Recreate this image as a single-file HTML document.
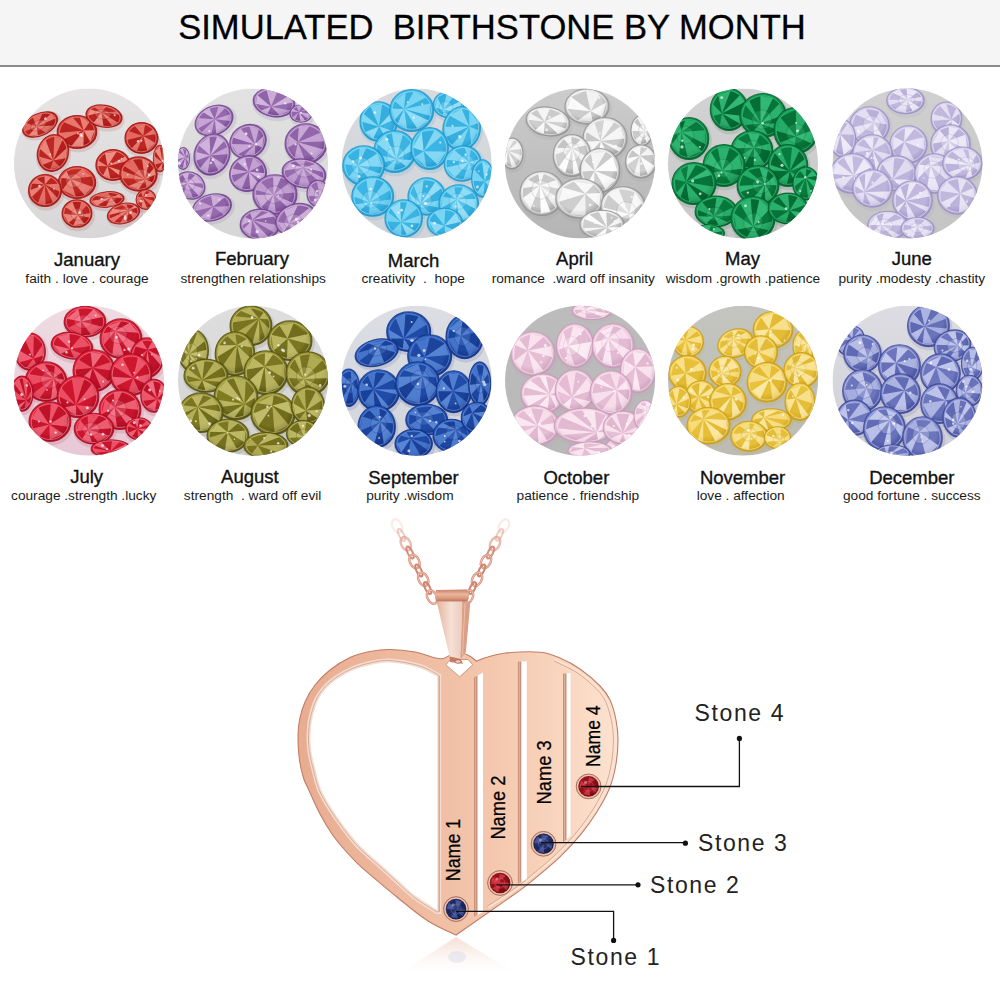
<!DOCTYPE html>
<html><head><meta charset="utf-8"><style>
html,body{margin:0;padding:0;background:#fff;width:1000px;height:1000px;overflow:hidden}
svg{display:block}
text{font-family:"Liberation Sans",sans-serif}
.m{font-size:18.5px;fill:#111;text-anchor:middle;stroke:#111;stroke-width:0.35px}
.s{font-size:13.7px;fill:#1a1a1a;text-anchor:middle}
.t{font-size:34.6px;fill:#000;text-anchor:middle;stroke:#000;stroke-width:0.3px}
.st{font-size:23px;fill:#222;letter-spacing:1.6px}
</style></head><body>
<svg width="1000" height="1000" viewBox="0 0 1000 1000">
<rect x="0" y="0" width="1000" height="65" fill="#f5f5f5"/>
<rect x="0" y="65" width="1000" height="2" fill="#8a8a8a"/>
<text x="492" y="38.5" class="t" xml:space="preserve">SIMULATED  BIRTHSTONE BY MONTH</text>
<g transform="translate(14 88.5)"><defs><clipPath id="c_jan"><circle cx="75" cy="75" r="75"/></clipPath><linearGradient id="bg_jan" x1="0" y1="0" x2="0" y2="1"><stop offset="0" stop-color="#e6e4e4"/><stop offset="1" stop-color="#d8d6d6"/></linearGradient><radialGradient id="g_jan" cx="0.45" cy="0.4" r="0.65"><stop offset="0" stop-color="#d63a32"/><stop offset="0.6" stop-color="#d63a32"/><stop offset="1" stop-color="#9c1010"/></radialGradient></defs><g clip-path="url(#c_jan)"><rect width="150" height="150" fill="url(#bg_jan)"/><g transform="translate(26 36) rotate(-25)"><ellipse cx="1" cy="2" rx="20.7" ry="13.0" fill="#9c1010" opacity="0.12"/><ellipse rx="18.7" ry="11.0" fill="url(#g_jan)" stroke="#9c1010" stroke-width="1.1" stroke-opacity="0.8"/><path d="M-3.9 0.4L14.5 -5.1L16.7 1.2Z" fill="#f6b4aa" fill-opacity="0.52"/><path d="M-3.9 0.4L16.7 1.2L12.2 6.8Z" fill="#9c1010" fill-opacity="0.61"/><path d="M-3.9 0.4L12.2 6.8L1.5 9.9Z" fill="#f6b4aa" fill-opacity="0.46"/><path d="M-3.9 0.4L1.5 9.9L-6.6 9.1Z" fill="#9c1010" fill-opacity="0.40"/><path d="M-3.9 0.4L-6.6 9.1L-14.7 4.9Z" fill="#f6b4aa" fill-opacity="0.69"/><path d="M-3.9 0.4L-14.7 4.9L-16.8 -0.1Z" fill="#9c1010" fill-opacity="0.47"/><path d="M-3.9 0.4L-16.8 -0.1L-11.8 -7.1Z" fill="#f6b4aa" fill-opacity="0.39"/><path d="M-3.9 0.4L-11.8 -7.1L-3.4 -9.7Z" fill="#9c1010" fill-opacity="0.58"/><path d="M-3.9 0.4L-3.4 -9.7L7.0 -9.0Z" fill="#f6b4aa" fill-opacity="0.44"/><path d="M-3.9 0.4L7.0 -9.0L14.5 -5.1Z" fill="#9c1010" fill-opacity="0.64"/><path d="M5.3 -2.3L6.2 1.5L2.3 4.5L-4.1 5.0L-9.2 2.7L-10.1 -1.1L-6.2 -4.1L0.2 -4.6Z" fill="#f6b4aa" fill-opacity="0.28" stroke="#9c1010" stroke-opacity="0.3" stroke-width="0.8"/><ellipse rx="16.8" ry="9.9" fill="none" stroke="#f6b4aa" stroke-width="1" stroke-opacity="0.5"/><circle cx="7.3" cy="-3.0" r="1.3" fill="#fff" opacity="0.7"/></g><g transform="translate(63 43.5) rotate(0)"><ellipse cx="1" cy="2" rx="21.8" ry="18.5" fill="#9c1010" opacity="0.12"/><ellipse rx="19.8" ry="16.5" fill="url(#g_jan)" stroke="#9c1010" stroke-width="1.1" stroke-opacity="0.8"/><path d="M6.7 -1.5L-15.0 8.0L-17.8 0.7Z" fill="#f6b4aa" fill-opacity="0.48"/><path d="M6.7 -1.5L-17.8 0.7L-13.3 -9.9Z" fill="#9c1010" fill-opacity="0.50"/><path d="M6.7 -1.5L-13.3 -9.9L-4.1 -14.5Z" fill="#f6b4aa" fill-opacity="0.51"/><path d="M6.7 -1.5L-4.1 -14.5L2.9 -14.7Z" fill="#9c1010" fill-opacity="0.46"/><path d="M6.7 -1.5L2.9 -14.7L12.8 -10.3Z" fill="#f6b4aa" fill-opacity="0.58"/><path d="M6.7 -1.5L12.8 -10.3L17.7 -1.7Z" fill="#9c1010" fill-opacity="0.53"/><path d="M6.7 -1.5L17.7 -1.7L13.2 10.0Z" fill="#f6b4aa" fill-opacity="0.68"/><path d="M6.7 -1.5L13.2 10.0L6.4 13.9Z" fill="#9c1010" fill-opacity="0.55"/><path d="M6.7 -1.5L6.4 13.9L-5.6 14.1Z" fill="#f6b4aa" fill-opacity="0.69"/><path d="M6.7 -1.5L-5.6 14.1L-15.0 8.0Z" fill="#9c1010" fill-opacity="0.61"/><ellipse rx="17.8" ry="14.8" fill="none" stroke="#f6b4aa" stroke-width="1" stroke-opacity="0.5"/><circle cx="4.6" cy="3.9" r="1.1" fill="#fff" opacity="0.7"/><circle cx="1.0" cy="1.4" r="0.9" fill="#fff" opacity="0.7"/><circle cx="3.7" cy="2.6" r="1.6" fill="#fff" opacity="0.7"/></g><g transform="translate(90 27.7) rotate(10)"><ellipse cx="1" cy="2" rx="20.2" ry="13.0" fill="#9c1010" opacity="0.12"/><ellipse rx="18.2" ry="11.0" fill="url(#g_jan)" stroke="#9c1010" stroke-width="1.1" stroke-opacity="0.8"/><path d="M-3.4 -3.3L11.7 -6.9L15.0 -4.0Z" fill="#f6b4aa" fill-opacity="0.40"/><path d="M-3.4 -3.3L15.0 -4.0L14.9 4.1Z" fill="#9c1010" fill-opacity="0.57"/><path d="M-3.4 -3.3L14.9 4.1L9.6 8.0Z" fill="#f6b4aa" fill-opacity="0.49"/><path d="M-3.4 -3.3L9.6 8.0L1.3 9.9Z" fill="#9c1010" fill-opacity="0.61"/><path d="M-3.4 -3.3L1.3 9.9L-9.1 8.2Z" fill="#f6b4aa" fill-opacity="0.71"/><path d="M-3.4 -3.3L-9.1 8.2L-16.0 2.1Z" fill="#9c1010" fill-opacity="0.50"/><path d="M-3.4 -3.3L-16.0 2.1L-14.7 -4.3Z" fill="#f6b4aa" fill-opacity="0.71"/><path d="M-3.4 -3.3L-14.7 -4.3L-11.0 -7.3Z" fill="#9c1010" fill-opacity="0.44"/><path d="M-3.4 -3.3L-11.0 -7.3L1.0 -9.9Z" fill="#f6b4aa" fill-opacity="0.41"/><path d="M-3.4 -3.3L1.0 -9.9L11.7 -6.9Z" fill="#9c1010" fill-opacity="0.53"/><path d="M3.3 -5.6L6.4 -2.3L4.8 1.4L-0.6 3.3L-6.7 2.3L-9.8 -1.0L-8.2 -4.7L-2.8 -6.6Z" fill="#f6b4aa" fill-opacity="0.28" stroke="#9c1010" stroke-opacity="0.3" stroke-width="0.8"/><ellipse rx="16.3" ry="9.9" fill="none" stroke="#f6b4aa" stroke-width="1" stroke-opacity="0.5"/><circle cx="10.3" cy="-2.8" r="1.0" fill="#fff" opacity="0.7"/></g><g transform="translate(39 64.5) rotate(15)"><ellipse cx="1" cy="2" rx="17.4" ry="20.7" fill="#9c1010" opacity="0.12"/><ellipse rx="15.4" ry="18.7" fill="url(#g_jan)" stroke="#9c1010" stroke-width="1.1" stroke-opacity="0.8"/><path d="M2.3 7.2L-7.1 14.4L-12.6 6.9Z" fill="#f6b4aa" fill-opacity="0.55"/><path d="M2.3 7.2L-12.6 6.9L-13.8 -0.8Z" fill="#9c1010" fill-opacity="0.48"/><path d="M2.3 7.2L-13.8 -0.8L-10.6 -10.9Z" fill="#f6b4aa" fill-opacity="0.62"/><path d="M2.3 7.2L-10.6 -10.9L-3.0 -16.4Z" fill="#9c1010" fill-opacity="0.42"/><path d="M2.3 7.2L-3.0 -16.4L6.0 -15.2Z" fill="#f6b4aa" fill-opacity="0.48"/><path d="M2.3 7.2L6.0 -15.2L12.1 -8.3Z" fill="#9c1010" fill-opacity="0.64"/><path d="M2.3 7.2L12.1 -8.3L13.8 1.8Z" fill="#f6b4aa" fill-opacity="0.56"/><path d="M2.3 7.2L13.8 1.8L10.1 11.5Z" fill="#9c1010" fill-opacity="0.51"/><path d="M2.3 7.2L10.1 11.5L1.3 16.8Z" fill="#f6b4aa" fill-opacity="0.39"/><path d="M2.3 7.2L1.3 16.8L-7.1 14.4Z" fill="#9c1010" fill-opacity="0.47"/><ellipse rx="13.9" ry="16.8" fill="none" stroke="#f6b4aa" stroke-width="1" stroke-opacity="0.5"/><circle cx="-2.3" cy="2.0" r="0.9" fill="#fff" opacity="0.7"/></g><g transform="translate(127.5 49.5) rotate(0)"><ellipse cx="1" cy="2" rx="18.5" ry="17.4" fill="#9c1010" opacity="0.12"/><ellipse rx="16.5" ry="15.4" fill="url(#g_jan)" stroke="#9c1010" stroke-width="1.1" stroke-opacity="0.8"/><path d="M1.8 -2.1L-7.0 -12.2L3.6 -13.4Z" fill="#f6b4aa" fill-opacity="0.49"/><path d="M1.8 -2.1L3.6 -13.4L11.5 -8.8Z" fill="#9c1010" fill-opacity="0.46"/><path d="M1.8 -2.1L11.5 -8.8L14.3 -3.7Z" fill="#f6b4aa" fill-opacity="0.49"/><path d="M1.8 -2.1L14.3 -3.7L13.9 5.0Z" fill="#9c1010" fill-opacity="0.46"/><path d="M1.8 -2.1L13.9 5.0L5.7 12.8Z" fill="#f6b4aa" fill-opacity="0.58"/><path d="M1.8 -2.1L5.7 12.8L-4.7 13.1Z" fill="#9c1010" fill-opacity="0.44"/><path d="M1.8 -2.1L-4.7 13.1L-10.0 10.3Z" fill="#f6b4aa" fill-opacity="0.51"/><path d="M1.8 -2.1L-10.0 10.3L-14.7 2.0Z" fill="#9c1010" fill-opacity="0.58"/><path d="M1.8 -2.1L-14.7 2.0L-12.8 -7.0Z" fill="#f6b4aa" fill-opacity="0.39"/><path d="M1.8 -2.1L-12.8 -7.0L-7.0 -12.2Z" fill="#9c1010" fill-opacity="0.52"/><ellipse rx="14.8" ry="13.9" fill="none" stroke="#f6b4aa" stroke-width="1" stroke-opacity="0.5"/><circle cx="0.0" cy="2.8" r="1.0" fill="#fff" opacity="0.7"/><circle cx="-3.4" cy="3.3" r="1.3" fill="#fff" opacity="0.7"/></g><g transform="translate(99 76.5) rotate(0)"><ellipse cx="1" cy="2" rx="19.1" ry="17.4" fill="#9c1010" opacity="0.12"/><ellipse rx="17.1" ry="15.4" fill="url(#g_jan)" stroke="#9c1010" stroke-width="1.1" stroke-opacity="0.8"/><path d="M-5.5 1.2L-8.1 -11.8L3.8 -13.4Z" fill="#f6b4aa" fill-opacity="0.70"/><path d="M-5.5 1.2L3.8 -13.4L12.2 -8.4Z" fill="#9c1010" fill-opacity="0.44"/><path d="M-5.5 1.2L12.2 -8.4L14.7 -3.9Z" fill="#f6b4aa" fill-opacity="0.66"/><path d="M-5.5 1.2L14.7 -3.9L13.1 7.2Z" fill="#9c1010" fill-opacity="0.52"/><path d="M-5.5 1.2L13.1 7.2L8.1 11.8Z" fill="#f6b4aa" fill-opacity="0.67"/><path d="M-5.5 1.2L8.1 11.8L-2.7 13.6Z" fill="#9c1010" fill-opacity="0.45"/><path d="M-5.5 1.2L-2.7 13.6L-10.1 10.5Z" fill="#f6b4aa" fill-opacity="0.66"/><path d="M-5.5 1.2L-10.1 10.5L-15.3 1.0Z" fill="#9c1010" fill-opacity="0.38"/><path d="M-5.5 1.2L-15.3 1.0L-14.5 -4.5Z" fill="#f6b4aa" fill-opacity="0.59"/><path d="M-5.5 1.2L-14.5 -4.5L-8.1 -11.8Z" fill="#9c1010" fill-opacity="0.53"/><ellipse rx="15.3" ry="13.9" fill="none" stroke="#f6b4aa" stroke-width="1" stroke-opacity="0.5"/><circle cx="6.0" cy="-4.2" r="1.1" fill="#fff" opacity="0.7"/><circle cx="-1.7" cy="-1.5" r="1.1" fill="#fff" opacity="0.7"/><circle cx="8.6" cy="-6.4" r="0.8" fill="#fff" opacity="0.7"/></g><g transform="translate(124.5 85.5) rotate(0)"><ellipse cx="1" cy="2" rx="20.7" ry="19.1" fill="#9c1010" opacity="0.12"/><ellipse rx="18.7" ry="17.1" fill="url(#g_jan)" stroke="#9c1010" stroke-width="1.1" stroke-opacity="0.8"/><path d="M6.6 5.2L-16.2 4.2L-16.4 -3.6Z" fill="#f6b4aa" fill-opacity="0.48"/><path d="M6.6 5.2L-16.4 -3.6L-14.3 -8.0Z" fill="#9c1010" fill-opacity="0.59"/><path d="M6.6 5.2L-14.3 -8.0L-5.6 -14.5Z" fill="#f6b4aa" fill-opacity="0.40"/><path d="M6.6 5.2L-5.6 -14.5L3.5 -15.0Z" fill="#9c1010" fill-opacity="0.62"/><path d="M6.6 5.2L3.5 -15.0L10.6 -11.9Z" fill="#f6b4aa" fill-opacity="0.61"/><path d="M6.6 5.2L10.6 -11.9L15.5 -6.1Z" fill="#9c1010" fill-opacity="0.63"/><path d="M6.6 5.2L15.5 -6.1L16.8 0.7Z" fill="#f6b4aa" fill-opacity="0.68"/><path d="M6.6 5.2L16.8 0.7L14.0 8.5Z" fill="#9c1010" fill-opacity="0.62"/><path d="M6.6 5.2L14.0 8.5L8.0 13.5Z" fill="#f6b4aa" fill-opacity="0.58"/><path d="M6.6 5.2L8.0 13.5L0.3 15.3Z" fill="#9c1010" fill-opacity="0.35"/><path d="M6.6 5.2L0.3 15.3L-10.3 12.1Z" fill="#f6b4aa" fill-opacity="0.63"/><path d="M6.6 5.2L-10.3 12.1L-16.2 4.2Z" fill="#9c1010" fill-opacity="0.40"/><path d="M-4.4 5.7L-4.5 -0.2L-0.1 -4.4L6.4 -4.6L11.0 -0.5L11.2 5.4L6.7 9.6L0.2 9.7Z" fill="#f6b4aa" fill-opacity="0.28" stroke="#9c1010" stroke-opacity="0.3" stroke-width="0.8"/><ellipse rx="16.8" ry="15.3" fill="none" stroke="#f6b4aa" stroke-width="1" stroke-opacity="0.5"/><circle cx="-10.8" cy="0.8" r="0.8" fill="#fff" opacity="0.7"/><circle cx="9.3" cy="-7.9" r="0.9" fill="#fff" opacity="0.7"/><circle cx="10.6" cy="0.8" r="1.4" fill="#fff" opacity="0.7"/></g><g transform="translate(63 94) rotate(0)"><ellipse cx="1" cy="2" rx="20.7" ry="18.0" fill="#9c1010" opacity="0.12"/><ellipse rx="18.7" ry="16.0" fill="url(#g_jan)" stroke="#9c1010" stroke-width="1.1" stroke-opacity="0.8"/><path d="M-6.6 -3.6L-16.0 -4.4L-10.4 -11.3Z" fill="#f6b4aa" fill-opacity="0.67"/><path d="M-6.6 -3.6L-10.4 -11.3L5.1 -13.7Z" fill="#9c1010" fill-opacity="0.36"/><path d="M-6.6 -3.6L5.1 -13.7L15.2 -6.1Z" fill="#f6b4aa" fill-opacity="0.47"/><path d="M-6.6 -3.6L15.2 -6.1L16.0 4.4Z" fill="#9c1010" fill-opacity="0.43"/><path d="M-6.6 -3.6L16.0 4.4L7.6 12.8Z" fill="#f6b4aa" fill-opacity="0.56"/><path d="M-6.6 -3.6L7.6 12.8L-1.2 14.3Z" fill="#9c1010" fill-opacity="0.48"/><path d="M-6.6 -3.6L-1.2 14.3L-14.5 7.2Z" fill="#f6b4aa" fill-opacity="0.54"/><path d="M-6.6 -3.6L-14.5 7.2L-16.0 -4.4Z" fill="#9c1010" fill-opacity="0.58"/><path d="M-11.5 -3.3L-7.8 -7.8L-1.5 -8.8L3.8 -5.6L4.9 -0.2L1.2 4.3L-5.1 5.2L-10.4 2.1Z" fill="#f6b4aa" fill-opacity="0.28" stroke="#9c1010" stroke-opacity="0.3" stroke-width="0.8"/><ellipse rx="16.8" ry="14.4" fill="none" stroke="#f6b4aa" stroke-width="1" stroke-opacity="0.5"/><circle cx="6.2" cy="-8.7" r="0.8" fill="#fff" opacity="0.7"/></g><g transform="translate(31 102) rotate(0)"><ellipse cx="1" cy="2" rx="18.5" ry="18.0" fill="#9c1010" opacity="0.12"/><ellipse rx="16.5" ry="16.0" fill="url(#g_jan)" stroke="#9c1010" stroke-width="1.1" stroke-opacity="0.8"/><path d="M-0.2 -6.0L12.7 7.4L7.9 12.2Z" fill="#f6b4aa" fill-opacity="0.51"/><path d="M-0.2 -6.0L7.9 12.2L0.6 14.3Z" fill="#9c1010" fill-opacity="0.37"/><path d="M-0.2 -6.0L0.6 14.3L-7.1 12.6Z" fill="#f6b4aa" fill-opacity="0.44"/><path d="M-0.2 -6.0L-7.1 12.6L-13.3 6.4Z" fill="#9c1010" fill-opacity="0.46"/><path d="M-0.2 -6.0L-13.3 6.4L-14.8 -0.6Z" fill="#f6b4aa" fill-opacity="0.58"/><path d="M-0.2 -6.0L-14.8 -0.6L-13.0 -6.9Z" fill="#9c1010" fill-opacity="0.58"/><path d="M-0.2 -6.0L-13.0 -6.9L-8.4 -11.9Z" fill="#f6b4aa" fill-opacity="0.51"/><path d="M-0.2 -6.0L-8.4 -11.9L-0.5 -14.3Z" fill="#9c1010" fill-opacity="0.59"/><path d="M-0.2 -6.0L-0.5 -14.3L6.2 -13.1Z" fill="#f6b4aa" fill-opacity="0.59"/><path d="M-0.2 -6.0L6.2 -13.1L13.1 -6.7Z" fill="#9c1010" fill-opacity="0.48"/><path d="M-0.2 -6.0L13.1 -6.7L14.8 1.2Z" fill="#f6b4aa" fill-opacity="0.51"/><path d="M-0.2 -6.0L14.8 1.2L12.7 7.4Z" fill="#9c1010" fill-opacity="0.50"/><ellipse rx="14.8" ry="14.4" fill="none" stroke="#f6b4aa" stroke-width="1" stroke-opacity="0.5"/><circle cx="8.9" cy="-1.6" r="0.8" fill="#fff" opacity="0.7"/><circle cx="-5.6" cy="-4.4" r="1.3" fill="#fff" opacity="0.7"/></g><g transform="translate(93 111) rotate(-5)"><ellipse cx="1" cy="2" rx="19.1" ry="9.7" fill="#9c1010" opacity="0.12"/><ellipse rx="17.1" ry="7.7" fill="url(#g_jan)" stroke="#9c1010" stroke-width="1.1" stroke-opacity="0.8"/><path d="M4.1 -1.7L12.4 -4.1L15.3 -0.1Z" fill="#f6b4aa" fill-opacity="0.60"/><path d="M4.1 -1.7L15.3 -0.1L9.1 5.6Z" fill="#9c1010" fill-opacity="0.62"/><path d="M4.1 -1.7L9.1 5.6L-1.8 6.9Z" fill="#f6b4aa" fill-opacity="0.65"/><path d="M4.1 -1.7L-1.8 6.9L-10.4 5.1Z" fill="#9c1010" fill-opacity="0.55"/><path d="M4.1 -1.7L-10.4 5.1L-15.3 -0.1Z" fill="#f6b4aa" fill-opacity="0.63"/><path d="M4.1 -1.7L-15.3 -0.1L-11.7 -4.5Z" fill="#9c1010" fill-opacity="0.52"/><path d="M4.1 -1.7L-11.7 -4.5L1.9 -6.9Z" fill="#f6b4aa" fill-opacity="0.42"/><path d="M4.1 -1.7L1.9 -6.9L12.4 -4.1Z" fill="#9c1010" fill-opacity="0.53"/><path d="M7.6 -3.2L9.7 -0.7L7.3 1.7L1.8 2.6L-3.5 1.5L-5.6 -1.0L-3.2 -3.4L2.3 -4.3Z" fill="#f6b4aa" fill-opacity="0.28" stroke="#9c1010" stroke-opacity="0.3" stroke-width="0.8"/><ellipse rx="15.3" ry="6.9" fill="none" stroke="#f6b4aa" stroke-width="1" stroke-opacity="0.5"/><circle cx="-5.4" cy="-1.0" r="1.2" fill="#fff" opacity="0.7"/></g><g transform="translate(63 125) rotate(0)"><ellipse cx="1" cy="2" rx="16.9" ry="15.8" fill="#9c1010" opacity="0.12"/><ellipse rx="14.9" ry="13.8" fill="url(#g_jan)" stroke="#9c1010" stroke-width="1.1" stroke-opacity="0.8"/><path d="M0.8 1.8L7.4 10.3L-3.8 11.9Z" fill="#f6b4aa" fill-opacity="0.64"/><path d="M0.8 1.8L-3.8 11.9L-8.6 9.5Z" fill="#9c1010" fill-opacity="0.50"/><path d="M0.8 1.8L-8.6 9.5L-13.4 0.3Z" fill="#f6b4aa" fill-opacity="0.62"/><path d="M0.8 1.8L-13.4 0.3L-11.4 -6.5Z" fill="#9c1010" fill-opacity="0.38"/><path d="M0.8 1.8L-11.4 -6.5L-4.5 -11.6Z" fill="#f6b4aa" fill-opacity="0.63"/><path d="M0.8 1.8L-4.5 -11.6L4.2 -11.8Z" fill="#9c1010" fill-opacity="0.63"/><path d="M0.8 1.8L4.2 -11.8L9.9 -8.3Z" fill="#f6b4aa" fill-opacity="0.41"/><path d="M0.8 1.8L9.9 -8.3L13.4 -0.5Z" fill="#9c1010" fill-opacity="0.45"/><path d="M0.8 1.8L13.4 -0.5L12.5 4.3Z" fill="#f6b4aa" fill-opacity="0.57"/><path d="M0.8 1.8L12.5 4.3L7.4 10.3Z" fill="#9c1010" fill-opacity="0.60"/><path d="M3.3 6.5L-1.8 6.7L-5.6 3.5L-5.9 -1.2L-2.5 -4.7L2.6 -5.0L6.4 -1.8L6.7 2.9Z" fill="#f6b4aa" fill-opacity="0.28" stroke="#9c1010" stroke-opacity="0.3" stroke-width="0.8"/><ellipse rx="13.4" ry="12.4" fill="none" stroke="#f6b4aa" stroke-width="1" stroke-opacity="0.5"/><circle cx="2.6" cy="-0.8" r="1.4" fill="#fff" opacity="0.7"/></g><g transform="translate(109.5 125) rotate(-15)"><ellipse cx="1" cy="2" rx="18.5" ry="11.9" fill="#9c1010" opacity="0.12"/><ellipse rx="16.5" ry="9.9" fill="url(#g_jan)" stroke="#9c1010" stroke-width="1.1" stroke-opacity="0.8"/><path d="M5.8 -2.0L-11.4 5.7L-14.7 1.3Z" fill="#f6b4aa" fill-opacity="0.54"/><path d="M5.8 -2.0L-14.7 1.3L-14.3 -2.4Z" fill="#9c1010" fill-opacity="0.54"/><path d="M5.8 -2.0L-14.3 -2.4L-9.0 -7.1Z" fill="#f6b4aa" fill-opacity="0.68"/><path d="M5.8 -2.0L-9.0 -7.1L0.2 -8.9Z" fill="#9c1010" fill-opacity="0.39"/><path d="M5.8 -2.0L0.2 -8.9L5.4 -8.3Z" fill="#f6b4aa" fill-opacity="0.42"/><path d="M5.8 -2.0L5.4 -8.3L12.5 -4.8Z" fill="#9c1010" fill-opacity="0.57"/><path d="M5.8 -2.0L12.5 -4.8L14.5 -2.0Z" fill="#f6b4aa" fill-opacity="0.69"/><path d="M5.8 -2.0L14.5 -2.0L13.3 3.9Z" fill="#9c1010" fill-opacity="0.51"/><path d="M5.8 -2.0L13.3 3.9L8.0 7.5Z" fill="#f6b4aa" fill-opacity="0.53"/><path d="M5.8 -2.0L8.0 7.5L1.1 8.9Z" fill="#9c1010" fill-opacity="0.57"/><path d="M5.8 -2.0L1.1 8.9L-5.8 8.2Z" fill="#f6b4aa" fill-opacity="0.45"/><path d="M5.8 -2.0L-5.8 8.2L-11.4 5.7Z" fill="#9c1010" fill-opacity="0.43"/><path d="M-3.0 1.7L-4.4 -1.6L-1.6 -4.5L3.9 -5.4L8.8 -3.7L10.3 -0.4L7.4 2.6L1.9 3.4Z" fill="#f6b4aa" fill-opacity="0.28" stroke="#9c1010" stroke-opacity="0.3" stroke-width="0.8"/><ellipse rx="14.8" ry="8.9" fill="none" stroke="#f6b4aa" stroke-width="1" stroke-opacity="0.5"/><circle cx="0.3" cy="5.2" r="1.5" fill="#fff" opacity="0.7"/><circle cx="0.8" cy="3.3" r="1.3" fill="#fff" opacity="0.7"/><circle cx="7.0" cy="1.1" r="1.3" fill="#fff" opacity="0.7"/></g><g transform="translate(146 70) rotate(0)"><ellipse cx="1" cy="2" rx="8.6" ry="15.2" fill="#9c1010" opacity="0.12"/><ellipse rx="6.6" ry="13.2" fill="url(#g_jan)" stroke="#9c1010" stroke-width="1.1" stroke-opacity="0.8"/><path d="M2.6 4.1L5.9 1.6L4.4 8.0Z" fill="#f6b4aa" fill-opacity="0.54"/><path d="M2.6 4.1L4.4 8.0L1.6 11.5Z" fill="#9c1010" fill-opacity="0.60"/><path d="M2.6 4.1L1.6 11.5L-2.4 10.9Z" fill="#f6b4aa" fill-opacity="0.66"/><path d="M2.6 4.1L-2.4 10.9L-5.1 6.1Z" fill="#9c1010" fill-opacity="0.52"/><path d="M2.6 4.1L-5.1 6.1L-5.8 -2.7Z" fill="#f6b4aa" fill-opacity="0.54"/><path d="M2.6 4.1L-5.8 -2.7L-4.7 -7.3Z" fill="#9c1010" fill-opacity="0.57"/><path d="M2.6 4.1L-4.7 -7.3L-0.1 -11.9Z" fill="#f6b4aa" fill-opacity="0.67"/><path d="M2.6 4.1L-0.1 -11.9L2.6 -10.7Z" fill="#9c1010" fill-opacity="0.47"/><path d="M2.6 4.1L2.6 -10.7L5.3 -5.2Z" fill="#f6b4aa" fill-opacity="0.63"/><path d="M2.6 4.1L5.3 -5.2L5.9 1.6Z" fill="#9c1010" fill-opacity="0.64"/><ellipse rx="5.9" ry="11.9" fill="none" stroke="#f6b4aa" stroke-width="1" stroke-opacity="0.5"/><circle cx="3.1" cy="2.3" r="1.4" fill="#fff" opacity="0.7"/></g><g transform="translate(132 111) rotate(0)"><ellipse cx="1" cy="2" rx="11.9" ry="11.9" fill="#9c1010" opacity="0.12"/><ellipse rx="9.9" ry="9.9" fill="url(#g_jan)" stroke="#9c1010" stroke-width="1.1" stroke-opacity="0.8"/><path d="M-3.4 -2.2L1.3 8.8L-4.3 7.8Z" fill="#f6b4aa" fill-opacity="0.63"/><path d="M-3.4 -2.2L-4.3 7.8L-8.0 3.9Z" fill="#9c1010" fill-opacity="0.38"/><path d="M-3.4 -2.2L-8.0 3.9L-8.4 -2.9Z" fill="#f6b4aa" fill-opacity="0.42"/><path d="M-3.4 -2.2L-8.4 -2.9L-4.8 -7.5Z" fill="#9c1010" fill-opacity="0.60"/><path d="M-3.4 -2.2L-4.8 -7.5L0.6 -8.9Z" fill="#f6b4aa" fill-opacity="0.48"/><path d="M-3.4 -2.2L0.6 -8.9L4.3 -7.8Z" fill="#9c1010" fill-opacity="0.46"/><path d="M-3.4 -2.2L4.3 -7.8L8.6 -2.2Z" fill="#f6b4aa" fill-opacity="0.58"/><path d="M-3.4 -2.2L8.6 -2.2L8.7 1.8Z" fill="#9c1010" fill-opacity="0.55"/><path d="M-3.4 -2.2L8.7 1.8L5.7 6.8Z" fill="#f6b4aa" fill-opacity="0.39"/><path d="M-3.4 -2.2L5.7 6.8L1.3 8.8Z" fill="#9c1010" fill-opacity="0.45"/><ellipse rx="8.9" ry="8.9" fill="none" stroke="#f6b4aa" stroke-width="1" stroke-opacity="0.5"/><circle cx="-5.0" cy="1.7" r="1.4" fill="#fff" opacity="0.7"/><circle cx="-0.1" cy="-4.4" r="1.1" fill="#fff" opacity="0.7"/></g></g></g><g transform="translate(178 88.5)"><defs><clipPath id="c_feb"><circle cx="75" cy="75" r="75"/></clipPath><linearGradient id="bg_feb" x1="0" y1="0" x2="0" y2="1"><stop offset="0" stop-color="#e2e2e2"/><stop offset="1" stop-color="#d6d6d6"/></linearGradient><radialGradient id="g_feb" cx="0.45" cy="0.4" r="0.65"><stop offset="0" stop-color="#a87cbc"/><stop offset="0.6" stop-color="#a87cbc"/><stop offset="1" stop-color="#6a3e8a"/></radialGradient></defs><g clip-path="url(#c_feb)"><rect width="150" height="150" fill="url(#bg_feb)"/><g transform="translate(36 32) rotate(-25)"><ellipse cx="1" cy="2" rx="21.8" ry="16.3" fill="#6a3e8a" opacity="0.12"/><ellipse rx="19.8" ry="14.3" fill="url(#g_feb)" stroke="#6a3e8a" stroke-width="1.1" stroke-opacity="0.8"/><path d="M1.1 -0.8L17.8 1.1L14.6 7.4Z" fill="#ead6f0" fill-opacity="0.46"/><path d="M1.1 -0.8L14.6 7.4L8.5 11.3Z" fill="#6a3e8a" fill-opacity="0.33"/><path d="M1.1 -0.8L8.5 11.3L-3.3 12.6Z" fill="#ead6f0" fill-opacity="0.60"/><path d="M1.1 -0.8L-3.3 12.6L-8.2 11.4Z" fill="#6a3e8a" fill-opacity="0.30"/><path d="M1.1 -0.8L-8.2 11.4L-16.2 5.4Z" fill="#ead6f0" fill-opacity="0.40"/><path d="M1.1 -0.8L-16.2 5.4L-17.8 0.4Z" fill="#6a3e8a" fill-opacity="0.31"/><path d="M1.1 -0.8L-17.8 0.4L-13.0 -8.8Z" fill="#ead6f0" fill-opacity="0.46"/><path d="M1.1 -0.8L-13.0 -8.8L-6.2 -12.1Z" fill="#6a3e8a" fill-opacity="0.34"/><path d="M1.1 -0.8L-6.2 -12.1L0.9 -12.9Z" fill="#ead6f0" fill-opacity="0.61"/><path d="M1.1 -0.8L0.9 -12.9L10.0 -10.7Z" fill="#6a3e8a" fill-opacity="0.30"/><path d="M1.1 -0.8L10.0 -10.7L15.3 -6.6Z" fill="#ead6f0" fill-opacity="0.48"/><path d="M1.1 -0.8L15.3 -6.6L17.8 1.1Z" fill="#6a3e8a" fill-opacity="0.32"/><ellipse rx="17.8" ry="12.9" fill="none" stroke="#ead6f0" stroke-width="1" stroke-opacity="0.5"/><circle cx="-8.7" cy="7.6" r="1.0" fill="#fff" opacity="0.7"/></g><g transform="translate(96 14) rotate(10)"><ellipse cx="1" cy="2" rx="22.9" ry="16.3" fill="#6a3e8a" opacity="0.12"/><ellipse rx="20.9" ry="14.3" fill="url(#g_feb)" stroke="#6a3e8a" stroke-width="1.1" stroke-opacity="0.8"/><path d="M-2.2 4.6L-9.6 -11.1L1.8 -12.8Z" fill="#ead6f0" fill-opacity="0.53"/><path d="M-2.2 4.6L1.8 -12.8L13.2 -9.2Z" fill="#6a3e8a" fill-opacity="0.26"/><path d="M-2.2 4.6L13.2 -9.2L18.2 -3.3Z" fill="#ead6f0" fill-opacity="0.63"/><path d="M-2.2 4.6L18.2 -3.3L17.2 5.2Z" fill="#6a3e8a" fill-opacity="0.26"/><path d="M-2.2 4.6L17.2 5.2L7.7 11.7Z" fill="#ead6f0" fill-opacity="0.47"/><path d="M-2.2 4.6L7.7 11.7L-4.6 12.5Z" fill="#6a3e8a" fill-opacity="0.44"/><path d="M-2.2 4.6L-4.6 12.5L-11.5 10.2Z" fill="#ead6f0" fill-opacity="0.62"/><path d="M-2.2 4.6L-11.5 10.2L-17.7 4.4Z" fill="#6a3e8a" fill-opacity="0.28"/><path d="M-2.2 4.6L-17.7 4.4L-17.6 -4.5Z" fill="#ead6f0" fill-opacity="0.64"/><path d="M-2.2 4.6L-17.6 -4.5L-9.6 -11.1Z" fill="#6a3e8a" fill-opacity="0.41"/><ellipse rx="18.8" ry="12.9" fill="none" stroke="#ead6f0" stroke-width="1" stroke-opacity="0.5"/><circle cx="11.2" cy="-1.1" r="1.1" fill="#fff" opacity="0.7"/></g><g transform="translate(123 25) rotate(0)"><ellipse cx="1" cy="2" rx="13.0" ry="10.8" fill="#6a3e8a" opacity="0.12"/><ellipse rx="11.0" ry="8.8" fill="url(#g_feb)" stroke="#6a3e8a" stroke-width="1.1" stroke-opacity="0.8"/><path d="M-2.2 -1.6L-9.6 -1.9L-8.2 -4.4Z" fill="#ead6f0" fill-opacity="0.62"/><path d="M-2.2 -1.6L-8.2 -4.4L-4.3 -7.1Z" fill="#6a3e8a" fill-opacity="0.30"/><path d="M-2.2 -1.6L-4.3 -7.1L1.8 -7.8Z" fill="#ead6f0" fill-opacity="0.43"/><path d="M-2.2 -1.6L1.8 -7.8L7.1 -5.6Z" fill="#6a3e8a" fill-opacity="0.33"/><path d="M-2.2 -1.6L7.1 -5.6L8.8 -3.7Z" fill="#ead6f0" fill-opacity="0.40"/><path d="M-2.2 -1.6L8.8 -3.7L9.9 0.3Z" fill="#6a3e8a" fill-opacity="0.44"/><path d="M-2.2 -1.6L9.9 0.3L7.3 5.4Z" fill="#ead6f0" fill-opacity="0.50"/><path d="M-2.2 -1.6L7.3 5.4L4.2 7.2Z" fill="#6a3e8a" fill-opacity="0.43"/><path d="M-2.2 -1.6L4.2 7.2L-0.5 7.9Z" fill="#ead6f0" fill-opacity="0.57"/><path d="M-2.2 -1.6L-0.5 7.9L-6.2 6.2Z" fill="#6a3e8a" fill-opacity="0.45"/><path d="M-2.2 -1.6L-6.2 6.2L-8.6 4.0Z" fill="#ead6f0" fill-opacity="0.43"/><path d="M-2.2 -1.6L-8.6 4.0L-9.6 -1.9Z" fill="#6a3e8a" fill-opacity="0.35"/><ellipse rx="9.9" ry="7.9" fill="none" stroke="#ead6f0" stroke-width="1" stroke-opacity="0.5"/><circle cx="-0.1" cy="-0.4" r="1.1" fill="#fff" opacity="0.7"/></g><g transform="translate(34 66) rotate(20)"><ellipse cx="1" cy="2" rx="19.6" ry="22.9" fill="#6a3e8a" opacity="0.12"/><ellipse rx="17.6" ry="20.9" fill="url(#g_feb)" stroke="#6a3e8a" stroke-width="1.1" stroke-opacity="0.8"/><path d="M-1.1 1.4L-12.7 11.3L-15.6 3.1Z" fill="#ead6f0" fill-opacity="0.59"/><path d="M-1.1 1.4L-15.6 3.1L-15.5 -4.1Z" fill="#6a3e8a" fill-opacity="0.27"/><path d="M-1.1 1.4L-15.5 -4.1L-8.4 -15.9Z" fill="#ead6f0" fill-opacity="0.61"/><path d="M-1.1 1.4L-8.4 -15.9L-1.3 -18.7Z" fill="#6a3e8a" fill-opacity="0.41"/><path d="M-1.1 1.4L-1.3 -18.7L6.9 -16.9Z" fill="#ead6f0" fill-opacity="0.63"/><path d="M-1.1 1.4L6.9 -16.9L11.9 -12.4Z" fill="#6a3e8a" fill-opacity="0.32"/><path d="M-1.1 1.4L11.9 -12.4L15.1 -5.8Z" fill="#ead6f0" fill-opacity="0.43"/><path d="M-1.1 1.4L15.1 -5.8L15.1 5.5Z" fill="#6a3e8a" fill-opacity="0.41"/><path d="M-1.1 1.4L15.1 5.5L11.5 13.0Z" fill="#ead6f0" fill-opacity="0.49"/><path d="M-1.1 1.4L11.5 13.0L2.3 18.6Z" fill="#6a3e8a" fill-opacity="0.31"/><path d="M-1.1 1.4L2.3 18.6L-6.8 17.0Z" fill="#ead6f0" fill-opacity="0.51"/><path d="M-1.1 1.4L-6.8 17.0L-12.7 11.3Z" fill="#6a3e8a" fill-opacity="0.35"/><ellipse rx="15.8" ry="18.8" fill="none" stroke="#ead6f0" stroke-width="1" stroke-opacity="0.5"/><circle cx="2.5" cy="4.7" r="1.3" fill="#fff" opacity="0.7"/><circle cx="1.9" cy="8.3" r="1.2" fill="#fff" opacity="0.7"/></g><g transform="translate(70 53) rotate(-30)"><ellipse cx="1" cy="2" rx="20.7" ry="18.5" fill="#6a3e8a" opacity="0.12"/><ellipse rx="18.7" ry="16.5" fill="url(#g_feb)" stroke="#6a3e8a" stroke-width="1.1" stroke-opacity="0.8"/><path d="M4.6 6.1L8.9 -12.6L15.7 -5.4Z" fill="#ead6f0" fill-opacity="0.46"/><path d="M4.6 6.1L15.7 -5.4L16.5 2.9Z" fill="#6a3e8a" fill-opacity="0.33"/><path d="M4.6 6.1L16.5 2.9L9.4 12.3Z" fill="#ead6f0" fill-opacity="0.59"/><path d="M4.6 6.1L9.4 12.3L-0.4 14.8Z" fill="#6a3e8a" fill-opacity="0.45"/><path d="M4.6 6.1L-0.4 14.8L-11.8 10.5Z" fill="#ead6f0" fill-opacity="0.40"/><path d="M4.6 6.1L-11.8 10.5L-15.3 6.1Z" fill="#6a3e8a" fill-opacity="0.37"/><path d="M4.6 6.1L-15.3 6.1L-15.4 -6.0Z" fill="#ead6f0" fill-opacity="0.48"/><path d="M4.6 6.1L-15.4 -6.0L-11.1 -11.1Z" fill="#6a3e8a" fill-opacity="0.45"/><path d="M4.6 6.1L-11.1 -11.1L0.0 -14.8Z" fill="#ead6f0" fill-opacity="0.56"/><path d="M4.6 6.1L0.0 -14.8L8.9 -12.6Z" fill="#6a3e8a" fill-opacity="0.31"/><ellipse rx="16.8" ry="14.8" fill="none" stroke="#ead6f0" stroke-width="1" stroke-opacity="0.5"/><circle cx="5.6" cy="6.5" r="1.4" fill="#fff" opacity="0.7"/><circle cx="-1.2" cy="4.8" r="1.0" fill="#fff" opacity="0.7"/><circle cx="2.2" cy="-7.6" r="1.4" fill="#fff" opacity="0.7"/></g><g transform="translate(128 55) rotate(0)"><ellipse cx="1" cy="2" rx="22.9" ry="21.8" fill="#6a3e8a" opacity="0.12"/><ellipse rx="20.9" ry="19.8" fill="url(#g_feb)" stroke="#6a3e8a" stroke-width="1.1" stroke-opacity="0.8"/><path d="M-8.2 -1.2L14.7 -11.1L18.7 -2.0Z" fill="#ead6f0" fill-opacity="0.43"/><path d="M-8.2 -1.2L18.7 -2.0L17.7 6.0Z" fill="#6a3e8a" fill-opacity="0.39"/><path d="M-8.2 -1.2L17.7 6.0L8.9 15.7Z" fill="#ead6f0" fill-opacity="0.50"/><path d="M-8.2 -1.2L8.9 15.7L-0.6 17.8Z" fill="#6a3e8a" fill-opacity="0.35"/><path d="M-8.2 -1.2L-0.6 17.8L-11.4 14.2Z" fill="#ead6f0" fill-opacity="0.43"/><path d="M-8.2 -1.2L-11.4 14.2L-18.3 4.1Z" fill="#6a3e8a" fill-opacity="0.34"/><path d="M-8.2 -1.2L-18.3 4.1L-16.9 -7.9Z" fill="#ead6f0" fill-opacity="0.45"/><path d="M-8.2 -1.2L-16.9 -7.9L-7.2 -16.5Z" fill="#6a3e8a" fill-opacity="0.40"/><path d="M-8.2 -1.2L-7.2 -16.5L3.6 -17.5Z" fill="#ead6f0" fill-opacity="0.49"/><path d="M-8.2 -1.2L3.6 -17.5L14.7 -11.1Z" fill="#6a3e8a" fill-opacity="0.34"/><ellipse rx="18.8" ry="17.8" fill="none" stroke="#ead6f0" stroke-width="1" stroke-opacity="0.5"/><circle cx="-10.4" cy="0.9" r="1.1" fill="#fff" opacity="0.7"/><circle cx="5.6" cy="9.8" r="0.9" fill="#fff" opacity="0.7"/></g><g transform="translate(70 85) rotate(-30)"><ellipse cx="1" cy="2" rx="20.7" ry="19.6" fill="#6a3e8a" opacity="0.12"/><ellipse rx="18.7" ry="17.6" fill="url(#g_feb)" stroke="#6a3e8a" stroke-width="1.1" stroke-opacity="0.8"/><path d="M1.5 -1.2L14.6 7.8L8.6 13.6Z" fill="#ead6f0" fill-opacity="0.63"/><path d="M1.5 -1.2L8.6 13.6L4.3 15.3Z" fill="#6a3e8a" fill-opacity="0.29"/><path d="M1.5 -1.2L4.3 15.3L-5.9 14.8Z" fill="#ead6f0" fill-opacity="0.57"/><path d="M1.5 -1.2L-5.9 14.8L-13.0 10.1Z" fill="#6a3e8a" fill-opacity="0.44"/><path d="M1.5 -1.2L-13.0 10.1L-16.8 0.6Z" fill="#ead6f0" fill-opacity="0.41"/><path d="M1.5 -1.2L-16.8 0.6L-15.2 -6.8Z" fill="#6a3e8a" fill-opacity="0.37"/><path d="M1.5 -1.2L-15.2 -6.8L-10.9 -12.1Z" fill="#ead6f0" fill-opacity="0.48"/><path d="M1.5 -1.2L-10.9 -12.1L-3.4 -15.5Z" fill="#6a3e8a" fill-opacity="0.45"/><path d="M1.5 -1.2L-3.4 -15.5L5.2 -15.1Z" fill="#ead6f0" fill-opacity="0.61"/><path d="M1.5 -1.2L5.2 -15.1L12.2 -10.9Z" fill="#6a3e8a" fill-opacity="0.25"/><path d="M1.5 -1.2L12.2 -10.9L16.8 -0.4Z" fill="#ead6f0" fill-opacity="0.41"/><path d="M1.5 -1.2L16.8 -0.4L14.6 7.8Z" fill="#6a3e8a" fill-opacity="0.42"/><ellipse rx="16.8" ry="15.8" fill="none" stroke="#ead6f0" stroke-width="1" stroke-opacity="0.5"/><circle cx="9.7" cy="1.4" r="1.4" fill="#fff" opacity="0.7"/><circle cx="7.5" cy="7.8" r="1.3" fill="#fff" opacity="0.7"/><circle cx="1.8" cy="-9.8" r="1.1" fill="#fff" opacity="0.7"/></g><g transform="translate(5 70) rotate(0)"><ellipse cx="1" cy="2" rx="8.6" ry="13.0" fill="#6a3e8a" opacity="0.12"/><ellipse rx="6.6" ry="11.0" fill="url(#g_feb)" stroke="#6a3e8a" stroke-width="1.1" stroke-opacity="0.8"/><path d="M2.3 -1.5L3.3 8.2L-0.4 9.9Z" fill="#ead6f0" fill-opacity="0.61"/><path d="M2.3 -1.5L-0.4 9.9L-3.7 7.8Z" fill="#6a3e8a" fill-opacity="0.39"/><path d="M2.3 -1.5L-3.7 7.8L-5.6 3.3Z" fill="#ead6f0" fill-opacity="0.53"/><path d="M2.3 -1.5L-5.6 3.3L-5.9 1.1Z" fill="#6a3e8a" fill-opacity="0.40"/><path d="M2.3 -1.5L-5.9 1.1L-4.6 -6.2Z" fill="#ead6f0" fill-opacity="0.65"/><path d="M2.3 -1.5L-4.6 -6.2L-2.8 -8.7Z" fill="#6a3e8a" fill-opacity="0.28"/><path d="M2.3 -1.5L-2.8 -8.7L-0.1 -9.9Z" fill="#ead6f0" fill-opacity="0.60"/><path d="M2.3 -1.5L-0.1 -9.9L3.0 -8.6Z" fill="#6a3e8a" fill-opacity="0.42"/><path d="M2.3 -1.5L3.0 -8.6L5.3 -4.5Z" fill="#ead6f0" fill-opacity="0.45"/><path d="M2.3 -1.5L5.3 -4.5L5.9 -0.2Z" fill="#6a3e8a" fill-opacity="0.36"/><path d="M2.3 -1.5L5.9 -0.2L5.4 4.3Z" fill="#ead6f0" fill-opacity="0.49"/><path d="M2.3 -1.5L5.4 4.3L3.3 8.2Z" fill="#6a3e8a" fill-opacity="0.29"/><ellipse rx="5.9" ry="9.9" fill="none" stroke="#ead6f0" stroke-width="1" stroke-opacity="0.5"/><circle cx="-3.6" cy="4.8" r="1.3" fill="#fff" opacity="0.7"/></g><g transform="translate(12 97) rotate(30)"><ellipse cx="1" cy="2" rx="17.4" ry="15.2" fill="#6a3e8a" opacity="0.12"/><ellipse rx="15.4" ry="13.2" fill="url(#g_feb)" stroke="#6a3e8a" stroke-width="1.1" stroke-opacity="0.8"/><path d="M-3.8 -0.8L-12.1 -5.8L-7.1 -10.2Z" fill="#ead6f0" fill-opacity="0.61"/><path d="M-3.8 -0.8L-7.1 -10.2L-0.6 -11.9Z" fill="#6a3e8a" fill-opacity="0.33"/><path d="M-3.8 -0.8L-0.6 -11.9L10.2 -8.1Z" fill="#ead6f0" fill-opacity="0.58"/><path d="M-3.8 -0.8L10.2 -8.1L13.1 -4.0Z" fill="#6a3e8a" fill-opacity="0.26"/><path d="M-3.8 -0.8L13.1 -4.0L12.8 4.6Z" fill="#ead6f0" fill-opacity="0.58"/><path d="M-3.8 -0.8L12.8 4.6L8.8 9.2Z" fill="#6a3e8a" fill-opacity="0.35"/><path d="M-3.8 -0.8L8.8 9.2L-1.1 11.8Z" fill="#ead6f0" fill-opacity="0.40"/><path d="M-3.8 -0.8L-1.1 11.8L-9.8 8.4Z" fill="#6a3e8a" fill-opacity="0.41"/><path d="M-3.8 -0.8L-9.8 8.4L-13.2 3.7Z" fill="#ead6f0" fill-opacity="0.64"/><path d="M-3.8 -0.8L-13.2 3.7L-12.1 -5.8Z" fill="#6a3e8a" fill-opacity="0.44"/><path d="M-8.4 -2.5L-4.7 -5.8L0.6 -5.9L4.4 -2.8L4.5 1.8L0.9 5.1L-4.4 5.2L-8.3 2.0Z" fill="#ead6f0" fill-opacity="0.25" stroke="#6a3e8a" stroke-opacity="0.3" stroke-width="0.8"/><ellipse rx="13.9" ry="11.9" fill="none" stroke="#ead6f0" stroke-width="1" stroke-opacity="0.5"/><circle cx="-6.0" cy="6.0" r="1.3" fill="#fff" opacity="0.7"/></g><g transform="translate(97 106) rotate(0)"><ellipse cx="1" cy="2" rx="24.0" ry="21.8" fill="#6a3e8a" opacity="0.12"/><ellipse rx="22.0" ry="19.8" fill="url(#g_feb)" stroke="#6a3e8a" stroke-width="1.1" stroke-opacity="0.8"/><path d="M-1.4 0.2L-13.8 12.8L-19.8 0.3Z" fill="#ead6f0" fill-opacity="0.53"/><path d="M-1.4 0.2L-19.8 0.3L-19.2 -4.5Z" fill="#6a3e8a" fill-opacity="0.36"/><path d="M-1.4 0.2L-19.2 -4.5L-14.2 -12.5Z" fill="#ead6f0" fill-opacity="0.35"/><path d="M-1.4 0.2L-14.2 -12.5L-1.8 -17.7Z" fill="#6a3e8a" fill-opacity="0.28"/><path d="M-1.4 0.2L-1.8 -17.7L6.1 -17.0Z" fill="#ead6f0" fill-opacity="0.55"/><path d="M-1.4 0.2L6.1 -17.0L14.6 -12.0Z" fill="#6a3e8a" fill-opacity="0.39"/><path d="M-1.4 0.2L14.6 -12.0L19.7 -2.0Z" fill="#ead6f0" fill-opacity="0.38"/><path d="M-1.4 0.2L19.7 -2.0L17.5 8.3Z" fill="#6a3e8a" fill-opacity="0.38"/><path d="M-1.4 0.2L17.5 8.3L13.1 13.3Z" fill="#ead6f0" fill-opacity="0.49"/><path d="M-1.4 0.2L13.1 13.3L0.7 17.8Z" fill="#6a3e8a" fill-opacity="0.37"/><path d="M-1.4 0.2L0.7 17.8L-7.8 16.4Z" fill="#ead6f0" fill-opacity="0.47"/><path d="M-1.4 0.2L-7.8 16.4L-13.8 12.8Z" fill="#6a3e8a" fill-opacity="0.29"/><path d="M-8.4 5.7L-10.5 -0.8L-6.9 -6.8L0.4 -8.8L7.0 -5.5L9.1 1.1L5.5 7.0L-1.8 9.0Z" fill="#ead6f0" fill-opacity="0.25" stroke="#6a3e8a" stroke-opacity="0.3" stroke-width="0.8"/><ellipse rx="19.8" ry="17.8" fill="none" stroke="#ead6f0" stroke-width="1" stroke-opacity="0.5"/><circle cx="3.2" cy="1.4" r="0.8" fill="#fff" opacity="0.7"/></g><g transform="translate(126 85) rotate(10)"><ellipse cx="1" cy="2" rx="24.0" ry="16.3" fill="#6a3e8a" opacity="0.12"/><ellipse rx="22.0" ry="14.3" fill="url(#g_feb)" stroke="#6a3e8a" stroke-width="1.1" stroke-opacity="0.8"/><path d="M-1.8 -5.4L9.5 -11.3L18.4 -4.7Z" fill="#ead6f0" fill-opacity="0.53"/><path d="M-1.8 -5.4L18.4 -4.7L19.7 1.2Z" fill="#6a3e8a" fill-opacity="0.37"/><path d="M-1.8 -5.4L19.7 1.2L17.3 6.2Z" fill="#ead6f0" fill-opacity="0.48"/><path d="M-1.8 -5.4L17.3 6.2L8.8 11.5Z" fill="#6a3e8a" fill-opacity="0.36"/><path d="M-1.8 -5.4L8.8 11.5L-3.4 12.7Z" fill="#ead6f0" fill-opacity="0.36"/><path d="M-1.8 -5.4L-3.4 12.7L-8.6 11.6Z" fill="#6a3e8a" fill-opacity="0.25"/><path d="M-1.8 -5.4L-8.6 11.6L-16.5 7.1Z" fill="#ead6f0" fill-opacity="0.36"/><path d="M-1.8 -5.4L-16.5 7.1L-19.8 0.5Z" fill="#6a3e8a" fill-opacity="0.26"/><path d="M-1.8 -5.4L-19.8 0.5L-15.8 -7.7Z" fill="#ead6f0" fill-opacity="0.58"/><path d="M-1.8 -5.4L-15.8 -7.7L-10.8 -10.8Z" fill="#6a3e8a" fill-opacity="0.45"/><path d="M-1.8 -5.4L-10.8 -10.8L-1.0 -12.9Z" fill="#ead6f0" fill-opacity="0.39"/><path d="M-1.8 -5.4L-1.0 -12.9L9.5 -11.3Z" fill="#6a3e8a" fill-opacity="0.33"/><path d="M4.3 -8.2L8.7 -4.2L7.6 0.7L1.5 3.6L-6.0 2.8L-10.5 -1.2L-9.3 -6.0L-3.2 -8.9Z" fill="#ead6f0" fill-opacity="0.25" stroke="#6a3e8a" stroke-opacity="0.3" stroke-width="0.8"/><ellipse rx="19.8" ry="12.9" fill="none" stroke="#ead6f0" stroke-width="1" stroke-opacity="0.5"/><circle cx="6.3" cy="-5.4" r="1.1" fill="#fff" opacity="0.7"/><circle cx="-11.9" cy="-5.7" r="1.4" fill="#fff" opacity="0.7"/></g><g transform="translate(34 119) rotate(-15)"><ellipse cx="1" cy="2" rx="21.8" ry="15.2" fill="#6a3e8a" opacity="0.12"/><ellipse rx="19.8" ry="13.2" fill="url(#g_feb)" stroke="#6a3e8a" stroke-width="1.1" stroke-opacity="0.8"/><path d="M1.2 -0.5L17.2 3.0L9.6 10.0Z" fill="#ead6f0" fill-opacity="0.40"/><path d="M1.2 -0.5L9.6 10.0L-4.9 11.4Z" fill="#6a3e8a" fill-opacity="0.26"/><path d="M1.2 -0.5L-4.9 11.4L-14.6 6.8Z" fill="#ead6f0" fill-opacity="0.51"/><path d="M1.2 -0.5L-14.6 6.8L-17.8 -1.0Z" fill="#6a3e8a" fill-opacity="0.27"/><path d="M1.2 -0.5L-17.8 -1.0L-10.6 -9.5Z" fill="#ead6f0" fill-opacity="0.38"/><path d="M1.2 -0.5L-10.6 -9.5L2.1 -11.8Z" fill="#6a3e8a" fill-opacity="0.27"/><path d="M1.2 -0.5L2.1 -11.8L14.9 -6.5Z" fill="#ead6f0" fill-opacity="0.56"/><path d="M1.2 -0.5L14.9 -6.5L17.2 3.0Z" fill="#6a3e8a" fill-opacity="0.41"/><ellipse rx="17.8" ry="11.9" fill="none" stroke="#ead6f0" stroke-width="1" stroke-opacity="0.5"/><circle cx="-5.7" cy="6.9" r="1.2" fill="#fff" opacity="0.7"/><circle cx="8.9" cy="-5.6" r="0.8" fill="#fff" opacity="0.7"/><circle cx="-10.5" cy="-7.0" r="1.0" fill="#fff" opacity="0.7"/></g><g transform="translate(82 136) rotate(0)"><ellipse cx="1" cy="2" rx="21.8" ry="17.4" fill="#6a3e8a" opacity="0.12"/><ellipse rx="19.8" ry="15.4" fill="url(#g_feb)" stroke="#6a3e8a" stroke-width="1.1" stroke-opacity="0.8"/><path d="M-7.7 -4.4L8.1 -12.3L14.6 -8.0Z" fill="#ead6f0" fill-opacity="0.56"/><path d="M-7.7 -4.4L14.6 -8.0L17.8 0.8Z" fill="#6a3e8a" fill-opacity="0.42"/><path d="M-7.7 -4.4L17.8 0.8L14.3 8.3Z" fill="#ead6f0" fill-opacity="0.40"/><path d="M-7.7 -4.4L14.3 8.3L8.2 12.3Z" fill="#6a3e8a" fill-opacity="0.35"/><path d="M-7.7 -4.4L8.2 12.3L-0.8 13.8Z" fill="#ead6f0" fill-opacity="0.49"/><path d="M-7.7 -4.4L-0.8 13.8L-9.6 11.7Z" fill="#6a3e8a" fill-opacity="0.25"/><path d="M-7.7 -4.4L-9.6 11.7L-16.7 4.7Z" fill="#ead6f0" fill-opacity="0.53"/><path d="M-7.7 -4.4L-16.7 4.7L-17.8 0.7Z" fill="#6a3e8a" fill-opacity="0.28"/><path d="M-7.7 -4.4L-17.8 0.7L-15.2 -7.2Z" fill="#ead6f0" fill-opacity="0.56"/><path d="M-7.7 -4.4L-15.2 -7.2L-9.7 -11.6Z" fill="#6a3e8a" fill-opacity="0.45"/><path d="M-7.7 -4.4L-9.7 -11.6L1.8 -13.8Z" fill="#ead6f0" fill-opacity="0.50"/><path d="M-7.7 -4.4L1.8 -13.8L8.1 -12.3Z" fill="#6a3e8a" fill-opacity="0.32"/><ellipse rx="17.8" ry="13.9" fill="none" stroke="#ead6f0" stroke-width="1" stroke-opacity="0.5"/><circle cx="-2.9" cy="7.2" r="1.6" fill="#fff" opacity="0.7"/><circle cx="5.7" cy="-3.4" r="0.8" fill="#fff" opacity="0.7"/><circle cx="-10.6" cy="-3.1" r="1.2" fill="#fff" opacity="0.7"/></g><g transform="translate(118 131) rotate(-20)"><ellipse cx="1" cy="2" rx="22.9" ry="17.4" fill="#6a3e8a" opacity="0.12"/><ellipse rx="20.9" ry="15.4" fill="url(#g_feb)" stroke="#6a3e8a" stroke-width="1.1" stroke-opacity="0.8"/><path d="M-7.6 1.4L16.7 -6.4L18.6 1.8Z" fill="#ead6f0" fill-opacity="0.57"/><path d="M-7.6 1.4L18.6 1.8L7.2 12.8Z" fill="#6a3e8a" fill-opacity="0.26"/><path d="M-7.6 1.4L7.2 12.8L-6.8 12.9Z" fill="#ead6f0" fill-opacity="0.37"/><path d="M-7.6 1.4L-6.8 12.9L-15.9 7.4Z" fill="#6a3e8a" fill-opacity="0.32"/><path d="M-7.6 1.4L-15.9 7.4L-18.0 -4.0Z" fill="#ead6f0" fill-opacity="0.49"/><path d="M-7.6 1.4L-18.0 -4.0L-8.0 -12.5Z" fill="#6a3e8a" fill-opacity="0.31"/><path d="M-7.6 1.4L-8.0 -12.5L6.8 -12.9Z" fill="#ead6f0" fill-opacity="0.57"/><path d="M-7.6 1.4L6.8 -12.9L16.7 -6.4Z" fill="#6a3e8a" fill-opacity="0.41"/><path d="M4.3 -2.9L5.4 2.3L1.1 6.6L-6.0 7.4L-11.8 4.3L-12.9 -1.0L-8.6 -5.3L-1.5 -6.0Z" fill="#ead6f0" fill-opacity="0.25" stroke="#6a3e8a" stroke-opacity="0.3" stroke-width="0.8"/><ellipse rx="18.8" ry="13.9" fill="none" stroke="#ead6f0" stroke-width="1" stroke-opacity="0.5"/><circle cx="1.0" cy="3.3" r="1.4" fill="#fff" opacity="0.7"/><circle cx="5.5" cy="6.3" r="1.0" fill="#fff" opacity="0.7"/><circle cx="0.4" cy="-0.2" r="1.5" fill="#fff" opacity="0.7"/></g><g transform="translate(140 105) rotate(0)"><ellipse cx="1" cy="2" rx="13.0" ry="15.2" fill="#6a3e8a" opacity="0.12"/><ellipse rx="11.0" ry="13.2" fill="url(#g_feb)" stroke="#6a3e8a" stroke-width="1.1" stroke-opacity="0.8"/><path d="M1.4 3.0L9.9 -0.8L7.0 8.4Z" fill="#ead6f0" fill-opacity="0.41"/><path d="M1.4 3.0L7.0 8.4L-0.3 11.9Z" fill="#6a3e8a" fill-opacity="0.25"/><path d="M1.4 3.0L-0.3 11.9L-6.6 8.8Z" fill="#ead6f0" fill-opacity="0.40"/><path d="M1.4 3.0L-6.6 8.8L-9.7 2.3Z" fill="#6a3e8a" fill-opacity="0.28"/><path d="M1.4 3.0L-9.7 2.3L-7.2 -8.1Z" fill="#ead6f0" fill-opacity="0.47"/><path d="M1.4 3.0L-7.2 -8.1L-0.9 -11.8Z" fill="#6a3e8a" fill-opacity="0.29"/><path d="M1.4 3.0L-0.9 -11.8L7.2 -8.2Z" fill="#ead6f0" fill-opacity="0.45"/><path d="M1.4 3.0L7.2 -8.2L9.9 -0.8Z" fill="#6a3e8a" fill-opacity="0.37"/><path d="M5.7 1.0L4.5 5.4L1.1 7.4L-2.5 6.0L-4.2 2.0L-3.0 -2.3L0.3 -4.4L3.9 -3.0Z" fill="#ead6f0" fill-opacity="0.25" stroke="#6a3e8a" stroke-opacity="0.3" stroke-width="0.8"/><ellipse rx="9.9" ry="11.9" fill="none" stroke="#ead6f0" stroke-width="1" stroke-opacity="0.5"/><circle cx="-1.1" cy="-2.5" r="1.1" fill="#fff" opacity="0.7"/><circle cx="-2.7" cy="6.3" r="1.4" fill="#fff" opacity="0.7"/></g></g></g><g transform="translate(341.7 88.5)"><defs><clipPath id="c_mar"><circle cx="75" cy="75" r="75"/></clipPath><linearGradient id="bg_mar" x1="0" y1="0" x2="0" y2="1"><stop offset="0" stop-color="#d8dade"/><stop offset="1" stop-color="#d0d4d8"/></linearGradient><radialGradient id="g_mar" cx="0.45" cy="0.4" r="0.65"><stop offset="0" stop-color="#48c2ec"/><stop offset="0.6" stop-color="#48c2ec"/><stop offset="1" stop-color="#1c94cc"/></radialGradient></defs><g clip-path="url(#c_mar)"><rect width="150" height="150" fill="url(#bg_mar)"/><g transform="translate(37 33) rotate(0)"><ellipse cx="1" cy="2" rx="20.7" ry="21.8" fill="#1c94cc" opacity="0.12"/><ellipse rx="18.7" ry="19.8" fill="url(#g_mar)" stroke="#1c94cc" stroke-width="1.1" stroke-opacity="0.8"/><path d="M0.3 4.9L-5.4 16.9L-13.6 10.5Z" fill="#c0eefc" fill-opacity="0.60"/><path d="M0.3 4.9L-13.6 10.5L-16.8 0.3Z" fill="#1c94cc" fill-opacity="0.44"/><path d="M0.3 4.9L-16.8 0.3L-15.2 -7.7Z" fill="#c0eefc" fill-opacity="0.47"/><path d="M0.3 4.9L-15.2 -7.7L-8.4 -15.5Z" fill="#1c94cc" fill-opacity="0.45"/><path d="M0.3 4.9L-8.4 -15.5L3.6 -17.4Z" fill="#c0eefc" fill-opacity="0.37"/><path d="M0.3 4.9L3.6 -17.4L13.7 -10.3Z" fill="#1c94cc" fill-opacity="0.42"/><path d="M0.3 4.9L13.7 -10.3L16.7 -2.5Z" fill="#c0eefc" fill-opacity="0.61"/><path d="M0.3 4.9L16.7 -2.5L14.2 9.5Z" fill="#1c94cc" fill-opacity="0.28"/><path d="M0.3 4.9L14.2 9.5L7.1 16.2Z" fill="#c0eefc" fill-opacity="0.56"/><path d="M0.3 4.9L7.1 16.2L-5.4 16.9Z" fill="#1c94cc" fill-opacity="0.36"/><ellipse rx="16.8" ry="17.8" fill="none" stroke="#c0eefc" stroke-width="1" stroke-opacity="0.5"/><circle cx="-3.8" cy="-8.9" r="1.4" fill="#fff" opacity="0.7"/></g><g transform="translate(70 22) rotate(0)"><ellipse cx="1" cy="2" rx="24.0" ry="22.9" fill="#1c94cc" opacity="0.12"/><ellipse rx="22.0" ry="20.9" fill="url(#g_mar)" stroke="#1c94cc" stroke-width="1.1" stroke-opacity="0.8"/><path d="M-7.6 -1.5L18.3 -7.1L18.9 5.5Z" fill="#c0eefc" fill-opacity="0.46"/><path d="M-7.6 -1.5L18.9 5.5L16.8 10.0Z" fill="#1c94cc" fill-opacity="0.41"/><path d="M-7.6 -1.5L16.8 10.0L5.6 18.1Z" fill="#c0eefc" fill-opacity="0.61"/><path d="M-7.6 -1.5L5.6 18.1L-4.7 18.3Z" fill="#1c94cc" fill-opacity="0.30"/><path d="M-7.6 -1.5L-4.7 18.3L-14.1 13.2Z" fill="#c0eefc" fill-opacity="0.52"/><path d="M-7.6 -1.5L-14.1 13.2L-17.2 9.4Z" fill="#1c94cc" fill-opacity="0.45"/><path d="M-7.6 -1.5L-17.2 9.4L-19.7 -2.0Z" fill="#c0eefc" fill-opacity="0.51"/><path d="M-7.6 -1.5L-19.7 -2.0L-17.0 -9.6Z" fill="#1c94cc" fill-opacity="0.32"/><path d="M-7.6 -1.5L-17.0 -9.6L-5.9 -18.0Z" fill="#c0eefc" fill-opacity="0.43"/><path d="M-7.6 -1.5L-5.9 -18.0L2.0 -18.7Z" fill="#1c94cc" fill-opacity="0.41"/><path d="M-7.6 -1.5L2.0 -18.7L14.3 -13.0Z" fill="#c0eefc" fill-opacity="0.41"/><path d="M-7.6 -1.5L14.3 -13.0L18.3 -7.1Z" fill="#1c94cc" fill-opacity="0.37"/><ellipse rx="19.8" ry="18.8" fill="none" stroke="#c0eefc" stroke-width="1" stroke-opacity="0.5"/><circle cx="10.6" cy="-6.3" r="1.0" fill="#fff" opacity="0.7"/><circle cx="-4.0" cy="-8.3" r="0.9" fill="#fff" opacity="0.7"/><circle cx="2.0" cy="7.1" r="1.1" fill="#fff" opacity="0.7"/></g><g transform="translate(107 16) rotate(0)"><ellipse cx="1" cy="2" rx="17.4" ry="15.2" fill="#1c94cc" opacity="0.12"/><ellipse rx="15.4" ry="13.2" fill="url(#g_mar)" stroke="#1c94cc" stroke-width="1.1" stroke-opacity="0.8"/><path d="M-5.5 5.2L-13.3 3.2L-11.3 -6.9Z" fill="#c0eefc" fill-opacity="0.52"/><path d="M-5.5 5.2L-11.3 -6.9L-1.9 -11.8Z" fill="#1c94cc" fill-opacity="0.39"/><path d="M-5.5 5.2L-1.9 -11.8L6.9 -10.3Z" fill="#c0eefc" fill-opacity="0.47"/><path d="M-5.5 5.2L6.9 -10.3L13.1 -3.9Z" fill="#1c94cc" fill-opacity="0.40"/><path d="M-5.5 5.2L13.1 -3.9L10.4 7.9Z" fill="#c0eefc" fill-opacity="0.64"/><path d="M-5.5 5.2L10.4 7.9L1.2 11.8Z" fill="#1c94cc" fill-opacity="0.37"/><path d="M-5.5 5.2L1.2 11.8L-5.8 10.8Z" fill="#c0eefc" fill-opacity="0.47"/><path d="M-5.5 5.2L-5.8 10.8L-13.3 3.2Z" fill="#1c94cc" fill-opacity="0.29"/><path d="M-9.6 3.8L-8.6 -0.7L-4.2 -3.2L1.0 -2.4L4.0 1.4L3.0 5.8L-1.3 8.4L-6.6 7.6Z" fill="#c0eefc" fill-opacity="0.25" stroke="#1c94cc" stroke-opacity="0.3" stroke-width="0.8"/><ellipse rx="13.9" ry="11.9" fill="none" stroke="#c0eefc" stroke-width="1" stroke-opacity="0.5"/><circle cx="3.3" cy="6.5" r="0.8" fill="#fff" opacity="0.7"/></g><g transform="translate(120 40) rotate(10)"><ellipse cx="1" cy="2" rx="20.7" ry="24.0" fill="#1c94cc" opacity="0.12"/><ellipse rx="18.7" ry="22.0" fill="url(#g_mar)" stroke="#1c94cc" stroke-width="1.1" stroke-opacity="0.8"/><path d="M7.1 -3.4L4.1 -19.2L15.3 -8.3Z" fill="#c0eefc" fill-opacity="0.42"/><path d="M7.1 -3.4L15.3 -8.3L16.8 -1.1Z" fill="#1c94cc" fill-opacity="0.36"/><path d="M7.1 -3.4L16.8 -1.1L12.0 13.9Z" fill="#c0eefc" fill-opacity="0.43"/><path d="M7.1 -3.4L12.0 13.9L2.4 19.6Z" fill="#1c94cc" fill-opacity="0.28"/><path d="M7.1 -3.4L2.4 19.6L-7.0 18.0Z" fill="#c0eefc" fill-opacity="0.44"/><path d="M7.1 -3.4L-7.0 18.0L-14.0 11.0Z" fill="#1c94cc" fill-opacity="0.40"/><path d="M7.1 -3.4L-14.0 11.0L-16.8 1.2Z" fill="#c0eefc" fill-opacity="0.50"/><path d="M7.1 -3.4L-16.8 1.2L-14.2 -10.7Z" fill="#1c94cc" fill-opacity="0.33"/><path d="M7.1 -3.4L-14.2 -10.7L-3.4 -19.4Z" fill="#c0eefc" fill-opacity="0.50"/><path d="M7.1 -3.4L-3.4 -19.4L4.1 -19.2Z" fill="#1c94cc" fill-opacity="0.36"/><ellipse rx="16.8" ry="19.8" fill="none" stroke="#c0eefc" stroke-width="1" stroke-opacity="0.5"/><circle cx="-9.5" cy="-1.1" r="1.0" fill="#fff" opacity="0.7"/><circle cx="-0.4" cy="8.4" r="1.6" fill="#fff" opacity="0.7"/></g><g transform="translate(53 63) rotate(0)"><ellipse cx="1" cy="2" rx="22.9" ry="22.9" fill="#1c94cc" opacity="0.12"/><ellipse rx="20.9" ry="20.9" fill="url(#g_mar)" stroke="#1c94cc" stroke-width="1.1" stroke-opacity="0.8"/><path d="M1.6 7.7L-17.3 -7.4L-9.1 -16.5Z" fill="#c0eefc" fill-opacity="0.53"/><path d="M1.6 7.7L-9.1 -16.5L-2.8 -18.6Z" fill="#1c94cc" fill-opacity="0.35"/><path d="M1.6 7.7L-2.8 -18.6L8.2 -16.9Z" fill="#c0eefc" fill-opacity="0.51"/><path d="M1.6 7.7L8.2 -16.9L16.6 -8.9Z" fill="#1c94cc" fill-opacity="0.29"/><path d="M1.6 7.7L16.6 -8.9L18.7 -1.5Z" fill="#c0eefc" fill-opacity="0.52"/><path d="M1.6 7.7L18.7 -1.5L16.9 8.4Z" fill="#1c94cc" fill-opacity="0.39"/><path d="M1.6 7.7L16.9 8.4L11.5 14.9Z" fill="#c0eefc" fill-opacity="0.58"/><path d="M1.6 7.7L11.5 14.9L-1.0 18.8Z" fill="#1c94cc" fill-opacity="0.34"/><path d="M1.6 7.7L-1.0 18.8L-9.1 16.5Z" fill="#c0eefc" fill-opacity="0.48"/><path d="M1.6 7.7L-9.1 16.5L-14.6 11.8Z" fill="#1c94cc" fill-opacity="0.35"/><path d="M1.6 7.7L-14.6 11.8L-18.6 2.6Z" fill="#c0eefc" fill-opacity="0.51"/><path d="M1.6 7.7L-18.6 2.6L-17.3 -7.4Z" fill="#1c94cc" fill-opacity="0.34"/><path d="M-7.7 -0.0L-2.5 -4.9L4.7 -4.7L9.6 0.6L9.4 7.7L4.1 12.7L-3.1 12.4L-8.0 7.2Z" fill="#c0eefc" fill-opacity="0.25" stroke="#1c94cc" stroke-opacity="0.3" stroke-width="0.8"/><ellipse rx="18.8" ry="18.8" fill="none" stroke="#c0eefc" stroke-width="1" stroke-opacity="0.5"/><circle cx="-7.9" cy="-12.3" r="1.5" fill="#fff" opacity="0.7"/><circle cx="-4.1" cy="-4.3" r="0.8" fill="#fff" opacity="0.7"/></g><g transform="translate(88 60) rotate(0)"><ellipse cx="1" cy="2" rx="20.7" ry="22.9" fill="#1c94cc" opacity="0.12"/><ellipse rx="18.7" ry="20.9" fill="url(#g_mar)" stroke="#1c94cc" stroke-width="1.1" stroke-opacity="0.8"/><path d="M-6.0 2.8L16.6 3.1L7.9 16.6Z" fill="#c0eefc" fill-opacity="0.51"/><path d="M-6.0 2.8L7.9 16.6L-3.5 18.4Z" fill="#1c94cc" fill-opacity="0.40"/><path d="M-6.0 2.8L-3.5 18.4L-15.0 8.4Z" fill="#c0eefc" fill-opacity="0.42"/><path d="M-6.0 2.8L-15.0 8.4L-16.8 -1.0Z" fill="#1c94cc" fill-opacity="0.38"/><path d="M-6.0 2.8L-16.8 -1.0L-7.9 -16.6Z" fill="#c0eefc" fill-opacity="0.61"/><path d="M-6.0 2.8L-7.9 -16.6L4.6 -18.1Z" fill="#1c94cc" fill-opacity="0.41"/><path d="M-6.0 2.8L4.6 -18.1L12.3 -12.9Z" fill="#c0eefc" fill-opacity="0.48"/><path d="M-6.0 2.8L12.3 -12.9L16.6 3.1Z" fill="#1c94cc" fill-opacity="0.26"/><ellipse rx="16.8" ry="18.8" fill="none" stroke="#c0eefc" stroke-width="1" stroke-opacity="0.5"/><circle cx="10.6" cy="-6.0" r="1.1" fill="#fff" opacity="0.7"/></g><g transform="translate(121 75) rotate(-20)"><ellipse cx="1" cy="2" rx="20.7" ry="19.6" fill="#1c94cc" opacity="0.12"/><ellipse rx="18.7" ry="17.6" fill="url(#g_mar)" stroke="#1c94cc" stroke-width="1.1" stroke-opacity="0.8"/><path d="M6.6 1.1L-12.4 10.7L-16.7 -1.7Z" fill="#c0eefc" fill-opacity="0.51"/><path d="M6.6 1.1L-16.7 -1.7L-13.7 -9.1Z" fill="#1c94cc" fill-opacity="0.30"/><path d="M6.6 1.1L-13.7 -9.1L-3.4 -15.5Z" fill="#c0eefc" fill-opacity="0.50"/><path d="M6.6 1.1L-3.4 -15.5L7.3 -14.3Z" fill="#1c94cc" fill-opacity="0.30"/><path d="M6.6 1.1L7.3 -14.3L12.5 -10.6Z" fill="#c0eefc" fill-opacity="0.39"/><path d="M6.6 1.1L12.5 -10.6L16.7 1.6Z" fill="#1c94cc" fill-opacity="0.30"/><path d="M6.6 1.1L16.7 1.6L13.9 8.9Z" fill="#c0eefc" fill-opacity="0.55"/><path d="M6.6 1.1L13.9 8.9L5.5 15.0Z" fill="#1c94cc" fill-opacity="0.31"/><path d="M6.6 1.1L5.5 15.0L-5.0 15.1Z" fill="#c0eefc" fill-opacity="0.41"/><path d="M6.6 1.1L-5.0 15.1L-12.4 10.7Z" fill="#1c94cc" fill-opacity="0.32"/><path d="M-3.7 5.0L-5.0 -0.9L-1.4 -6.0L4.9 -7.2L10.3 -3.9L11.6 2.1L8.0 7.1L1.7 8.3Z" fill="#c0eefc" fill-opacity="0.25" stroke="#1c94cc" stroke-opacity="0.3" stroke-width="0.8"/><ellipse rx="16.8" ry="15.8" fill="none" stroke="#c0eefc" stroke-width="1" stroke-opacity="0.5"/><circle cx="-7.8" cy="-4.4" r="1.1" fill="#fff" opacity="0.7"/><circle cx="0.6" cy="-2.4" r="1.2" fill="#fff" opacity="0.7"/><circle cx="5.8" cy="-7.3" r="1.2" fill="#fff" opacity="0.7"/></g><g transform="translate(22 77) rotate(0)"><ellipse cx="1" cy="2" rx="22.9" ry="21.8" fill="#1c94cc" opacity="0.12"/><ellipse rx="20.9" ry="19.8" fill="url(#g_mar)" stroke="#1c94cc" stroke-width="1.1" stroke-opacity="0.8"/><path d="M-5.6 0.6L-18.8 -1.2L-16.3 -8.9Z" fill="#c0eefc" fill-opacity="0.48"/><path d="M-5.6 0.6L-16.3 -8.9L-4.2 -17.4Z" fill="#1c94cc" fill-opacity="0.35"/><path d="M-5.6 0.6L-4.2 -17.4L2.6 -17.6Z" fill="#c0eefc" fill-opacity="0.39"/><path d="M-5.6 0.6L2.6 -17.6L13.8 -12.2Z" fill="#1c94cc" fill-opacity="0.44"/><path d="M-5.6 0.6L13.8 -12.2L18.8 1.4Z" fill="#c0eefc" fill-opacity="0.50"/><path d="M-5.6 0.6L18.8 1.4L16.7 8.2Z" fill="#1c94cc" fill-opacity="0.35"/><path d="M-5.6 0.6L16.7 8.2L7.9 16.2Z" fill="#c0eefc" fill-opacity="0.46"/><path d="M-5.6 0.6L7.9 16.2L-5.3 17.1Z" fill="#1c94cc" fill-opacity="0.38"/><path d="M-5.6 0.6L-5.3 17.1L-14.9 10.9Z" fill="#c0eefc" fill-opacity="0.45"/><path d="M-5.6 0.6L-14.9 10.9L-18.8 -1.2Z" fill="#1c94cc" fill-opacity="0.26"/><path d="M-12.2 0.7L-9.7 -5.7L-3.2 -8.6L3.6 -6.3L6.6 -0.1L4.1 6.3L-2.4 9.2L-9.2 6.8Z" fill="#c0eefc" fill-opacity="0.25" stroke="#1c94cc" stroke-opacity="0.3" stroke-width="0.8"/><ellipse rx="18.8" ry="17.8" fill="none" stroke="#c0eefc" stroke-width="1" stroke-opacity="0.5"/><circle cx="-3.1" cy="-7.8" r="1.5" fill="#fff" opacity="0.7"/><circle cx="-10.7" cy="-3.8" r="1.4" fill="#fff" opacity="0.7"/><circle cx="-4.5" cy="11.0" r="1.4" fill="#fff" opacity="0.7"/></g><g transform="translate(31 108) rotate(0)"><ellipse cx="1" cy="2" rx="22.9" ry="21.8" fill="#1c94cc" opacity="0.12"/><ellipse rx="20.9" ry="19.8" fill="url(#g_mar)" stroke="#1c94cc" stroke-width="1.1" stroke-opacity="0.8"/><path d="M-3.2 5.8L-18.8 0.3L-16.6 -8.4Z" fill="#c0eefc" fill-opacity="0.43"/><path d="M-3.2 5.8L-16.6 -8.4L-6.3 -16.8Z" fill="#1c94cc" fill-opacity="0.26"/><path d="M-3.2 5.8L-6.3 -16.8L3.8 -17.4Z" fill="#c0eefc" fill-opacity="0.47"/><path d="M-3.2 5.8L3.8 -17.4L11.5 -14.1Z" fill="#1c94cc" fill-opacity="0.44"/><path d="M-3.2 5.8L11.5 -14.1L17.6 -6.2Z" fill="#c0eefc" fill-opacity="0.41"/><path d="M-3.2 5.8L17.6 -6.2L18.5 3.1Z" fill="#1c94cc" fill-opacity="0.31"/><path d="M-3.2 5.8L18.5 3.1L16.2 9.0Z" fill="#c0eefc" fill-opacity="0.36"/><path d="M-3.2 5.8L16.2 9.0L9.4 15.4Z" fill="#1c94cc" fill-opacity="0.36"/><path d="M-3.2 5.8L9.4 15.4L-3.7 17.5Z" fill="#c0eefc" fill-opacity="0.37"/><path d="M-3.2 5.8L-3.7 17.5L-12.3 13.5Z" fill="#1c94cc" fill-opacity="0.39"/><path d="M-3.2 5.8L-12.3 13.5L-16.9 7.8Z" fill="#c0eefc" fill-opacity="0.50"/><path d="M-3.2 5.8L-16.9 7.8L-18.8 0.3Z" fill="#1c94cc" fill-opacity="0.33"/><path d="M-11.0 2.1L-7.6 -4.0L-0.8 -6.0L5.6 -2.8L7.8 3.7L4.4 9.7L-2.4 11.8L-8.8 8.6Z" fill="#c0eefc" fill-opacity="0.25" stroke="#1c94cc" stroke-opacity="0.3" stroke-width="0.8"/><ellipse rx="18.8" ry="17.8" fill="none" stroke="#c0eefc" stroke-width="1" stroke-opacity="0.5"/><circle cx="-1.3" cy="6.5" r="0.9" fill="#fff" opacity="0.7"/><circle cx="-2.1" cy="-7.4" r="1.5" fill="#fff" opacity="0.7"/></g><g transform="translate(141 90) rotate(0)"><ellipse cx="1" cy="2" rx="13.0" ry="20.7" fill="#1c94cc" opacity="0.12"/><ellipse rx="11.0" ry="18.7" fill="url(#g_mar)" stroke="#1c94cc" stroke-width="1.1" stroke-opacity="0.8"/><path d="M2.1 3.1L0.8 16.8L-5.8 13.7Z" fill="#c0eefc" fill-opacity="0.48"/><path d="M2.1 3.1L-5.8 13.7L-9.8 2.3Z" fill="#1c94cc" fill-opacity="0.38"/><path d="M2.1 3.1L-9.8 2.3L-8.3 -9.1Z" fill="#c0eefc" fill-opacity="0.39"/><path d="M2.1 3.1L-8.3 -9.1L-0.6 -16.8Z" fill="#1c94cc" fill-opacity="0.43"/><path d="M2.1 3.1L-0.6 -16.8L6.7 -12.4Z" fill="#c0eefc" fill-opacity="0.58"/><path d="M2.1 3.1L6.7 -12.4L9.9 0.1Z" fill="#1c94cc" fill-opacity="0.29"/><path d="M2.1 3.1L9.9 0.1L7.9 10.3Z" fill="#c0eefc" fill-opacity="0.47"/><path d="M2.1 3.1L7.9 10.3L0.8 16.8Z" fill="#1c94cc" fill-opacity="0.35"/><ellipse rx="9.9" ry="16.8" fill="none" stroke="#c0eefc" stroke-width="1" stroke-opacity="0.5"/><circle cx="3.9" cy="-3.9" r="1.1" fill="#fff" opacity="0.7"/><circle cx="-3.8" cy="-7.3" r="0.8" fill="#fff" opacity="0.7"/><circle cx="-5.3" cy="8.4" r="1.3" fill="#fff" opacity="0.7"/></g><g transform="translate(85 108) rotate(0)"><ellipse cx="1" cy="2" rx="20.7" ry="20.7" fill="#1c94cc" opacity="0.12"/><ellipse rx="18.7" ry="18.7" fill="url(#g_mar)" stroke="#1c94cc" stroke-width="1.1" stroke-opacity="0.8"/><path d="M-6.0 7.4L16.6 3.0L12.6 11.2Z" fill="#c0eefc" fill-opacity="0.44"/><path d="M-6.0 7.4L12.6 11.2L3.3 16.5Z" fill="#1c94cc" fill-opacity="0.32"/><path d="M-6.0 7.4L3.3 16.5L-6.0 15.7Z" fill="#c0eefc" fill-opacity="0.43"/><path d="M-6.0 7.4L-6.0 15.7L-14.3 8.8Z" fill="#1c94cc" fill-opacity="0.36"/><path d="M-6.0 7.4L-14.3 8.8L-16.6 -2.9Z" fill="#c0eefc" fill-opacity="0.58"/><path d="M-6.0 7.4L-16.6 -2.9L-12.9 -10.8Z" fill="#1c94cc" fill-opacity="0.25"/><path d="M-6.0 7.4L-12.9 -10.8L-3.1 -16.5Z" fill="#c0eefc" fill-opacity="0.51"/><path d="M-6.0 7.4L-3.1 -16.5L8.6 -14.4Z" fill="#1c94cc" fill-opacity="0.36"/><path d="M-6.0 7.4L8.6 -14.4L14.7 -8.2Z" fill="#c0eefc" fill-opacity="0.63"/><path d="M-6.0 7.4L14.7 -8.2L16.6 3.0Z" fill="#1c94cc" fill-opacity="0.39"/><path d="M5.3 5.3L1.7 10.7L-4.6 11.9L-10.0 8.4L-11.3 2.1L-7.7 -3.3L-1.4 -4.6L4.0 -1.0Z" fill="#c0eefc" fill-opacity="0.25" stroke="#1c94cc" stroke-opacity="0.3" stroke-width="0.8"/><ellipse rx="16.8" ry="16.8" fill="none" stroke="#c0eefc" stroke-width="1" stroke-opacity="0.5"/><circle cx="-3.3" cy="-0.4" r="1.0" fill="#fff" opacity="0.7"/><circle cx="0.0" cy="-10.2" r="1.1" fill="#fff" opacity="0.7"/><circle cx="-1.2" cy="6.8" r="1.6" fill="#fff" opacity="0.7"/></g><g transform="translate(117 115) rotate(0)"><ellipse cx="1" cy="2" rx="21.8" ry="20.7" fill="#1c94cc" opacity="0.12"/><ellipse rx="19.8" ry="18.7" fill="url(#g_mar)" stroke="#1c94cc" stroke-width="1.1" stroke-opacity="0.8"/><path d="M-2.1 -4.2L4.4 -16.3L13.9 -10.6Z" fill="#c0eefc" fill-opacity="0.59"/><path d="M-2.1 -4.2L13.9 -10.6L17.2 -4.4Z" fill="#1c94cc" fill-opacity="0.25"/><path d="M-2.1 -4.2L17.2 -4.4L16.9 5.4Z" fill="#c0eefc" fill-opacity="0.62"/><path d="M-2.1 -4.2L16.9 5.4L10.8 13.4Z" fill="#1c94cc" fill-opacity="0.30"/><path d="M-2.1 -4.2L10.8 13.4L0.4 16.8Z" fill="#c0eefc" fill-opacity="0.65"/><path d="M-2.1 -4.2L0.4 16.8L-4.0 16.4Z" fill="#1c94cc" fill-opacity="0.27"/><path d="M-2.1 -4.2L-4.0 16.4L-13.4 11.0Z" fill="#c0eefc" fill-opacity="0.38"/><path d="M-2.1 -4.2L-13.4 11.0L-17.1 4.6Z" fill="#1c94cc" fill-opacity="0.34"/><path d="M-2.1 -4.2L-17.1 4.6L-16.1 -7.1Z" fill="#c0eefc" fill-opacity="0.44"/><path d="M-2.1 -4.2L-16.1 -7.1L-12.7 -11.8Z" fill="#1c94cc" fill-opacity="0.38"/><path d="M-2.1 -4.2L-12.7 -11.8L-4.4 -16.3Z" fill="#c0eefc" fill-opacity="0.44"/><path d="M-2.1 -4.2L-4.4 -16.3L4.4 -16.3Z" fill="#1c94cc" fill-opacity="0.31"/><path d="M2.1 -10.0L7.1 -5.5L7.3 0.9L2.6 5.6L-4.2 5.8L-9.2 1.3L-9.4 -5.1L-4.7 -9.8Z" fill="#c0eefc" fill-opacity="0.25" stroke="#1c94cc" stroke-opacity="0.3" stroke-width="0.8"/><ellipse rx="17.8" ry="16.8" fill="none" stroke="#c0eefc" stroke-width="1" stroke-opacity="0.5"/><circle cx="-2.8" cy="3.0" r="0.9" fill="#fff" opacity="0.7"/></g><g transform="translate(62 130) rotate(0)"><ellipse cx="1" cy="2" rx="20.7" ry="20.7" fill="#1c94cc" opacity="0.12"/><ellipse rx="18.7" ry="18.7" fill="url(#g_mar)" stroke="#1c94cc" stroke-width="1.1" stroke-opacity="0.8"/><path d="M-2.6 3.8L-16.6 3.0L-15.6 -6.2Z" fill="#c0eefc" fill-opacity="0.36"/><path d="M-2.6 3.8L-15.6 -6.2L-13.2 -10.4Z" fill="#1c94cc" fill-opacity="0.28"/><path d="M-2.6 3.8L-13.2 -10.4L-3.5 -16.5Z" fill="#c0eefc" fill-opacity="0.63"/><path d="M-2.6 3.8L-3.5 -16.5L3.5 -16.5Z" fill="#1c94cc" fill-opacity="0.37"/><path d="M-2.6 3.8L3.5 -16.5L13.4 -10.2Z" fill="#c0eefc" fill-opacity="0.41"/><path d="M-2.6 3.8L13.4 -10.2L16.5 -3.2Z" fill="#1c94cc" fill-opacity="0.31"/><path d="M-2.6 3.8L16.5 -3.2L16.1 4.9Z" fill="#c0eefc" fill-opacity="0.48"/><path d="M-2.6 3.8L16.1 4.9L11.2 12.5Z" fill="#1c94cc" fill-opacity="0.26"/><path d="M-2.6 3.8L11.2 12.5L3.0 16.6Z" fill="#c0eefc" fill-opacity="0.59"/><path d="M-2.6 3.8L3.0 16.6L-2.3 16.7Z" fill="#1c94cc" fill-opacity="0.33"/><path d="M-2.6 3.8L-2.3 16.7L-11.3 12.5Z" fill="#c0eefc" fill-opacity="0.37"/><path d="M-2.6 3.8L-11.3 12.5L-16.6 3.0Z" fill="#1c94cc" fill-opacity="0.35"/><ellipse rx="16.8" ry="16.8" fill="none" stroke="#c0eefc" stroke-width="1" stroke-opacity="0.5"/><circle cx="-5.3" cy="-5.9" r="1.2" fill="#fff" opacity="0.7"/><circle cx="-2.1" cy="-8.3" r="1.4" fill="#fff" opacity="0.7"/><circle cx="8.2" cy="7.4" r="1.3" fill="#fff" opacity="0.7"/></g><g transform="translate(103 134) rotate(0)"><ellipse cx="1" cy="2" rx="19.6" ry="16.3" fill="#1c94cc" opacity="0.12"/><ellipse rx="17.6" ry="14.3" fill="url(#g_mar)" stroke="#1c94cc" stroke-width="1.1" stroke-opacity="0.8"/><path d="M-0.4 3.3L-10.4 -9.7L0.7 -12.9Z" fill="#c0eefc" fill-opacity="0.42"/><path d="M-0.4 3.3L0.7 -12.9L10.8 -9.4Z" fill="#1c94cc" fill-opacity="0.30"/><path d="M-0.4 3.3L10.8 -9.4L15.8 -0.6Z" fill="#c0eefc" fill-opacity="0.62"/><path d="M-0.4 3.3L15.8 -0.6L12.0 8.4Z" fill="#1c94cc" fill-opacity="0.43"/><path d="M-0.4 3.3L12.0 8.4L0.8 12.9Z" fill="#c0eefc" fill-opacity="0.46"/><path d="M-0.4 3.3L0.8 12.9L-9.2 10.5Z" fill="#1c94cc" fill-opacity="0.33"/><path d="M-0.4 3.3L-9.2 10.5L-15.7 -1.4Z" fill="#c0eefc" fill-opacity="0.56"/><path d="M-0.4 3.3L-15.7 -1.4L-10.4 -9.7Z" fill="#1c94cc" fill-opacity="0.36"/><ellipse rx="15.8" ry="12.9" fill="none" stroke="#c0eefc" stroke-width="1" stroke-opacity="0.5"/><circle cx="-10.1" cy="0.7" r="1.4" fill="#fff" opacity="0.7"/></g></g></g><g transform="translate(505 88.5)"><defs><clipPath id="c_apr"><circle cx="75" cy="75" r="75"/></clipPath><linearGradient id="bg_apr" x1="0" y1="0" x2="0" y2="1"><stop offset="0" stop-color="#cccccc"/><stop offset="1" stop-color="#b4b4b4"/></linearGradient><radialGradient id="g_apr" cx="0.45" cy="0.4" r="0.65"><stop offset="0" stop-color="#e6e6e6"/><stop offset="0.6" stop-color="#e6e6e6"/><stop offset="1" stop-color="#8e8e8e"/></radialGradient></defs><g clip-path="url(#c_apr)"><rect width="150" height="150" fill="url(#bg_apr)"/><g transform="translate(82 18) rotate(0)"><ellipse cx="1" cy="2" rx="24.0" ry="19.6" fill="#8e8e8e" opacity="0.12"/><ellipse rx="22.0" ry="17.6" fill="url(#g_apr)" stroke="#8e8e8e" stroke-width="1.1" stroke-opacity="0.8"/><path d="M3.7 4.8L5.8 15.1L-9.3 14.0Z" fill="#ffffff" fill-opacity="0.50"/><path d="M3.7 4.8L-9.3 14.0L-19.6 2.3Z" fill="#8e8e8e" fill-opacity="0.29"/><path d="M3.7 4.8L-19.6 2.3L-15.8 -9.6Z" fill="#ffffff" fill-opacity="0.79"/><path d="M3.7 4.8L-15.8 -9.6L-1.0 -15.8Z" fill="#8e8e8e" fill-opacity="0.32"/><path d="M3.7 4.8L-1.0 -15.8L12.4 -12.3Z" fill="#ffffff" fill-opacity="0.50"/><path d="M3.7 4.8L12.4 -12.3L19.1 -4.1Z" fill="#8e8e8e" fill-opacity="0.24"/><path d="M3.7 4.8L19.1 -4.1L15.0 10.4Z" fill="#ffffff" fill-opacity="0.70"/><path d="M3.7 4.8L15.0 10.4L5.8 15.1Z" fill="#8e8e8e" fill-opacity="0.36"/><ellipse rx="19.8" ry="15.8" fill="none" stroke="#ffffff" stroke-width="1" stroke-opacity="0.5"/><circle cx="12.0" cy="-8.8" r="1.4" fill="#fff" opacity="0.7"/><circle cx="9.1" cy="-7.2" r="1.1" fill="#fff" opacity="0.7"/></g><g transform="translate(43 33) rotate(10)"><ellipse cx="1" cy="2" rx="24.0" ry="16.3" fill="#8e8e8e" opacity="0.12"/><ellipse rx="22.0" ry="14.3" fill="url(#g_apr)" stroke="#8e8e8e" stroke-width="1.1" stroke-opacity="0.8"/><path d="M-3.4 0.5L-12.8 -9.8L-0.4 -12.9Z" fill="#ffffff" fill-opacity="0.61"/><path d="M-3.4 0.5L-0.4 -12.9L11.9 -10.3Z" fill="#8e8e8e" fill-opacity="0.31"/><path d="M-3.4 0.5L11.9 -10.3L19.5 -2.2Z" fill="#ffffff" fill-opacity="0.61"/><path d="M-3.4 0.5L19.5 -2.2L18.8 4.1Z" fill="#8e8e8e" fill-opacity="0.25"/><path d="M-3.4 0.5L18.8 4.1L11.8 10.3Z" fill="#ffffff" fill-opacity="0.73"/><path d="M-3.4 0.5L11.8 10.3L-1.9 12.8Z" fill="#8e8e8e" fill-opacity="0.35"/><path d="M-3.4 0.5L-1.9 12.8L-11.0 10.7Z" fill="#ffffff" fill-opacity="0.76"/><path d="M-3.4 0.5L-11.0 10.7L-19.6 1.8Z" fill="#8e8e8e" fill-opacity="0.27"/><path d="M-3.4 0.5L-19.6 1.8L-18.4 -4.8Z" fill="#ffffff" fill-opacity="0.57"/><path d="M-3.4 0.5L-18.4 -4.8L-12.8 -9.8Z" fill="#8e8e8e" fill-opacity="0.32"/><ellipse rx="19.8" ry="12.9" fill="none" stroke="#ffffff" stroke-width="1" stroke-opacity="0.5"/><circle cx="0.1" cy="8.5" r="1.4" fill="#fff" opacity="0.7"/><circle cx="0.8" cy="-4.4" r="1.3" fill="#fff" opacity="0.7"/></g><g transform="translate(100 50) rotate(0)"><ellipse cx="1" cy="2" rx="24.0" ry="22.9" fill="#8e8e8e" opacity="0.12"/><ellipse rx="22.0" ry="20.9" fill="url(#g_apr)" stroke="#8e8e8e" stroke-width="1.1" stroke-opacity="0.8"/><path d="M-4.2 2.4L4.2 18.4L-6.6 17.7Z" fill="#ffffff" fill-opacity="0.86"/><path d="M-4.2 2.4L-6.6 17.7L-14.1 13.2Z" fill="#8e8e8e" fill-opacity="0.34"/><path d="M-4.2 2.4L-14.1 13.2L-19.5 3.1Z" fill="#ffffff" fill-opacity="0.67"/><path d="M-4.2 2.4L-19.5 3.1L-18.6 -6.4Z" fill="#8e8e8e" fill-opacity="0.35"/><path d="M-4.2 2.4L-18.6 -6.4L-10.6 -15.9Z" fill="#ffffff" fill-opacity="0.53"/><path d="M-4.2 2.4L-10.6 -15.9L-1.0 -18.8Z" fill="#8e8e8e" fill-opacity="0.22"/><path d="M-4.2 2.4L-1.0 -18.8L9.5 -16.5Z" fill="#ffffff" fill-opacity="0.63"/><path d="M-4.2 2.4L9.5 -16.5L15.2 -12.0Z" fill="#8e8e8e" fill-opacity="0.28"/><path d="M-4.2 2.4L15.2 -12.0L19.8 -0.1Z" fill="#ffffff" fill-opacity="0.65"/><path d="M-4.2 2.4L19.8 -0.1L17.2 9.4Z" fill="#8e8e8e" fill-opacity="0.30"/><path d="M-4.2 2.4L17.2 9.4L14.0 13.3Z" fill="#ffffff" fill-opacity="0.71"/><path d="M-4.2 2.4L14.0 13.3L4.2 18.4Z" fill="#8e8e8e" fill-opacity="0.36"/><ellipse rx="19.8" ry="18.8" fill="none" stroke="#ffffff" stroke-width="1" stroke-opacity="0.5"/><circle cx="-5.2" cy="-5.2" r="1.1" fill="#fff" opacity="0.7"/><circle cx="10.7" cy="7.5" r="1.3" fill="#fff" opacity="0.7"/></g><g transform="translate(7 65) rotate(0)"><ellipse cx="1" cy="2" rx="13.0" ry="17.4" fill="#8e8e8e" opacity="0.12"/><ellipse rx="11.0" ry="15.4" fill="url(#g_apr)" stroke="#8e8e8e" stroke-width="1.1" stroke-opacity="0.8"/><path d="M-4.2 -2.9L9.8 1.9L8.2 7.7Z" fill="#ffffff" fill-opacity="0.56"/><path d="M-4.2 -2.9L8.2 7.7L4.4 12.4Z" fill="#8e8e8e" fill-opacity="0.25"/><path d="M-4.2 -2.9L4.4 12.4L-0.3 13.9Z" fill="#ffffff" fill-opacity="0.54"/><path d="M-4.2 -2.9L-0.3 13.9L-5.6 11.4Z" fill="#8e8e8e" fill-opacity="0.33"/><path d="M-4.2 -2.9L-5.6 11.4L-9.2 5.1Z" fill="#ffffff" fill-opacity="0.74"/><path d="M-4.2 -2.9L-9.2 5.1L-9.9 -0.8Z" fill="#8e8e8e" fill-opacity="0.38"/><path d="M-4.2 -2.9L-9.9 -0.8L-7.4 -9.3Z" fill="#ffffff" fill-opacity="0.55"/><path d="M-4.2 -2.9L-7.4 -9.3L-5.4 -11.6Z" fill="#8e8e8e" fill-opacity="0.36"/><path d="M-4.2 -2.9L-5.4 -11.6L2.2 -13.5Z" fill="#ffffff" fill-opacity="0.54"/><path d="M-4.2 -2.9L2.2 -13.5L5.7 -11.3Z" fill="#8e8e8e" fill-opacity="0.22"/><path d="M-4.2 -2.9L5.7 -11.3L9.3 -4.6Z" fill="#ffffff" fill-opacity="0.59"/><path d="M-4.2 -2.9L9.3 -4.6L9.8 1.9Z" fill="#8e8e8e" fill-opacity="0.21"/><ellipse rx="9.9" ry="13.9" fill="none" stroke="#ffffff" stroke-width="1" stroke-opacity="0.5"/><circle cx="-5.9" cy="7.5" r="1.4" fill="#fff" opacity="0.7"/><circle cx="-5.2" cy="-5.9" r="0.9" fill="#fff" opacity="0.7"/></g><g transform="translate(67 67) rotate(0)"><ellipse cx="1" cy="2" rx="20.7" ry="22.9" fill="#8e8e8e" opacity="0.12"/><ellipse rx="18.7" ry="20.9" fill="url(#g_apr)" stroke="#8e8e8e" stroke-width="1.1" stroke-opacity="0.8"/><path d="M0.1 -7.0L-16.8 -0.7L-15.3 -7.8Z" fill="#ffffff" fill-opacity="0.55"/><path d="M0.1 -7.0L-15.3 -7.8L-8.1 -16.5Z" fill="#8e8e8e" fill-opacity="0.38"/><path d="M0.1 -7.0L-8.1 -16.5L-0.6 -18.8Z" fill="#ffffff" fill-opacity="0.61"/><path d="M0.1 -7.0L-0.6 -18.8L8.7 -16.1Z" fill="#8e8e8e" fill-opacity="0.37"/><path d="M0.1 -7.0L8.7 -16.1L14.1 -10.2Z" fill="#ffffff" fill-opacity="0.59"/><path d="M0.1 -7.0L14.1 -10.2L16.7 2.3Z" fill="#8e8e8e" fill-opacity="0.32"/><path d="M0.1 -7.0L16.7 2.3L13.8 10.7Z" fill="#ffffff" fill-opacity="0.59"/><path d="M0.1 -7.0L13.8 10.7L7.3 17.0Z" fill="#8e8e8e" fill-opacity="0.27"/><path d="M0.1 -7.0L7.3 17.0L1.2 18.8Z" fill="#ffffff" fill-opacity="0.80"/><path d="M0.1 -7.0L1.2 18.8L-6.7 17.3Z" fill="#8e8e8e" fill-opacity="0.32"/><path d="M0.1 -7.0L-6.7 17.3L-13.4 11.4Z" fill="#ffffff" fill-opacity="0.89"/><path d="M0.1 -7.0L-13.4 11.4L-16.8 -0.7Z" fill="#8e8e8e" fill-opacity="0.25"/><path d="M-8.4 -3.3L-6.1 -10.0L-0.2 -12.9L5.8 -10.3L8.4 -3.7L6.1 3.0L0.2 5.9L-5.8 3.3Z" fill="#ffffff" fill-opacity="0.35" stroke="#8e8e8e" stroke-opacity="0.3" stroke-width="0.8"/><ellipse rx="16.8" ry="18.8" fill="none" stroke="#ffffff" stroke-width="1" stroke-opacity="0.5"/><circle cx="-7.0" cy="-3.1" r="1.3" fill="#fff" opacity="0.7"/></g><g transform="translate(137 42) rotate(0)"><ellipse cx="1" cy="2" rx="13.0" ry="17.4" fill="#8e8e8e" opacity="0.12"/><ellipse rx="11.0" ry="15.4" fill="url(#g_apr)" stroke="#8e8e8e" stroke-width="1.1" stroke-opacity="0.8"/><path d="M2.7 1.1L-4.6 -12.3L1.1 -13.8Z" fill="#ffffff" fill-opacity="0.59"/><path d="M2.7 1.1L1.1 -13.8L6.9 -9.9Z" fill="#8e8e8e" fill-opacity="0.27"/><path d="M2.7 1.1L6.9 -9.9L9.9 0.4Z" fill="#ffffff" fill-opacity="0.59"/><path d="M2.7 1.1L9.9 0.4L8.0 8.2Z" fill="#8e8e8e" fill-opacity="0.38"/><path d="M2.7 1.1L8.0 8.2L4.4 12.4Z" fill="#ffffff" fill-opacity="0.72"/><path d="M2.7 1.1L4.4 12.4L-1.6 13.7Z" fill="#8e8e8e" fill-opacity="0.38"/><path d="M2.7 1.1L-1.6 13.7L-7.2 9.5Z" fill="#ffffff" fill-opacity="0.59"/><path d="M2.7 1.1L-7.2 9.5L-9.9 0.2Z" fill="#8e8e8e" fill-opacity="0.32"/><path d="M2.7 1.1L-9.9 0.2L-8.0 -8.2Z" fill="#ffffff" fill-opacity="0.73"/><path d="M2.7 1.1L-8.0 -8.2L-4.6 -12.3Z" fill="#8e8e8e" fill-opacity="0.38"/><path d="M-0.5 -5.9L3.3 -5.8L5.9 -2.1L5.9 3.3L3.2 7.0L-0.6 6.9L-3.2 3.1L-3.2 -2.2Z" fill="#ffffff" fill-opacity="0.35" stroke="#8e8e8e" stroke-opacity="0.3" stroke-width="0.8"/><ellipse rx="9.9" ry="13.9" fill="none" stroke="#ffffff" stroke-width="1" stroke-opacity="0.5"/><circle cx="3.9" cy="8.0" r="1.4" fill="#fff" opacity="0.7"/></g><g transform="translate(136 73) rotate(0)"><ellipse cx="1" cy="2" rx="17.4" ry="18.5" fill="#8e8e8e" opacity="0.12"/><ellipse rx="15.4" ry="16.5" fill="url(#g_apr)" stroke="#8e8e8e" stroke-width="1.1" stroke-opacity="0.8"/><path d="M-1.3 -5.6L-13.5 3.3L-13.5 -3.5Z" fill="#ffffff" fill-opacity="0.82"/><path d="M-1.3 -5.6L-13.5 -3.5L-8.7 -11.5Z" fill="#8e8e8e" fill-opacity="0.36"/><path d="M-1.3 -5.6L-8.7 -11.5L-0.2 -14.8Z" fill="#ffffff" fill-opacity="0.73"/><path d="M-1.3 -5.6L-0.2 -14.8L6.8 -12.9Z" fill="#8e8e8e" fill-opacity="0.27"/><path d="M-1.3 -5.6L6.8 -12.9L12.4 -6.7Z" fill="#ffffff" fill-opacity="0.57"/><path d="M-1.3 -5.6L12.4 -6.7L13.3 4.2Z" fill="#8e8e8e" fill-opacity="0.34"/><path d="M-1.3 -5.6L13.3 4.2L6.9 12.9Z" fill="#ffffff" fill-opacity="0.78"/><path d="M-1.3 -5.6L6.9 12.9L-1.0 14.8Z" fill="#8e8e8e" fill-opacity="0.25"/><path d="M-1.3 -5.6L-1.0 14.8L-7.0 12.8Z" fill="#ffffff" fill-opacity="0.55"/><path d="M-1.3 -5.6L-7.0 12.8L-13.5 3.3Z" fill="#8e8e8e" fill-opacity="0.23"/><ellipse rx="13.9" ry="14.8" fill="none" stroke="#ffffff" stroke-width="1" stroke-opacity="0.5"/><circle cx="0.3" cy="2.2" r="1.4" fill="#fff" opacity="0.7"/></g><g transform="translate(95 82) rotate(0)"><ellipse cx="1" cy="2" rx="21.8" ry="24.0" fill="#8e8e8e" opacity="0.12"/><ellipse rx="19.8" ry="22.0" fill="url(#g_apr)" stroke="#8e8e8e" stroke-width="1.1" stroke-opacity="0.8"/><path d="M-5.4 0.3L-6.1 18.6L-12.8 13.8Z" fill="#ffffff" fill-opacity="0.89"/><path d="M-5.4 0.3L-12.8 13.8L-17.8 1.1Z" fill="#8e8e8e" fill-opacity="0.35"/><path d="M-5.4 0.3L-17.8 1.1L-15.5 -9.7Z" fill="#ffffff" fill-opacity="0.55"/><path d="M-5.4 0.3L-15.5 -9.7L-9.1 -17.0Z" fill="#8e8e8e" fill-opacity="0.31"/><path d="M-5.4 0.3L-9.1 -17.0L5.9 -18.7Z" fill="#ffffff" fill-opacity="0.59"/><path d="M-5.4 0.3L5.9 -18.7L12.6 -14.0Z" fill="#8e8e8e" fill-opacity="0.32"/><path d="M-5.4 0.3L12.6 -14.0L17.8 0.9Z" fill="#ffffff" fill-opacity="0.89"/><path d="M-5.4 0.3L17.8 0.9L15.9 9.0Z" fill="#8e8e8e" fill-opacity="0.32"/><path d="M-5.4 0.3L15.9 9.0L5.5 18.9Z" fill="#ffffff" fill-opacity="0.76"/><path d="M-5.4 0.3L5.5 18.9L-6.1 18.6Z" fill="#8e8e8e" fill-opacity="0.27"/><ellipse rx="17.8" ry="19.8" fill="none" stroke="#ffffff" stroke-width="1" stroke-opacity="0.5"/><circle cx="2.5" cy="7.0" r="1.6" fill="#fff" opacity="0.7"/><circle cx="-7.1" cy="-8.6" r="1.1" fill="#fff" opacity="0.7"/><circle cx="11.3" cy="-6.5" r="1.2" fill="#fff" opacity="0.7"/></g><g transform="translate(37 105) rotate(0)"><ellipse cx="1" cy="2" rx="24.0" ry="24.0" fill="#8e8e8e" opacity="0.12"/><ellipse rx="22.0" ry="22.0" fill="url(#g_apr)" stroke="#8e8e8e" stroke-width="1.1" stroke-opacity="0.8"/><path d="M-2.1 -7.7L-11.6 16.0L-19.3 4.5Z" fill="#ffffff" fill-opacity="0.71"/><path d="M-2.1 -7.7L-19.3 4.5L-19.0 -5.5Z" fill="#8e8e8e" fill-opacity="0.34"/><path d="M-2.1 -7.7L-19.0 -5.5L-14.0 -14.0Z" fill="#ffffff" fill-opacity="0.59"/><path d="M-2.1 -7.7L-14.0 -14.0L-3.6 -19.5Z" fill="#8e8e8e" fill-opacity="0.38"/><path d="M-2.1 -7.7L-3.6 -19.5L1.8 -19.7Z" fill="#ffffff" fill-opacity="0.68"/><path d="M-2.1 -7.7L1.8 -19.7L14.4 -13.6Z" fill="#8e8e8e" fill-opacity="0.32"/><path d="M-2.1 -7.7L14.4 -13.6L19.3 -4.4Z" fill="#ffffff" fill-opacity="0.62"/><path d="M-2.1 -7.7L19.3 -4.4L18.8 6.4Z" fill="#8e8e8e" fill-opacity="0.24"/><path d="M-2.1 -7.7L18.8 6.4L13.4 14.6Z" fill="#ffffff" fill-opacity="0.49"/><path d="M-2.1 -7.7L13.4 14.6L8.4 17.9Z" fill="#8e8e8e" fill-opacity="0.32"/><path d="M-2.1 -7.7L8.4 17.9L-1.3 19.8Z" fill="#ffffff" fill-opacity="0.90"/><path d="M-2.1 -7.7L-1.3 19.8L-11.6 16.0Z" fill="#8e8e8e" fill-opacity="0.30"/><path d="M-7.5 3.6L-10.9 -3.2L-8.5 -10.4L-1.7 -13.7L5.5 -11.3L8.8 -4.5L6.4 2.6L-0.4 6.0Z" fill="#ffffff" fill-opacity="0.35" stroke="#8e8e8e" stroke-opacity="0.3" stroke-width="0.8"/><ellipse rx="19.8" ry="19.8" fill="none" stroke="#ffffff" stroke-width="1" stroke-opacity="0.5"/><circle cx="-9.0" cy="4.1" r="1.1" fill="#fff" opacity="0.7"/><circle cx="-8.2" cy="12.4" r="1.0" fill="#fff" opacity="0.7"/><circle cx="11.3" cy="3.2" r="1.6" fill="#fff" opacity="0.7"/></g><g transform="translate(75 110) rotate(0)"><ellipse cx="1" cy="2" rx="26.2" ry="21.8" fill="#8e8e8e" opacity="0.12"/><ellipse rx="24.2" ry="19.8" fill="url(#g_apr)" stroke="#8e8e8e" stroke-width="1.1" stroke-opacity="0.8"/><path d="M5.3 -4.7L5.8 17.2L-10.1 15.8Z" fill="#ffffff" fill-opacity="0.49"/><path d="M5.3 -4.7L-10.1 15.8L-21.4 3.2Z" fill="#8e8e8e" fill-opacity="0.27"/><path d="M5.3 -4.7L-21.4 3.2L-17.0 -11.1Z" fill="#ffffff" fill-opacity="0.73"/><path d="M5.3 -4.7L-17.0 -11.1L-6.0 -17.1Z" fill="#8e8e8e" fill-opacity="0.28"/><path d="M5.3 -4.7L-6.0 -17.1L13.6 -13.9Z" fill="#ffffff" fill-opacity="0.71"/><path d="M5.3 -4.7L13.6 -13.9L20.7 -5.5Z" fill="#8e8e8e" fill-opacity="0.27"/><path d="M5.3 -4.7L20.7 -5.5L19.4 8.1Z" fill="#ffffff" fill-opacity="0.75"/><path d="M5.3 -4.7L19.4 8.1L5.8 17.2Z" fill="#8e8e8e" fill-opacity="0.28"/><ellipse rx="21.8" ry="17.8" fill="none" stroke="#ffffff" stroke-width="1" stroke-opacity="0.5"/><circle cx="-10.5" cy="-5.7" r="0.9" fill="#fff" opacity="0.7"/><circle cx="10.1" cy="6.4" r="1.4" fill="#fff" opacity="0.7"/><circle cx="-10.3" cy="-4.2" r="0.9" fill="#fff" opacity="0.7"/></g><g transform="translate(118 118) rotate(0)"><ellipse cx="1" cy="2" rx="24.0" ry="21.8" fill="#8e8e8e" opacity="0.12"/><ellipse rx="22.0" ry="19.8" fill="url(#g_apr)" stroke="#8e8e8e" stroke-width="1.1" stroke-opacity="0.8"/><path d="M6.1 7.5L11.5 -14.5L19.4 -3.6Z" fill="#ffffff" fill-opacity="0.71"/><path d="M6.1 7.5L19.4 -3.6L17.7 8.1Z" fill="#8e8e8e" fill-opacity="0.37"/><path d="M6.1 7.5L17.7 8.1L6.6 16.8Z" fill="#ffffff" fill-opacity="0.61"/><path d="M6.1 7.5L6.6 16.8L-11.5 14.5Z" fill="#8e8e8e" fill-opacity="0.34"/><path d="M6.1 7.5L-11.5 14.5L-19.8 1.1Z" fill="#ffffff" fill-opacity="0.74"/><path d="M6.1 7.5L-19.8 1.1L-14.8 -11.9Z" fill="#8e8e8e" fill-opacity="0.29"/><path d="M6.1 7.5L-14.8 -11.9L-4.4 -17.4Z" fill="#ffffff" fill-opacity="0.65"/><path d="M6.1 7.5L-4.4 -17.4L11.5 -14.5Z" fill="#8e8e8e" fill-opacity="0.24"/><path d="M8.5 -3.7L12.8 2.0L11.3 8.7L5.0 12.5L-2.4 11.2L-6.6 5.5L-5.2 -1.2L1.1 -5.0Z" fill="#ffffff" fill-opacity="0.35" stroke="#8e8e8e" stroke-opacity="0.3" stroke-width="0.8"/><ellipse rx="19.8" ry="17.8" fill="none" stroke="#ffffff" stroke-width="1" stroke-opacity="0.5"/><circle cx="8.6" cy="-9.6" r="1.2" fill="#fff" opacity="0.7"/><circle cx="8.4" cy="8.4" r="0.8" fill="#fff" opacity="0.7"/></g><g transform="translate(97 136) rotate(0)"><ellipse cx="1" cy="2" rx="24.0" ry="16.3" fill="#8e8e8e" opacity="0.12"/><ellipse rx="22.0" ry="14.3" fill="url(#g_apr)" stroke="#8e8e8e" stroke-width="1.1" stroke-opacity="0.8"/><path d="M5.0 3.1L16.7 -6.9L19.6 -1.9Z" fill="#ffffff" fill-opacity="0.64"/><path d="M5.0 3.1L19.6 -1.9L19.4 2.5Z" fill="#8e8e8e" fill-opacity="0.30"/><path d="M5.0 3.1L19.4 2.5L14.0 9.1Z" fill="#ffffff" fill-opacity="0.81"/><path d="M5.0 3.1L14.0 9.1L2.7 12.7Z" fill="#8e8e8e" fill-opacity="0.33"/><path d="M5.0 3.1L2.7 12.7L-7.1 12.0Z" fill="#ffffff" fill-opacity="0.76"/><path d="M5.0 3.1L-7.1 12.0L-16.5 7.1Z" fill="#8e8e8e" fill-opacity="0.34"/><path d="M5.0 3.1L-16.5 7.1L-19.0 3.6Z" fill="#ffffff" fill-opacity="0.64"/><path d="M5.0 3.1L-19.0 3.6L-17.8 -5.6Z" fill="#8e8e8e" fill-opacity="0.27"/><path d="M5.0 3.1L-17.8 -5.6L-12.6 -9.9Z" fill="#ffffff" fill-opacity="0.90"/><path d="M5.0 3.1L-12.6 -9.9L-3.2 -12.7Z" fill="#8e8e8e" fill-opacity="0.33"/><path d="M5.0 3.1L-3.2 -12.7L4.4 -12.6Z" fill="#ffffff" fill-opacity="0.73"/><path d="M5.0 3.1L4.4 -12.6L16.7 -6.9Z" fill="#8e8e8e" fill-opacity="0.38"/><ellipse rx="19.8" ry="12.9" fill="none" stroke="#ffffff" stroke-width="1" stroke-opacity="0.5"/><circle cx="-7.1" cy="-1.4" r="1.1" fill="#fff" opacity="0.7"/><circle cx="9.6" cy="-6.8" r="1.0" fill="#fff" opacity="0.7"/><circle cx="12.7" cy="-3.3" r="1.1" fill="#fff" opacity="0.7"/></g></g></g><g transform="translate(668 88.5)"><defs><clipPath id="c_may"><circle cx="75" cy="75" r="75"/></clipPath><linearGradient id="bg_may" x1="0" y1="0" x2="0" y2="1"><stop offset="0" stop-color="#d2d2d2"/><stop offset="1" stop-color="#c8c8c8"/></linearGradient><radialGradient id="g_may" cx="0.45" cy="0.4" r="0.65"><stop offset="0" stop-color="#109a52"/><stop offset="0.6" stop-color="#109a52"/><stop offset="1" stop-color="#005a28"/></radialGradient></defs><g clip-path="url(#c_may)"><rect width="150" height="150" fill="url(#bg_may)"/><g transform="translate(21 50) rotate(0)"><ellipse cx="1" cy="2" rx="21.8" ry="22.9" fill="#005a28" opacity="0.12"/><ellipse rx="19.8" ry="20.9" fill="url(#g_may)" stroke="#005a28" stroke-width="1.1" stroke-opacity="0.8"/><path d="M-7.7 -6.5L13.1 12.8L-1.4 18.8Z" fill="#50d090" fill-opacity="0.46"/><path d="M-7.7 -6.5L-1.4 18.8L-9.8 15.7Z" fill="#005a28" fill-opacity="0.49"/><path d="M-7.7 -6.5L-9.8 15.7L-17.0 5.7Z" fill="#50d090" fill-opacity="0.48"/><path d="M-7.7 -6.5L-17.0 5.7L-17.6 -2.8Z" fill="#005a28" fill-opacity="0.46"/><path d="M-7.7 -6.5L-17.6 -2.8L-9.2 -16.1Z" fill="#50d090" fill-opacity="0.52"/><path d="M-7.7 -6.5L-9.2 -16.1L-3.5 -18.4Z" fill="#005a28" fill-opacity="0.74"/><path d="M-7.7 -6.5L-3.5 -18.4L7.6 -17.0Z" fill="#50d090" fill-opacity="0.41"/><path d="M-7.7 -6.5L7.6 -17.0L16.0 -8.2Z" fill="#005a28" fill-opacity="0.49"/><path d="M-7.7 -6.5L16.0 -8.2L16.9 6.0Z" fill="#50d090" fill-opacity="0.42"/><path d="M-7.7 -6.5L16.9 6.0L13.1 12.8Z" fill="#005a28" fill-opacity="0.63"/><path d="M1.8 4.0L-4.7 6.1L-10.8 2.7L-12.7 -4.2L-9.5 -10.5L-3.0 -12.6L3.0 -9.2L5.0 -2.3Z" fill="#50d090" fill-opacity="0.23" stroke="#005a28" stroke-opacity="0.3" stroke-width="0.8"/><ellipse rx="17.8" ry="18.8" fill="none" stroke="#50d090" stroke-width="1" stroke-opacity="0.5"/><circle cx="-6.7" cy="2.1" r="1.2" fill="#fff" opacity="0.7"/><circle cx="10.8" cy="8.5" r="1.1" fill="#fff" opacity="0.7"/><circle cx="-7.0" cy="8.4" r="1.6" fill="#fff" opacity="0.7"/></g><g transform="translate(61 21) rotate(0)"><ellipse cx="1" cy="2" rx="20.7" ry="22.9" fill="#005a28" opacity="0.12"/><ellipse rx="18.7" ry="20.9" fill="url(#g_may)" stroke="#005a28" stroke-width="1.1" stroke-opacity="0.8"/><path d="M-7.0 3.9L-10.9 -14.3L1.6 -18.7Z" fill="#50d090" fill-opacity="0.49"/><path d="M-7.0 3.9L1.6 -18.7L10.9 -14.3Z" fill="#005a28" fill-opacity="0.72"/><path d="M-7.0 3.9L10.9 -14.3L15.5 -7.3Z" fill="#50d090" fill-opacity="0.57"/><path d="M-7.0 3.9L15.5 -7.3L15.7 6.7Z" fill="#005a28" fill-opacity="0.77"/><path d="M-7.0 3.9L15.7 6.7L10.9 14.3Z" fill="#50d090" fill-opacity="0.58"/><path d="M-7.0 3.9L10.9 14.3L2.2 18.7Z" fill="#005a28" fill-opacity="0.70"/><path d="M-7.0 3.9L2.2 18.7L-9.3 15.7Z" fill="#50d090" fill-opacity="0.40"/><path d="M-7.0 3.9L-9.3 15.7L-15.8 6.6Z" fill="#005a28" fill-opacity="0.48"/><path d="M-7.0 3.9L-15.8 6.6L-16.1 -5.4Z" fill="#50d090" fill-opacity="0.48"/><path d="M-7.0 3.9L-16.1 -5.4L-10.9 -14.3Z" fill="#005a28" fill-opacity="0.62"/><ellipse rx="16.8" ry="18.8" fill="none" stroke="#50d090" stroke-width="1" stroke-opacity="0.5"/><circle cx="-7.3" cy="-11.8" r="1.4" fill="#fff" opacity="0.7"/></g><g transform="translate(95 27) rotate(0)"><ellipse cx="1" cy="2" rx="25.1" ry="24.0" fill="#005a28" opacity="0.12"/><ellipse rx="23.1" ry="22.0" fill="url(#g_may)" stroke="#005a28" stroke-width="1.1" stroke-opacity="0.8"/><path d="M-2.3 8.0L-18.1 9.7L-20.7 1.3Z" fill="#50d090" fill-opacity="0.35"/><path d="M-2.3 8.0L-20.7 1.3L-17.6 -10.5Z" fill="#005a28" fill-opacity="0.49"/><path d="M-2.3 8.0L-17.6 -10.5L-13.8 -14.8Z" fill="#50d090" fill-opacity="0.41"/><path d="M-2.3 8.0L-13.8 -14.8L-2.6 -19.6Z" fill="#005a28" fill-opacity="0.68"/><path d="M-2.3 8.0L-2.6 -19.6L10.0 -17.3Z" fill="#50d090" fill-opacity="0.55"/><path d="M-2.3 8.0L10.0 -17.3L16.5 -12.0Z" fill="#005a28" fill-opacity="0.59"/><path d="M-2.3 8.0L16.5 -12.0L20.8 -0.5Z" fill="#50d090" fill-opacity="0.45"/><path d="M-2.3 8.0L20.8 -0.5L18.9 8.3Z" fill="#005a28" fill-opacity="0.70"/><path d="M-2.3 8.0L18.9 8.3L14.1 14.5Z" fill="#50d090" fill-opacity="0.39"/><path d="M-2.3 8.0L14.1 14.5L4.7 19.3Z" fill="#005a28" fill-opacity="0.55"/><path d="M-2.3 8.0L4.7 19.3L-11.0 16.8Z" fill="#50d090" fill-opacity="0.48"/><path d="M-2.3 8.0L-11.0 16.8L-18.1 9.7Z" fill="#005a28" fill-opacity="0.65"/><path d="M-9.5 9.9L-11.4 2.5L-7.3 -4.0L0.4 -5.8L7.2 -1.8L9.1 5.5L5.0 12.0L-2.7 13.8Z" fill="#50d090" fill-opacity="0.23" stroke="#005a28" stroke-opacity="0.3" stroke-width="0.8"/><ellipse rx="20.8" ry="19.8" fill="none" stroke="#50d090" stroke-width="1" stroke-opacity="0.5"/><circle cx="-0.4" cy="7.8" r="1.3" fill="#fff" opacity="0.7"/></g><g transform="translate(128 42) rotate(0)"><ellipse cx="1" cy="2" rx="24.0" ry="25.1" fill="#005a28" opacity="0.12"/><ellipse rx="22.0" ry="23.1" fill="url(#g_may)" stroke="#005a28" stroke-width="1.1" stroke-opacity="0.8"/><path d="M-0.0 6.1L-2.2 20.7L-16.2 11.9Z" fill="#50d090" fill-opacity="0.35"/><path d="M-0.0 6.1L-16.2 11.9L-19.8 0.3Z" fill="#005a28" fill-opacity="0.73"/><path d="M-0.0 6.1L-19.8 0.3L-15.5 -12.9Z" fill="#50d090" fill-opacity="0.33"/><path d="M-0.0 6.1L-15.5 -12.9L-0.1 -20.8Z" fill="#005a28" fill-opacity="0.64"/><path d="M-0.0 6.1L-0.1 -20.8L13.5 -15.2Z" fill="#50d090" fill-opacity="0.37"/><path d="M-0.0 6.1L13.5 -15.2L19.8 -1.4Z" fill="#005a28" fill-opacity="0.49"/><path d="M-0.0 6.1L19.8 -1.4L15.4 13.1Z" fill="#50d090" fill-opacity="0.54"/><path d="M-0.0 6.1L15.4 13.1L-2.2 20.7Z" fill="#005a28" fill-opacity="0.53"/><path d="M-0.3 13.4L-7.2 10.2L-9.9 2.7L-6.8 -4.5L0.3 -7.3L7.2 -4.1L9.9 3.4L6.8 10.6Z" fill="#50d090" fill-opacity="0.23" stroke="#005a28" stroke-opacity="0.3" stroke-width="0.8"/><ellipse rx="19.8" ry="20.8" fill="none" stroke="#50d090" stroke-width="1" stroke-opacity="0.5"/><circle cx="1.5" cy="0.4" r="1.4" fill="#fff" opacity="0.7"/><circle cx="0.1" cy="-7.6" r="1.0" fill="#fff" opacity="0.7"/></g><g transform="translate(84 62) rotate(0)"><ellipse cx="1" cy="2" rx="22.9" ry="21.8" fill="#005a28" opacity="0.12"/><ellipse rx="20.9" ry="19.8" fill="url(#g_may)" stroke="#005a28" stroke-width="1.1" stroke-opacity="0.8"/><path d="M1.9 -3.0L-8.0 16.1L-16.9 7.9Z" fill="#50d090" fill-opacity="0.37"/><path d="M1.9 -3.0L-16.9 7.9L-18.7 -2.1Z" fill="#005a28" fill-opacity="0.51"/><path d="M1.9 -3.0L-18.7 -2.1L-14.4 -11.5Z" fill="#50d090" fill-opacity="0.55"/><path d="M1.9 -3.0L-14.4 -11.5L-4.0 -17.4Z" fill="#005a28" fill-opacity="0.49"/><path d="M1.9 -3.0L-4.0 -17.4L8.0 -16.1Z" fill="#50d090" fill-opacity="0.56"/><path d="M1.9 -3.0L8.0 -16.1L17.4 -6.7Z" fill="#005a28" fill-opacity="0.53"/><path d="M1.9 -3.0L17.4 -6.7L18.8 0.5Z" fill="#50d090" fill-opacity="0.47"/><path d="M1.9 -3.0L18.8 0.5L12.5 13.3Z" fill="#005a28" fill-opacity="0.75"/><path d="M1.9 -3.0L12.5 13.3L1.5 17.8Z" fill="#50d090" fill-opacity="0.39"/><path d="M1.9 -3.0L1.5 17.8L-8.0 16.1Z" fill="#005a28" fill-opacity="0.76"/><path d="M-3.4 6.4L-8.0 1.2L-7.4 -5.6L-1.9 -10.0L5.3 -9.4L9.9 -4.2L9.3 2.6L3.8 7.0Z" fill="#50d090" fill-opacity="0.23" stroke="#005a28" stroke-opacity="0.3" stroke-width="0.8"/><ellipse rx="18.8" ry="17.8" fill="none" stroke="#50d090" stroke-width="1" stroke-opacity="0.5"/><circle cx="2.9" cy="9.4" r="1.0" fill="#fff" opacity="0.7"/><circle cx="-7.5" cy="7.5" r="1.1" fill="#fff" opacity="0.7"/></g><g transform="translate(56 77) rotate(0)"><ellipse cx="1" cy="2" rx="22.9" ry="22.9" fill="#005a28" opacity="0.12"/><ellipse rx="20.9" ry="20.9" fill="url(#g_may)" stroke="#005a28" stroke-width="1.1" stroke-opacity="0.8"/><path d="M-1.7 5.3L-6.4 -17.7L5.7 -17.9Z" fill="#50d090" fill-opacity="0.44"/><path d="M-1.7 5.3L5.7 -17.9L15.0 -11.3Z" fill="#005a28" fill-opacity="0.65"/><path d="M-1.7 5.3L15.0 -11.3L18.5 3.4Z" fill="#50d090" fill-opacity="0.49"/><path d="M-1.7 5.3L18.5 3.4L16.0 10.0Z" fill="#005a28" fill-opacity="0.57"/><path d="M-1.7 5.3L16.0 10.0L6.5 17.6Z" fill="#50d090" fill-opacity="0.33"/><path d="M-1.7 5.3L6.5 17.6L-9.0 16.5Z" fill="#005a28" fill-opacity="0.48"/><path d="M-1.7 5.3L-9.0 16.5L-16.8 8.5Z" fill="#50d090" fill-opacity="0.53"/><path d="M-1.7 5.3L-16.8 8.5L-18.7 -1.9Z" fill="#005a28" fill-opacity="0.72"/><path d="M-1.7 5.3L-18.7 -1.9L-13.2 -13.4Z" fill="#50d090" fill-opacity="0.58"/><path d="M-1.7 5.3L-13.2 -13.4L-6.4 -17.7Z" fill="#005a28" fill-opacity="0.52"/><path d="M-3.3 -6.4L3.8 -5.5L8.2 0.2L7.4 7.3L1.7 11.7L-5.5 10.8L-9.9 5.2L-9.0 -2.0Z" fill="#50d090" fill-opacity="0.23" stroke="#005a28" stroke-opacity="0.3" stroke-width="0.8"/><ellipse rx="18.8" ry="18.8" fill="none" stroke="#50d090" stroke-width="1" stroke-opacity="0.5"/><circle cx="-5.0" cy="10.3" r="1.3" fill="#fff" opacity="0.7"/><circle cx="-2.4" cy="7.0" r="1.0" fill="#fff" opacity="0.7"/></g><g transform="translate(120 77) rotate(0)"><ellipse cx="1" cy="2" rx="21.8" ry="22.9" fill="#005a28" opacity="0.12"/><ellipse rx="19.8" ry="20.9" fill="url(#g_may)" stroke="#005a28" stroke-width="1.1" stroke-opacity="0.8"/><path d="M1.7 5.8L3.9 -18.4L11.3 -14.5Z" fill="#50d090" fill-opacity="0.37"/><path d="M1.7 5.8L11.3 -14.5L16.8 -6.4Z" fill="#005a28" fill-opacity="0.74"/><path d="M1.7 5.8L16.8 -6.4L17.8 -0.5Z" fill="#50d090" fill-opacity="0.52"/><path d="M1.7 5.8L17.8 -0.5L12.9 13.0Z" fill="#005a28" fill-opacity="0.44"/><path d="M1.7 5.8L12.9 13.0L7.1 17.2Z" fill="#50d090" fill-opacity="0.47"/><path d="M1.7 5.8L7.1 17.2L-1.0 18.8Z" fill="#005a28" fill-opacity="0.77"/><path d="M1.7 5.8L-1.0 18.8L-10.5 15.2Z" fill="#50d090" fill-opacity="0.38"/><path d="M1.7 5.8L-10.5 15.2L-17.1 5.1Z" fill="#005a28" fill-opacity="0.73"/><path d="M1.7 5.8L-17.1 5.1L-17.8 -0.8Z" fill="#50d090" fill-opacity="0.43"/><path d="M1.7 5.8L-17.8 -0.8L-13.3 -12.5Z" fill="#005a28" fill-opacity="0.75"/><path d="M1.7 5.8L-13.3 -12.5L-7.6 -17.0Z" fill="#50d090" fill-opacity="0.39"/><path d="M1.7 5.8L-7.6 -17.0L3.9 -18.4Z" fill="#005a28" fill-opacity="0.46"/><ellipse rx="17.8" ry="18.8" fill="none" stroke="#50d090" stroke-width="1" stroke-opacity="0.5"/><circle cx="-6.0" cy="-0.2" r="1.6" fill="#fff" opacity="0.7"/><circle cx="-8.5" cy="-11.3" r="1.1" fill="#fff" opacity="0.7"/></g><g transform="translate(26 95) rotate(0)"><ellipse cx="1" cy="2" rx="24.0" ry="22.9" fill="#005a28" opacity="0.12"/><ellipse rx="22.0" ry="20.9" fill="url(#g_may)" stroke="#005a28" stroke-width="1.1" stroke-opacity="0.8"/><path d="M-8.0 -1.5L13.0 -14.2L17.6 -8.6Z" fill="#50d090" fill-opacity="0.58"/><path d="M-8.0 -1.5L17.6 -8.6L19.5 3.3Z" fill="#005a28" fill-opacity="0.59"/><path d="M-8.0 -1.5L19.5 3.3L15.2 12.0Z" fill="#50d090" fill-opacity="0.41"/><path d="M-8.0 -1.5L15.2 12.0L8.0 17.2Z" fill="#005a28" fill-opacity="0.76"/><path d="M-8.0 -1.5L8.0 17.2L-5.0 18.2Z" fill="#50d090" fill-opacity="0.42"/><path d="M-8.0 -1.5L-5.0 18.2L-13.5 13.8Z" fill="#005a28" fill-opacity="0.73"/><path d="M-8.0 -1.5L-13.5 13.8L-17.4 9.0Z" fill="#50d090" fill-opacity="0.48"/><path d="M-8.0 -1.5L-17.4 9.0L-19.3 -4.3Z" fill="#005a28" fill-opacity="0.49"/><path d="M-8.0 -1.5L-19.3 -4.3L-13.2 -14.1Z" fill="#50d090" fill-opacity="0.37"/><path d="M-8.0 -1.5L-13.2 -14.1L-5.9 -18.0Z" fill="#005a28" fill-opacity="0.44"/><path d="M-8.0 -1.5L-5.9 -18.0L1.9 -18.7Z" fill="#50d090" fill-opacity="0.55"/><path d="M-8.0 -1.5L1.9 -18.7L13.0 -14.2Z" fill="#005a28" fill-opacity="0.58"/><ellipse rx="19.8" ry="18.8" fill="none" stroke="#50d090" stroke-width="1" stroke-opacity="0.5"/><circle cx="-1.3" cy="-2.5" r="1.5" fill="#fff" opacity="0.7"/><circle cx="6.2" cy="10.3" r="1.4" fill="#fff" opacity="0.7"/></g><g transform="translate(90 97) rotate(0)"><ellipse cx="1" cy="2" rx="22.9" ry="21.8" fill="#005a28" opacity="0.12"/><ellipse rx="20.9" ry="19.8" fill="url(#g_may)" stroke="#005a28" stroke-width="1.1" stroke-opacity="0.8"/><path d="M6.9 -1.1L1.4 17.8L-8.0 16.1Z" fill="#50d090" fill-opacity="0.54"/><path d="M6.9 -1.1L-8.0 16.1L-17.6 6.4Z" fill="#005a28" fill-opacity="0.64"/><path d="M6.9 -1.1L-17.6 6.4L-18.8 0.2Z" fill="#50d090" fill-opacity="0.54"/><path d="M6.9 -1.1L-18.8 0.2L-15.2 -10.6Z" fill="#005a28" fill-opacity="0.57"/><path d="M6.9 -1.1L-15.2 -10.6L-10.1 -15.0Z" fill="#50d090" fill-opacity="0.33"/><path d="M6.9 -1.1L-10.1 -15.0L1.7 -17.7Z" fill="#005a28" fill-opacity="0.65"/><path d="M6.9 -1.1L1.7 -17.7L10.0 -15.1Z" fill="#50d090" fill-opacity="0.56"/><path d="M6.9 -1.1L10.0 -15.1L16.1 -9.2Z" fill="#005a28" fill-opacity="0.71"/><path d="M6.9 -1.1L16.1 -9.2L18.8 -0.0Z" fill="#50d090" fill-opacity="0.58"/><path d="M6.9 -1.1L18.8 -0.0L14.4 11.4Z" fill="#005a28" fill-opacity="0.46"/><path d="M6.9 -1.1L14.4 11.4L7.2 16.5Z" fill="#50d090" fill-opacity="0.54"/><path d="M6.9 -1.1L7.2 16.5L1.4 17.8Z" fill="#005a28" fill-opacity="0.67"/><path d="M3.0 8.3L-3.5 5.4L-6.0 -1.0L-2.9 -7.2L3.9 -9.5L10.4 -6.6L12.8 -0.1L9.8 6.0Z" fill="#50d090" fill-opacity="0.23" stroke="#005a28" stroke-opacity="0.3" stroke-width="0.8"/><ellipse rx="18.8" ry="17.8" fill="none" stroke="#50d090" stroke-width="1" stroke-opacity="0.5"/><circle cx="7.0" cy="-1.6" r="0.9" fill="#fff" opacity="0.7"/><circle cx="-10.2" cy="7.1" r="1.2" fill="#fff" opacity="0.7"/><circle cx="-0.4" cy="-3.5" r="1.4" fill="#fff" opacity="0.7"/></g><g transform="translate(138 95) rotate(0)"><ellipse cx="1" cy="2" rx="15.2" ry="18.5" fill="#005a28" opacity="0.12"/><ellipse rx="13.2" ry="16.5" fill="url(#g_may)" stroke="#005a28" stroke-width="1.1" stroke-opacity="0.8"/><path d="M-0.2 -5.8L-6.3 12.6L-9.4 9.1Z" fill="#50d090" fill-opacity="0.35"/><path d="M-0.2 -5.8L-9.4 9.1L-11.6 3.0Z" fill="#005a28" fill-opacity="0.53"/><path d="M-0.2 -5.8L-11.6 3.0L-11.0 -5.7Z" fill="#50d090" fill-opacity="0.42"/><path d="M-0.2 -5.8L-11.0 -5.7L-6.1 -12.7Z" fill="#005a28" fill-opacity="0.58"/><path d="M-0.2 -5.8L-6.1 -12.7L0.3 -14.8Z" fill="#50d090" fill-opacity="0.40"/><path d="M-0.2 -5.8L0.3 -14.8L6.2 -12.7Z" fill="#005a28" fill-opacity="0.64"/><path d="M-0.2 -5.8L6.2 -12.7L10.2 -7.6Z" fill="#50d090" fill-opacity="0.50"/><path d="M-0.2 -5.8L10.2 -7.6L11.7 -2.3Z" fill="#005a28" fill-opacity="0.69"/><path d="M-0.2 -5.8L11.7 -2.3L10.7 6.5Z" fill="#50d090" fill-opacity="0.49"/><path d="M-0.2 -5.8L10.7 6.5L6.4 12.5Z" fill="#005a28" fill-opacity="0.48"/><path d="M-0.2 -5.8L6.4 12.5L2.0 14.6Z" fill="#50d090" fill-opacity="0.50"/><path d="M-0.2 -5.8L2.0 14.6L-6.3 12.6Z" fill="#005a28" fill-opacity="0.47"/><ellipse rx="11.9" ry="14.8" fill="none" stroke="#50d090" stroke-width="1" stroke-opacity="0.5"/><circle cx="5.0" cy="7.3" r="0.9" fill="#fff" opacity="0.7"/><circle cx="-0.7" cy="-6.3" r="1.2" fill="#fff" opacity="0.7"/><circle cx="-5.8" cy="7.5" r="1.1" fill="#fff" opacity="0.7"/></g><g transform="translate(48 123) rotate(0)"><ellipse cx="1" cy="2" rx="22.9" ry="17.4" fill="#005a28" opacity="0.12"/><ellipse rx="20.9" ry="15.4" fill="url(#g_may)" stroke="#005a28" stroke-width="1.1" stroke-opacity="0.8"/><path d="M-1.9 4.9L-9.7 11.9L-17.6 4.8Z" fill="#50d090" fill-opacity="0.55"/><path d="M-1.9 4.9L-17.6 4.8L-18.6 -1.8Z" fill="#005a28" fill-opacity="0.70"/><path d="M-1.9 4.9L-18.6 -1.8L-13.8 -9.4Z" fill="#50d090" fill-opacity="0.33"/><path d="M-1.9 4.9L-13.8 -9.4L0.4 -13.9Z" fill="#005a28" fill-opacity="0.74"/><path d="M-1.9 4.9L0.4 -13.9L8.0 -12.5Z" fill="#50d090" fill-opacity="0.49"/><path d="M-1.9 4.9L8.0 -12.5L17.7 -4.6Z" fill="#005a28" fill-opacity="0.52"/><path d="M-1.9 4.9L17.7 -4.6L18.0 4.1Z" fill="#50d090" fill-opacity="0.36"/><path d="M-1.9 4.9L18.0 4.1L12.0 10.7Z" fill="#005a28" fill-opacity="0.46"/><path d="M-1.9 4.9L12.0 10.7L2.5 13.7Z" fill="#50d090" fill-opacity="0.53"/><path d="M-1.9 4.9L2.5 13.7L-9.7 11.9Z" fill="#005a28" fill-opacity="0.73"/><path d="M-5.8 8.4L-10.1 4.1L-9.0 -1.1L-3.2 -4.3L3.9 -3.5L8.2 0.8L7.1 6.0L1.4 9.2Z" fill="#50d090" fill-opacity="0.23" stroke="#005a28" stroke-opacity="0.3" stroke-width="0.8"/><ellipse rx="18.8" ry="13.9" fill="none" stroke="#50d090" stroke-width="1" stroke-opacity="0.5"/><circle cx="-6.6" cy="-2.4" r="1.1" fill="#fff" opacity="0.7"/></g><g transform="translate(85 130) rotate(0)"><ellipse cx="1" cy="2" rx="24.0" ry="24.0" fill="#005a28" opacity="0.12"/><ellipse rx="22.0" ry="22.0" fill="url(#g_may)" stroke="#005a28" stroke-width="1.1" stroke-opacity="0.8"/><path d="M0.3 8.1L6.2 -18.8L17.1 -9.9Z" fill="#50d090" fill-opacity="0.56"/><path d="M0.3 8.1L17.1 -9.9L19.6 2.7Z" fill="#005a28" fill-opacity="0.54"/><path d="M0.3 8.1L19.6 2.7L15.6 12.1Z" fill="#50d090" fill-opacity="0.38"/><path d="M0.3 8.1L15.6 12.1L6.2 18.8Z" fill="#005a28" fill-opacity="0.73"/><path d="M0.3 8.1L6.2 18.8L-6.2 18.8Z" fill="#50d090" fill-opacity="0.48"/><path d="M0.3 8.1L-6.2 18.8L-16.3 11.2Z" fill="#005a28" fill-opacity="0.75"/><path d="M0.3 8.1L-16.3 11.2L-19.1 -5.4Z" fill="#50d090" fill-opacity="0.41"/><path d="M0.3 8.1L-19.1 -5.4L-12.8 -15.1Z" fill="#005a28" fill-opacity="0.57"/><path d="M0.3 8.1L-12.8 -15.1L-2.4 -19.7Z" fill="#50d090" fill-opacity="0.51"/><path d="M0.3 8.1L-2.4 -19.7L6.2 -18.8Z" fill="#005a28" fill-opacity="0.74"/><path d="M4.4 -4.9L9.5 0.8L9.1 8.4L3.4 13.4L-4.1 13.0L-9.2 7.4L-8.8 -0.2L-3.1 -5.3Z" fill="#50d090" fill-opacity="0.23" stroke="#005a28" stroke-opacity="0.3" stroke-width="0.8"/><ellipse rx="19.8" ry="19.8" fill="none" stroke="#50d090" stroke-width="1" stroke-opacity="0.5"/><circle cx="5.6" cy="3.5" r="1.0" fill="#fff" opacity="0.7"/><circle cx="-7.5" cy="-12.7" r="1.4" fill="#fff" opacity="0.7"/></g><g transform="translate(120 120) rotate(0)"><ellipse cx="1" cy="2" rx="21.8" ry="17.4" fill="#005a28" opacity="0.12"/><ellipse rx="19.8" ry="15.4" fill="url(#g_may)" stroke="#005a28" stroke-width="1.1" stroke-opacity="0.8"/><path d="M1.6 2.1L-9.6 -11.7L0.3 -13.9Z" fill="#50d090" fill-opacity="0.44"/><path d="M1.6 2.1L0.3 -13.9L9.9 -11.5Z" fill="#005a28" fill-opacity="0.68"/><path d="M1.6 2.1L9.9 -11.5L17.2 -3.6Z" fill="#50d090" fill-opacity="0.42"/><path d="M1.6 2.1L17.2 -3.6L16.8 4.6Z" fill="#005a28" fill-opacity="0.58"/><path d="M1.6 2.1L16.8 4.6L10.7 11.1Z" fill="#50d090" fill-opacity="0.47"/><path d="M1.6 2.1L10.7 11.1L-1.9 13.8Z" fill="#005a28" fill-opacity="0.77"/><path d="M1.6 2.1L-1.9 13.8L-12.0 10.2Z" fill="#50d090" fill-opacity="0.33"/><path d="M1.6 2.1L-12.0 10.2L-17.7 1.6Z" fill="#005a28" fill-opacity="0.59"/><path d="M1.6 2.1L-17.7 1.6L-15.5 -6.9Z" fill="#50d090" fill-opacity="0.41"/><path d="M1.6 2.1L-15.5 -6.9L-9.6 -11.7Z" fill="#005a28" fill-opacity="0.71"/><ellipse rx="17.8" ry="13.9" fill="none" stroke="#50d090" stroke-width="1" stroke-opacity="0.5"/><circle cx="-1.9" cy="0.2" r="1.4" fill="#fff" opacity="0.7"/><circle cx="10.7" cy="6.6" r="1.4" fill="#fff" opacity="0.7"/></g><g transform="translate(40 145) rotate(0)"><ellipse cx="1" cy="2" rx="18.5" ry="10.8" fill="#005a28" opacity="0.12"/><ellipse rx="16.5" ry="8.8" fill="url(#g_may)" stroke="#005a28" stroke-width="1.1" stroke-opacity="0.8"/><path d="M-0.1 0.2L14.8 0.7L10.8 5.4Z" fill="#50d090" fill-opacity="0.57"/><path d="M-0.1 0.2L10.8 5.4L3.1 7.7Z" fill="#005a28" fill-opacity="0.47"/><path d="M-0.1 0.2L3.1 7.7L-4.5 7.6Z" fill="#50d090" fill-opacity="0.49"/><path d="M-0.1 0.2L-4.5 7.6L-8.8 6.4Z" fill="#005a28" fill-opacity="0.64"/><path d="M-0.1 0.2L-8.8 6.4L-14.5 1.6Z" fill="#50d090" fill-opacity="0.39"/><path d="M-0.1 0.2L-14.5 1.6L-14.8 -0.8Z" fill="#005a28" fill-opacity="0.43"/><path d="M-0.1 0.2L-14.8 -0.8L-11.5 -5.0Z" fill="#50d090" fill-opacity="0.57"/><path d="M-0.1 0.2L-11.5 -5.0L-6.5 -7.1Z" fill="#005a28" fill-opacity="0.67"/><path d="M-0.1 0.2L-6.5 -7.1L3.0 -7.8Z" fill="#50d090" fill-opacity="0.48"/><path d="M-0.1 0.2L3.0 -7.8L9.1 -6.2Z" fill="#005a28" fill-opacity="0.46"/><path d="M-0.1 0.2L9.1 -6.2L14.2 -2.3Z" fill="#50d090" fill-opacity="0.56"/><path d="M-0.1 0.2L14.2 -2.3L14.8 0.7Z" fill="#005a28" fill-opacity="0.56"/><ellipse rx="14.8" ry="7.9" fill="none" stroke="#50d090" stroke-width="1" stroke-opacity="0.5"/><circle cx="-8.0" cy="-4.1" r="1.2" fill="#fff" opacity="0.7"/><circle cx="2.8" cy="-1.2" r="1.0" fill="#fff" opacity="0.7"/><circle cx="5.9" cy="-4.5" r="1.1" fill="#fff" opacity="0.7"/></g></g></g><g transform="translate(832.5 88.5)"><defs><clipPath id="c_jun"><circle cx="75" cy="75" r="75"/></clipPath><linearGradient id="bg_jun" x1="0" y1="0" x2="0" y2="1"><stop offset="0" stop-color="#d0d0d0"/><stop offset="1" stop-color="#c4c4c4"/></linearGradient><radialGradient id="g_jun" cx="0.45" cy="0.4" r="0.65"><stop offset="0" stop-color="#d0c8e8"/><stop offset="0.6" stop-color="#d0c8e8"/><stop offset="1" stop-color="#968cc0"/></radialGradient></defs><g clip-path="url(#c_jun)"><rect width="150" height="150" fill="url(#bg_jun)"/><g transform="translate(73 12) rotate(0)"><ellipse cx="1" cy="2" rx="20.7" ry="15.2" fill="#968cc0" opacity="0.12"/><ellipse rx="18.7" ry="13.2" fill="url(#g_jun)" stroke="#968cc0" stroke-width="1.1" stroke-opacity="0.8"/><path d="M2.1 -0.7L13.9 6.7L6.9 10.8Z" fill="#f6f4fc" fill-opacity="0.76"/><path d="M2.1 -0.7L6.9 10.8L0.4 11.9Z" fill="#968cc0" fill-opacity="0.23"/><path d="M2.1 -0.7L0.4 11.9L-10.7 9.2Z" fill="#f6f4fc" fill-opacity="0.60"/><path d="M2.1 -0.7L-10.7 9.2L-15.6 4.4Z" fill="#968cc0" fill-opacity="0.29"/><path d="M2.1 -0.7L-15.6 4.4L-16.8 -0.7Z" fill="#f6f4fc" fill-opacity="0.51"/><path d="M2.1 -0.7L-16.8 -0.7L-12.9 -7.7Z" fill="#968cc0" fill-opacity="0.28"/><path d="M2.1 -0.7L-12.9 -7.7L-6.1 -11.1Z" fill="#f6f4fc" fill-opacity="0.68"/><path d="M2.1 -0.7L-6.1 -11.1L1.0 -11.9Z" fill="#968cc0" fill-opacity="0.37"/><path d="M2.1 -0.7L1.0 -11.9L11.9 -8.4Z" fill="#f6f4fc" fill-opacity="0.73"/><path d="M2.1 -0.7L11.9 -8.4L15.9 -3.8Z" fill="#968cc0" fill-opacity="0.39"/><path d="M2.1 -0.7L15.9 -3.8L16.8 1.0Z" fill="#f6f4fc" fill-opacity="0.60"/><path d="M2.1 -0.7L16.8 1.0L13.9 6.7Z" fill="#968cc0" fill-opacity="0.24"/><path d="M7.8 3.2L2.3 5.5L-4.0 4.4L-7.3 0.5L-5.7 -3.9L-0.2 -6.3L6.1 -5.1L9.4 -1.2Z" fill="#f6f4fc" fill-opacity="0.30" stroke="#968cc0" stroke-opacity="0.3" stroke-width="0.8"/><ellipse rx="16.8" ry="11.9" fill="none" stroke="#f6f4fc" stroke-width="1" stroke-opacity="0.5"/><circle cx="5.5" cy="6.2" r="0.9" fill="#fff" opacity="0.7"/></g><g transform="translate(37 37) rotate(0)"><ellipse cx="1" cy="2" rx="21.8" ry="20.7" fill="#968cc0" opacity="0.12"/><ellipse rx="19.8" ry="18.7" fill="url(#g_jun)" stroke="#968cc0" stroke-width="1.1" stroke-opacity="0.8"/><path d="M4.3 -3.1L-12.6 11.9L-17.7 2.1Z" fill="#f6f4fc" fill-opacity="0.61"/><path d="M4.3 -3.1L-17.7 2.1L-13.6 -10.9Z" fill="#968cc0" fill-opacity="0.31"/><path d="M4.3 -3.1L-13.6 -10.9L-3.8 -16.4Z" fill="#f6f4fc" fill-opacity="0.53"/><path d="M4.3 -3.1L-3.8 -16.4L10.0 -13.9Z" fill="#968cc0" fill-opacity="0.39"/><path d="M4.3 -3.1L10.0 -13.9L17.8 -1.1Z" fill="#f6f4fc" fill-opacity="0.47"/><path d="M4.3 -3.1L17.8 -1.1L13.3 11.2Z" fill="#968cc0" fill-opacity="0.36"/><path d="M4.3 -3.1L13.3 11.2L4.3 16.3Z" fill="#f6f4fc" fill-opacity="0.74"/><path d="M4.3 -3.1L4.3 16.3L-12.6 11.9Z" fill="#968cc0" fill-opacity="0.25"/><path d="M-3.4 5.1L-6.7 -0.5L-4.9 -6.7L1.1 -9.9L7.7 -8.2L11.0 -2.6L9.2 3.7L3.2 6.8Z" fill="#f6f4fc" fill-opacity="0.30" stroke="#968cc0" stroke-opacity="0.3" stroke-width="0.8"/><ellipse rx="17.8" ry="16.8" fill="none" stroke="#f6f4fc" stroke-width="1" stroke-opacity="0.5"/><circle cx="-11.2" cy="5.6" r="1.2" fill="#fff" opacity="0.7"/></g><g transform="translate(114 30) rotate(0)"><ellipse cx="1" cy="2" rx="17.4" ry="18.5" fill="#968cc0" opacity="0.12"/><ellipse rx="15.4" ry="16.5" fill="url(#g_jun)" stroke="#968cc0" stroke-width="1.1" stroke-opacity="0.8"/><path d="M4.8 0.9L9.8 -10.5L13.1 -4.7Z" fill="#f6f4fc" fill-opacity="0.56"/><path d="M4.8 0.9L13.1 -4.7L12.7 5.9Z" fill="#968cc0" fill-opacity="0.37"/><path d="M4.8 0.9L12.7 5.9L5.9 13.4Z" fill="#f6f4fc" fill-opacity="0.73"/><path d="M4.8 0.9L5.9 13.4L-3.6 14.4Z" fill="#968cc0" fill-opacity="0.36"/><path d="M4.8 0.9L-3.6 14.4L-8.2 12.0Z" fill="#f6f4fc" fill-opacity="0.66"/><path d="M4.8 0.9L-8.2 12.0L-13.7 2.3Z" fill="#968cc0" fill-opacity="0.34"/><path d="M4.8 0.9L-13.7 2.3L-13.2 -4.5Z" fill="#f6f4fc" fill-opacity="0.49"/><path d="M4.8 0.9L-13.2 -4.5L-6.8 -12.9Z" fill="#968cc0" fill-opacity="0.27"/><path d="M4.8 0.9L-6.8 -12.9L-0.2 -14.8Z" fill="#f6f4fc" fill-opacity="0.51"/><path d="M4.8 0.9L-0.2 -14.8L9.8 -10.5Z" fill="#968cc0" fill-opacity="0.34"/><ellipse rx="13.9" ry="14.8" fill="none" stroke="#f6f4fc" stroke-width="1" stroke-opacity="0.5"/><circle cx="3.7" cy="3.3" r="1.0" fill="#fff" opacity="0.7"/><circle cx="-4.4" cy="-1.6" r="0.8" fill="#fff" opacity="0.7"/></g><g transform="translate(10 50) rotate(0)"><ellipse cx="1" cy="2" rx="15.2" ry="20.7" fill="#968cc0" opacity="0.12"/><ellipse rx="13.2" ry="18.7" fill="url(#g_jun)" stroke="#968cc0" stroke-width="1.1" stroke-opacity="0.8"/><path d="M-2.1 -3.9L9.8 9.6L0.9 16.8Z" fill="#f6f4fc" fill-opacity="0.78"/><path d="M-2.1 -3.9L0.9 16.8L-6.7 13.9Z" fill="#968cc0" fill-opacity="0.37"/><path d="M-2.1 -3.9L-6.7 13.9L-11.6 3.5Z" fill="#f6f4fc" fill-opacity="0.59"/><path d="M-2.1 -3.9L-11.6 3.5L-10.1 -8.9Z" fill="#968cc0" fill-opacity="0.27"/><path d="M-2.1 -3.9L-10.1 -8.9L-1.6 -16.7Z" fill="#f6f4fc" fill-opacity="0.50"/><path d="M-2.1 -3.9L-1.6 -16.7L5.1 -15.2Z" fill="#968cc0" fill-opacity="0.31"/><path d="M-2.1 -3.9L5.1 -15.2L11.6 -3.7Z" fill="#f6f4fc" fill-opacity="0.46"/><path d="M-2.1 -3.9L11.6 -3.7L9.8 9.6Z" fill="#968cc0" fill-opacity="0.34"/><ellipse rx="11.9" ry="16.8" fill="none" stroke="#f6f4fc" stroke-width="1" stroke-opacity="0.5"/><circle cx="-7.6" cy="1.7" r="1.5" fill="#fff" opacity="0.7"/></g><g transform="translate(76 56) rotate(0)"><ellipse cx="1" cy="2" rx="20.7" ry="20.7" fill="#968cc0" opacity="0.12"/><ellipse rx="18.7" ry="18.7" fill="url(#g_jun)" stroke="#968cc0" stroke-width="1.1" stroke-opacity="0.8"/><path d="M-4.3 -2.8L15.1 -7.3L16.0 5.2Z" fill="#f6f4fc" fill-opacity="0.63"/><path d="M-4.3 -2.8L16.0 5.2L5.8 15.8Z" fill="#968cc0" fill-opacity="0.26"/><path d="M-4.3 -2.8L5.8 15.8L-9.2 14.1Z" fill="#f6f4fc" fill-opacity="0.48"/><path d="M-4.3 -2.8L-9.2 14.1L-15.7 6.0Z" fill="#968cc0" fill-opacity="0.39"/><path d="M-4.3 -2.8L-15.7 6.0L-14.9 -7.9Z" fill="#f6f4fc" fill-opacity="0.63"/><path d="M-4.3 -2.8L-14.9 -7.9L-3.4 -16.5Z" fill="#968cc0" fill-opacity="0.26"/><path d="M-4.3 -2.8L-3.4 -16.5L5.9 -15.8Z" fill="#f6f4fc" fill-opacity="0.73"/><path d="M-4.3 -2.8L5.9 -15.8L15.1 -7.3Z" fill="#968cc0" fill-opacity="0.23"/><ellipse rx="16.8" ry="16.8" fill="none" stroke="#f6f4fc" stroke-width="1" stroke-opacity="0.5"/><circle cx="9.5" cy="0.2" r="1.1" fill="#fff" opacity="0.7"/></g><g transform="translate(118 56) rotate(0)"><ellipse cx="1" cy="2" rx="21.8" ry="21.8" fill="#968cc0" opacity="0.12"/><ellipse rx="19.8" ry="19.8" fill="url(#g_jun)" stroke="#968cc0" stroke-width="1.1" stroke-opacity="0.8"/><path d="M-2.0 -3.5L12.9 12.3L0.5 17.8Z" fill="#f6f4fc" fill-opacity="0.65"/><path d="M-2.0 -3.5L0.5 17.8L-9.3 15.2Z" fill="#968cc0" fill-opacity="0.26"/><path d="M-2.0 -3.5L-9.3 15.2L-15.7 8.4Z" fill="#f6f4fc" fill-opacity="0.52"/><path d="M-2.0 -3.5L-15.7 8.4L-17.8 -1.0Z" fill="#968cc0" fill-opacity="0.38"/><path d="M-2.0 -3.5L-17.8 -1.0L-10.8 -14.2Z" fill="#f6f4fc" fill-opacity="0.68"/><path d="M-2.0 -3.5L-10.8 -14.2L-1.6 -17.8Z" fill="#968cc0" fill-opacity="0.38"/><path d="M-2.0 -3.5L-1.6 -17.8L8.2 -15.8Z" fill="#f6f4fc" fill-opacity="0.71"/><path d="M-2.0 -3.5L8.2 -15.8L14.9 -9.8Z" fill="#968cc0" fill-opacity="0.37"/><path d="M-2.0 -3.5L14.9 -9.8L17.0 5.3Z" fill="#f6f4fc" fill-opacity="0.75"/><path d="M-2.0 -3.5L17.0 5.3L12.9 12.3Z" fill="#968cc0" fill-opacity="0.26"/><path d="M5.3 4.5L-1.0 7.1L-7.3 4.6L-9.9 -1.7L-7.3 -8.0L-1.0 -10.7L5.3 -8.1L7.9 -1.8Z" fill="#f6f4fc" fill-opacity="0.30" stroke="#968cc0" stroke-opacity="0.3" stroke-width="0.8"/><ellipse rx="17.8" ry="17.8" fill="none" stroke="#f6f4fc" stroke-width="1" stroke-opacity="0.5"/><circle cx="0.7" cy="-11.8" r="0.8" fill="#fff" opacity="0.7"/></g><g transform="translate(40 65) rotate(0)"><ellipse cx="1" cy="2" rx="21.8" ry="20.7" fill="#968cc0" opacity="0.12"/><ellipse rx="19.8" ry="18.7" fill="url(#g_jun)" stroke="#968cc0" stroke-width="1.1" stroke-opacity="0.8"/><path d="M0.1 -3.5L6.5 -15.7L13.6 -10.9Z" fill="#f6f4fc" fill-opacity="0.57"/><path d="M0.1 -3.5L13.6 -10.9L17.8 0.9Z" fill="#968cc0" fill-opacity="0.24"/><path d="M0.1 -3.5L17.8 0.9L14.5 9.8Z" fill="#f6f4fc" fill-opacity="0.48"/><path d="M0.1 -3.5L14.5 9.8L8.5 14.8Z" fill="#968cc0" fill-opacity="0.28"/><path d="M0.1 -3.5L8.5 14.8L3.1 16.6Z" fill="#f6f4fc" fill-opacity="0.71"/><path d="M0.1 -3.5L3.1 16.6L-10.1 13.9Z" fill="#968cc0" fill-opacity="0.36"/><path d="M0.1 -3.5L-10.1 13.9L-15.5 8.2Z" fill="#f6f4fc" fill-opacity="0.57"/><path d="M0.1 -3.5L-15.5 8.2L-17.8 -1.2Z" fill="#968cc0" fill-opacity="0.25"/><path d="M0.1 -3.5L-17.8 -1.2L-15.4 -8.5Z" fill="#f6f4fc" fill-opacity="0.46"/><path d="M0.1 -3.5L-15.4 -8.5L-8.7 -14.7Z" fill="#968cc0" fill-opacity="0.26"/><path d="M0.1 -3.5L-8.7 -14.7L1.3 -16.8Z" fill="#f6f4fc" fill-opacity="0.73"/><path d="M0.1 -3.5L1.3 -16.8L6.5 -15.7Z" fill="#968cc0" fill-opacity="0.22"/><ellipse rx="17.8" ry="16.8" fill="none" stroke="#f6f4fc" stroke-width="1" stroke-opacity="0.5"/><circle cx="0.9" cy="4.9" r="0.8" fill="#fff" opacity="0.7"/><circle cx="-1.0" cy="4.5" r="0.9" fill="#fff" opacity="0.7"/><circle cx="-5.2" cy="-0.2" r="1.5" fill="#fff" opacity="0.7"/></g><g transform="translate(20 85) rotate(0)"><ellipse cx="1" cy="2" rx="24.0" ry="21.8" fill="#968cc0" opacity="0.12"/><ellipse rx="22.0" ry="19.8" fill="url(#g_jun)" stroke="#968cc0" stroke-width="1.1" stroke-opacity="0.8"/><path d="M1.4 1.9L19.8 0.5L15.2 11.5Z" fill="#f6f4fc" fill-opacity="0.49"/><path d="M1.4 1.9L15.2 11.5L8.0 16.3Z" fill="#968cc0" fill-opacity="0.31"/><path d="M1.4 1.9L8.0 16.3L0.9 17.8Z" fill="#f6f4fc" fill-opacity="0.63"/><path d="M1.4 1.9L0.9 17.8L-10.7 15.0Z" fill="#968cc0" fill-opacity="0.30"/><path d="M1.4 1.9L-10.7 15.0L-18.7 5.7Z" fill="#f6f4fc" fill-opacity="0.56"/><path d="M1.4 1.9L-18.7 5.7L-19.8 0.5Z" fill="#968cc0" fill-opacity="0.33"/><path d="M1.4 1.9L-19.8 0.5L-15.6 -11.0Z" fill="#f6f4fc" fill-opacity="0.71"/><path d="M1.4 1.9L-15.6 -11.0L-8.5 -16.1Z" fill="#968cc0" fill-opacity="0.23"/><path d="M1.4 1.9L-8.5 -16.1L-0.1 -17.8Z" fill="#f6f4fc" fill-opacity="0.71"/><path d="M1.4 1.9L-0.1 -17.8L11.3 -14.7Z" fill="#968cc0" fill-opacity="0.22"/><path d="M1.4 1.9L11.3 -14.7L18.6 -6.0Z" fill="#f6f4fc" fill-opacity="0.78"/><path d="M1.4 1.9L18.6 -6.0L19.8 0.5Z" fill="#968cc0" fill-opacity="0.27"/><ellipse rx="19.8" ry="17.8" fill="none" stroke="#f6f4fc" stroke-width="1" stroke-opacity="0.5"/><circle cx="-9.0" cy="3.8" r="1.2" fill="#fff" opacity="0.7"/></g><g transform="translate(64 85) rotate(0)"><ellipse cx="1" cy="2" rx="21.8" ry="19.6" fill="#968cc0" opacity="0.12"/><ellipse rx="19.8" ry="17.6" fill="url(#g_jun)" stroke="#968cc0" stroke-width="1.1" stroke-opacity="0.8"/><path d="M-3.8 5.8L-11.4 12.1L-17.8 1.4Z" fill="#f6f4fc" fill-opacity="0.47"/><path d="M-3.8 5.8L-17.8 1.4L-14.2 -9.5Z" fill="#968cc0" fill-opacity="0.39"/><path d="M-3.8 5.8L-14.2 -9.5L-2.3 -15.7Z" fill="#f6f4fc" fill-opacity="0.54"/><path d="M-3.8 5.8L-2.3 -15.7L8.7 -13.8Z" fill="#968cc0" fill-opacity="0.32"/><path d="M-3.8 5.8L8.7 -13.8L17.0 -4.7Z" fill="#f6f4fc" fill-opacity="0.43"/><path d="M-3.8 5.8L17.0 -4.7L16.2 6.6Z" fill="#968cc0" fill-opacity="0.32"/><path d="M-3.8 5.8L16.2 6.6L6.4 14.8Z" fill="#f6f4fc" fill-opacity="0.66"/><path d="M-3.8 5.8L6.4 14.8L-11.4 12.1Z" fill="#968cc0" fill-opacity="0.33"/><ellipse rx="17.8" ry="15.8" fill="none" stroke="#f6f4fc" stroke-width="1" stroke-opacity="0.5"/><circle cx="0.8" cy="8.3" r="1.1" fill="#fff" opacity="0.7"/></g><g transform="translate(102 85) rotate(0)"><ellipse cx="1" cy="2" rx="21.8" ry="21.8" fill="#968cc0" opacity="0.12"/><ellipse rx="19.8" ry="19.8" fill="url(#g_jun)" stroke="#968cc0" stroke-width="1.1" stroke-opacity="0.8"/><path d="M-3.9 -7.8L-17.0 5.5L-15.4 -8.9Z" fill="#f6f4fc" fill-opacity="0.76"/><path d="M-3.9 -7.8L-15.4 -8.9L-5.8 -16.8Z" fill="#968cc0" fill-opacity="0.29"/><path d="M-3.9 -7.8L-5.8 -16.8L10.5 -14.4Z" fill="#f6f4fc" fill-opacity="0.56"/><path d="M-3.9 -7.8L10.5 -14.4L16.6 -6.6Z" fill="#968cc0" fill-opacity="0.32"/><path d="M-3.9 -7.8L16.6 -6.6L15.2 9.2Z" fill="#f6f4fc" fill-opacity="0.48"/><path d="M-3.9 -7.8L15.2 9.2L5.3 17.0Z" fill="#968cc0" fill-opacity="0.35"/><path d="M-3.9 -7.8L5.3 17.0L-7.7 16.1Z" fill="#f6f4fc" fill-opacity="0.71"/><path d="M-3.9 -7.8L-7.7 16.1L-17.0 5.5Z" fill="#968cc0" fill-opacity="0.32"/><path d="M-10.6 -1.8L-9.5 -8.6L-4.0 -12.6L2.7 -11.5L6.7 -6.0L5.7 0.7L0.2 4.7L-6.6 3.7Z" fill="#f6f4fc" fill-opacity="0.30" stroke="#968cc0" stroke-opacity="0.3" stroke-width="0.8"/><ellipse rx="17.8" ry="17.8" fill="none" stroke="#f6f4fc" stroke-width="1" stroke-opacity="0.5"/><circle cx="-10.9" cy="4.5" r="0.8" fill="#fff" opacity="0.7"/></g><g transform="translate(130 75) rotate(0)"><ellipse cx="1" cy="2" rx="21.8" ry="18.5" fill="#968cc0" opacity="0.12"/><ellipse rx="19.8" ry="16.5" fill="url(#g_jun)" stroke="#968cc0" stroke-width="1.1" stroke-opacity="0.8"/><path d="M7.9 1.6L-8.9 12.9L-14.3 8.8Z" fill="#f6f4fc" fill-opacity="0.60"/><path d="M7.9 1.6L-14.3 8.8L-17.8 -0.0Z" fill="#968cc0" fill-opacity="0.35"/><path d="M7.9 1.6L-17.8 -0.0L-15.9 -6.8Z" fill="#f6f4fc" fill-opacity="0.76"/><path d="M7.9 1.6L-15.9 -6.8L-10.5 -12.0Z" fill="#968cc0" fill-opacity="0.30"/><path d="M7.9 1.6L-10.5 -12.0L0.4 -14.8Z" fill="#f6f4fc" fill-opacity="0.61"/><path d="M7.9 1.6L0.4 -14.8L5.9 -14.0Z" fill="#968cc0" fill-opacity="0.22"/><path d="M7.9 1.6L5.9 -14.0L14.2 -9.0Z" fill="#f6f4fc" fill-opacity="0.54"/><path d="M7.9 1.6L14.2 -9.0L17.8 -1.2Z" fill="#968cc0" fill-opacity="0.35"/><path d="M7.9 1.6L17.8 -1.2L15.6 7.1Z" fill="#f6f4fc" fill-opacity="0.58"/><path d="M7.9 1.6L15.6 7.1L9.5 12.5Z" fill="#968cc0" fill-opacity="0.22"/><path d="M7.9 1.6L9.5 12.5L3.2 14.6Z" fill="#f6f4fc" fill-opacity="0.74"/><path d="M7.9 1.6L3.2 14.6L-8.9 12.9Z" fill="#968cc0" fill-opacity="0.23"/><path d="M0.3 7.6L-4.4 3.4L-4.2 -2.2L0.8 -6.1L7.6 -6.0L12.3 -1.9L12.1 3.8L7.1 7.7Z" fill="#f6f4fc" fill-opacity="0.30" stroke="#968cc0" stroke-opacity="0.3" stroke-width="0.8"/><ellipse rx="17.8" ry="14.8" fill="none" stroke="#f6f4fc" stroke-width="1" stroke-opacity="0.5"/><circle cx="7.7" cy="-2.7" r="0.8" fill="#fff" opacity="0.7"/><circle cx="-3.8" cy="-4.0" r="1.1" fill="#fff" opacity="0.7"/><circle cx="5.3" cy="4.2" r="1.1" fill="#fff" opacity="0.7"/></g><g transform="translate(40 100) rotate(0)"><ellipse cx="1" cy="2" rx="21.8" ry="20.7" fill="#968cc0" opacity="0.12"/><ellipse rx="19.8" ry="18.7" fill="url(#g_jun)" stroke="#968cc0" stroke-width="1.1" stroke-opacity="0.8"/><path d="M-7.9 3.4L10.0 -13.9L15.3 -8.6Z" fill="#f6f4fc" fill-opacity="0.52"/><path d="M-7.9 3.4L15.3 -8.6L17.5 3.1Z" fill="#968cc0" fill-opacity="0.32"/><path d="M-7.9 3.4L17.5 3.1L13.5 11.0Z" fill="#f6f4fc" fill-opacity="0.66"/><path d="M-7.9 3.4L13.5 11.0L8.8 14.7Z" fill="#968cc0" fill-opacity="0.30"/><path d="M-7.9 3.4L8.8 14.7L-1.9 16.7Z" fill="#f6f4fc" fill-opacity="0.47"/><path d="M-7.9 3.4L-1.9 16.7L-9.5 14.3Z" fill="#968cc0" fill-opacity="0.32"/><path d="M-7.9 3.4L-9.5 14.3L-16.9 5.3Z" fill="#f6f4fc" fill-opacity="0.49"/><path d="M-7.9 3.4L-16.9 5.3L-17.6 -2.8Z" fill="#968cc0" fill-opacity="0.30"/><path d="M-7.9 3.4L-17.6 -2.8L-13.6 -10.9Z" fill="#f6f4fc" fill-opacity="0.75"/><path d="M-7.9 3.4L-13.6 -10.9L-7.2 -15.4Z" fill="#968cc0" fill-opacity="0.31"/><path d="M-7.9 3.4L-7.2 -15.4L0.9 -16.8Z" fill="#f6f4fc" fill-opacity="0.66"/><path d="M-7.9 3.4L0.9 -16.8L10.0 -13.9Z" fill="#968cc0" fill-opacity="0.25"/><ellipse rx="17.8" ry="16.8" fill="none" stroke="#f6f4fc" stroke-width="1" stroke-opacity="0.5"/><circle cx="-0.0" cy="-5.9" r="1.1" fill="#fff" opacity="0.7"/></g><g transform="translate(80 112) rotate(0)"><ellipse cx="1" cy="2" rx="21.8" ry="21.8" fill="#968cc0" opacity="0.12"/><ellipse rx="19.8" ry="19.8" fill="url(#g_jun)" stroke="#968cc0" stroke-width="1.1" stroke-opacity="0.8"/><path d="M-6.8 0.2L16.6 6.5L14.0 11.0Z" fill="#f6f4fc" fill-opacity="0.59"/><path d="M-6.8 0.2L14.0 11.0L3.2 17.5Z" fill="#968cc0" fill-opacity="0.35"/><path d="M-6.8 0.2L3.2 17.5L-4.7 17.2Z" fill="#f6f4fc" fill-opacity="0.60"/><path d="M-6.8 0.2L-4.7 17.2L-14.1 10.9Z" fill="#968cc0" fill-opacity="0.35"/><path d="M-6.8 0.2L-14.1 10.9L-16.4 6.9Z" fill="#f6f4fc" fill-opacity="0.73"/><path d="M-6.8 0.2L-16.4 6.9L-16.6 -6.5Z" fill="#968cc0" fill-opacity="0.37"/><path d="M-6.8 0.2L-16.6 -6.5L-11.9 -13.3Z" fill="#f6f4fc" fill-opacity="0.75"/><path d="M-6.8 0.2L-11.9 -13.3L-3.4 -17.5Z" fill="#968cc0" fill-opacity="0.35"/><path d="M-6.8 0.2L-3.4 -17.5L4.0 -17.4Z" fill="#f6f4fc" fill-opacity="0.74"/><path d="M-6.8 0.2L4.0 -17.4L14.0 -11.0Z" fill="#968cc0" fill-opacity="0.23"/><path d="M-6.8 0.2L14.0 -11.0L17.3 -4.1Z" fill="#f6f4fc" fill-opacity="0.64"/><path d="M-6.8 0.2L17.3 -4.1L16.6 6.5Z" fill="#968cc0" fill-opacity="0.32"/><ellipse rx="17.8" ry="17.8" fill="none" stroke="#f6f4fc" stroke-width="1" stroke-opacity="0.5"/><circle cx="7.8" cy="-7.5" r="1.3" fill="#fff" opacity="0.7"/><circle cx="5.7" cy="-3.1" r="1.1" fill="#fff" opacity="0.7"/><circle cx="-6.8" cy="5.6" r="0.8" fill="#fff" opacity="0.7"/></g><g transform="translate(125 107) rotate(0)"><ellipse cx="1" cy="2" rx="21.8" ry="20.7" fill="#968cc0" opacity="0.12"/><ellipse rx="19.8" ry="18.7" fill="url(#g_jun)" stroke="#968cc0" stroke-width="1.1" stroke-opacity="0.8"/><path d="M2.6 -1.7L-17.2 -4.5L-10.2 -13.8Z" fill="#f6f4fc" fill-opacity="0.55"/><path d="M2.6 -1.7L-10.2 -13.8L0.5 -16.8Z" fill="#968cc0" fill-opacity="0.32"/><path d="M2.6 -1.7L0.5 -16.8L8.8 -14.7Z" fill="#f6f4fc" fill-opacity="0.57"/><path d="M2.6 -1.7L8.8 -14.7L15.9 -7.6Z" fill="#968cc0" fill-opacity="0.26"/><path d="M2.6 -1.7L15.9 -7.6L17.6 2.7Z" fill="#f6f4fc" fill-opacity="0.64"/><path d="M2.6 -1.7L17.6 2.7L11.5 12.8Z" fill="#968cc0" fill-opacity="0.28"/><path d="M2.6 -1.7L11.5 12.8L1.5 16.8Z" fill="#f6f4fc" fill-opacity="0.63"/><path d="M2.6 -1.7L1.5 16.8L-11.1 13.1Z" fill="#968cc0" fill-opacity="0.35"/><path d="M2.6 -1.7L-11.1 13.1L-16.3 6.8Z" fill="#f6f4fc" fill-opacity="0.62"/><path d="M2.6 -1.7L-16.3 6.8L-17.2 -4.5Z" fill="#968cc0" fill-opacity="0.26"/><ellipse rx="17.8" ry="16.8" fill="none" stroke="#f6f4fc" stroke-width="1" stroke-opacity="0.5"/><circle cx="9.5" cy="6.1" r="1.0" fill="#fff" opacity="0.7"/><circle cx="-8.2" cy="10.3" r="1.0" fill="#fff" opacity="0.7"/></g><g transform="translate(55 137) rotate(0)"><ellipse cx="1" cy="2" rx="21.8" ry="16.3" fill="#968cc0" opacity="0.12"/><ellipse rx="19.8" ry="14.3" fill="url(#g_jun)" stroke="#968cc0" stroke-width="1.1" stroke-opacity="0.8"/><path d="M-6.7 -0.5L-17.8 -0.2L-11.4 -9.9Z" fill="#f6f4fc" fill-opacity="0.74"/><path d="M-6.7 -0.5L-11.4 -9.9L-3.7 -12.6Z" fill="#968cc0" fill-opacity="0.37"/><path d="M-6.7 -0.5L-3.7 -12.6L8.0 -11.5Z" fill="#f6f4fc" fill-opacity="0.56"/><path d="M-6.7 -0.5L8.0 -11.5L14.8 -7.1Z" fill="#968cc0" fill-opacity="0.33"/><path d="M-6.7 -0.5L14.8 -7.1L17.8 0.2Z" fill="#f6f4fc" fill-opacity="0.62"/><path d="M-6.7 -0.5L17.8 0.2L12.1 9.5Z" fill="#968cc0" fill-opacity="0.28"/><path d="M-6.7 -0.5L12.1 9.5L5.9 12.2Z" fill="#f6f4fc" fill-opacity="0.56"/><path d="M-6.7 -0.5L5.9 12.2L-7.3 11.7Z" fill="#968cc0" fill-opacity="0.35"/><path d="M-6.7 -0.5L-7.3 11.7L-15.5 6.3Z" fill="#f6f4fc" fill-opacity="0.55"/><path d="M-6.7 -0.5L-15.5 6.3L-17.8 -0.2Z" fill="#968cc0" fill-opacity="0.36"/><path d="M-12.2 -0.9L-8.9 -5.2L-2.4 -6.6L3.6 -4.3L5.5 0.4L2.3 4.8L-4.3 6.2L-10.3 3.8Z" fill="#f6f4fc" fill-opacity="0.30" stroke="#968cc0" stroke-opacity="0.3" stroke-width="0.8"/><ellipse rx="17.8" ry="12.9" fill="none" stroke="#f6f4fc" stroke-width="1" stroke-opacity="0.5"/><circle cx="-11.0" cy="6.5" r="0.9" fill="#fff" opacity="0.7"/><circle cx="4.0" cy="-0.9" r="0.9" fill="#fff" opacity="0.7"/><circle cx="-4.9" cy="-1.7" r="1.2" fill="#fff" opacity="0.7"/></g><g transform="translate(85 140) rotate(0)"><ellipse cx="1" cy="2" rx="18.5" ry="13.0" fill="#968cc0" opacity="0.12"/><ellipse rx="16.5" ry="11.0" fill="url(#g_jun)" stroke="#968cc0" stroke-width="1.1" stroke-opacity="0.8"/><path d="M-0.4 -1.6L7.5 -8.5L14.1 -3.1Z" fill="#f6f4fc" fill-opacity="0.50"/><path d="M-0.4 -1.6L14.1 -3.1L14.3 2.7Z" fill="#968cc0" fill-opacity="0.27"/><path d="M-0.4 -1.6L14.3 2.7L6.7 8.8Z" fill="#f6f4fc" fill-opacity="0.62"/><path d="M-0.4 -1.6L6.7 8.8L-4.3 9.5Z" fill="#968cc0" fill-opacity="0.35"/><path d="M-0.4 -1.6L-4.3 9.5L-14.4 2.3Z" fill="#f6f4fc" fill-opacity="0.65"/><path d="M-0.4 -1.6L-14.4 2.3L-13.6 -4.0Z" fill="#968cc0" fill-opacity="0.28"/><path d="M-0.4 -1.6L-13.6 -4.0L-3.6 -9.6Z" fill="#f6f4fc" fill-opacity="0.54"/><path d="M-0.4 -1.6L-3.6 -9.6L7.5 -8.5Z" fill="#968cc0" fill-opacity="0.29"/><path d="M2.8 -5.3L6.7 -2.6L6.6 1.2L2.5 3.8L-3.2 3.7L-7.1 1.0L-7.0 -2.8L-2.9 -5.4Z" fill="#f6f4fc" fill-opacity="0.30" stroke="#968cc0" stroke-opacity="0.3" stroke-width="0.8"/><ellipse rx="14.8" ry="9.9" fill="none" stroke="#f6f4fc" stroke-width="1" stroke-opacity="0.5"/><circle cx="-9.1" cy="6.6" r="1.1" fill="#fff" opacity="0.7"/></g></g></g><g transform="translate(14 305.7)"><defs><clipPath id="c_jul"><circle cx="75" cy="75" r="75"/></clipPath><linearGradient id="bg_jul" x1="0" y1="0" x2="0" y2="1"><stop offset="0" stop-color="#eedce2"/><stop offset="1" stop-color="#e8c8d6"/></linearGradient><radialGradient id="g_jul" cx="0.45" cy="0.4" r="0.65"><stop offset="0" stop-color="#e41e36"/><stop offset="0.6" stop-color="#e41e36"/><stop offset="1" stop-color="#a00a20"/></radialGradient></defs><g clip-path="url(#c_jul)"><rect width="150" height="150" fill="url(#bg_jul)"/><g transform="translate(71 16) rotate(0)"><ellipse cx="1" cy="2" rx="22.9" ry="17.4" fill="#a00a20" opacity="0.12"/><ellipse rx="20.9" ry="15.4" fill="url(#g_jul)" stroke="#a00a20" stroke-width="1.1" stroke-opacity="0.8"/><path d="M-3.8 -0.1L-3.6 13.6L-16.9 6.1Z" fill="#f8a8b8" fill-opacity="0.33"/><path d="M-3.8 -0.1L-16.9 6.1L-18.4 -3.0Z" fill="#a00a20" fill-opacity="0.39"/><path d="M-3.8 -0.1L-18.4 -3.0L-6.6 -13.0Z" fill="#f8a8b8" fill-opacity="0.56"/><path d="M-3.8 -0.1L-6.6 -13.0L8.5 -12.4Z" fill="#a00a20" fill-opacity="0.36"/><path d="M-3.8 -0.1L8.5 -12.4L17.7 -4.7Z" fill="#f8a8b8" fill-opacity="0.58"/><path d="M-3.8 -0.1L17.7 -4.7L17.5 5.1Z" fill="#a00a20" fill-opacity="0.52"/><path d="M-3.8 -0.1L17.5 5.1L6.1 13.1Z" fill="#f8a8b8" fill-opacity="0.43"/><path d="M-3.8 -0.1L6.1 13.1L-3.6 13.6Z" fill="#a00a20" fill-opacity="0.48"/><path d="M-5.0 6.5L-10.4 2.9L-10.8 -2.3L-6.0 -6.3L1.2 -6.6L6.6 -3.1L7.0 2.2L2.2 6.2Z" fill="#f8a8b8" fill-opacity="0.23" stroke="#a00a20" stroke-opacity="0.3" stroke-width="0.8"/><ellipse rx="18.8" ry="13.9" fill="none" stroke="#f8a8b8" stroke-width="1" stroke-opacity="0.5"/><circle cx="10.6" cy="-6.1" r="1.0" fill="#fff" opacity="0.7"/></g><g transform="translate(16 46) rotate(0)"><ellipse cx="1" cy="2" rx="17.4" ry="20.7" fill="#a00a20" opacity="0.12"/><ellipse rx="15.4" ry="18.7" fill="url(#g_jul)" stroke="#a00a20" stroke-width="1.1" stroke-opacity="0.8"/><path d="M3.4 6.9L-10.6 10.8L-13.6 -3.0Z" fill="#f8a8b8" fill-opacity="0.48"/><path d="M3.4 6.9L-13.6 -3.0L-6.3 -15.0Z" fill="#a00a20" fill-opacity="0.50"/><path d="M3.4 6.9L-6.3 -15.0L3.9 -16.1Z" fill="#f8a8b8" fill-opacity="0.38"/><path d="M3.4 6.9L3.9 -16.1L12.6 -7.0Z" fill="#a00a20" fill-opacity="0.49"/><path d="M3.4 6.9L12.6 -7.0L13.5 4.0Z" fill="#f8a8b8" fill-opacity="0.45"/><path d="M3.4 6.9L13.5 4.0L7.2 14.4Z" fill="#a00a20" fill-opacity="0.42"/><path d="M3.4 6.9L7.2 14.4L-3.7 16.2Z" fill="#f8a8b8" fill-opacity="0.37"/><path d="M3.4 6.9L-3.7 16.2L-10.6 10.8Z" fill="#a00a20" fill-opacity="0.36"/><ellipse rx="13.9" ry="16.8" fill="none" stroke="#f8a8b8" stroke-width="1" stroke-opacity="0.5"/><circle cx="-0.0" cy="2.8" r="1.0" fill="#fff" opacity="0.7"/></g><g transform="translate(58 40) rotate(10)"><ellipse cx="1" cy="2" rx="22.9" ry="15.2" fill="#a00a20" opacity="0.12"/><ellipse rx="20.9" ry="13.2" fill="url(#g_jul)" stroke="#a00a20" stroke-width="1.1" stroke-opacity="0.8"/><path d="M-1.4 3.5L-16.1 -6.2L-4.4 -11.5Z" fill="#f8a8b8" fill-opacity="0.52"/><path d="M-1.4 3.5L-4.4 -11.5L7.3 -10.9Z" fill="#a00a20" fill-opacity="0.40"/><path d="M-1.4 3.5L7.3 -10.9L18.2 -2.9Z" fill="#f8a8b8" fill-opacity="0.36"/><path d="M-1.4 3.5L18.2 -2.9L15.0 7.2Z" fill="#a00a20" fill-opacity="0.32"/><path d="M-1.4 3.5L15.0 7.2L4.1 11.6Z" fill="#f8a8b8" fill-opacity="0.39"/><path d="M-1.4 3.5L4.1 11.6L-9.7 10.2Z" fill="#a00a20" fill-opacity="0.42"/><path d="M-1.4 3.5L-9.7 10.2L-18.4 2.5Z" fill="#f8a8b8" fill-opacity="0.55"/><path d="M-1.4 3.5L-18.4 2.5L-16.1 -6.2Z" fill="#a00a20" fill-opacity="0.32"/><ellipse rx="18.8" ry="11.9" fill="none" stroke="#f8a8b8" stroke-width="1" stroke-opacity="0.5"/><circle cx="-3.5" cy="-3.5" r="1.2" fill="#fff" opacity="0.7"/><circle cx="-4.3" cy="7.5" r="1.3" fill="#fff" opacity="0.7"/><circle cx="0.5" cy="2.6" r="1.2" fill="#fff" opacity="0.7"/></g><g transform="translate(107 33) rotate(0)"><ellipse cx="1" cy="2" rx="22.9" ry="21.8" fill="#a00a20" opacity="0.12"/><ellipse rx="20.9" ry="19.8" fill="url(#g_jul)" stroke="#a00a20" stroke-width="1.1" stroke-opacity="0.8"/><path d="M-5.9 -7.6L8.5 -15.9L17.9 -5.6Z" fill="#f8a8b8" fill-opacity="0.52"/><path d="M-5.9 -7.6L17.9 -5.6L17.6 6.3Z" fill="#a00a20" fill-opacity="0.44"/><path d="M-5.9 -7.6L17.6 6.3L9.8 15.2Z" fill="#f8a8b8" fill-opacity="0.54"/><path d="M-5.9 -7.6L9.8 15.2L3.1 17.6Z" fill="#a00a20" fill-opacity="0.42"/><path d="M-5.9 -7.6L3.1 17.6L-8.7 15.8Z" fill="#f8a8b8" fill-opacity="0.54"/><path d="M-5.9 -7.6L-8.7 15.8L-17.5 6.6Z" fill="#a00a20" fill-opacity="0.42"/><path d="M-5.9 -7.6L-17.5 6.6L-17.9 -5.4Z" fill="#f8a8b8" fill-opacity="0.42"/><path d="M-5.9 -7.6L-17.9 -5.4L-13.4 -12.6Z" fill="#a00a20" fill-opacity="0.42"/><path d="M-5.9 -7.6L-13.4 -12.6L0.4 -17.8Z" fill="#f8a8b8" fill-opacity="0.51"/><path d="M-5.9 -7.6L0.4 -17.8L8.5 -15.9Z" fill="#a00a20" fill-opacity="0.55"/><path d="M2.3 -11.2L6.3 -5.5L4.9 1.2L-1.1 5.0L-8.2 3.6L-12.2 -2.1L-10.7 -8.8L-4.7 -12.5Z" fill="#f8a8b8" fill-opacity="0.23" stroke="#a00a20" stroke-opacity="0.3" stroke-width="0.8"/><ellipse rx="18.8" ry="17.8" fill="none" stroke="#f8a8b8" stroke-width="1" stroke-opacity="0.5"/><circle cx="3.5" cy="11.2" r="1.1" fill="#fff" opacity="0.7"/><circle cx="-4.5" cy="-1.5" r="1.3" fill="#fff" opacity="0.7"/><circle cx="7.8" cy="10.4" r="1.5" fill="#fff" opacity="0.7"/></g><g transform="translate(133 52) rotate(0)"><ellipse cx="1" cy="2" rx="18.5" ry="21.8" fill="#a00a20" opacity="0.12"/><ellipse rx="16.5" ry="19.8" fill="url(#g_jul)" stroke="#a00a20" stroke-width="1.1" stroke-opacity="0.8"/><path d="M0.5 -7.9L-11.6 -11.2L-4.8 -16.8Z" fill="#f8a8b8" fill-opacity="0.48"/><path d="M0.5 -7.9L-4.8 -16.8L5.5 -16.6Z" fill="#a00a20" fill-opacity="0.41"/><path d="M0.5 -7.9L5.5 -16.6L11.9 -10.7Z" fill="#f8a8b8" fill-opacity="0.49"/><path d="M0.5 -7.9L11.9 -10.7L14.8 -0.6Z" fill="#a00a20" fill-opacity="0.53"/><path d="M0.5 -7.9L14.8 -0.6L13.5 7.5Z" fill="#f8a8b8" fill-opacity="0.57"/><path d="M0.5 -7.9L13.5 7.5L3.7 17.3Z" fill="#a00a20" fill-opacity="0.53"/><path d="M0.5 -7.9L3.7 17.3L-2.6 17.6Z" fill="#f8a8b8" fill-opacity="0.54"/><path d="M0.5 -7.9L-2.6 17.6L-10.7 12.4Z" fill="#a00a20" fill-opacity="0.42"/><path d="M0.5 -7.9L-10.7 12.4L-14.6 3.5Z" fill="#f8a8b8" fill-opacity="0.33"/><path d="M0.5 -7.9L-14.6 3.5L-11.6 -11.2Z" fill="#a00a20" fill-opacity="0.52"/><ellipse rx="14.8" ry="17.8" fill="none" stroke="#f8a8b8" stroke-width="1" stroke-opacity="0.5"/><circle cx="4.8" cy="-2.9" r="0.8" fill="#fff" opacity="0.7"/><circle cx="-5.0" cy="-2.8" r="0.9" fill="#fff" opacity="0.7"/></g><g transform="translate(32 76) rotate(0)"><ellipse cx="1" cy="2" rx="22.9" ry="21.8" fill="#a00a20" opacity="0.12"/><ellipse rx="20.9" ry="19.8" fill="url(#g_jul)" stroke="#a00a20" stroke-width="1.1" stroke-opacity="0.8"/><path d="M7.6 -3.7L12.0 13.7L4.9 17.2Z" fill="#f8a8b8" fill-opacity="0.52"/><path d="M7.6 -3.7L4.9 17.2L-6.5 16.7Z" fill="#a00a20" fill-opacity="0.38"/><path d="M7.6 -3.7L-6.5 16.7L-13.7 12.2Z" fill="#f8a8b8" fill-opacity="0.34"/><path d="M7.6 -3.7L-13.7 12.2L-18.2 4.4Z" fill="#a00a20" fill-opacity="0.32"/><path d="M7.6 -3.7L-18.2 4.4L-17.0 -7.6Z" fill="#f8a8b8" fill-opacity="0.35"/><path d="M7.6 -3.7L-17.0 -7.6L-10.1 -15.0Z" fill="#a00a20" fill-opacity="0.40"/><path d="M7.6 -3.7L-10.1 -15.0L-1.6 -17.8Z" fill="#f8a8b8" fill-opacity="0.49"/><path d="M7.6 -3.7L-1.6 -17.8L8.9 -15.7Z" fill="#a00a20" fill-opacity="0.53"/><path d="M7.6 -3.7L8.9 -15.7L16.1 -9.1Z" fill="#f8a8b8" fill-opacity="0.46"/><path d="M7.6 -3.7L16.1 -9.1L18.7 -1.9Z" fill="#a00a20" fill-opacity="0.58"/><path d="M7.6 -3.7L18.7 -1.9L18.0 5.2Z" fill="#f8a8b8" fill-opacity="0.48"/><path d="M7.6 -3.7L18.0 5.2L12.0 13.7Z" fill="#a00a20" fill-opacity="0.52"/><path d="M9.4 5.3L2.5 7.0L-3.7 3.5L-5.5 -3.1L-1.8 -9.0L5.1 -10.7L11.3 -7.2L13.1 -0.6Z" fill="#f8a8b8" fill-opacity="0.23" stroke="#a00a20" stroke-opacity="0.3" stroke-width="0.8"/><ellipse rx="18.8" ry="17.8" fill="none" stroke="#f8a8b8" stroke-width="1" stroke-opacity="0.5"/><circle cx="-3.0" cy="-11.4" r="0.9" fill="#fff" opacity="0.7"/><circle cx="1.0" cy="8.2" r="0.8" fill="#fff" opacity="0.7"/></g><g transform="translate(80 65) rotate(0)"><ellipse cx="1" cy="2" rx="22.9" ry="22.9" fill="#a00a20" opacity="0.12"/><ellipse rx="20.9" ry="20.9" fill="url(#g_jul)" stroke="#a00a20" stroke-width="1.1" stroke-opacity="0.8"/><path d="M-1.5 -2.7L16.7 -8.7L18.8 -0.0Z" fill="#f8a8b8" fill-opacity="0.36"/><path d="M-1.5 -2.7L18.8 -0.0L15.2 11.1Z" fill="#a00a20" fill-opacity="0.48"/><path d="M-1.5 -2.7L15.2 11.1L7.2 17.4Z" fill="#f8a8b8" fill-opacity="0.46"/><path d="M-1.5 -2.7L7.2 17.4L-6.6 17.6Z" fill="#a00a20" fill-opacity="0.55"/><path d="M-1.5 -2.7L-6.6 17.6L-15.5 10.6Z" fill="#f8a8b8" fill-opacity="0.52"/><path d="M-1.5 -2.7L-15.5 10.6L-18.8 -1.2Z" fill="#a00a20" fill-opacity="0.57"/><path d="M-1.5 -2.7L-18.8 -1.2L-15.2 -11.1Z" fill="#f8a8b8" fill-opacity="0.34"/><path d="M-1.5 -2.7L-15.2 -11.1L-3.3 -18.5Z" fill="#a00a20" fill-opacity="0.47"/><path d="M-1.5 -2.7L-3.3 -18.5L8.5 -16.8Z" fill="#f8a8b8" fill-opacity="0.55"/><path d="M-1.5 -2.7L8.5 -16.8L16.7 -8.7Z" fill="#a00a20" fill-opacity="0.41"/><ellipse rx="18.8" ry="18.8" fill="none" stroke="#f8a8b8" stroke-width="1" stroke-opacity="0.5"/><circle cx="9.2" cy="10.8" r="0.9" fill="#fff" opacity="0.7"/><circle cx="-9.5" cy="12.3" r="1.2" fill="#fff" opacity="0.7"/></g><g transform="translate(117 69) rotate(0)"><ellipse cx="1" cy="2" rx="22.9" ry="22.9" fill="#a00a20" opacity="0.12"/><ellipse rx="20.9" ry="20.9" fill="url(#g_jul)" stroke="#a00a20" stroke-width="1.1" stroke-opacity="0.8"/><path d="M2.2 3.3L8.6 16.7L-3.4 18.5Z" fill="#f8a8b8" fill-opacity="0.35"/><path d="M2.2 3.3L-3.4 18.5L-15.0 11.3Z" fill="#a00a20" fill-opacity="0.33"/><path d="M2.2 3.3L-15.0 11.3L-18.7 2.0Z" fill="#f8a8b8" fill-opacity="0.51"/><path d="M2.2 3.3L-18.7 2.0L-17.0 -8.1Z" fill="#a00a20" fill-opacity="0.47"/><path d="M2.2 3.3L-17.0 -8.1L-8.3 -16.9Z" fill="#f8a8b8" fill-opacity="0.37"/><path d="M2.2 3.3L-8.3 -16.9L6.9 -17.5Z" fill="#a00a20" fill-opacity="0.36"/><path d="M2.2 3.3L6.9 -17.5L15.0 -11.3Z" fill="#f8a8b8" fill-opacity="0.40"/><path d="M2.2 3.3L15.0 -11.3L18.8 -1.0Z" fill="#a00a20" fill-opacity="0.39"/><path d="M2.2 3.3L18.8 -1.0L16.0 9.8Z" fill="#f8a8b8" fill-opacity="0.44"/><path d="M2.2 3.3L16.0 9.8L8.6 16.7Z" fill="#a00a20" fill-opacity="0.58"/><ellipse rx="18.8" ry="18.8" fill="none" stroke="#f8a8b8" stroke-width="1" stroke-opacity="0.5"/><circle cx="6.4" cy="2.7" r="1.1" fill="#fff" opacity="0.7"/><circle cx="3.1" cy="-2.0" r="0.9" fill="#fff" opacity="0.7"/><circle cx="-8.5" cy="-9.9" r="1.3" fill="#fff" opacity="0.7"/></g><g transform="translate(64 91) rotate(0)"><ellipse cx="1" cy="2" rx="22.9" ry="22.9" fill="#a00a20" opacity="0.12"/><ellipse rx="20.9" ry="20.9" fill="url(#g_jul)" stroke="#a00a20" stroke-width="1.1" stroke-opacity="0.8"/><path d="M-2.1 8.2L-1.8 18.7L-15.2 11.0Z" fill="#f8a8b8" fill-opacity="0.50"/><path d="M-2.1 8.2L-15.2 11.0L-18.8 -0.1Z" fill="#a00a20" fill-opacity="0.58"/><path d="M-2.1 8.2L-18.8 -0.1L-16.6 -8.9Z" fill="#f8a8b8" fill-opacity="0.35"/><path d="M-2.1 8.2L-16.6 -8.9L-6.1 -17.8Z" fill="#a00a20" fill-opacity="0.34"/><path d="M-2.1 8.2L-6.1 -17.8L6.4 -17.7Z" fill="#f8a8b8" fill-opacity="0.35"/><path d="M-2.1 8.2L6.4 -17.7L13.9 -12.7Z" fill="#a00a20" fill-opacity="0.57"/><path d="M-2.1 8.2L13.9 -12.7L18.7 -2.1Z" fill="#f8a8b8" fill-opacity="0.40"/><path d="M-2.1 8.2L18.7 -2.1L15.9 10.1Z" fill="#a00a20" fill-opacity="0.33"/><path d="M-2.1 8.2L15.9 10.1L5.7 17.9Z" fill="#f8a8b8" fill-opacity="0.36"/><path d="M-2.1 8.2L5.7 17.9L-1.8 18.7Z" fill="#a00a20" fill-opacity="0.32"/><ellipse rx="18.8" ry="18.8" fill="none" stroke="#f8a8b8" stroke-width="1" stroke-opacity="0.5"/><circle cx="9.3" cy="11.1" r="1.5" fill="#fff" opacity="0.7"/><circle cx="-10.5" cy="5.7" r="1.1" fill="#fff" opacity="0.7"/><circle cx="6.5" cy="2.4" r="0.9" fill="#fff" opacity="0.7"/></g><g transform="translate(8 88) rotate(0)"><ellipse cx="1" cy="2" rx="13.0" ry="19.6" fill="#a00a20" opacity="0.12"/><ellipse rx="11.0" ry="17.6" fill="url(#g_jul)" stroke="#a00a20" stroke-width="1.1" stroke-opacity="0.8"/><path d="M4.2 6.6L-7.7 -9.9L-2.8 -15.2Z" fill="#f8a8b8" fill-opacity="0.41"/><path d="M4.2 6.6L-2.8 -15.2L0.6 -15.8Z" fill="#a00a20" fill-opacity="0.57"/><path d="M4.2 6.6L0.6 -15.8L5.8 -12.9Z" fill="#f8a8b8" fill-opacity="0.37"/><path d="M4.2 6.6L5.8 -12.9L9.6 -3.6Z" fill="#a00a20" fill-opacity="0.42"/><path d="M4.2 6.6L9.6 -3.6L9.7 2.9Z" fill="#f8a8b8" fill-opacity="0.37"/><path d="M4.2 6.6L9.7 2.9L7.5 10.4Z" fill="#a00a20" fill-opacity="0.39"/><path d="M4.2 6.6L7.5 10.4L2.3 15.4Z" fill="#f8a8b8" fill-opacity="0.37"/><path d="M4.2 6.6L2.3 15.4L-2.4 15.4Z" fill="#a00a20" fill-opacity="0.49"/><path d="M4.2 6.6L-2.4 15.4L-5.7 12.9Z" fill="#f8a8b8" fill-opacity="0.52"/><path d="M4.2 6.6L-5.7 12.9L-9.3 5.3Z" fill="#a00a20" fill-opacity="0.55"/><path d="M4.2 6.6L-9.3 5.3L-9.5 -4.7Z" fill="#f8a8b8" fill-opacity="0.35"/><path d="M4.2 6.6L-9.5 -4.7L-7.7 -9.9Z" fill="#a00a20" fill-opacity="0.58"/><ellipse rx="9.9" ry="15.8" fill="none" stroke="#f8a8b8" stroke-width="1" stroke-opacity="0.5"/><circle cx="-0.4" cy="0.8" r="1.5" fill="#fff" opacity="0.7"/><circle cx="4.8" cy="-8.3" r="1.2" fill="#fff" opacity="0.7"/></g><g transform="translate(140 90) rotate(0)"><ellipse cx="1" cy="2" rx="15.2" ry="18.5" fill="#a00a20" opacity="0.12"/><ellipse rx="13.2" ry="16.5" fill="url(#g_jul)" stroke="#a00a20" stroke-width="1.1" stroke-opacity="0.8"/><path d="M3.0 3.5L-7.0 -12.0L-0.7 -14.8Z" fill="#f8a8b8" fill-opacity="0.57"/><path d="M3.0 3.5L-0.7 -14.8L7.0 -12.0Z" fill="#a00a20" fill-opacity="0.56"/><path d="M3.0 3.5L7.0 -12.0L11.0 -5.5Z" fill="#f8a8b8" fill-opacity="0.54"/><path d="M3.0 3.5L11.0 -5.5L11.3 4.5Z" fill="#a00a20" fill-opacity="0.45"/><path d="M3.0 3.5L11.3 4.5L7.7 11.3Z" fill="#f8a8b8" fill-opacity="0.45"/><path d="M3.0 3.5L7.7 11.3L1.1 14.8Z" fill="#a00a20" fill-opacity="0.32"/><path d="M3.0 3.5L1.1 14.8L-8.0 11.0Z" fill="#f8a8b8" fill-opacity="0.50"/><path d="M3.0 3.5L-8.0 11.0L-11.1 5.1Z" fill="#a00a20" fill-opacity="0.45"/><path d="M3.0 3.5L-11.1 5.1L-11.0 -5.6Z" fill="#f8a8b8" fill-opacity="0.41"/><path d="M3.0 3.5L-11.0 -5.6L-7.0 -12.0Z" fill="#a00a20" fill-opacity="0.55"/><ellipse rx="11.9" ry="14.8" fill="none" stroke="#f8a8b8" stroke-width="1" stroke-opacity="0.5"/><circle cx="5.9" cy="-4.7" r="0.9" fill="#fff" opacity="0.7"/><circle cx="-4.3" cy="-5.7" r="1.4" fill="#fff" opacity="0.7"/></g><g transform="translate(36 116) rotate(0)"><ellipse cx="1" cy="2" rx="22.9" ry="21.8" fill="#a00a20" opacity="0.12"/><ellipse rx="20.9" ry="19.8" fill="url(#g_jul)" stroke="#a00a20" stroke-width="1.1" stroke-opacity="0.8"/><path d="M-0.7 2.9L-18.6 -2.7L-11.7 -14.0Z" fill="#f8a8b8" fill-opacity="0.44"/><path d="M-0.7 2.9L-11.7 -14.0L0.8 -17.8Z" fill="#a00a20" fill-opacity="0.58"/><path d="M-0.7 2.9L0.8 -17.8L8.4 -15.9Z" fill="#f8a8b8" fill-opacity="0.40"/><path d="M-0.7 2.9L8.4 -15.9L16.7 -8.2Z" fill="#a00a20" fill-opacity="0.47"/><path d="M-0.7 2.9L16.7 -8.2L18.0 5.1Z" fill="#f8a8b8" fill-opacity="0.43"/><path d="M-0.7 2.9L18.0 5.1L13.5 12.4Z" fill="#a00a20" fill-opacity="0.57"/><path d="M-0.7 2.9L13.5 12.4L-0.3 17.8Z" fill="#f8a8b8" fill-opacity="0.42"/><path d="M-0.7 2.9L-0.3 17.8L-10.6 14.7Z" fill="#a00a20" fill-opacity="0.32"/><path d="M-0.7 2.9L-10.6 14.7L-17.4 6.7Z" fill="#f8a8b8" fill-opacity="0.43"/><path d="M-0.7 2.9L-17.4 6.7L-18.6 -2.7Z" fill="#a00a20" fill-opacity="0.46"/><ellipse rx="18.8" ry="17.8" fill="none" stroke="#f8a8b8" stroke-width="1" stroke-opacity="0.5"/><circle cx="-11.1" cy="-0.2" r="1.1" fill="#fff" opacity="0.7"/><circle cx="5.6" cy="10.9" r="1.2" fill="#fff" opacity="0.7"/><circle cx="0.6" cy="-0.2" r="1.3" fill="#fff" opacity="0.7"/></g><g transform="translate(106 104) rotate(0)"><ellipse cx="1" cy="2" rx="22.9" ry="21.8" fill="#a00a20" opacity="0.12"/><ellipse rx="20.9" ry="19.8" fill="url(#g_jul)" stroke="#a00a20" stroke-width="1.1" stroke-opacity="0.8"/><path d="M-5.3 -2.5L15.5 -10.1L18.8 0.4Z" fill="#f8a8b8" fill-opacity="0.48"/><path d="M-5.3 -2.5L18.8 0.4L15.0 10.8Z" fill="#a00a20" fill-opacity="0.42"/><path d="M-5.3 -2.5L15.0 10.8L8.2 16.0Z" fill="#f8a8b8" fill-opacity="0.52"/><path d="M-5.3 -2.5L8.2 16.0L-3.2 17.6Z" fill="#a00a20" fill-opacity="0.56"/><path d="M-5.3 -2.5L-3.2 17.6L-15.5 10.1Z" fill="#f8a8b8" fill-opacity="0.52"/><path d="M-5.3 -2.5L-15.5 10.1L-18.2 4.5Z" fill="#a00a20" fill-opacity="0.54"/><path d="M-5.3 -2.5L-18.2 4.5L-15.0 -10.8Z" fill="#f8a8b8" fill-opacity="0.39"/><path d="M-5.3 -2.5L-15.0 -10.8L-6.1 -16.9Z" fill="#a00a20" fill-opacity="0.45"/><path d="M-5.3 -2.5L-6.1 -16.9L2.0 -17.7Z" fill="#f8a8b8" fill-opacity="0.44"/><path d="M-5.3 -2.5L2.0 -17.7L15.5 -10.1Z" fill="#a00a20" fill-opacity="0.57"/><path d="M4.3 -7.3L6.7 -0.8L3.7 5.3L-3.1 7.7L-9.6 4.8L-12.0 -1.6L-9.0 -7.8L-2.2 -10.1Z" fill="#f8a8b8" fill-opacity="0.23" stroke="#a00a20" stroke-opacity="0.3" stroke-width="0.8"/><ellipse rx="18.8" ry="17.8" fill="none" stroke="#f8a8b8" stroke-width="1" stroke-opacity="0.5"/><circle cx="11.0" cy="10.6" r="1.4" fill="#fff" opacity="0.7"/><circle cx="-6.9" cy="-9.1" r="1.1" fill="#fff" opacity="0.7"/><circle cx="-11.9" cy="1.0" r="1.2" fill="#fff" opacity="0.7"/></g><g transform="translate(80 123) rotate(0)"><ellipse cx="1" cy="2" rx="21.8" ry="17.4" fill="#a00a20" opacity="0.12"/><ellipse rx="19.8" ry="15.4" fill="url(#g_jul)" stroke="#a00a20" stroke-width="1.1" stroke-opacity="0.8"/><path d="M-5.9 1.1L-17.5 2.5L-14.0 -8.6Z" fill="#f8a8b8" fill-opacity="0.42"/><path d="M-5.9 1.1L-14.0 -8.6L-6.3 -13.0Z" fill="#a00a20" fill-opacity="0.35"/><path d="M-5.9 1.1L-6.3 -13.0L5.2 -13.2Z" fill="#f8a8b8" fill-opacity="0.35"/><path d="M-5.9 1.1L5.2 -13.2L12.8 -9.6Z" fill="#a00a20" fill-opacity="0.52"/><path d="M-5.9 1.1L12.8 -9.6L17.8 -0.1Z" fill="#f8a8b8" fill-opacity="0.46"/><path d="M-5.9 1.1L17.8 -0.1L15.5 6.8Z" fill="#a00a20" fill-opacity="0.50"/><path d="M-5.9 1.1L15.5 6.8L4.1 13.5Z" fill="#f8a8b8" fill-opacity="0.36"/><path d="M-5.9 1.1L4.1 13.5L-2.2 13.8Z" fill="#a00a20" fill-opacity="0.49"/><path d="M-5.9 1.1L-2.2 13.8L-12.1 10.2Z" fill="#f8a8b8" fill-opacity="0.52"/><path d="M-5.9 1.1L-12.1 10.2L-17.5 2.5Z" fill="#a00a20" fill-opacity="0.34"/><path d="M-11.8 1.0L-9.6 -4.0L-3.5 -6.3L2.9 -4.6L5.9 0.1L3.7 5.2L-2.4 7.5L-8.9 5.8Z" fill="#f8a8b8" fill-opacity="0.23" stroke="#a00a20" stroke-opacity="0.3" stroke-width="0.8"/><ellipse rx="17.8" ry="13.9" fill="none" stroke="#f8a8b8" stroke-width="1" stroke-opacity="0.5"/><circle cx="9.0" cy="5.5" r="1.4" fill="#fff" opacity="0.7"/><circle cx="-3.0" cy="5.8" r="1.3" fill="#fff" opacity="0.7"/></g><g transform="translate(125 123) rotate(0)"><ellipse cx="1" cy="2" rx="15.2" ry="13.0" fill="#a00a20" opacity="0.12"/><ellipse rx="13.2" ry="11.0" fill="url(#g_jul)" stroke="#a00a20" stroke-width="1.1" stroke-opacity="0.8"/><path d="M-1.7 0.1L11.9 -0.2L9.6 5.8Z" fill="#f8a8b8" fill-opacity="0.55"/><path d="M-1.7 0.1L9.6 5.8L5.1 8.9Z" fill="#a00a20" fill-opacity="0.57"/><path d="M-1.7 0.1L5.1 8.9L-0.9 9.9Z" fill="#f8a8b8" fill-opacity="0.37"/><path d="M-1.7 0.1L-0.9 9.9L-6.9 8.1Z" fill="#a00a20" fill-opacity="0.56"/><path d="M-1.7 0.1L-6.9 8.1L-10.8 4.0Z" fill="#f8a8b8" fill-opacity="0.49"/><path d="M-1.7 0.1L-10.8 4.0L-11.6 -2.3Z" fill="#a00a20" fill-opacity="0.56"/><path d="M-1.7 0.1L-11.6 -2.3L-9.7 -5.7Z" fill="#f8a8b8" fill-opacity="0.33"/><path d="M-1.7 0.1L-9.7 -5.7L-4.2 -9.3Z" fill="#a00a20" fill-opacity="0.54"/><path d="M-1.7 0.1L-4.2 -9.3L0.2 -9.9Z" fill="#f8a8b8" fill-opacity="0.52"/><path d="M-1.7 0.1L0.2 -9.9L7.6 -7.6Z" fill="#a00a20" fill-opacity="0.55"/><path d="M-1.7 0.1L7.6 -7.6L10.8 -4.2Z" fill="#f8a8b8" fill-opacity="0.39"/><path d="M-1.7 0.1L10.8 -4.2L11.9 -0.2Z" fill="#a00a20" fill-opacity="0.40"/><ellipse rx="11.9" ry="9.9" fill="none" stroke="#f8a8b8" stroke-width="1" stroke-opacity="0.5"/><circle cx="1.5" cy="-3.1" r="1.3" fill="#fff" opacity="0.7"/><circle cx="-4.7" cy="-6.1" r="1.5" fill="#fff" opacity="0.7"/></g><g transform="translate(97 143) rotate(0)"><ellipse cx="1" cy="2" rx="21.8" ry="10.8" fill="#a00a20" opacity="0.12"/><ellipse rx="19.8" ry="8.8" fill="url(#g_jul)" stroke="#a00a20" stroke-width="1.1" stroke-opacity="0.8"/><path d="M-0.4 2.6L14.8 -4.4L17.7 -1.0Z" fill="#f8a8b8" fill-opacity="0.51"/><path d="M-0.4 2.6L17.7 -1.0L14.9 4.4Z" fill="#a00a20" fill-opacity="0.55"/><path d="M-0.4 2.6L14.9 4.4L6.4 7.4Z" fill="#f8a8b8" fill-opacity="0.35"/><path d="M-0.4 2.6L6.4 7.4L-1.4 7.9Z" fill="#a00a20" fill-opacity="0.38"/><path d="M-0.4 2.6L-1.4 7.9L-9.5 6.7Z" fill="#f8a8b8" fill-opacity="0.41"/><path d="M-0.4 2.6L-9.5 6.7L-15.4 4.0Z" fill="#a00a20" fill-opacity="0.46"/><path d="M-0.4 2.6L-15.4 4.0L-17.8 -0.7Z" fill="#f8a8b8" fill-opacity="0.36"/><path d="M-0.4 2.6L-17.8 -0.7L-16.2 -3.3Z" fill="#a00a20" fill-opacity="0.52"/><path d="M-0.4 2.6L-16.2 -3.3L-10.0 -6.6Z" fill="#f8a8b8" fill-opacity="0.46"/><path d="M-0.4 2.6L-10.0 -6.6L1.0 -7.9Z" fill="#a00a20" fill-opacity="0.44"/><path d="M-0.4 2.6L1.0 -7.9L8.7 -6.9Z" fill="#f8a8b8" fill-opacity="0.37"/><path d="M-0.4 2.6L8.7 -6.9L14.8 -4.4Z" fill="#a00a20" fill-opacity="0.36"/><ellipse rx="17.8" ry="7.9" fill="none" stroke="#f8a8b8" stroke-width="1" stroke-opacity="0.5"/><circle cx="-8.5" cy="-3.2" r="1.5" fill="#fff" opacity="0.7"/><circle cx="-4.0" cy="0.3" r="1.1" fill="#fff" opacity="0.7"/><circle cx="6.9" cy="4.8" r="1.0" fill="#fff" opacity="0.7"/></g></g></g><g transform="translate(178 305.7)"><defs><clipPath id="c_aug"><circle cx="75" cy="75" r="75"/></clipPath><linearGradient id="bg_aug" x1="0" y1="0" x2="0" y2="1"><stop offset="0" stop-color="#dedede"/><stop offset="1" stop-color="#d2d2d2"/></linearGradient><radialGradient id="g_aug" cx="0.45" cy="0.4" r="0.65"><stop offset="0" stop-color="#948e2c"/><stop offset="0.6" stop-color="#948e2c"/><stop offset="1" stop-color="#4c4a10"/></radialGradient></defs><g clip-path="url(#c_aug)"><rect width="150" height="150" fill="url(#bg_aug)"/><g transform="translate(73 20) rotate(0)"><ellipse cx="1" cy="2" rx="22.9" ry="21.8" fill="#4c4a10" opacity="0.12"/><ellipse rx="20.9" ry="19.8" fill="url(#g_aug)" stroke="#4c4a10" stroke-width="1.1" stroke-opacity="0.8"/><path d="M8.0 -7.1L-18.5 -3.3L-15.9 -9.5Z" fill="#dcd890" fill-opacity="0.42"/><path d="M8.0 -7.1L-15.9 -9.5L-10.4 -14.9Z" fill="#4c4a10" fill-opacity="0.32"/><path d="M8.0 -7.1L-10.4 -14.9L-0.5 -17.8Z" fill="#dcd890" fill-opacity="0.49"/><path d="M8.0 -7.1L-0.5 -17.8L12.8 -13.1Z" fill="#4c4a10" fill-opacity="0.43"/><path d="M8.0 -7.1L12.8 -13.1L17.6 -6.2Z" fill="#dcd890" fill-opacity="0.50"/><path d="M8.0 -7.1L17.6 -6.2L18.5 3.2Z" fill="#4c4a10" fill-opacity="0.40"/><path d="M8.0 -7.1L18.5 3.2L13.9 12.0Z" fill="#dcd890" fill-opacity="0.39"/><path d="M8.0 -7.1L13.9 12.0L8.4 15.9Z" fill="#4c4a10" fill-opacity="0.29"/><path d="M8.0 -7.1L8.4 15.9L1.3 17.8Z" fill="#dcd890" fill-opacity="0.54"/><path d="M8.0 -7.1L1.3 17.8L-10.9 14.5Z" fill="#4c4a10" fill-opacity="0.37"/><path d="M8.0 -7.1L-10.9 14.5L-16.8 8.0Z" fill="#dcd890" fill-opacity="0.38"/><path d="M8.0 -7.1L-16.8 8.0L-18.5 -3.3Z" fill="#4c4a10" fill-opacity="0.37"/><ellipse rx="18.8" ry="17.8" fill="none" stroke="#dcd890" stroke-width="1" stroke-opacity="0.5"/><circle cx="1.1" cy="-8.5" r="1.2" fill="#fff" opacity="0.7"/><circle cx="0.8" cy="-7.6" r="0.9" fill="#fff" opacity="0.7"/></g><g transform="translate(15 45) rotate(0)"><ellipse cx="1" cy="2" rx="17.4" ry="22.9" fill="#4c4a10" opacity="0.12"/><ellipse rx="15.4" ry="20.9" fill="url(#g_aug)" stroke="#4c4a10" stroke-width="1.1" stroke-opacity="0.8"/><path d="M-3.9 3.3L-7.9 -15.4L-2.8 -18.4Z" fill="#dcd890" fill-opacity="0.52"/><path d="M-3.9 3.3L-2.8 -18.4L4.2 -17.9Z" fill="#4c4a10" fill-opacity="0.38"/><path d="M-3.9 3.3L4.2 -17.9L11.9 -9.7Z" fill="#dcd890" fill-opacity="0.51"/><path d="M-3.9 3.3L11.9 -9.7L13.8 -1.0Z" fill="#4c4a10" fill-opacity="0.46"/><path d="M-3.9 3.3L13.8 -1.0L12.5 8.1Z" fill="#dcd890" fill-opacity="0.58"/><path d="M-3.9 3.3L12.5 8.1L8.8 14.6Z" fill="#4c4a10" fill-opacity="0.32"/><path d="M-3.9 3.3L8.8 14.6L2.4 18.5Z" fill="#dcd890" fill-opacity="0.64"/><path d="M-3.9 3.3L2.4 18.5L-4.9 17.6Z" fill="#4c4a10" fill-opacity="0.48"/><path d="M-3.9 3.3L-4.9 17.6L-10.6 12.1Z" fill="#dcd890" fill-opacity="0.60"/><path d="M-3.9 3.3L-10.6 12.1L-13.9 0.6Z" fill="#4c4a10" fill-opacity="0.39"/><path d="M-3.9 3.3L-13.9 0.6L-12.8 -7.4Z" fill="#dcd890" fill-opacity="0.64"/><path d="M-3.9 3.3L-12.8 -7.4L-7.9 -15.4Z" fill="#4c4a10" fill-opacity="0.47"/><path d="M-5.8 -6.2L-0.6 -7.6L3.8 -3.6L4.9 3.5L1.9 9.5L-3.3 10.9L-7.7 6.9L-8.7 -0.2Z" fill="#dcd890" fill-opacity="0.25" stroke="#4c4a10" stroke-opacity="0.3" stroke-width="0.8"/><ellipse rx="13.9" ry="18.8" fill="none" stroke="#dcd890" stroke-width="1" stroke-opacity="0.5"/><circle cx="6.0" cy="4.3" r="1.5" fill="#fff" opacity="0.7"/><circle cx="-2.0" cy="10.5" r="1.0" fill="#fff" opacity="0.7"/><circle cx="3.2" cy="8.0" r="0.8" fill="#fff" opacity="0.7"/></g><g transform="translate(57 48) rotate(0)"><ellipse cx="1" cy="2" rx="21.8" ry="24.0" fill="#4c4a10" opacity="0.12"/><ellipse rx="19.8" ry="22.0" fill="url(#g_aug)" stroke="#4c4a10" stroke-width="1.1" stroke-opacity="0.8"/><path d="M1.9 -8.7L17.0 5.9L8.5 17.4Z" fill="#dcd890" fill-opacity="0.51"/><path d="M1.9 -8.7L8.5 17.4L-0.4 19.8Z" fill="#4c4a10" fill-opacity="0.47"/><path d="M1.9 -8.7L-0.4 19.8L-13.1 13.4Z" fill="#dcd890" fill-opacity="0.40"/><path d="M1.9 -8.7L-13.1 13.4L-17.6 3.1Z" fill="#4c4a10" fill-opacity="0.45"/><path d="M1.9 -8.7L-17.6 3.1L-16.1 -8.4Z" fill="#dcd890" fill-opacity="0.65"/><path d="M1.9 -8.7L-16.1 -8.4L-7.8 -17.8Z" fill="#4c4a10" fill-opacity="0.36"/><path d="M1.9 -8.7L-7.8 -17.8L0.4 -19.8Z" fill="#dcd890" fill-opacity="0.41"/><path d="M1.9 -8.7L0.4 -19.8L12.0 -14.6Z" fill="#4c4a10" fill-opacity="0.34"/><path d="M1.9 -8.7L12.0 -14.6L16.9 -6.3Z" fill="#dcd890" fill-opacity="0.60"/><path d="M1.9 -8.7L16.9 -6.3L17.0 5.9Z" fill="#4c4a10" fill-opacity="0.30"/><ellipse rx="17.8" ry="19.8" fill="none" stroke="#dcd890" stroke-width="1" stroke-opacity="0.5"/><circle cx="-10.4" cy="-10.8" r="1.3" fill="#fff" opacity="0.7"/><circle cx="6.7" cy="-7.2" r="1.1" fill="#fff" opacity="0.7"/></g><g transform="translate(112 35) rotate(0)"><ellipse cx="1" cy="2" rx="24.0" ry="21.8" fill="#4c4a10" opacity="0.12"/><ellipse rx="22.0" ry="19.8" fill="url(#g_aug)" stroke="#4c4a10" stroke-width="1.1" stroke-opacity="0.8"/><path d="M-2.4 -2.1L10.2 15.3L-3.0 17.6Z" fill="#dcd890" fill-opacity="0.59"/><path d="M-2.4 -2.1L-3.0 17.6L-16.4 10.0Z" fill="#4c4a10" fill-opacity="0.44"/><path d="M-2.4 -2.1L-16.4 10.0L-18.7 -5.9Z" fill="#dcd890" fill-opacity="0.52"/><path d="M-2.4 -2.1L-18.7 -5.9L-10.6 -15.1Z" fill="#4c4a10" fill-opacity="0.44"/><path d="M-2.4 -2.1L-10.6 -15.1L3.6 -17.5Z" fill="#dcd890" fill-opacity="0.52"/><path d="M-2.4 -2.1L3.6 -17.5L18.4 -6.6Z" fill="#4c4a10" fill-opacity="0.48"/><path d="M-2.4 -2.1L18.4 -6.6L19.4 3.6Z" fill="#dcd890" fill-opacity="0.56"/><path d="M-2.4 -2.1L19.4 3.6L10.2 15.3Z" fill="#4c4a10" fill-opacity="0.34"/><ellipse rx="19.8" ry="17.8" fill="none" stroke="#dcd890" stroke-width="1" stroke-opacity="0.5"/><circle cx="-11.6" cy="4.6" r="1.2" fill="#fff" opacity="0.7"/><circle cx="-7.7" cy="9.1" r="1.4" fill="#fff" opacity="0.7"/><circle cx="-6.4" cy="10.1" r="1.5" fill="#fff" opacity="0.7"/></g><g transform="translate(28 70) rotate(0)"><ellipse cx="1" cy="2" rx="24.0" ry="18.5" fill="#4c4a10" opacity="0.12"/><ellipse rx="22.0" ry="16.5" fill="url(#g_aug)" stroke="#4c4a10" stroke-width="1.1" stroke-opacity="0.8"/><path d="M-3.7 4.6L11.8 11.9L-0.6 14.8Z" fill="#dcd890" fill-opacity="0.58"/><path d="M-3.7 4.6L-0.6 14.8L-8.9 13.3Z" fill="#4c4a10" fill-opacity="0.45"/><path d="M-3.7 4.6L-8.9 13.3L-17.8 6.4Z" fill="#dcd890" fill-opacity="0.44"/><path d="M-3.7 4.6L-17.8 6.4L-19.8 -0.3Z" fill="#4c4a10" fill-opacity="0.34"/><path d="M-3.7 4.6L-19.8 -0.3L-17.6 -6.8Z" fill="#dcd890" fill-opacity="0.48"/><path d="M-3.7 4.6L-17.6 -6.8L-10.1 -12.8Z" fill="#4c4a10" fill-opacity="0.30"/><path d="M-3.7 4.6L-10.1 -12.8L-1.5 -14.8Z" fill="#dcd890" fill-opacity="0.49"/><path d="M-3.7 4.6L-1.5 -14.8L8.2 -13.5Z" fill="#4c4a10" fill-opacity="0.41"/><path d="M-3.7 4.6L8.2 -13.5L16.3 -8.4Z" fill="#dcd890" fill-opacity="0.45"/><path d="M-3.7 4.6L16.3 -8.4L19.8 0.5Z" fill="#4c4a10" fill-opacity="0.46"/><path d="M-3.7 4.6L19.8 0.5L17.7 6.6Z" fill="#dcd890" fill-opacity="0.41"/><path d="M-3.7 4.6L17.7 6.6L11.8 11.9Z" fill="#4c4a10" fill-opacity="0.36"/><ellipse rx="19.8" ry="14.8" fill="none" stroke="#dcd890" stroke-width="1" stroke-opacity="0.5"/><circle cx="-12.8" cy="-7.5" r="1.4" fill="#fff" opacity="0.7"/></g><g transform="translate(88 67) rotate(0)"><ellipse cx="1" cy="2" rx="24.0" ry="24.0" fill="#4c4a10" opacity="0.12"/><ellipse rx="22.0" ry="22.0" fill="url(#g_aug)" stroke="#4c4a10" stroke-width="1.1" stroke-opacity="0.8"/><path d="M-1.4 -6.1L-7.2 18.4L-17.7 8.9Z" fill="#dcd890" fill-opacity="0.62"/><path d="M-1.4 -6.1L-17.7 8.9L-19.6 -3.1Z" fill="#4c4a10" fill-opacity="0.47"/><path d="M-1.4 -6.1L-19.6 -3.1L-12.9 -15.0Z" fill="#dcd890" fill-opacity="0.55"/><path d="M-1.4 -6.1L-12.9 -15.0L-1.0 -19.8Z" fill="#4c4a10" fill-opacity="0.31"/><path d="M-1.4 -6.1L-1.0 -19.8L7.2 -18.4Z" fill="#dcd890" fill-opacity="0.64"/><path d="M-1.4 -6.1L7.2 -18.4L17.8 -8.6Z" fill="#4c4a10" fill-opacity="0.35"/><path d="M-1.4 -6.1L17.8 -8.6L18.9 6.0Z" fill="#dcd890" fill-opacity="0.44"/><path d="M-1.4 -6.1L18.9 6.0L13.7 14.3Z" fill="#4c4a10" fill-opacity="0.40"/><path d="M-1.4 -6.1L13.7 14.3L0.2 19.8Z" fill="#dcd890" fill-opacity="0.51"/><path d="M-1.4 -6.1L0.2 19.8L-7.2 18.4Z" fill="#4c4a10" fill-opacity="0.46"/><ellipse rx="19.8" ry="19.8" fill="none" stroke="#dcd890" stroke-width="1" stroke-opacity="0.5"/><circle cx="7.5" cy="3.9" r="1.0" fill="#fff" opacity="0.7"/><circle cx="3.6" cy="0.0" r="1.4" fill="#fff" opacity="0.7"/></g><g transform="translate(130 68) rotate(0)"><ellipse cx="1" cy="2" rx="24.0" ry="24.0" fill="#4c4a10" opacity="0.12"/><ellipse rx="22.0" ry="22.0" fill="url(#g_aug)" stroke="#4c4a10" stroke-width="1.1" stroke-opacity="0.8"/><path d="M-4.0 5.2L-19.3 4.3L-18.7 -6.5Z" fill="#dcd890" fill-opacity="0.45"/><path d="M-4.0 5.2L-18.7 -6.5L-13.3 -14.7Z" fill="#4c4a10" fill-opacity="0.38"/><path d="M-4.0 5.2L-13.3 -14.7L-8.2 -18.0Z" fill="#dcd890" fill-opacity="0.52"/><path d="M-4.0 5.2L-8.2 -18.0L2.1 -19.7Z" fill="#4c4a10" fill-opacity="0.38"/><path d="M-4.0 5.2L2.1 -19.7L14.5 -13.5Z" fill="#dcd890" fill-opacity="0.39"/><path d="M-4.0 5.2L14.5 -13.5L19.0 -5.4Z" fill="#4c4a10" fill-opacity="0.39"/><path d="M-4.0 5.2L19.0 -5.4L19.3 4.6Z" fill="#dcd890" fill-opacity="0.54"/><path d="M-4.0 5.2L19.3 4.6L14.7 13.3Z" fill="#4c4a10" fill-opacity="0.45"/><path d="M-4.0 5.2L14.7 13.3L7.6 18.3Z" fill="#dcd890" fill-opacity="0.38"/><path d="M-4.0 5.2L7.6 18.3L-1.5 19.7Z" fill="#4c4a10" fill-opacity="0.50"/><path d="M-4.0 5.2L-1.5 19.7L-14.3 13.7Z" fill="#dcd890" fill-opacity="0.48"/><path d="M-4.0 5.2L-14.3 13.7L-19.3 4.3Z" fill="#4c4a10" fill-opacity="0.39"/><path d="M-11.4 5.7L-10.9 -1.8L-5.2 -6.8L2.4 -6.3L7.4 -0.6L6.9 7.0L1.2 12.0L-6.4 11.5Z" fill="#dcd890" fill-opacity="0.25" stroke="#4c4a10" stroke-opacity="0.3" stroke-width="0.8"/><ellipse rx="19.8" ry="19.8" fill="none" stroke="#dcd890" stroke-width="1" stroke-opacity="0.5"/><circle cx="-2.9" cy="1.0" r="1.1" fill="#fff" opacity="0.7"/><circle cx="12.2" cy="11.7" r="1.3" fill="#fff" opacity="0.7"/></g><g transform="translate(58 92) rotate(0)"><ellipse cx="1" cy="2" rx="24.0" ry="24.0" fill="#4c4a10" opacity="0.12"/><ellipse rx="22.0" ry="22.0" fill="url(#g_aug)" stroke="#4c4a10" stroke-width="1.1" stroke-opacity="0.8"/><path d="M8.5 6.4L-18.0 -8.2L-9.2 -17.5Z" fill="#dcd890" fill-opacity="0.58"/><path d="M8.5 6.4L-9.2 -17.5L-2.3 -19.7Z" fill="#4c4a10" fill-opacity="0.44"/><path d="M8.5 6.4L-2.3 -19.7L9.8 -17.2Z" fill="#dcd890" fill-opacity="0.45"/><path d="M8.5 6.4L9.8 -17.2L18.6 -6.9Z" fill="#4c4a10" fill-opacity="0.38"/><path d="M8.5 6.4L18.6 -6.9L19.8 -0.2Z" fill="#dcd890" fill-opacity="0.61"/><path d="M8.5 6.4L19.8 -0.2L16.4 11.2Z" fill="#4c4a10" fill-opacity="0.29"/><path d="M8.5 6.4L16.4 11.2L7.1 18.5Z" fill="#dcd890" fill-opacity="0.42"/><path d="M8.5 6.4L7.1 18.5L-1.6 19.7Z" fill="#4c4a10" fill-opacity="0.43"/><path d="M8.5 6.4L-1.6 19.7L-9.6 17.3Z" fill="#dcd890" fill-opacity="0.59"/><path d="M8.5 6.4L-9.6 17.3L-17.4 9.5Z" fill="#4c4a10" fill-opacity="0.41"/><path d="M8.5 6.4L-17.4 9.5L-19.7 1.9Z" fill="#dcd890" fill-opacity="0.54"/><path d="M8.5 6.4L-19.7 1.9L-18.0 -8.2Z" fill="#4c4a10" fill-opacity="0.28"/><ellipse rx="19.8" ry="19.8" fill="none" stroke="#dcd890" stroke-width="1" stroke-opacity="0.5"/><circle cx="1.3" cy="0.6" r="1.0" fill="#fff" opacity="0.7"/><circle cx="-2.9" cy="1.9" r="1.1" fill="#fff" opacity="0.7"/><circle cx="3.3" cy="1.5" r="1.0" fill="#fff" opacity="0.7"/></g><g transform="translate(23 107) rotate(0)"><ellipse cx="1" cy="2" rx="24.0" ry="21.8" fill="#4c4a10" opacity="0.12"/><ellipse rx="22.0" ry="19.8" fill="url(#g_aug)" stroke="#4c4a10" stroke-width="1.1" stroke-opacity="0.8"/><path d="M-3.3 -5.7L-11.9 14.2L-18.6 6.1Z" fill="#dcd890" fill-opacity="0.43"/><path d="M-3.3 -5.7L-18.6 6.1L-19.7 1.5Z" fill="#4c4a10" fill-opacity="0.42"/><path d="M-3.3 -5.7L-19.7 1.5L-18.0 -7.5Z" fill="#dcd890" fill-opacity="0.49"/><path d="M-3.3 -5.7L-18.0 -7.5L-9.4 -15.7Z" fill="#4c4a10" fill-opacity="0.36"/><path d="M-3.3 -5.7L-9.4 -15.7L2.2 -17.7Z" fill="#dcd890" fill-opacity="0.58"/><path d="M-3.3 -5.7L2.2 -17.7L10.8 -14.9Z" fill="#4c4a10" fill-opacity="0.36"/><path d="M-3.3 -5.7L10.8 -14.9L17.5 -8.3Z" fill="#dcd890" fill-opacity="0.49"/><path d="M-3.3 -5.7L17.5 -8.3L19.8 -1.0Z" fill="#4c4a10" fill-opacity="0.39"/><path d="M-3.3 -5.7L19.8 -1.0L17.6 8.1Z" fill="#dcd890" fill-opacity="0.56"/><path d="M-3.3 -5.7L17.6 8.1L11.4 14.6Z" fill="#4c4a10" fill-opacity="0.52"/><path d="M-3.3 -5.7L11.4 14.6L-0.8 17.8Z" fill="#dcd890" fill-opacity="0.57"/><path d="M-3.3 -5.7L-0.8 17.8L-11.9 14.2Z" fill="#4c4a10" fill-opacity="0.28"/><ellipse rx="19.8" ry="17.8" fill="none" stroke="#dcd890" stroke-width="1" stroke-opacity="0.5"/><circle cx="-10.2" cy="8.1" r="1.4" fill="#fff" opacity="0.7"/><circle cx="-5.2" cy="8.6" r="1.0" fill="#fff" opacity="0.7"/><circle cx="8.7" cy="10.8" r="1.5" fill="#fff" opacity="0.7"/></g><g transform="translate(95 108) rotate(0)"><ellipse cx="1" cy="2" rx="24.0" ry="22.9" fill="#4c4a10" opacity="0.12"/><ellipse rx="22.0" ry="20.9" fill="url(#g_aug)" stroke="#4c4a10" stroke-width="1.1" stroke-opacity="0.8"/><path d="M-0.7 -8.3L15.8 11.4L1.5 18.8Z" fill="#dcd890" fill-opacity="0.40"/><path d="M-0.7 -8.3L1.5 18.8L-14.8 12.5Z" fill="#4c4a10" fill-opacity="0.42"/><path d="M-0.7 -8.3L-14.8 12.5L-19.8 -0.2Z" fill="#dcd890" fill-opacity="0.63"/><path d="M-0.7 -8.3L-19.8 -0.2L-16.2 -10.8Z" fill="#4c4a10" fill-opacity="0.34"/><path d="M-0.7 -8.3L-16.2 -10.8L0.6 -18.8Z" fill="#dcd890" fill-opacity="0.52"/><path d="M-0.7 -8.3L0.6 -18.8L15.1 -12.1Z" fill="#4c4a10" fill-opacity="0.43"/><path d="M-0.7 -8.3L15.1 -12.1L19.8 1.1Z" fill="#dcd890" fill-opacity="0.64"/><path d="M-0.7 -8.3L19.8 1.1L15.8 11.4Z" fill="#4c4a10" fill-opacity="0.48"/><ellipse rx="19.8" ry="18.8" fill="none" stroke="#dcd890" stroke-width="1" stroke-opacity="0.5"/><circle cx="-4.6" cy="2.0" r="0.9" fill="#fff" opacity="0.7"/><circle cx="-1.9" cy="-7.2" r="0.8" fill="#fff" opacity="0.7"/><circle cx="-5.6" cy="-7.0" r="1.2" fill="#fff" opacity="0.7"/></g><g transform="translate(130 100) rotate(0)"><ellipse cx="1" cy="2" rx="18.5" ry="20.7" fill="#4c4a10" opacity="0.12"/><ellipse rx="16.5" ry="18.7" fill="url(#g_aug)" stroke="#4c4a10" stroke-width="1.1" stroke-opacity="0.8"/><path d="M-2.0 5.1L-0.5 16.8L-8.8 13.6Z" fill="#dcd890" fill-opacity="0.40"/><path d="M-2.0 5.1L-8.8 13.6L-12.7 8.7Z" fill="#4c4a10" fill-opacity="0.39"/><path d="M-2.0 5.1L-12.7 8.7L-14.7 -2.4Z" fill="#dcd890" fill-opacity="0.60"/><path d="M-2.0 5.1L-14.7 -2.4L-10.6 -11.8Z" fill="#4c4a10" fill-opacity="0.30"/><path d="M-2.0 5.1L-10.6 -11.8L-3.0 -16.5Z" fill="#dcd890" fill-opacity="0.42"/><path d="M-2.0 5.1L-3.0 -16.5L7.8 -14.3Z" fill="#4c4a10" fill-opacity="0.41"/><path d="M-2.0 5.1L7.8 -14.3L14.0 -5.7Z" fill="#dcd890" fill-opacity="0.50"/><path d="M-2.0 5.1L14.0 -5.7L14.5 3.6Z" fill="#4c4a10" fill-opacity="0.33"/><path d="M-2.0 5.1L14.5 3.6L9.8 12.7Z" fill="#dcd890" fill-opacity="0.58"/><path d="M-2.0 5.1L9.8 12.7L-0.5 16.8Z" fill="#4c4a10" fill-opacity="0.52"/><ellipse rx="14.8" ry="16.8" fill="none" stroke="#dcd890" stroke-width="1" stroke-opacity="0.5"/><circle cx="8.7" cy="5.6" r="1.0" fill="#fff" opacity="0.7"/><circle cx="1.2" cy="9.9" r="1.5" fill="#fff" opacity="0.7"/></g><g transform="translate(50 130) rotate(0)"><ellipse cx="1" cy="2" rx="22.9" ry="18.5" fill="#4c4a10" opacity="0.12"/><ellipse rx="20.9" ry="16.5" fill="url(#g_aug)" stroke="#4c4a10" stroke-width="1.1" stroke-opacity="0.8"/><path d="M-0.4 -3.4L8.9 13.1L-3.1 14.6Z" fill="#dcd890" fill-opacity="0.52"/><path d="M-0.4 -3.4L-3.1 14.6L-13.0 10.7Z" fill="#4c4a10" fill-opacity="0.44"/><path d="M-0.4 -3.4L-13.0 10.7L-18.7 1.7Z" fill="#dcd890" fill-opacity="0.38"/><path d="M-0.4 -3.4L-18.7 1.7L-18.2 -3.9Z" fill="#4c4a10" fill-opacity="0.48"/><path d="M-0.4 -3.4L-18.2 -3.9L-10.8 -12.2Z" fill="#dcd890" fill-opacity="0.60"/><path d="M-0.4 -3.4L-10.8 -12.2L0.7 -14.8Z" fill="#4c4a10" fill-opacity="0.33"/><path d="M-0.4 -3.4L0.7 -14.8L10.2 -12.5Z" fill="#dcd890" fill-opacity="0.48"/><path d="M-0.4 -3.4L10.2 -12.5L17.7 -5.1Z" fill="#4c4a10" fill-opacity="0.48"/><path d="M-0.4 -3.4L17.7 -5.1L16.7 6.9Z" fill="#dcd890" fill-opacity="0.57"/><path d="M-0.4 -3.4L16.7 6.9L8.9 13.1Z" fill="#4c4a10" fill-opacity="0.31"/><ellipse rx="18.8" ry="14.8" fill="none" stroke="#dcd890" stroke-width="1" stroke-opacity="0.5"/><circle cx="6.4" cy="3.5" r="0.8" fill="#fff" opacity="0.7"/><circle cx="-0.6" cy="-3.0" r="0.9" fill="#fff" opacity="0.7"/></g><g transform="translate(88 140) rotate(0)"><ellipse cx="1" cy="2" rx="24.0" ry="15.2" fill="#4c4a10" opacity="0.12"/><ellipse rx="22.0" ry="13.2" fill="url(#g_aug)" stroke="#4c4a10" stroke-width="1.1" stroke-opacity="0.8"/><path d="M-8.3 -0.3L19.7 -1.0L14.9 7.8Z" fill="#dcd890" fill-opacity="0.44"/><path d="M-8.3 -0.3L14.9 7.8L-0.8 11.9Z" fill="#4c4a10" fill-opacity="0.40"/><path d="M-8.3 -0.3L-0.8 11.9L-14.3 8.2Z" fill="#dcd890" fill-opacity="0.38"/><path d="M-8.3 -0.3L-14.3 8.2L-19.8 0.5Z" fill="#4c4a10" fill-opacity="0.40"/><path d="M-8.3 -0.3L-19.8 0.5L-15.4 -7.5Z" fill="#dcd890" fill-opacity="0.38"/><path d="M-8.3 -0.3L-15.4 -7.5L2.0 -11.8Z" fill="#4c4a10" fill-opacity="0.36"/><path d="M-8.3 -0.3L2.0 -11.8L13.5 -8.7Z" fill="#dcd890" fill-opacity="0.54"/><path d="M-8.3 -0.3L13.5 -8.7L19.7 -1.0Z" fill="#4c4a10" fill-opacity="0.46"/><ellipse rx="19.8" ry="11.9" fill="none" stroke="#dcd890" stroke-width="1" stroke-opacity="0.5"/><circle cx="-1.9" cy="-7.7" r="1.0" fill="#fff" opacity="0.7"/><circle cx="5.1" cy="5.7" r="1.1" fill="#fff" opacity="0.7"/><circle cx="12.2" cy="-2.5" r="1.2" fill="#fff" opacity="0.7"/></g><g transform="translate(125 128) rotate(0)"><ellipse cx="1" cy="2" rx="18.5" ry="15.2" fill="#4c4a10" opacity="0.12"/><ellipse rx="16.5" ry="13.2" fill="url(#g_aug)" stroke="#4c4a10" stroke-width="1.1" stroke-opacity="0.8"/><path d="M1.1 3.0L14.1 -3.7L14.0 3.9Z" fill="#dcd890" fill-opacity="0.54"/><path d="M1.1 3.0L14.0 3.9L4.6 11.3Z" fill="#4c4a10" fill-opacity="0.39"/><path d="M1.1 3.0L4.6 11.3L-6.0 10.9Z" fill="#dcd890" fill-opacity="0.47"/><path d="M1.1 3.0L-6.0 10.9L-13.8 4.3Z" fill="#4c4a10" fill-opacity="0.33"/><path d="M1.1 3.0L-13.8 4.3L-13.7 -4.5Z" fill="#dcd890" fill-opacity="0.54"/><path d="M1.1 3.0L-13.7 -4.5L-5.4 -11.1Z" fill="#4c4a10" fill-opacity="0.47"/><path d="M1.1 3.0L-5.4 -11.1L3.2 -11.6Z" fill="#dcd890" fill-opacity="0.55"/><path d="M1.1 3.0L3.2 -11.6L14.1 -3.7Z" fill="#4c4a10" fill-opacity="0.29"/><path d="M7.2 -1.0L7.5 3.5L3.7 6.9L-2.0 7.1L-6.2 4.0L-6.5 -0.5L-2.6 -3.9L3.0 -4.1Z" fill="#dcd890" fill-opacity="0.25" stroke="#4c4a10" stroke-opacity="0.3" stroke-width="0.8"/><ellipse rx="14.8" ry="11.9" fill="none" stroke="#dcd890" stroke-width="1" stroke-opacity="0.5"/><circle cx="0.0" cy="-7.8" r="1.1" fill="#fff" opacity="0.7"/><circle cx="2.2" cy="0.4" r="0.9" fill="#fff" opacity="0.7"/><circle cx="8.8" cy="4.6" r="0.9" fill="#fff" opacity="0.7"/></g></g></g><g transform="translate(341.7 305.7)"><defs><clipPath id="c_sep"><circle cx="75" cy="75" r="75"/></clipPath><linearGradient id="bg_sep" x1="0" y1="0" x2="0" y2="1"><stop offset="0" stop-color="#dcdee4"/><stop offset="1" stop-color="#d2d4dc"/></linearGradient><radialGradient id="g_sep" cx="0.45" cy="0.4" r="0.65"><stop offset="0" stop-color="#2a5cbc"/><stop offset="0.6" stop-color="#2a5cbc"/><stop offset="1" stop-color="#102e80"/></radialGradient></defs><g clip-path="url(#c_sep)"><rect width="150" height="150" fill="url(#bg_sep)"/><g transform="translate(67 26) rotate(0)"><ellipse cx="1" cy="2" rx="24.0" ry="21.8" fill="#102e80" opacity="0.12"/><ellipse rx="22.0" ry="19.8" fill="url(#g_sep)" stroke="#102e80" stroke-width="1.1" stroke-opacity="0.8"/><path d="M-4.9 6.9L19.2 4.4L13.3 13.2Z" fill="#7ca6e6" fill-opacity="0.41"/><path d="M-4.9 6.9L13.3 13.2L2.3 17.7Z" fill="#102e80" fill-opacity="0.55"/><path d="M-4.9 6.9L2.3 17.7L-6.0 17.0Z" fill="#7ca6e6" fill-opacity="0.58"/><path d="M-4.9 6.9L-6.0 17.0L-18.3 6.7Z" fill="#102e80" fill-opacity="0.62"/><path d="M-4.9 6.9L-18.3 6.7L-19.7 -1.9Z" fill="#7ca6e6" fill-opacity="0.56"/><path d="M-4.9 6.9L-19.7 -1.9L-12.9 -13.5Z" fill="#102e80" fill-opacity="0.38"/><path d="M-4.9 6.9L-12.9 -13.5L-3.2 -17.6Z" fill="#7ca6e6" fill-opacity="0.49"/><path d="M-4.9 6.9L-3.2 -17.6L10.1 -15.3Z" fill="#102e80" fill-opacity="0.60"/><path d="M-4.9 6.9L10.1 -15.3L18.1 -7.2Z" fill="#7ca6e6" fill-opacity="0.40"/><path d="M-4.9 6.9L18.1 -7.2L19.2 4.4Z" fill="#102e80" fill-opacity="0.36"/><ellipse rx="19.8" ry="17.8" fill="none" stroke="#7ca6e6" stroke-width="1" stroke-opacity="0.5"/><circle cx="2.9" cy="-9.8" r="1.0" fill="#fff" opacity="0.7"/><circle cx="4.4" cy="9.2" r="1.4" fill="#fff" opacity="0.7"/><circle cx="2.8" cy="8.8" r="1.3" fill="#fff" opacity="0.7"/></g><g transform="translate(35 47) rotate(-15)"><ellipse cx="1" cy="2" rx="24.0" ry="15.2" fill="#102e80" opacity="0.12"/><ellipse rx="22.0" ry="13.2" fill="url(#g_sep)" stroke="#102e80" stroke-width="1.1" stroke-opacity="0.8"/><path d="M2.9 -5.1L-19.0 3.4L-18.2 -4.7Z" fill="#7ca6e6" fill-opacity="0.33"/><path d="M2.9 -5.1L-18.2 -4.7L-5.7 -11.4Z" fill="#102e80" fill-opacity="0.54"/><path d="M2.9 -5.1L-5.7 -11.4L11.7 -9.6Z" fill="#7ca6e6" fill-opacity="0.48"/><path d="M2.9 -5.1L11.7 -9.6L18.7 -3.8Z" fill="#102e80" fill-opacity="0.53"/><path d="M2.9 -5.1L18.7 -3.8L18.0 4.9Z" fill="#7ca6e6" fill-opacity="0.45"/><path d="M2.9 -5.1L18.0 4.9L4.7 11.5Z" fill="#102e80" fill-opacity="0.55"/><path d="M2.9 -5.1L4.7 11.5L-11.2 9.8Z" fill="#7ca6e6" fill-opacity="0.54"/><path d="M2.9 -5.1L-11.2 9.8L-19.0 3.4Z" fill="#102e80" fill-opacity="0.43"/><path d="M-8.0 -0.8L-7.3 -5.3L-1.5 -8.2L6.1 -7.8L10.9 -4.3L10.2 0.2L4.4 3.1L-3.2 2.7Z" fill="#7ca6e6" fill-opacity="0.23" stroke="#102e80" stroke-opacity="0.3" stroke-width="0.8"/><ellipse rx="19.8" ry="11.9" fill="none" stroke="#7ca6e6" stroke-width="1" stroke-opacity="0.5"/><circle cx="-0.5" cy="-4.5" r="1.3" fill="#fff" opacity="0.7"/></g><g transform="translate(88 50) rotate(0)"><ellipse cx="1" cy="2" rx="24.0" ry="22.9" fill="#102e80" opacity="0.12"/><ellipse rx="22.0" ry="20.9" fill="url(#g_sep)" stroke="#102e80" stroke-width="1.1" stroke-opacity="0.8"/><path d="M-4.8 1.6L-13.8 -13.5L0.3 -18.8Z" fill="#7ca6e6" fill-opacity="0.35"/><path d="M-4.8 1.6L0.3 -18.8L15.2 -12.1Z" fill="#102e80" fill-opacity="0.52"/><path d="M-4.8 1.6L15.2 -12.1L19.8 -0.6Z" fill="#7ca6e6" fill-opacity="0.53"/><path d="M-4.8 1.6L19.8 -0.6L15.8 11.4Z" fill="#102e80" fill-opacity="0.37"/><path d="M-4.8 1.6L15.8 11.4L-2.5 18.7Z" fill="#7ca6e6" fill-opacity="0.47"/><path d="M-4.8 1.6L-2.5 18.7L-13.5 13.8Z" fill="#102e80" fill-opacity="0.36"/><path d="M-4.8 1.6L-13.5 13.8L-19.8 0.5Z" fill="#7ca6e6" fill-opacity="0.43"/><path d="M-4.8 1.6L-19.8 0.5L-13.8 -13.5Z" fill="#102e80" fill-opacity="0.40"/><ellipse rx="19.8" ry="18.8" fill="none" stroke="#7ca6e6" stroke-width="1" stroke-opacity="0.5"/><circle cx="-4.4" cy="3.7" r="0.9" fill="#fff" opacity="0.7"/><circle cx="-5.5" cy="-5.1" r="1.4" fill="#fff" opacity="0.7"/><circle cx="-10.8" cy="-0.4" r="1.6" fill="#fff" opacity="0.7"/></g><g transform="translate(123 31) rotate(0)"><ellipse cx="1" cy="2" rx="20.7" ry="24.0" fill="#102e80" opacity="0.12"/><ellipse rx="18.7" ry="22.0" fill="url(#g_sep)" stroke="#102e80" stroke-width="1.1" stroke-opacity="0.8"/><path d="M-4.1 -0.6L10.1 -15.9L16.1 -5.7Z" fill="#7ca6e6" fill-opacity="0.32"/><path d="M-4.1 -0.6L16.1 -5.7L13.8 11.4Z" fill="#102e80" fill-opacity="0.60"/><path d="M-4.1 -0.6L13.8 11.4L4.6 19.0Z" fill="#7ca6e6" fill-opacity="0.38"/><path d="M-4.1 -0.6L4.6 19.0L-7.6 17.7Z" fill="#102e80" fill-opacity="0.45"/><path d="M-4.1 -0.6L-7.6 17.7L-16.7 2.0Z" fill="#7ca6e6" fill-opacity="0.32"/><path d="M-4.1 -0.6L-16.7 2.0L-15.4 -7.9Z" fill="#102e80" fill-opacity="0.52"/><path d="M-4.1 -0.6L-15.4 -7.9L-1.6 -19.7Z" fill="#7ca6e6" fill-opacity="0.52"/><path d="M-4.1 -0.6L-1.6 -19.7L10.1 -15.9Z" fill="#102e80" fill-opacity="0.60"/><path d="M2.3 -8.7L6.1 -2.6L5.1 4.9L-0.1 9.3L-6.4 8.2L-10.2 2.1L-9.2 -5.4L-4.0 -9.9Z" fill="#7ca6e6" fill-opacity="0.23" stroke="#102e80" stroke-opacity="0.3" stroke-width="0.8"/><ellipse rx="16.8" ry="19.8" fill="none" stroke="#7ca6e6" stroke-width="1" stroke-opacity="0.5"/><circle cx="-11.0" cy="-5.6" r="1.0" fill="#fff" opacity="0.7"/></g><g transform="translate(7 82) rotate(0)"><ellipse cx="1" cy="2" rx="13.0" ry="20.7" fill="#102e80" opacity="0.12"/><ellipse rx="11.0" ry="18.7" fill="url(#g_sep)" stroke="#102e80" stroke-width="1.1" stroke-opacity="0.8"/><path d="M2.7 -4.1L2.1 -16.5L8.3 -9.3Z" fill="#7ca6e6" fill-opacity="0.44"/><path d="M2.7 -4.1L8.3 -9.3L9.7 3.0Z" fill="#102e80" fill-opacity="0.57"/><path d="M2.7 -4.1L9.7 3.0L4.6 14.9Z" fill="#7ca6e6" fill-opacity="0.34"/><path d="M2.7 -4.1L4.6 14.9L-3.0 16.0Z" fill="#102e80" fill-opacity="0.64"/><path d="M2.7 -4.1L-3.0 16.0L-7.2 11.5Z" fill="#7ca6e6" fill-opacity="0.40"/><path d="M2.7 -4.1L-7.2 11.5L-9.6 -4.1Z" fill="#102e80" fill-opacity="0.55"/><path d="M2.7 -4.1L-9.6 -4.1L-6.5 -12.7Z" fill="#7ca6e6" fill-opacity="0.51"/><path d="M2.7 -4.1L-6.5 -12.7L2.1 -16.5Z" fill="#102e80" fill-opacity="0.49"/><path d="M2.2 -10.3L5.4 -6.9L6.2 -0.6L4.2 4.8L0.5 6.3L-2.7 2.8L-3.5 -3.4L-1.5 -8.9Z" fill="#7ca6e6" fill-opacity="0.23" stroke="#102e80" stroke-opacity="0.3" stroke-width="0.8"/><ellipse rx="9.9" ry="16.8" fill="none" stroke="#7ca6e6" stroke-width="1" stroke-opacity="0.5"/><circle cx="-3.9" cy="-1.4" r="1.5" fill="#fff" opacity="0.7"/></g><g transform="translate(37 85) rotate(0)"><ellipse cx="1" cy="2" rx="22.9" ry="22.9" fill="#102e80" opacity="0.12"/><ellipse rx="20.9" ry="20.9" fill="url(#g_sep)" stroke="#102e80" stroke-width="1.1" stroke-opacity="0.8"/><path d="M-5.2 -1.4L-18.8 0.5L-16.9 -8.3Z" fill="#7ca6e6" fill-opacity="0.37"/><path d="M-5.2 -1.4L-16.9 -8.3L-10.9 -15.3Z" fill="#102e80" fill-opacity="0.45"/><path d="M-5.2 -1.4L-10.9 -15.3L-3.0 -18.6Z" fill="#7ca6e6" fill-opacity="0.34"/><path d="M-5.2 -1.4L-3.0 -18.6L6.9 -17.5Z" fill="#102e80" fill-opacity="0.54"/><path d="M-5.2 -1.4L6.9 -17.5L15.0 -11.3Z" fill="#7ca6e6" fill-opacity="0.42"/><path d="M-5.2 -1.4L15.0 -11.3L18.8 -1.1Z" fill="#102e80" fill-opacity="0.40"/><path d="M-5.2 -1.4L18.8 -1.1L18.4 3.9Z" fill="#7ca6e6" fill-opacity="0.55"/><path d="M-5.2 -1.4L18.4 3.9L10.2 15.8Z" fill="#102e80" fill-opacity="0.36"/><path d="M-5.2 -1.4L10.2 15.8L4.5 18.3Z" fill="#7ca6e6" fill-opacity="0.56"/><path d="M-5.2 -1.4L4.5 18.3L-3.9 18.4Z" fill="#102e80" fill-opacity="0.63"/><path d="M-5.2 -1.4L-3.9 18.4L-14.4 12.1Z" fill="#7ca6e6" fill-opacity="0.38"/><path d="M-5.2 -1.4L-14.4 12.1L-18.8 0.5Z" fill="#102e80" fill-opacity="0.58"/><ellipse rx="18.8" ry="18.8" fill="none" stroke="#7ca6e6" stroke-width="1" stroke-opacity="0.5"/><circle cx="-12.0" cy="-5.9" r="1.3" fill="#fff" opacity="0.7"/></g><g transform="translate(76 78) rotate(0)"><ellipse cx="1" cy="2" rx="24.0" ry="24.0" fill="#102e80" opacity="0.12"/><ellipse rx="22.0" ry="22.0" fill="url(#g_sep)" stroke="#102e80" stroke-width="1.1" stroke-opacity="0.8"/><path d="M4.6 -7.6L-19.2 4.8L-18.5 -7.0Z" fill="#7ca6e6" fill-opacity="0.56"/><path d="M4.6 -7.6L-18.5 -7.0L-14.2 -13.8Z" fill="#102e80" fill-opacity="0.39"/><path d="M4.6 -7.6L-14.2 -13.8L0.6 -19.8Z" fill="#7ca6e6" fill-opacity="0.55"/><path d="M4.6 -7.6L0.6 -19.8L9.1 -17.6Z" fill="#102e80" fill-opacity="0.37"/><path d="M4.6 -7.6L9.1 -17.6L18.8 -6.3Z" fill="#7ca6e6" fill-opacity="0.36"/><path d="M4.6 -7.6L18.8 -6.3L19.4 4.2Z" fill="#102e80" fill-opacity="0.42"/><path d="M4.6 -7.6L19.4 4.2L10.6 16.7Z" fill="#7ca6e6" fill-opacity="0.49"/><path d="M4.6 -7.6L10.6 16.7L1.9 19.7Z" fill="#102e80" fill-opacity="0.38"/><path d="M4.6 -7.6L1.9 19.7L-12.4 15.4Z" fill="#7ca6e6" fill-opacity="0.47"/><path d="M4.6 -7.6L-12.4 15.4L-19.2 4.8Z" fill="#102e80" fill-opacity="0.63"/><path d="M-7.0 -0.2L-6.8 -7.8L-1.3 -13.0L6.3 -12.9L11.5 -7.4L11.3 0.2L5.9 5.4L-1.7 5.3Z" fill="#7ca6e6" fill-opacity="0.23" stroke="#102e80" stroke-opacity="0.3" stroke-width="0.8"/><ellipse rx="19.8" ry="19.8" fill="none" stroke="#7ca6e6" stroke-width="1" stroke-opacity="0.5"/><circle cx="0.2" cy="0.3" r="1.2" fill="#fff" opacity="0.7"/></g><g transform="translate(112 86) rotate(0)"><ellipse cx="1" cy="2" rx="19.6" ry="22.9" fill="#102e80" opacity="0.12"/><ellipse rx="17.6" ry="20.9" fill="url(#g_sep)" stroke="#102e80" stroke-width="1.1" stroke-opacity="0.8"/><path d="M-0.8 -0.4L13.8 -9.3L15.8 1.6Z" fill="#7ca6e6" fill-opacity="0.48"/><path d="M-0.8 -0.4L15.8 1.6L13.1 10.6Z" fill="#102e80" fill-opacity="0.57"/><path d="M-0.8 -0.4L13.1 10.6L6.7 17.1Z" fill="#7ca6e6" fill-opacity="0.32"/><path d="M-0.8 -0.4L6.7 17.1L-6.8 17.0Z" fill="#102e80" fill-opacity="0.35"/><path d="M-0.8 -0.4L-6.8 17.0L-13.0 10.8Z" fill="#7ca6e6" fill-opacity="0.57"/><path d="M-0.8 -0.4L-13.0 10.8L-15.8 -0.5Z" fill="#102e80" fill-opacity="0.61"/><path d="M-0.8 -0.4L-15.8 -0.5L-12.0 -12.2Z" fill="#7ca6e6" fill-opacity="0.52"/><path d="M-0.8 -0.4L-12.0 -12.2L-5.3 -17.7Z" fill="#102e80" fill-opacity="0.61"/><path d="M-0.8 -0.4L-5.3 -17.7L5.1 -17.8Z" fill="#7ca6e6" fill-opacity="0.48"/><path d="M-0.8 -0.4L5.1 -17.8L13.8 -9.3Z" fill="#102e80" fill-opacity="0.35"/><ellipse rx="15.8" ry="18.8" fill="none" stroke="#7ca6e6" stroke-width="1" stroke-opacity="0.5"/><circle cx="1.9" cy="11.7" r="0.9" fill="#fff" opacity="0.7"/><circle cx="-9.9" cy="-3.3" r="1.1" fill="#fff" opacity="0.7"/></g><g transform="translate(138 78) rotate(0)"><ellipse cx="1" cy="2" rx="13.0" ry="24.0" fill="#102e80" opacity="0.12"/><ellipse rx="11.0" ry="22.0" fill="url(#g_sep)" stroke="#102e80" stroke-width="1.1" stroke-opacity="0.8"/><path d="M1.3 -0.1L9.9 -0.7L8.4 10.5Z" fill="#7ca6e6" fill-opacity="0.34"/><path d="M1.3 -0.1L8.4 10.5L4.2 17.9Z" fill="#102e80" fill-opacity="0.64"/><path d="M1.3 -0.1L4.2 17.9L-2.3 19.3Z" fill="#7ca6e6" fill-opacity="0.55"/><path d="M1.3 -0.1L-2.3 19.3L-8.4 10.6Z" fill="#102e80" fill-opacity="0.47"/><path d="M1.3 -0.1L-8.4 10.6L-9.9 1.1Z" fill="#7ca6e6" fill-opacity="0.57"/><path d="M1.3 -0.1L-9.9 1.1L-8.2 -11.1Z" fill="#102e80" fill-opacity="0.64"/><path d="M1.3 -0.1L-8.2 -11.1L-3.3 -18.7Z" fill="#7ca6e6" fill-opacity="0.32"/><path d="M1.3 -0.1L-3.3 -18.7L4.1 -18.0Z" fill="#102e80" fill-opacity="0.51"/><path d="M1.3 -0.1L4.1 -18.0L8.5 -10.0Z" fill="#7ca6e6" fill-opacity="0.55"/><path d="M1.3 -0.1L8.5 -10.0L9.9 -0.7Z" fill="#102e80" fill-opacity="0.40"/><path d="M5.6 -0.3L4.2 6.8L0.7 9.9L-2.8 7.1L-4.3 0.2L-3.0 -6.9L0.5 -9.9L4.0 -7.2Z" fill="#7ca6e6" fill-opacity="0.23" stroke="#102e80" stroke-opacity="0.3" stroke-width="0.8"/><ellipse rx="9.9" ry="19.8" fill="none" stroke="#7ca6e6" stroke-width="1" stroke-opacity="0.5"/><circle cx="4.0" cy="-1.6" r="1.6" fill="#fff" opacity="0.7"/><circle cx="5.1" cy="0.8" r="1.5" fill="#fff" opacity="0.7"/></g><g transform="translate(85 114) rotate(0)"><ellipse cx="1" cy="2" rx="22.9" ry="17.4" fill="#102e80" opacity="0.12"/><ellipse rx="20.9" ry="15.4" fill="url(#g_sep)" stroke="#102e80" stroke-width="1.1" stroke-opacity="0.8"/><path d="M-4.9 -2.4L6.0 -13.1L16.3 -6.9Z" fill="#7ca6e6" fill-opacity="0.53"/><path d="M-4.9 -2.4L16.3 -6.9L17.4 5.3Z" fill="#102e80" fill-opacity="0.36"/><path d="M-4.9 -2.4L17.4 5.3L9.3 12.1Z" fill="#7ca6e6" fill-opacity="0.58"/><path d="M-4.9 -2.4L9.3 12.1L-6.8 12.9Z" fill="#102e80" fill-opacity="0.37"/><path d="M-4.9 -2.4L-6.8 12.9L-17.3 5.4Z" fill="#7ca6e6" fill-opacity="0.40"/><path d="M-4.9 -2.4L-17.3 5.4L-17.4 -5.3Z" fill="#102e80" fill-opacity="0.43"/><path d="M-4.9 -2.4L-17.4 -5.3L-10.7 -11.4Z" fill="#7ca6e6" fill-opacity="0.49"/><path d="M-4.9 -2.4L-10.7 -11.4L6.0 -13.1Z" fill="#102e80" fill-opacity="0.41"/><path d="M0.0 -7.9L5.7 -4.6L6.6 0.6L2.2 4.8L-4.9 5.5L-10.6 2.2L-11.5 -3.0L-7.1 -7.2Z" fill="#7ca6e6" fill-opacity="0.23" stroke="#102e80" stroke-opacity="0.3" stroke-width="0.8"/><ellipse rx="18.8" ry="13.9" fill="none" stroke="#7ca6e6" stroke-width="1" stroke-opacity="0.5"/><circle cx="9.6" cy="2.4" r="1.2" fill="#fff" opacity="0.7"/><circle cx="3.4" cy="1.2" r="1.1" fill="#fff" opacity="0.7"/><circle cx="-11.3" cy="-7.2" r="0.8" fill="#fff" opacity="0.7"/></g><g transform="translate(35 121) rotate(0)"><ellipse cx="1" cy="2" rx="20.7" ry="22.9" fill="#102e80" opacity="0.12"/><ellipse rx="18.7" ry="20.9" fill="url(#g_sep)" stroke="#102e80" stroke-width="1.1" stroke-opacity="0.8"/><path d="M3.7 -4.6L-16.4 4.1L-14.1 -10.3Z" fill="#7ca6e6" fill-opacity="0.35"/><path d="M3.7 -4.6L-14.1 -10.3L-7.5 -16.8Z" fill="#102e80" fill-opacity="0.62"/><path d="M3.7 -4.6L-7.5 -16.8L2.8 -18.5Z" fill="#7ca6e6" fill-opacity="0.38"/><path d="M3.7 -4.6L2.8 -18.5L10.6 -14.6Z" fill="#102e80" fill-opacity="0.59"/><path d="M3.7 -4.6L10.6 -14.6L16.6 -3.2Z" fill="#7ca6e6" fill-opacity="0.44"/><path d="M3.7 -4.6L16.6 -3.2L15.4 7.6Z" fill="#102e80" fill-opacity="0.50"/><path d="M3.7 -4.6L15.4 7.6L7.0 17.1Z" fill="#7ca6e6" fill-opacity="0.52"/><path d="M3.7 -4.6L7.0 17.1L-2.9 18.5Z" fill="#102e80" fill-opacity="0.64"/><path d="M3.7 -4.6L-2.9 18.5L-13.1 11.8Z" fill="#7ca6e6" fill-opacity="0.54"/><path d="M3.7 -4.6L-13.1 11.8L-16.4 4.1Z" fill="#102e80" fill-opacity="0.52"/><path d="M-6.4 -0.8L-5.0 -7.8L0.5 -11.6L6.8 -9.9L10.2 -3.8L8.7 3.2L3.2 7.0L-3.0 5.3Z" fill="#7ca6e6" fill-opacity="0.23" stroke="#102e80" stroke-opacity="0.3" stroke-width="0.8"/><ellipse rx="16.8" ry="18.8" fill="none" stroke="#7ca6e6" stroke-width="1" stroke-opacity="0.5"/><circle cx="2.4" cy="11.3" r="0.9" fill="#fff" opacity="0.7"/><circle cx="3.1" cy="-9.7" r="1.1" fill="#fff" opacity="0.7"/></g><g transform="translate(72 138) rotate(0)"><ellipse cx="1" cy="2" rx="20.7" ry="16.3" fill="#102e80" opacity="0.12"/><ellipse rx="18.7" ry="14.3" fill="url(#g_sep)" stroke="#102e80" stroke-width="1.1" stroke-opacity="0.8"/><path d="M-2.9 -5.2L-12.3 8.8L-16.8 -0.4Z" fill="#7ca6e6" fill-opacity="0.57"/><path d="M-2.9 -5.2L-16.8 -0.4L-13.1 -8.1Z" fill="#102e80" fill-opacity="0.37"/><path d="M-2.9 -5.2L-13.1 -8.1L-7.3 -11.6Z" fill="#7ca6e6" fill-opacity="0.38"/><path d="M-2.9 -5.2L-7.3 -11.6L7.5 -11.5Z" fill="#102e80" fill-opacity="0.38"/><path d="M-2.9 -5.2L7.5 -11.5L13.4 -7.7Z" fill="#7ca6e6" fill-opacity="0.38"/><path d="M-2.9 -5.2L13.4 -7.7L16.8 0.5Z" fill="#102e80" fill-opacity="0.41"/><path d="M-2.9 -5.2L16.8 0.5L14.3 6.7Z" fill="#7ca6e6" fill-opacity="0.32"/><path d="M-2.9 -5.2L14.3 6.7L6.7 11.8Z" fill="#102e80" fill-opacity="0.58"/><path d="M-2.9 -5.2L6.7 11.8L-5.5 12.2Z" fill="#7ca6e6" fill-opacity="0.33"/><path d="M-2.9 -5.2L-5.5 12.2L-12.3 8.8Z" fill="#102e80" fill-opacity="0.50"/><ellipse rx="16.8" ry="12.9" fill="none" stroke="#7ca6e6" stroke-width="1" stroke-opacity="0.5"/><circle cx="-4.9" cy="7.2" r="1.4" fill="#fff" opacity="0.7"/><circle cx="-2.0" cy="-7.8" r="1.2" fill="#fff" opacity="0.7"/></g><g transform="translate(110 130) rotate(0)"><ellipse cx="1" cy="2" rx="20.7" ry="18.5" fill="#102e80" opacity="0.12"/><ellipse rx="18.7" ry="16.5" fill="url(#g_sep)" stroke="#102e80" stroke-width="1.1" stroke-opacity="0.8"/><path d="M4.1 -6.1L16.8 0.2L15.5 5.8Z" fill="#7ca6e6" fill-opacity="0.42"/><path d="M4.1 -6.1L15.5 5.8L8.0 13.0Z" fill="#102e80" fill-opacity="0.50"/><path d="M4.1 -6.1L8.0 13.0L-2.1 14.7Z" fill="#7ca6e6" fill-opacity="0.44"/><path d="M4.1 -6.1L-2.1 14.7L-12.3 10.1Z" fill="#102e80" fill-opacity="0.42"/><path d="M4.1 -6.1L-12.3 10.1L-16.8 0.6Z" fill="#7ca6e6" fill-opacity="0.43"/><path d="M4.1 -6.1L-16.8 0.6L-14.1 -8.1Z" fill="#102e80" fill-opacity="0.40"/><path d="M4.1 -6.1L-14.1 -8.1L-8.6 -12.8Z" fill="#7ca6e6" fill-opacity="0.54"/><path d="M4.1 -6.1L-8.6 -12.8L2.8 -14.6Z" fill="#102e80" fill-opacity="0.61"/><path d="M4.1 -6.1L2.8 -14.6L12.3 -10.1Z" fill="#7ca6e6" fill-opacity="0.34"/><path d="M4.1 -6.1L12.3 -10.1L16.8 0.2Z" fill="#102e80" fill-opacity="0.38"/><path d="M10.4 -3.9L8.7 1.5L3.1 4.3L-3.1 2.8L-6.3 -2.2L-4.6 -7.6L1.0 -10.4L7.3 -8.9Z" fill="#7ca6e6" fill-opacity="0.23" stroke="#102e80" stroke-opacity="0.3" stroke-width="0.8"/><ellipse rx="16.8" ry="14.8" fill="none" stroke="#7ca6e6" stroke-width="1" stroke-opacity="0.5"/><circle cx="-7.0" cy="5.9" r="0.9" fill="#fff" opacity="0.7"/><circle cx="-6.8" cy="0.4" r="1.0" fill="#fff" opacity="0.7"/><circle cx="7.7" cy="5.4" r="1.4" fill="#fff" opacity="0.7"/></g><g transform="translate(135 112) rotate(0)"><ellipse cx="1" cy="2" rx="17.4" ry="17.4" fill="#102e80" opacity="0.12"/><ellipse rx="15.4" ry="15.4" fill="url(#g_sep)" stroke="#102e80" stroke-width="1.1" stroke-opacity="0.8"/><path d="M-4.6 -4.9L12.4 -6.2L13.6 2.7Z" fill="#7ca6e6" fill-opacity="0.57"/><path d="M-4.6 -4.9L13.6 2.7L7.0 12.0Z" fill="#102e80" fill-opacity="0.49"/><path d="M-4.6 -4.9L7.0 12.0L-1.4 13.8Z" fill="#7ca6e6" fill-opacity="0.56"/><path d="M-4.6 -4.9L-1.4 13.8L-11.0 8.4Z" fill="#102e80" fill-opacity="0.50"/><path d="M-4.6 -4.9L-11.0 8.4L-13.8 -1.3Z" fill="#7ca6e6" fill-opacity="0.50"/><path d="M-4.6 -4.9L-13.8 -1.3L-7.1 -11.9Z" fill="#102e80" fill-opacity="0.59"/><path d="M-4.6 -4.9L-7.1 -11.9L4.5 -13.1Z" fill="#7ca6e6" fill-opacity="0.46"/><path d="M-4.6 -4.9L4.5 -13.1L12.4 -6.2Z" fill="#102e80" fill-opacity="0.60"/><ellipse rx="13.9" ry="13.9" fill="none" stroke="#7ca6e6" stroke-width="1" stroke-opacity="0.5"/><circle cx="7.0" cy="2.3" r="1.6" fill="#fff" opacity="0.7"/></g></g></g><g transform="translate(505 305.7)"><defs><clipPath id="c_oct"><circle cx="75" cy="75" r="75"/></clipPath><linearGradient id="bg_oct" x1="0" y1="0" x2="0" y2="1"><stop offset="0" stop-color="#bcbcbc"/><stop offset="1" stop-color="#b8b8b8"/></linearGradient><radialGradient id="g_oct" cx="0.45" cy="0.4" r="0.65"><stop offset="0" stop-color="#f2cce0"/><stop offset="0.6" stop-color="#f2cce0"/><stop offset="1" stop-color="#c498b6"/></radialGradient></defs><g clip-path="url(#c_oct)"><rect width="150" height="150" fill="url(#bg_oct)"/><g transform="translate(87 5) rotate(0)"><ellipse cx="1" cy="2" rx="21.8" ry="10.8" fill="#c498b6" opacity="0.12"/><ellipse rx="19.8" ry="8.8" fill="url(#g_oct)" stroke="#c498b6" stroke-width="1.1" stroke-opacity="0.8"/><path d="M-6.8 -0.5L3.0 -7.8L16.3 -3.2Z" fill="#fff4fa" fill-opacity="0.75"/><path d="M-6.8 -0.5L16.3 -3.2L16.9 2.5Z" fill="#c498b6" fill-opacity="0.34"/><path d="M-6.8 -0.5L16.9 2.5L11.1 6.2Z" fill="#fff4fa" fill-opacity="0.68"/><path d="M-6.8 -0.5L11.1 6.2L-6.0 7.5Z" fill="#c498b6" fill-opacity="0.34"/><path d="M-6.8 -0.5L-6.0 7.5L-16.0 3.4Z" fill="#fff4fa" fill-opacity="0.57"/><path d="M-6.8 -0.5L-16.0 3.4L-17.7 -1.1Z" fill="#c498b6" fill-opacity="0.34"/><path d="M-6.8 -0.5L-17.7 -1.1L-9.3 -6.8Z" fill="#fff4fa" fill-opacity="0.65"/><path d="M-6.8 -0.5L-9.3 -6.8L3.0 -7.8Z" fill="#c498b6" fill-opacity="0.22"/><path d="M-1.3 -4.1L4.2 -2.3L5.3 0.7L1.3 3.1L-5.4 3.6L-11.0 1.9L-12.1 -1.1L-8.1 -3.6Z" fill="#fff4fa" fill-opacity="0.30" stroke="#c498b6" stroke-opacity="0.3" stroke-width="0.8"/><ellipse rx="17.8" ry="7.9" fill="none" stroke="#fff4fa" stroke-width="1" stroke-opacity="0.5"/><circle cx="11.4" cy="-1.4" r="1.5" fill="#fff" opacity="0.7"/><circle cx="5.0" cy="2.1" r="1.6" fill="#fff" opacity="0.7"/></g><g transform="translate(28 48) rotate(0)"><ellipse cx="1" cy="2" rx="24.0" ry="24.0" fill="#c498b6" opacity="0.12"/><ellipse rx="22.0" ry="22.0" fill="url(#g_oct)" stroke="#c498b6" stroke-width="1.1" stroke-opacity="0.8"/><path d="M-5.2 -3.2L18.2 -7.8L19.5 3.6Z" fill="#fff4fa" fill-opacity="0.64"/><path d="M-5.2 -3.2L19.5 3.6L10.4 16.9Z" fill="#c498b6" fill-opacity="0.27"/><path d="M-5.2 -3.2L10.4 16.9L1.1 19.8Z" fill="#fff4fa" fill-opacity="0.64"/><path d="M-5.2 -3.2L1.1 19.8L-12.4 15.4Z" fill="#c498b6" fill-opacity="0.22"/><path d="M-5.2 -3.2L-12.4 15.4L-18.5 7.0Z" fill="#fff4fa" fill-opacity="0.56"/><path d="M-5.2 -3.2L-18.5 7.0L-17.8 -8.6Z" fill="#c498b6" fill-opacity="0.34"/><path d="M-5.2 -3.2L-17.8 -8.6L-13.6 -14.4Z" fill="#fff4fa" fill-opacity="0.69"/><path d="M-5.2 -3.2L-13.6 -14.4L-2.5 -19.6Z" fill="#c498b6" fill-opacity="0.32"/><path d="M-5.2 -3.2L-2.5 -19.6L10.5 -16.8Z" fill="#fff4fa" fill-opacity="0.53"/><path d="M-5.2 -3.2L10.5 -16.8L18.2 -7.8Z" fill="#c498b6" fill-opacity="0.36"/><ellipse rx="19.8" ry="19.8" fill="none" stroke="#fff4fa" stroke-width="1" stroke-opacity="0.5"/><circle cx="12.3" cy="-8.3" r="1.5" fill="#fff" opacity="0.7"/><circle cx="8.2" cy="8.5" r="1.0" fill="#fff" opacity="0.7"/><circle cx="10.5" cy="2.2" r="1.2" fill="#fff" opacity="0.7"/></g><g transform="translate(70 40) rotate(0)"><ellipse cx="1" cy="2" rx="20.7" ry="24.0" fill="#c498b6" opacity="0.12"/><ellipse rx="18.7" ry="22.0" fill="url(#g_oct)" stroke="#c498b6" stroke-width="1.1" stroke-opacity="0.8"/><path d="M-7.0 0.3L-1.9 -19.7L9.5 -16.3Z" fill="#fff4fa" fill-opacity="0.62"/><path d="M-7.0 0.3L9.5 -16.3L16.5 -3.9Z" fill="#c498b6" fill-opacity="0.33"/><path d="M-7.0 0.3L16.5 -3.9L11.7 14.2Z" fill="#fff4fa" fill-opacity="0.77"/><path d="M-7.0 0.3L11.7 14.2L-0.4 19.8Z" fill="#c498b6" fill-opacity="0.35"/><path d="M-7.0 0.3L-0.4 19.8L-9.2 16.6Z" fill="#fff4fa" fill-opacity="0.46"/><path d="M-7.0 0.3L-9.2 16.6L-16.5 4.1Z" fill="#c498b6" fill-opacity="0.29"/><path d="M-7.0 0.3L-16.5 4.1L-11.7 -14.3Z" fill="#fff4fa" fill-opacity="0.62"/><path d="M-7.0 0.3L-11.7 -14.3L-1.9 -19.7Z" fill="#c498b6" fill-opacity="0.26"/><path d="M-4.0 -9.7L2.1 -7.3L4.9 -0.5L2.8 6.7L-2.9 10.0L-9.0 7.6L-11.9 0.8L-9.8 -6.4Z" fill="#fff4fa" fill-opacity="0.30" stroke="#c498b6" stroke-opacity="0.3" stroke-width="0.8"/><ellipse rx="16.8" ry="19.8" fill="none" stroke="#fff4fa" stroke-width="1" stroke-opacity="0.5"/><circle cx="7.3" cy="2.6" r="0.9" fill="#fff" opacity="0.7"/><circle cx="5.4" cy="-11.6" r="1.4" fill="#fff" opacity="0.7"/><circle cx="-9.2" cy="12.5" r="1.2" fill="#fff" opacity="0.7"/></g><g transform="translate(108 40) rotate(0)"><ellipse cx="1" cy="2" rx="22.9" ry="24.0" fill="#c498b6" opacity="0.12"/><ellipse rx="20.9" ry="22.0" fill="url(#g_oct)" stroke="#c498b6" stroke-width="1.1" stroke-opacity="0.8"/><path d="M-4.8 -7.1L-16.5 9.5L-18.5 -3.7Z" fill="#fff4fa" fill-opacity="0.72"/><path d="M-4.8 -7.1L-18.5 -3.7L-13.2 -14.1Z" fill="#c498b6" fill-opacity="0.32"/><path d="M-4.8 -7.1L-13.2 -14.1L0.5 -19.8Z" fill="#fff4fa" fill-opacity="0.69"/><path d="M-4.8 -7.1L0.5 -19.8L9.0 -17.4Z" fill="#c498b6" fill-opacity="0.37"/><path d="M-4.8 -7.1L9.0 -17.4L17.6 -7.0Z" fill="#fff4fa" fill-opacity="0.46"/><path d="M-4.8 -7.1L17.6 -7.0L18.1 5.5Z" fill="#c498b6" fill-opacity="0.32"/><path d="M-4.8 -7.1L18.1 5.5L12.2 15.0Z" fill="#fff4fa" fill-opacity="0.63"/><path d="M-4.8 -7.1L12.2 15.0L-0.7 19.8Z" fill="#c498b6" fill-opacity="0.36"/><path d="M-4.8 -7.1L-0.7 19.8L-10.8 16.2Z" fill="#fff4fa" fill-opacity="0.69"/><path d="M-4.8 -7.1L-10.8 16.2L-16.5 9.5Z" fill="#c498b6" fill-opacity="0.35"/><path d="M-11.0 0.5L-11.1 -7.1L-6.2 -12.6L1.0 -12.8L6.2 -7.5L6.4 0.1L1.4 5.5L-5.8 5.7Z" fill="#fff4fa" fill-opacity="0.30" stroke="#c498b6" stroke-opacity="0.3" stroke-width="0.8"/><ellipse rx="18.8" ry="19.8" fill="none" stroke="#fff4fa" stroke-width="1" stroke-opacity="0.5"/><circle cx="4.8" cy="7.3" r="1.1" fill="#fff" opacity="0.7"/></g><g transform="translate(133 65) rotate(0)"><ellipse cx="1" cy="2" rx="19.6" ry="24.0" fill="#c498b6" opacity="0.12"/><ellipse rx="17.6" ry="22.0" fill="url(#g_oct)" stroke="#c498b6" stroke-width="1.1" stroke-opacity="0.8"/><path d="M-2.7 -3.6L-5.0 -18.8L7.4 -17.5Z" fill="#fff4fa" fill-opacity="0.70"/><path d="M-2.7 -3.6L7.4 -17.5L15.4 -4.5Z" fill="#c498b6" fill-opacity="0.38"/><path d="M-2.7 -3.6L15.4 -4.5L13.8 9.6Z" fill="#fff4fa" fill-opacity="0.52"/><path d="M-2.7 -3.6L13.8 9.6L2.3 19.6Z" fill="#c498b6" fill-opacity="0.35"/><path d="M-2.7 -3.6L2.3 19.6L-5.7 18.5Z" fill="#fff4fa" fill-opacity="0.75"/><path d="M-2.7 -3.6L-5.7 18.5L-14.7 7.4Z" fill="#c498b6" fill-opacity="0.25"/><path d="M-2.7 -3.6L-14.7 7.4L-13.6 -10.2Z" fill="#fff4fa" fill-opacity="0.61"/><path d="M-2.7 -3.6L-13.6 -10.2L-5.0 -18.8Z" fill="#c498b6" fill-opacity="0.25"/><ellipse rx="15.8" ry="19.8" fill="none" stroke="#fff4fa" stroke-width="1" stroke-opacity="0.5"/><circle cx="-7.9" cy="-5.3" r="1.0" fill="#fff" opacity="0.7"/><circle cx="9.6" cy="-7.3" r="1.2" fill="#fff" opacity="0.7"/></g><g transform="translate(38 88) rotate(0)"><ellipse cx="1" cy="2" rx="24.0" ry="21.8" fill="#c498b6" opacity="0.12"/><ellipse rx="22.0" ry="19.8" fill="url(#g_oct)" stroke="#c498b6" stroke-width="1.1" stroke-opacity="0.8"/><path d="M6.5 0.6L-3.6 -17.5L3.1 -17.6Z" fill="#fff4fa" fill-opacity="0.76"/><path d="M6.5 0.6L3.1 -17.6L13.2 -13.3Z" fill="#c498b6" fill-opacity="0.33"/><path d="M6.5 0.6L13.2 -13.3L19.6 -2.6Z" fill="#fff4fa" fill-opacity="0.58"/><path d="M6.5 0.6L19.6 -2.6L19.3 4.1Z" fill="#c498b6" fill-opacity="0.36"/><path d="M6.5 0.6L19.3 4.1L12.8 13.6Z" fill="#fff4fa" fill-opacity="0.67"/><path d="M6.5 0.6L12.8 13.6L4.3 17.4Z" fill="#c498b6" fill-opacity="0.31"/><path d="M6.5 0.6L4.3 17.4L-7.9 16.3Z" fill="#fff4fa" fill-opacity="0.69"/><path d="M6.5 0.6L-7.9 16.3L-14.3 12.4Z" fill="#c498b6" fill-opacity="0.31"/><path d="M6.5 0.6L-14.3 12.4L-19.7 2.1Z" fill="#fff4fa" fill-opacity="0.74"/><path d="M6.5 0.6L-19.7 2.1L-18.5 -6.4Z" fill="#c498b6" fill-opacity="0.31"/><path d="M6.5 0.6L-18.5 -6.4L-13.0 -13.4Z" fill="#fff4fa" fill-opacity="0.74"/><path d="M6.5 0.6L-13.0 -13.4L-3.6 -17.5Z" fill="#c498b6" fill-opacity="0.29"/><ellipse rx="19.8" ry="17.8" fill="none" stroke="#fff4fa" stroke-width="1" stroke-opacity="0.5"/><circle cx="3.9" cy="5.8" r="0.9" fill="#fff" opacity="0.7"/></g><g transform="translate(70 85) rotate(0)"><ellipse cx="1" cy="2" rx="21.8" ry="22.9" fill="#c498b6" opacity="0.12"/><ellipse rx="19.8" ry="20.9" fill="url(#g_oct)" stroke="#c498b6" stroke-width="1.1" stroke-opacity="0.8"/><path d="M-2.9 6.5L-8.2 -16.7L0.8 -18.8Z" fill="#fff4fa" fill-opacity="0.43"/><path d="M-2.9 6.5L0.8 -18.8L12.7 -13.2Z" fill="#c498b6" fill-opacity="0.32"/><path d="M-2.9 6.5L12.7 -13.2L17.8 -0.6Z" fill="#fff4fa" fill-opacity="0.53"/><path d="M-2.9 6.5L17.8 -0.6L14.8 10.5Z" fill="#c498b6" fill-opacity="0.32"/><path d="M-2.9 6.5L14.8 10.5L8.7 16.4Z" fill="#fff4fa" fill-opacity="0.60"/><path d="M-2.9 6.5L8.7 16.4L-5.5 17.9Z" fill="#c498b6" fill-opacity="0.25"/><path d="M-2.9 6.5L-5.5 17.9L-11.9 14.0Z" fill="#fff4fa" fill-opacity="0.75"/><path d="M-2.9 6.5L-11.9 14.0L-17.8 0.2Z" fill="#c498b6" fill-opacity="0.21"/><path d="M-2.9 6.5L-17.8 0.2L-16.6 -6.7Z" fill="#fff4fa" fill-opacity="0.53"/><path d="M-2.9 6.5L-16.6 -6.7L-8.2 -16.7Z" fill="#c498b6" fill-opacity="0.31"/><ellipse rx="17.8" ry="18.8" fill="none" stroke="#fff4fa" stroke-width="1" stroke-opacity="0.5"/><circle cx="3.6" cy="1.0" r="1.1" fill="#fff" opacity="0.7"/><circle cx="3.3" cy="-8.9" r="1.0" fill="#fff" opacity="0.7"/></g><g transform="translate(106 87) rotate(0)"><ellipse cx="1" cy="2" rx="22.9" ry="24.0" fill="#c498b6" opacity="0.12"/><ellipse rx="20.9" ry="22.0" fill="url(#g_oct)" stroke="#c498b6" stroke-width="1.1" stroke-opacity="0.8"/><path d="M5.4 -2.8L-16.5 -9.6L-12.3 -14.9Z" fill="#fff4fa" fill-opacity="0.73"/><path d="M5.4 -2.8L-12.3 -14.9L-0.8 -19.8Z" fill="#c498b6" fill-opacity="0.24"/><path d="M5.4 -2.8L-0.8 -19.8L9.0 -17.4Z" fill="#fff4fa" fill-opacity="0.43"/><path d="M5.4 -2.8L9.0 -17.4L14.9 -12.1Z" fill="#c498b6" fill-opacity="0.26"/><path d="M5.4 -2.8L14.9 -12.1L18.6 -3.2Z" fill="#fff4fa" fill-opacity="0.71"/><path d="M5.4 -2.8L18.6 -3.2L17.3 7.6Z" fill="#c498b6" fill-opacity="0.38"/><path d="M5.4 -2.8L17.3 7.6L11.1 16.0Z" fill="#fff4fa" fill-opacity="0.51"/><path d="M5.4 -2.8L11.1 16.0L4.5 19.2Z" fill="#c498b6" fill-opacity="0.27"/><path d="M5.4 -2.8L4.5 19.2L-9.1 17.3Z" fill="#fff4fa" fill-opacity="0.42"/><path d="M5.4 -2.8L-9.1 17.3L-15.3 11.5Z" fill="#c498b6" fill-opacity="0.27"/><path d="M5.4 -2.8L-15.3 11.5L-18.8 0.7Z" fill="#fff4fa" fill-opacity="0.47"/><path d="M5.4 -2.8L-18.8 0.7L-16.5 -9.6Z" fill="#c498b6" fill-opacity="0.32"/><ellipse rx="18.8" ry="19.8" fill="none" stroke="#fff4fa" stroke-width="1" stroke-opacity="0.5"/><circle cx="-9.6" cy="-5.7" r="1.0" fill="#fff" opacity="0.7"/><circle cx="3.5" cy="-1.5" r="1.3" fill="#fff" opacity="0.7"/></g><g transform="translate(20 138) rotate(0)"><ellipse cx="1" cy="2" rx="19.6" ry="15.2" fill="#c498b6" opacity="0.12"/><ellipse rx="17.6" ry="13.2" fill="url(#g_oct)" stroke="#c498b6" stroke-width="1.1" stroke-opacity="0.8"/><path d="M-7.0 -3.1L3.4 11.6L-3.2 11.6Z" fill="#fff4fa" fill-opacity="0.62"/><path d="M-7.0 -3.1L-3.2 11.6L-10.0 9.2Z" fill="#c498b6" fill-opacity="0.36"/><path d="M-7.0 -3.1L-10.0 9.2L-15.1 3.5Z" fill="#fff4fa" fill-opacity="0.46"/><path d="M-7.0 -3.1L-15.1 3.5L-15.7 -1.3Z" fill="#c498b6" fill-opacity="0.27"/><path d="M-7.0 -3.1L-15.7 -1.3L-11.7 -8.0Z" fill="#fff4fa" fill-opacity="0.61"/><path d="M-7.0 -3.1L-11.7 -8.0L-3.0 -11.7Z" fill="#c498b6" fill-opacity="0.33"/><path d="M-7.0 -3.1L-3.0 -11.7L4.4 -11.4Z" fill="#fff4fa" fill-opacity="0.70"/><path d="M-7.0 -3.1L4.4 -11.4L9.0 -9.8Z" fill="#c498b6" fill-opacity="0.23"/><path d="M-7.0 -3.1L9.0 -9.8L15.1 -3.6Z" fill="#fff4fa" fill-opacity="0.74"/><path d="M-7.0 -3.1L15.1 -3.6L15.3 3.0Z" fill="#c498b6" fill-opacity="0.21"/><path d="M-7.0 -3.1L15.3 3.0L10.3 9.0Z" fill="#fff4fa" fill-opacity="0.56"/><path d="M-7.0 -3.1L10.3 9.0L3.4 11.6Z" fill="#c498b6" fill-opacity="0.34"/><path d="M-1.2 4.2L-7.2 3.7L-11.1 0.2L-10.5 -4.3L-5.8 -7.2L0.3 -6.8L4.1 -3.2L3.5 1.3Z" fill="#fff4fa" fill-opacity="0.30" stroke="#c498b6" stroke-opacity="0.3" stroke-width="0.8"/><ellipse rx="15.8" ry="11.9" fill="none" stroke="#fff4fa" stroke-width="1" stroke-opacity="0.5"/><circle cx="-8.0" cy="1.9" r="1.2" fill="#fff" opacity="0.7"/><circle cx="3.7" cy="6.3" r="1.2" fill="#fff" opacity="0.7"/></g><g transform="translate(118 142) rotate(0)"><ellipse cx="1" cy="2" rx="19.6" ry="13.0" fill="#c498b6" opacity="0.12"/><ellipse rx="17.6" ry="11.0" fill="url(#g_oct)" stroke="#c498b6" stroke-width="1.1" stroke-opacity="0.8"/><path d="M-1.6 2.7L13.1 5.6L5.0 9.4Z" fill="#fff4fa" fill-opacity="0.43"/><path d="M-1.6 2.7L5.0 9.4L-6.2 9.1Z" fill="#c498b6" fill-opacity="0.30"/><path d="M-1.6 2.7L-6.2 9.1L-12.4 6.1Z" fill="#fff4fa" fill-opacity="0.63"/><path d="M-1.6 2.7L-12.4 6.1L-15.8 -0.7Z" fill="#c498b6" fill-opacity="0.25"/><path d="M-1.6 2.7L-15.8 -0.7L-12.2 -6.3Z" fill="#fff4fa" fill-opacity="0.43"/><path d="M-1.6 2.7L-12.2 -6.3L-2.4 -9.8Z" fill="#c498b6" fill-opacity="0.32"/><path d="M-1.6 2.7L-2.4 -9.8L8.4 -8.4Z" fill="#fff4fa" fill-opacity="0.62"/><path d="M-1.6 2.7L8.4 -8.4L13.3 -5.4Z" fill="#c498b6" fill-opacity="0.39"/><path d="M-1.6 2.7L13.3 -5.4L15.7 1.3Z" fill="#fff4fa" fill-opacity="0.49"/><path d="M-1.6 2.7L15.7 1.3L13.1 5.6Z" fill="#c498b6" fill-opacity="0.26"/><path d="M5.1 4.7L-0.4 6.3L-6.1 5.1L-8.7 1.7L-6.7 -1.9L-1.3 -3.6L4.5 -2.3L7.1 1.1Z" fill="#fff4fa" fill-opacity="0.30" stroke="#c498b6" stroke-opacity="0.3" stroke-width="0.8"/><ellipse rx="15.8" ry="9.9" fill="none" stroke="#fff4fa" stroke-width="1" stroke-opacity="0.5"/><circle cx="-3.9" cy="0.8" r="1.1" fill="#fff" opacity="0.7"/><circle cx="-7.6" cy="2.1" r="1.4" fill="#fff" opacity="0.7"/><circle cx="-10.4" cy="-1.4" r="1.0" fill="#fff" opacity="0.7"/></g><g transform="translate(30 120) rotate(0)"><ellipse cx="1" cy="2" rx="26.2" ry="21.8" fill="#c498b6" opacity="0.12"/><ellipse rx="24.2" ry="19.8" fill="url(#g_oct)" stroke="#c498b6" stroke-width="1.1" stroke-opacity="0.8"/><path d="M2.5 -0.1L21.5 -2.9L19.6 7.8Z" fill="#fff4fa" fill-opacity="0.65"/><path d="M2.5 -0.1L19.6 7.8L12.1 14.8Z" fill="#c498b6" fill-opacity="0.26"/><path d="M2.5 -0.1L12.1 14.8L3.4 17.6Z" fill="#fff4fa" fill-opacity="0.62"/><path d="M2.5 -0.1L3.4 17.6L-11.3 15.3Z" fill="#c498b6" fill-opacity="0.38"/><path d="M2.5 -0.1L-11.3 15.3L-18.8 8.9Z" fill="#fff4fa" fill-opacity="0.56"/><path d="M2.5 -0.1L-18.8 8.9L-21.8 0.6Z" fill="#c498b6" fill-opacity="0.22"/><path d="M2.5 -0.1L-21.8 0.6L-18.3 -9.7Z" fill="#fff4fa" fill-opacity="0.67"/><path d="M2.5 -0.1L-18.3 -9.7L-11.6 -15.1Z" fill="#c498b6" fill-opacity="0.29"/><path d="M2.5 -0.1L-11.6 -15.1L-3.9 -17.5Z" fill="#fff4fa" fill-opacity="0.54"/><path d="M2.5 -0.1L-3.9 -17.5L8.7 -16.3Z" fill="#c498b6" fill-opacity="0.31"/><path d="M2.5 -0.1L8.7 -16.3L16.9 -11.2Z" fill="#fff4fa" fill-opacity="0.45"/><path d="M2.5 -0.1L16.9 -11.2L21.5 -2.9Z" fill="#c498b6" fill-opacity="0.29"/><ellipse rx="21.8" ry="17.8" fill="none" stroke="#fff4fa" stroke-width="1" stroke-opacity="0.5"/><circle cx="4.5" cy="-1.5" r="1.6" fill="#fff" opacity="0.7"/><circle cx="-4.9" cy="-10.8" r="1.0" fill="#fff" opacity="0.7"/><circle cx="-7.3" cy="10.5" r="0.8" fill="#fff" opacity="0.7"/></g><g transform="translate(80 120) rotate(0)"><ellipse cx="1" cy="2" rx="32.8" ry="19.6" fill="#c498b6" opacity="0.12"/><ellipse rx="30.8" ry="17.6" fill="url(#g_oct)" stroke="#c498b6" stroke-width="1.1" stroke-opacity="0.8"/><path d="M11.7 6.5L-22.5 9.3L-27.4 2.5Z" fill="#fff4fa" fill-opacity="0.52"/><path d="M11.7 6.5L-27.4 2.5L-23.4 -8.5Z" fill="#c498b6" fill-opacity="0.37"/><path d="M11.7 6.5L-23.4 -8.5L-14.5 -13.5Z" fill="#fff4fa" fill-opacity="0.61"/><path d="M11.7 6.5L-14.5 -13.5L-3.1 -15.7Z" fill="#c498b6" fill-opacity="0.34"/><path d="M11.7 6.5L-3.1 -15.7L9.9 -14.8Z" fill="#fff4fa" fill-opacity="0.64"/><path d="M11.7 6.5L9.9 -14.8L20.7 -10.5Z" fill="#c498b6" fill-opacity="0.33"/><path d="M11.7 6.5L20.7 -10.5L27.7 -1.1Z" fill="#fff4fa" fill-opacity="0.65"/><path d="M11.7 6.5L27.7 -1.1L25.4 6.3Z" fill="#c498b6" fill-opacity="0.26"/><path d="M11.7 6.5L25.4 6.3L13.0 14.0Z" fill="#fff4fa" fill-opacity="0.78"/><path d="M11.7 6.5L13.0 14.0L-0.9 15.8Z" fill="#c498b6" fill-opacity="0.24"/><path d="M11.7 6.5L-0.9 15.8L-9.8 14.8Z" fill="#fff4fa" fill-opacity="0.55"/><path d="M11.7 6.5L-9.8 14.8L-22.5 9.3Z" fill="#c498b6" fill-opacity="0.36"/><ellipse rx="27.7" ry="15.8" fill="none" stroke="#fff4fa" stroke-width="1" stroke-opacity="0.5"/><circle cx="-0.0" cy="-9.9" r="1.5" fill="#fff" opacity="0.7"/><circle cx="7.0" cy="0.7" r="1.3" fill="#fff" opacity="0.7"/></g><g transform="translate(118 122) rotate(0)"><ellipse cx="1" cy="2" rx="21.8" ry="18.5" fill="#c498b6" opacity="0.12"/><ellipse rx="19.8" ry="16.5" fill="url(#g_oct)" stroke="#c498b6" stroke-width="1.1" stroke-opacity="0.8"/><path d="M-0.1 5.5L13.9 9.3L3.0 14.6Z" fill="#fff4fa" fill-opacity="0.63"/><path d="M-0.1 5.5L3.0 14.6L-3.5 14.6Z" fill="#c498b6" fill-opacity="0.28"/><path d="M-0.1 5.5L-3.5 14.6L-12.3 10.8Z" fill="#fff4fa" fill-opacity="0.57"/><path d="M-0.1 5.5L-12.3 10.8L-17.5 3.0Z" fill="#c498b6" fill-opacity="0.26"/><path d="M-0.1 5.5L-17.5 3.0L-17.3 -3.5Z" fill="#fff4fa" fill-opacity="0.52"/><path d="M-0.1 5.5L-17.3 -3.5L-11.7 -11.2Z" fill="#c498b6" fill-opacity="0.39"/><path d="M-0.1 5.5L-11.7 -11.2L-6.6 -13.8Z" fill="#fff4fa" fill-opacity="0.51"/><path d="M-0.1 5.5L-6.6 -13.8L6.6 -13.8Z" fill="#c498b6" fill-opacity="0.37"/><path d="M-0.1 5.5L6.6 -13.8L11.9 -11.1Z" fill="#fff4fa" fill-opacity="0.62"/><path d="M-0.1 5.5L11.9 -11.1L17.6 -2.5Z" fill="#c498b6" fill-opacity="0.33"/><path d="M-0.1 5.5L17.6 -2.5L17.0 4.4Z" fill="#fff4fa" fill-opacity="0.44"/><path d="M-0.1 5.5L17.0 4.4L13.9 9.3Z" fill="#c498b6" fill-opacity="0.39"/><ellipse rx="17.8" ry="14.8" fill="none" stroke="#fff4fa" stroke-width="1" stroke-opacity="0.5"/><circle cx="6.3" cy="7.7" r="1.4" fill="#fff" opacity="0.7"/><circle cx="-9.2" cy="-1.8" r="1.0" fill="#fff" opacity="0.7"/><circle cx="4.2" cy="-3.6" r="1.5" fill="#fff" opacity="0.7"/></g><g transform="translate(85 145) rotate(0)"><ellipse cx="1" cy="2" rx="24.0" ry="10.8" fill="#c498b6" opacity="0.12"/><ellipse rx="22.0" ry="8.8" fill="url(#g_oct)" stroke="#c498b6" stroke-width="1.1" stroke-opacity="0.8"/><path d="M-5.6 -2.4L12.1 -6.3L18.3 -3.0Z" fill="#fff4fa" fill-opacity="0.60"/><path d="M-5.6 -2.4L18.3 -3.0L17.6 3.6Z" fill="#c498b6" fill-opacity="0.33"/><path d="M-5.6 -2.4L17.6 3.6L5.4 7.6Z" fill="#fff4fa" fill-opacity="0.65"/><path d="M-5.6 -2.4L5.4 7.6L-8.6 7.1Z" fill="#c498b6" fill-opacity="0.25"/><path d="M-5.6 -2.4L-8.6 7.1L-19.5 1.4Z" fill="#fff4fa" fill-opacity="0.55"/><path d="M-5.6 -2.4L-19.5 1.4L-17.7 -3.6Z" fill="#c498b6" fill-opacity="0.37"/><path d="M-5.6 -2.4L-17.7 -3.6L-6.4 -7.5Z" fill="#fff4fa" fill-opacity="0.71"/><path d="M-5.6 -2.4L-6.4 -7.5L12.1 -6.3Z" fill="#c498b6" fill-opacity="0.27"/><ellipse rx="19.8" ry="7.9" fill="none" stroke="#fff4fa" stroke-width="1" stroke-opacity="0.5"/><circle cx="8.7" cy="1.7" r="1.4" fill="#fff" opacity="0.7"/></g><g transform="translate(140 110) rotate(0)"><ellipse cx="1" cy="2" rx="13.0" ry="17.4" fill="#c498b6" opacity="0.12"/><ellipse rx="11.0" ry="15.4" fill="url(#g_oct)" stroke="#c498b6" stroke-width="1.1" stroke-opacity="0.8"/><path d="M3.1 -4.7L9.3 -4.8L9.7 2.5Z" fill="#fff4fa" fill-opacity="0.57"/><path d="M3.1 -4.7L9.7 2.5L7.9 8.4Z" fill="#c498b6" fill-opacity="0.29"/><path d="M3.1 -4.7L7.9 8.4L3.0 13.2Z" fill="#fff4fa" fill-opacity="0.69"/><path d="M3.1 -4.7L3.0 13.2L-2.0 13.6Z" fill="#c498b6" fill-opacity="0.26"/><path d="M3.1 -4.7L-2.0 13.6L-6.8 10.0Z" fill="#fff4fa" fill-opacity="0.50"/><path d="M3.1 -4.7L-6.8 10.0L-9.1 5.5Z" fill="#c498b6" fill-opacity="0.35"/><path d="M3.1 -4.7L-9.1 5.5L-9.9 -1.0Z" fill="#fff4fa" fill-opacity="0.43"/><path d="M3.1 -4.7L-9.9 -1.0L-8.1 -8.0Z" fill="#c498b6" fill-opacity="0.35"/><path d="M3.1 -4.7L-8.1 -8.0L-4.4 -12.4Z" fill="#fff4fa" fill-opacity="0.50"/><path d="M3.1 -4.7L-4.4 -12.4L0.1 -13.9Z" fill="#c498b6" fill-opacity="0.30"/><path d="M3.1 -4.7L0.1 -13.9L5.1 -11.9Z" fill="#fff4fa" fill-opacity="0.76"/><path d="M3.1 -4.7L5.1 -11.9L9.3 -4.8Z" fill="#c498b6" fill-opacity="0.25"/><path d="M6.1 -5.0L6.1 0.3L3.5 4.0L-0.3 4.1L-3.0 0.3L-3.0 -5.0L-0.3 -8.8L3.4 -8.8Z" fill="#fff4fa" fill-opacity="0.30" stroke="#c498b6" stroke-opacity="0.3" stroke-width="0.8"/><ellipse rx="9.9" ry="13.9" fill="none" stroke="#fff4fa" stroke-width="1" stroke-opacity="0.5"/><circle cx="-0.1" cy="-4.0" r="1.0" fill="#fff" opacity="0.7"/><circle cx="-0.0" cy="-8.6" r="1.6" fill="#fff" opacity="0.7"/></g></g></g><g transform="translate(668 305.7)"><defs><clipPath id="c_nov"><circle cx="75" cy="75" r="75"/></clipPath><linearGradient id="bg_nov" x1="0" y1="0" x2="0" y2="1"><stop offset="0" stop-color="#c4c4c0"/><stop offset="1" stop-color="#bcbcb4"/></linearGradient><radialGradient id="g_nov" cx="0.45" cy="0.4" r="0.65"><stop offset="0" stop-color="#f2cc48"/><stop offset="0.6" stop-color="#f2cc48"/><stop offset="1" stop-color="#c89a10"/></radialGradient></defs><g clip-path="url(#c_nov)"><rect width="150" height="150" fill="url(#bg_nov)"/><g transform="translate(20 36) rotate(30)"><ellipse cx="1" cy="2" rx="17.4" ry="17.4" fill="#c89a10" opacity="0.12"/><ellipse rx="15.4" ry="15.4" fill="url(#g_nov)" stroke="#c89a10" stroke-width="1.1" stroke-opacity="0.8"/><path d="M-2.7 0.0L6.4 12.3L0.3 13.9Z" fill="#fcf0c0" fill-opacity="0.48"/><path d="M-2.7 0.0L0.3 13.9L-7.8 11.5Z" fill="#c89a10" fill-opacity="0.22"/><path d="M-2.7 0.0L-7.8 11.5L-12.7 5.7Z" fill="#fcf0c0" fill-opacity="0.52"/><path d="M-2.7 0.0L-12.7 5.7L-13.8 -1.2Z" fill="#c89a10" fill-opacity="0.32"/><path d="M-2.7 0.0L-13.8 -1.2L-12.3 -6.4Z" fill="#fcf0c0" fill-opacity="0.70"/><path d="M-2.7 0.0L-12.3 -6.4L-6.0 -12.5Z" fill="#c89a10" fill-opacity="0.34"/><path d="M-2.7 0.0L-6.0 -12.5L2.9 -13.6Z" fill="#fcf0c0" fill-opacity="0.45"/><path d="M-2.7 0.0L2.9 -13.6L7.8 -11.4Z" fill="#c89a10" fill-opacity="0.34"/><path d="M-2.7 0.0L7.8 -11.4L12.8 -5.4Z" fill="#fcf0c0" fill-opacity="0.55"/><path d="M-2.7 0.0L12.8 -5.4L13.8 1.4Z" fill="#c89a10" fill-opacity="0.26"/><path d="M-2.7 0.0L13.8 1.4L9.9 9.7Z" fill="#fcf0c0" fill-opacity="0.47"/><path d="M-2.7 0.0L9.9 9.7L6.4 12.3Z" fill="#c89a10" fill-opacity="0.21"/><ellipse rx="13.9" ry="13.9" fill="none" stroke="#fcf0c0" stroke-width="1" stroke-opacity="0.5"/><circle cx="7.9" cy="3.8" r="1.5" fill="#fff" opacity="0.7"/><circle cx="6.5" cy="0.1" r="1.5" fill="#fff" opacity="0.7"/></g><g transform="translate(67.5 37.5) rotate(-20)"><ellipse cx="1" cy="2" rx="20.2" ry="15.8" fill="#c89a10" opacity="0.12"/><ellipse rx="18.2" ry="13.8" fill="url(#g_nov)" stroke="#c89a10" stroke-width="1.1" stroke-opacity="0.8"/><path d="M-1.0 -4.6L12.9 7.6L9.8 9.9Z" fill="#fcf0c0" fill-opacity="0.56"/><path d="M-1.0 -4.6L9.8 9.9L1.9 12.3Z" fill="#c89a10" fill-opacity="0.22"/><path d="M-1.0 -4.6L1.9 12.3L-7.9 10.8Z" fill="#fcf0c0" fill-opacity="0.68"/><path d="M-1.0 -4.6L-7.9 10.8L-14.7 5.4Z" fill="#c89a10" fill-opacity="0.23"/><path d="M-1.0 -4.6L-14.7 5.4L-16.3 0.2Z" fill="#fcf0c0" fill-opacity="0.57"/><path d="M-1.0 -4.6L-16.3 0.2L-13.7 -6.8Z" fill="#c89a10" fill-opacity="0.27"/><path d="M-1.0 -4.6L-13.7 -6.8L-9.4 -10.1Z" fill="#fcf0c0" fill-opacity="0.60"/><path d="M-1.0 -4.6L-9.4 -10.1L1.6 -12.3Z" fill="#c89a10" fill-opacity="0.23"/><path d="M-1.0 -4.6L1.6 -12.3L6.7 -11.3Z" fill="#fcf0c0" fill-opacity="0.75"/><path d="M-1.0 -4.6L6.7 -11.3L13.8 -6.6Z" fill="#c89a10" fill-opacity="0.36"/><path d="M-1.0 -4.6L13.8 -6.6L16.3 1.0Z" fill="#fcf0c0" fill-opacity="0.62"/><path d="M-1.0 -4.6L16.3 1.0L12.9 7.6Z" fill="#c89a10" fill-opacity="0.26"/><path d="M6.6 0.8L1.7 3.7L-4.5 3.1L-8.4 -0.6L-7.6 -5.3L-2.7 -8.3L3.5 -7.7L7.4 -3.9Z" fill="#fcf0c0" fill-opacity="0.30" stroke="#c89a10" stroke-opacity="0.3" stroke-width="0.8"/><ellipse rx="16.3" ry="12.4" fill="none" stroke="#fcf0c0" stroke-width="1" stroke-opacity="0.5"/><circle cx="4.6" cy="-6.9" r="0.8" fill="#fff" opacity="0.7"/><circle cx="5.8" cy="-6.5" r="1.3" fill="#fff" opacity="0.7"/></g><g transform="translate(105 24) rotate(0)"><ellipse cx="1" cy="2" rx="21.8" ry="20.2" fill="#c89a10" opacity="0.12"/><ellipse rx="19.8" ry="18.2" fill="url(#g_nov)" stroke="#c89a10" stroke-width="1.1" stroke-opacity="0.8"/><path d="M-3.8 -0.5L-12.0 -12.1L0.3 -16.3Z" fill="#fcf0c0" fill-opacity="0.68"/><path d="M-3.8 -0.5L0.3 -16.3L12.1 -12.0Z" fill="#c89a10" fill-opacity="0.36"/><path d="M-3.8 -0.5L12.1 -12.0L17.8 0.6Z" fill="#fcf0c0" fill-opacity="0.57"/><path d="M-3.8 -0.5L17.8 0.6L9.7 13.7Z" fill="#c89a10" fill-opacity="0.33"/><path d="M-3.8 -0.5L9.7 13.7L-4.1 15.9Z" fill="#fcf0c0" fill-opacity="0.66"/><path d="M-3.8 -0.5L-4.1 15.9L-12.5 11.7Z" fill="#c89a10" fill-opacity="0.21"/><path d="M-3.8 -0.5L-12.5 11.7L-17.8 0.7Z" fill="#fcf0c0" fill-opacity="0.74"/><path d="M-3.8 -0.5L-17.8 0.7L-12.0 -12.1Z" fill="#c89a10" fill-opacity="0.35"/><ellipse rx="17.8" ry="16.3" fill="none" stroke="#fcf0c0" stroke-width="1" stroke-opacity="0.5"/><circle cx="11.4" cy="10.6" r="0.9" fill="#fff" opacity="0.7"/><circle cx="-2.8" cy="5.5" r="0.9" fill="#fff" opacity="0.7"/><circle cx="-2.1" cy="1.4" r="1.0" fill="#fff" opacity="0.7"/></g><g transform="translate(93 46.5) rotate(0)"><ellipse cx="1" cy="2" rx="18.5" ry="18.5" fill="#c89a10" opacity="0.12"/><ellipse rx="16.5" ry="16.5" fill="url(#g_nov)" stroke="#c89a10" stroke-width="1.1" stroke-opacity="0.8"/><path d="M-2.6 -0.3L-13.7 5.8L-13.8 -5.5Z" fill="#fcf0c0" fill-opacity="0.45"/><path d="M-2.6 -0.3L-13.8 -5.5L-3.8 -14.4Z" fill="#c89a10" fill-opacity="0.30"/><path d="M-2.6 -0.3L-3.8 -14.4L5.1 -13.9Z" fill="#fcf0c0" fill-opacity="0.61"/><path d="M-2.6 -0.3L5.1 -13.9L13.9 -5.3Z" fill="#c89a10" fill-opacity="0.34"/><path d="M-2.6 -0.3L13.9 -5.3L13.2 6.8Z" fill="#fcf0c0" fill-opacity="0.55"/><path d="M-2.6 -0.3L13.2 6.8L6.4 13.4Z" fill="#c89a10" fill-opacity="0.23"/><path d="M-2.6 -0.3L6.4 13.4L-6.6 13.3Z" fill="#fcf0c0" fill-opacity="0.77"/><path d="M-2.6 -0.3L-6.6 13.3L-13.7 5.8Z" fill="#c89a10" fill-opacity="0.36"/><ellipse rx="14.8" ry="14.8" fill="none" stroke="#fcf0c0" stroke-width="1" stroke-opacity="0.5"/><circle cx="-0.9" cy="-1.7" r="0.8" fill="#fff" opacity="0.7"/><circle cx="-5.9" cy="1.5" r="0.9" fill="#fff" opacity="0.7"/><circle cx="-2.6" cy="6.1" r="1.2" fill="#fff" opacity="0.7"/></g><g transform="translate(136 40) rotate(0)"><ellipse cx="1" cy="2" rx="13.0" ry="17.4" fill="#c89a10" opacity="0.12"/><ellipse rx="11.0" ry="15.4" fill="url(#g_nov)" stroke="#c89a10" stroke-width="1.1" stroke-opacity="0.8"/><path d="M2.4 -2.1L-9.9 0.3L-6.2 -10.8Z" fill="#fcf0c0" fill-opacity="0.67"/><path d="M2.4 -2.1L-6.2 -10.8L0.6 -13.8Z" fill="#c89a10" fill-opacity="0.35"/><path d="M2.4 -2.1L0.6 -13.8L6.0 -11.0Z" fill="#fcf0c0" fill-opacity="0.58"/><path d="M2.4 -2.1L6.0 -11.0L9.8 -1.8Z" fill="#c89a10" fill-opacity="0.35"/><path d="M2.4 -2.1L9.8 -1.8L5.9 11.1Z" fill="#fcf0c0" fill-opacity="0.63"/><path d="M2.4 -2.1L5.9 11.1L-0.3 13.9Z" fill="#c89a10" fill-opacity="0.24"/><path d="M2.4 -2.1L-0.3 13.9L-6.3 10.7Z" fill="#fcf0c0" fill-opacity="0.47"/><path d="M2.4 -2.1L-6.3 10.7L-9.9 0.3Z" fill="#c89a10" fill-opacity="0.21"/><path d="M-3.7 -1.2L-2.2 -6.1L1.3 -8.0L4.8 -5.9L6.2 -0.9L4.6 3.9L1.1 5.9L-2.4 3.7Z" fill="#fcf0c0" fill-opacity="0.30" stroke="#c89a10" stroke-opacity="0.3" stroke-width="0.8"/><ellipse rx="9.9" ry="13.9" fill="none" stroke="#fcf0c0" stroke-width="1" stroke-opacity="0.5"/><circle cx="1.4" cy="0.6" r="1.0" fill="#fff" opacity="0.7"/><circle cx="-5.4" cy="-0.2" r="1.2" fill="#fff" opacity="0.7"/></g><g transform="translate(19.5 67.5) rotate(0)"><ellipse cx="1" cy="2" rx="20.7" ry="19.6" fill="#c89a10" opacity="0.12"/><ellipse rx="18.7" ry="17.6" fill="url(#g_nov)" stroke="#c89a10" stroke-width="1.1" stroke-opacity="0.8"/><path d="M-1.9 -0.0L12.4 -10.7L16.5 -2.9Z" fill="#fcf0c0" fill-opacity="0.56"/><path d="M-1.9 -0.0L16.5 -2.9L13.7 9.2Z" fill="#c89a10" fill-opacity="0.32"/><path d="M-1.9 -0.0L13.7 9.2L-0.5 15.8Z" fill="#fcf0c0" fill-opacity="0.56"/><path d="M-1.9 -0.0L-0.5 15.8L-12.2 11.0Z" fill="#c89a10" fill-opacity="0.36"/><path d="M-1.9 -0.0L-12.2 11.0L-16.6 2.6Z" fill="#fcf0c0" fill-opacity="0.50"/><path d="M-1.9 -0.0L-16.6 2.6L-11.8 -11.3Z" fill="#c89a10" fill-opacity="0.24"/><path d="M-1.9 -0.0L-11.8 -11.3L-3.6 -15.5Z" fill="#fcf0c0" fill-opacity="0.58"/><path d="M-1.9 -0.0L-3.6 -15.5L12.4 -10.7Z" fill="#c89a10" fill-opacity="0.26"/><ellipse rx="16.8" ry="15.8" fill="none" stroke="#fcf0c0" stroke-width="1" stroke-opacity="0.5"/><circle cx="-10.8" cy="-5.4" r="1.0" fill="#fff" opacity="0.7"/><circle cx="3.8" cy="-3.8" r="1.4" fill="#fff" opacity="0.7"/><circle cx="-9.7" cy="6.8" r="1.4" fill="#fff" opacity="0.7"/></g><g transform="translate(57 66) rotate(0)"><ellipse cx="1" cy="2" rx="18.0" ry="17.4" fill="#c89a10" opacity="0.12"/><ellipse rx="16.0" ry="15.4" fill="url(#g_nov)" stroke="#c89a10" stroke-width="1.1" stroke-opacity="0.8"/><path d="M-3.6 1.4L-9.5 10.4L-12.9 6.0Z" fill="#fcf0c0" fill-opacity="0.64"/><path d="M-3.6 1.4L-12.9 6.0L-14.2 -1.7Z" fill="#c89a10" fill-opacity="0.29"/><path d="M-3.6 1.4L-14.2 -1.7L-12.4 -7.0Z" fill="#fcf0c0" fill-opacity="0.43"/><path d="M-3.6 1.4L-12.4 -7.0L-6.7 -12.2Z" fill="#c89a10" fill-opacity="0.31"/><path d="M-3.6 1.4L-6.7 -12.2L2.7 -13.6Z" fill="#fcf0c0" fill-opacity="0.78"/><path d="M-3.6 1.4L2.7 -13.6L6.7 -12.3Z" fill="#c89a10" fill-opacity="0.36"/><path d="M-3.6 1.4L6.7 -12.3L13.6 -4.4Z" fill="#fcf0c0" fill-opacity="0.72"/><path d="M-3.6 1.4L13.6 -4.4L14.4 -0.0Z" fill="#c89a10" fill-opacity="0.22"/><path d="M-3.6 1.4L14.4 -0.0L13.0 5.9Z" fill="#fcf0c0" fill-opacity="0.48"/><path d="M-3.6 1.4L13.0 5.9L6.8 12.2Z" fill="#c89a10" fill-opacity="0.27"/><path d="M-3.6 1.4L6.8 12.2L-2.3 13.7Z" fill="#fcf0c0" fill-opacity="0.69"/><path d="M-3.6 1.4L-2.3 13.7L-9.5 10.4Z" fill="#c89a10" fill-opacity="0.31"/><path d="M-5.8 6.5L-8.8 2.1L-7.8 -3.1L-3.2 -6.1L2.2 -5.1L5.2 -0.7L4.2 4.5L-0.4 7.5Z" fill="#fcf0c0" fill-opacity="0.30" stroke="#c89a10" stroke-opacity="0.3" stroke-width="0.8"/><ellipse rx="14.4" ry="13.9" fill="none" stroke="#fcf0c0" stroke-width="1" stroke-opacity="0.5"/><circle cx="-0.7" cy="7.5" r="1.1" fill="#fff" opacity="0.7"/></g><g transform="translate(99 76.5) rotate(0)"><ellipse cx="1" cy="2" rx="21.8" ry="21.8" fill="#c89a10" opacity="0.12"/><ellipse rx="19.8" ry="19.8" fill="url(#g_nov)" stroke="#c89a10" stroke-width="1.1" stroke-opacity="0.8"/><path d="M2.6 -3.2L-8.0 -15.9L4.5 -17.2Z" fill="#fcf0c0" fill-opacity="0.43"/><path d="M2.6 -3.2L4.5 -17.2L13.1 -12.1Z" fill="#c89a10" fill-opacity="0.31"/><path d="M2.6 -3.2L13.1 -12.1L17.8 -1.2Z" fill="#fcf0c0" fill-opacity="0.65"/><path d="M2.6 -3.2L17.8 -1.2L13.5 11.6Z" fill="#c89a10" fill-opacity="0.39"/><path d="M2.6 -3.2L13.5 11.6L5.4 17.0Z" fill="#fcf0c0" fill-opacity="0.53"/><path d="M2.6 -3.2L5.4 17.0L-6.7 16.5Z" fill="#c89a10" fill-opacity="0.26"/><path d="M2.6 -3.2L-6.7 16.5L-15.5 8.7Z" fill="#fcf0c0" fill-opacity="0.78"/><path d="M2.6 -3.2L-15.5 8.7L-17.8 0.6Z" fill="#c89a10" fill-opacity="0.22"/><path d="M2.6 -3.2L-17.8 0.6L-14.7 -10.1Z" fill="#fcf0c0" fill-opacity="0.51"/><path d="M2.6 -3.2L-14.7 -10.1L-8.0 -15.9Z" fill="#c89a10" fill-opacity="0.32"/><ellipse rx="17.8" ry="17.8" fill="none" stroke="#fcf0c0" stroke-width="1" stroke-opacity="0.5"/><circle cx="3.5" cy="-1.9" r="1.4" fill="#fff" opacity="0.7"/></g><g transform="translate(133.5 64.5) rotate(0)"><ellipse cx="1" cy="2" rx="19.6" ry="19.6" fill="#c89a10" opacity="0.12"/><ellipse rx="17.6" ry="17.6" fill="url(#g_nov)" stroke="#c89a10" stroke-width="1.1" stroke-opacity="0.8"/><path d="M-6.8 -2.4L-0.2 -15.8L9.2 -12.9Z" fill="#fcf0c0" fill-opacity="0.65"/><path d="M-6.8 -2.4L9.2 -12.9L13.0 -9.1Z" fill="#c89a10" fill-opacity="0.38"/><path d="M-6.8 -2.4L13.0 -9.1L15.8 1.0Z" fill="#fcf0c0" fill-opacity="0.62"/><path d="M-6.8 -2.4L15.8 1.0L13.6 8.2Z" fill="#c89a10" fill-opacity="0.26"/><path d="M-6.8 -2.4L13.6 8.2L6.0 14.6Z" fill="#fcf0c0" fill-opacity="0.68"/><path d="M-6.8 -2.4L6.0 14.6L-1.0 15.8Z" fill="#c89a10" fill-opacity="0.35"/><path d="M-6.8 -2.4L-1.0 15.8L-8.2 13.6Z" fill="#fcf0c0" fill-opacity="0.77"/><path d="M-6.8 -2.4L-8.2 13.6L-12.9 9.2Z" fill="#c89a10" fill-opacity="0.38"/><path d="M-6.8 -2.4L-12.9 9.2L-15.8 0.5Z" fill="#fcf0c0" fill-opacity="0.46"/><path d="M-6.8 -2.4L-15.8 0.5L-14.7 -6.0Z" fill="#c89a10" fill-opacity="0.28"/><path d="M-6.8 -2.4L-14.7 -6.0L-9.6 -12.6Z" fill="#fcf0c0" fill-opacity="0.51"/><path d="M-6.8 -2.4L-9.6 -12.6L-0.2 -15.8Z" fill="#c89a10" fill-opacity="0.38"/><path d="M-3.5 -9.1L2.2 -6.9L4.5 -1.3L2.3 4.3L-3.3 6.7L-8.9 4.4L-11.3 -1.1L-9.0 -6.8Z" fill="#fcf0c0" fill-opacity="0.30" stroke="#c89a10" stroke-opacity="0.3" stroke-width="0.8"/><ellipse rx="15.8" ry="15.8" fill="none" stroke="#fcf0c0" stroke-width="1" stroke-opacity="0.5"/><circle cx="-2.7" cy="5.3" r="1.2" fill="#fff" opacity="0.7"/></g><g transform="translate(33 91.5) rotate(0)"><ellipse cx="1" cy="2" rx="18.0" ry="18.5" fill="#c89a10" opacity="0.12"/><ellipse rx="16.0" ry="16.5" fill="url(#g_nov)" stroke="#c89a10" stroke-width="1.1" stroke-opacity="0.8"/><path d="M-2.6 -0.1L10.9 -9.6L14.1 -2.7Z" fill="#fcf0c0" fill-opacity="0.70"/><path d="M-2.6 -0.1L14.1 -2.7L12.8 6.7Z" fill="#c89a10" fill-opacity="0.32"/><path d="M-2.6 -0.1L12.8 6.7L7.5 12.7Z" fill="#fcf0c0" fill-opacity="0.54"/><path d="M-2.6 -0.1L7.5 12.7L2.1 14.7Z" fill="#c89a10" fill-opacity="0.39"/><path d="M-2.6 -0.1L2.1 14.7L-6.2 13.4Z" fill="#fcf0c0" fill-opacity="0.43"/><path d="M-2.6 -0.1L-6.2 13.4L-11.5 8.9Z" fill="#c89a10" fill-opacity="0.33"/><path d="M-2.6 -0.1L-11.5 8.9L-14.1 2.9Z" fill="#fcf0c0" fill-opacity="0.48"/><path d="M-2.6 -0.1L-14.1 2.9L-13.6 -4.9Z" fill="#c89a10" fill-opacity="0.30"/><path d="M-2.6 -0.1L-13.6 -4.9L-9.9 -10.8Z" fill="#fcf0c0" fill-opacity="0.72"/><path d="M-2.6 -0.1L-9.9 -10.8L-1.2 -14.8Z" fill="#c89a10" fill-opacity="0.37"/><path d="M-2.6 -0.1L-1.2 -14.8L6.8 -13.1Z" fill="#fcf0c0" fill-opacity="0.63"/><path d="M-2.6 -0.1L6.8 -13.1L10.9 -9.6Z" fill="#c89a10" fill-opacity="0.38"/><ellipse rx="14.4" ry="14.8" fill="none" stroke="#fcf0c0" stroke-width="1" stroke-opacity="0.5"/><circle cx="-0.9" cy="-5.3" r="0.9" fill="#fff" opacity="0.7"/><circle cx="-9.5" cy="-6.4" r="1.1" fill="#fff" opacity="0.7"/><circle cx="7.1" cy="-0.3" r="1.2" fill="#fff" opacity="0.7"/></g><g transform="translate(60 96) rotate(0)"><ellipse cx="1" cy="2" rx="20.2" ry="20.2" fill="#c89a10" opacity="0.12"/><ellipse rx="18.2" ry="18.2" fill="url(#g_nov)" stroke="#c89a10" stroke-width="1.1" stroke-opacity="0.8"/><path d="M3.7 -5.8L-16.1 -2.6L-12.6 -10.3Z" fill="#fcf0c0" fill-opacity="0.56"/><path d="M3.7 -5.8L-12.6 -10.3L-3.5 -16.0Z" fill="#c89a10" fill-opacity="0.28"/><path d="M3.7 -5.8L-3.5 -16.0L5.0 -15.6Z" fill="#fcf0c0" fill-opacity="0.48"/><path d="M3.7 -5.8L5.0 -15.6L13.5 -9.2Z" fill="#c89a10" fill-opacity="0.32"/><path d="M3.7 -5.8L13.5 -9.2L16.2 1.8Z" fill="#fcf0c0" fill-opacity="0.54"/><path d="M3.7 -5.8L16.2 1.8L12.3 10.7Z" fill="#c89a10" fill-opacity="0.36"/><path d="M3.7 -5.8L12.3 10.7L4.2 15.8Z" fill="#fcf0c0" fill-opacity="0.73"/><path d="M3.7 -5.8L4.2 15.8L-6.6 14.9Z" fill="#c89a10" fill-opacity="0.24"/><path d="M3.7 -5.8L-6.6 14.9L-12.3 10.8Z" fill="#fcf0c0" fill-opacity="0.77"/><path d="M3.7 -5.8L-12.3 10.8L-16.1 -2.6Z" fill="#c89a10" fill-opacity="0.35"/><ellipse rx="16.3" ry="16.3" fill="none" stroke="#fcf0c0" stroke-width="1" stroke-opacity="0.5"/><circle cx="8.0" cy="-2.3" r="1.4" fill="#fff" opacity="0.7"/></g><g transform="translate(10.5 96) rotate(0)"><ellipse cx="1" cy="2" rx="14.1" ry="17.4" fill="#c89a10" opacity="0.12"/><ellipse rx="12.1" ry="15.4" fill="url(#g_nov)" stroke="#c89a10" stroke-width="1.1" stroke-opacity="0.8"/><path d="M-2.0 2.7L-5.9 -11.6L1.2 -13.8Z" fill="#fcf0c0" fill-opacity="0.60"/><path d="M-2.0 2.7L1.2 -13.8L8.2 -9.1Z" fill="#c89a10" fill-opacity="0.30"/><path d="M-2.0 2.7L8.2 -9.1L10.6 -3.2Z" fill="#fcf0c0" fill-opacity="0.66"/><path d="M-2.0 2.7L10.6 -3.2L9.5 6.7Z" fill="#c89a10" fill-opacity="0.31"/><path d="M-2.0 2.7L9.5 6.7L6.6 11.1Z" fill="#fcf0c0" fill-opacity="0.66"/><path d="M-2.0 2.7L6.6 11.1L-0.6 13.8Z" fill="#c89a10" fill-opacity="0.36"/><path d="M-2.0 2.7L-0.6 13.8L-6.2 11.4Z" fill="#fcf0c0" fill-opacity="0.65"/><path d="M-2.0 2.7L-6.2 11.4L-10.3 4.5Z" fill="#c89a10" fill-opacity="0.34"/><path d="M-2.0 2.7L-10.3 4.5L-9.4 -7.0Z" fill="#fcf0c0" fill-opacity="0.50"/><path d="M-2.0 2.7L-9.4 -7.0L-5.9 -11.6Z" fill="#c89a10" fill-opacity="0.34"/><ellipse rx="10.9" ry="13.9" fill="none" stroke="#fcf0c0" stroke-width="1" stroke-opacity="0.5"/><circle cx="5.1" cy="-4.3" r="1.1" fill="#fff" opacity="0.7"/></g><g transform="translate(132 96) rotate(0)"><ellipse cx="1" cy="2" rx="16.9" ry="20.7" fill="#c89a10" opacity="0.12"/><ellipse rx="14.9" ry="18.7" fill="url(#g_nov)" stroke="#c89a10" stroke-width="1.1" stroke-opacity="0.8"/><path d="M-4.3 -3.4L-9.4 -11.9L1.3 -16.8Z" fill="#fcf0c0" fill-opacity="0.60"/><path d="M-4.3 -3.4L1.3 -16.8L9.1 -12.3Z" fill="#c89a10" fill-opacity="0.22"/><path d="M-4.3 -3.4L9.1 -12.3L13.3 1.8Z" fill="#fcf0c0" fill-opacity="0.57"/><path d="M-4.3 -3.4L13.3 1.8L8.3 13.1Z" fill="#c89a10" fill-opacity="0.27"/><path d="M-4.3 -3.4L8.3 13.1L1.8 16.7Z" fill="#fcf0c0" fill-opacity="0.71"/><path d="M-4.3 -3.4L1.8 16.7L-10.7 10.1Z" fill="#c89a10" fill-opacity="0.35"/><path d="M-4.3 -3.4L-10.7 10.1L-13.3 -2.1Z" fill="#fcf0c0" fill-opacity="0.67"/><path d="M-4.3 -3.4L-13.3 -2.1L-9.4 -11.9Z" fill="#c89a10" fill-opacity="0.39"/><ellipse rx="13.4" ry="16.8" fill="none" stroke="#fcf0c0" stroke-width="1" stroke-opacity="0.5"/><circle cx="-7.1" cy="-5.3" r="0.9" fill="#fff" opacity="0.7"/></g><g transform="translate(103.5 114) rotate(0)"><ellipse cx="1" cy="2" rx="21.8" ry="13.0" fill="#c89a10" opacity="0.12"/><ellipse rx="19.8" ry="11.0" fill="url(#g_nov)" stroke="#c89a10" stroke-width="1.1" stroke-opacity="0.8"/><path d="M-7.6 -2.1L-17.8 -0.1L-13.3 -6.6Z" fill="#fcf0c0" fill-opacity="0.56"/><path d="M-7.6 -2.1L-13.3 -6.6L-6.9 -9.1Z" fill="#c89a10" fill-opacity="0.36"/><path d="M-7.6 -2.1L-6.9 -9.1L6.9 -9.1Z" fill="#fcf0c0" fill-opacity="0.69"/><path d="M-7.6 -2.1L6.9 -9.1L12.5 -7.1Z" fill="#c89a10" fill-opacity="0.34"/><path d="M-7.6 -2.1L12.5 -7.1L17.8 0.3Z" fill="#fcf0c0" fill-opacity="0.45"/><path d="M-7.6 -2.1L17.8 0.3L14.0 6.1Z" fill="#c89a10" fill-opacity="0.27"/><path d="M-7.6 -2.1L14.0 6.1L4.0 9.6Z" fill="#fcf0c0" fill-opacity="0.51"/><path d="M-7.6 -2.1L4.0 9.6L-3.2 9.7Z" fill="#c89a10" fill-opacity="0.39"/><path d="M-7.6 -2.1L-3.2 9.7L-14.6 5.7Z" fill="#fcf0c0" fill-opacity="0.71"/><path d="M-7.6 -2.1L-14.6 5.7L-17.8 -0.1Z" fill="#c89a10" fill-opacity="0.38"/><ellipse rx="17.8" ry="9.9" fill="none" stroke="#fcf0c0" stroke-width="1" stroke-opacity="0.5"/><circle cx="11.7" cy="-4.6" r="1.0" fill="#fff" opacity="0.7"/></g><g transform="translate(40.5 120) rotate(0)"><ellipse cx="1" cy="2" rx="23.5" ry="20.2" fill="#c89a10" opacity="0.12"/><ellipse rx="21.5" ry="18.2" fill="url(#g_nov)" stroke="#c89a10" stroke-width="1.1" stroke-opacity="0.8"/><path d="M-5.1 -6.9L1.6 -16.3L11.1 -13.4Z" fill="#fcf0c0" fill-opacity="0.50"/><path d="M-5.1 -6.9L11.1 -13.4L18.1 -5.8Z" fill="#c89a10" fill-opacity="0.25"/><path d="M-5.1 -6.9L18.1 -5.8L18.5 4.6Z" fill="#fcf0c0" fill-opacity="0.73"/><path d="M-5.1 -6.9L18.5 4.6L15.0 10.3Z" fill="#c89a10" fill-opacity="0.36"/><path d="M-5.1 -6.9L15.0 10.3L6.7 15.3Z" fill="#fcf0c0" fill-opacity="0.73"/><path d="M-5.1 -6.9L6.7 15.3L-5.4 15.7Z" fill="#c89a10" fill-opacity="0.28"/><path d="M-5.1 -6.9L-5.4 15.7L-10.6 13.7Z" fill="#fcf0c0" fill-opacity="0.54"/><path d="M-5.1 -6.9L-10.6 13.7L-17.4 7.0Z" fill="#c89a10" fill-opacity="0.21"/><path d="M-5.1 -6.9L-17.4 7.0L-18.8 -3.8Z" fill="#fcf0c0" fill-opacity="0.44"/><path d="M-5.1 -6.9L-18.8 -3.8L-14.0 -11.3Z" fill="#c89a10" fill-opacity="0.26"/><path d="M-5.1 -6.9L-14.0 -11.3L-6.8 -15.3Z" fill="#fcf0c0" fill-opacity="0.70"/><path d="M-5.1 -6.9L-6.8 -15.3L1.6 -16.3Z" fill="#c89a10" fill-opacity="0.26"/><ellipse rx="19.3" ry="16.3" fill="none" stroke="#fcf0c0" stroke-width="1" stroke-opacity="0.5"/><circle cx="8.8" cy="5.7" r="0.9" fill="#fff" opacity="0.7"/></g><g transform="translate(81 130.5) rotate(0)"><ellipse cx="1" cy="2" rx="20.2" ry="16.9" fill="#c89a10" opacity="0.12"/><ellipse rx="18.2" ry="14.9" fill="url(#g_nov)" stroke="#c89a10" stroke-width="1.1" stroke-opacity="0.8"/><path d="M1.0 -3.3L5.7 -12.5L14.6 -6.0Z" fill="#fcf0c0" fill-opacity="0.55"/><path d="M1.0 -3.3L14.6 -6.0L16.1 2.1Z" fill="#c89a10" fill-opacity="0.38"/><path d="M1.0 -3.3L16.1 2.1L11.7 9.4Z" fill="#fcf0c0" fill-opacity="0.61"/><path d="M1.0 -3.3L11.7 9.4L0.0 13.4Z" fill="#c89a10" fill-opacity="0.23"/><path d="M1.0 -3.3L0.0 13.4L-8.0 11.6Z" fill="#fcf0c0" fill-opacity="0.78"/><path d="M1.0 -3.3L-8.0 11.6L-14.3 6.4Z" fill="#c89a10" fill-opacity="0.21"/><path d="M1.0 -3.3L-14.3 6.4L-16.1 -2.5Z" fill="#fcf0c0" fill-opacity="0.54"/><path d="M1.0 -3.3L-16.1 -2.5L-9.9 -10.6Z" fill="#c89a10" fill-opacity="0.27"/><path d="M1.0 -3.3L-9.9 -10.6L0.3 -13.4Z" fill="#fcf0c0" fill-opacity="0.48"/><path d="M1.0 -3.3L0.3 -13.4L5.7 -12.5Z" fill="#c89a10" fill-opacity="0.24"/><path d="M4.4 -7.5L8.3 -3.5L7.7 1.6L2.8 4.8L-3.4 4.2L-7.4 0.3L-6.7 -4.8L-1.8 -8.0Z" fill="#fcf0c0" fill-opacity="0.30" stroke="#c89a10" stroke-opacity="0.3" stroke-width="0.8"/><ellipse rx="16.3" ry="13.4" fill="none" stroke="#fcf0c0" stroke-width="1" stroke-opacity="0.5"/><circle cx="-0.4" cy="-5.8" r="1.3" fill="#fff" opacity="0.7"/><circle cx="2.1" cy="2.6" r="0.8" fill="#fff" opacity="0.7"/></g><g transform="translate(109.5 132) rotate(0)"><ellipse cx="1" cy="2" rx="15.2" ry="13.0" fill="#c89a10" opacity="0.12"/><ellipse rx="13.2" ry="11.0" fill="url(#g_nov)" stroke="#c89a10" stroke-width="1.1" stroke-opacity="0.8"/><path d="M3.0 2.8L-4.5 -9.2L3.5 -9.5Z" fill="#fcf0c0" fill-opacity="0.44"/><path d="M3.0 2.8L3.5 -9.5L11.3 -3.0Z" fill="#c89a10" fill-opacity="0.28"/><path d="M3.0 2.8L11.3 -3.0L11.4 2.8Z" fill="#fcf0c0" fill-opacity="0.58"/><path d="M3.0 2.8L11.4 2.8L4.6 9.1Z" fill="#c89a10" fill-opacity="0.22"/><path d="M3.0 2.8L4.6 9.1L-5.0 9.0Z" fill="#fcf0c0" fill-opacity="0.46"/><path d="M3.0 2.8L-5.0 9.0L-10.8 4.1Z" fill="#c89a10" fill-opacity="0.25"/><path d="M3.0 2.8L-10.8 4.1L-11.4 -2.7Z" fill="#fcf0c0" fill-opacity="0.74"/><path d="M3.0 2.8L-11.4 -2.7L-4.5 -9.2Z" fill="#c89a10" fill-opacity="0.33"/><path d="M-0.6 -3.2L3.9 -3.1L7.0 -0.4L6.9 3.4L3.6 6.0L-0.9 5.9L-4.1 3.2L-3.9 -0.6Z" fill="#fcf0c0" fill-opacity="0.30" stroke="#c89a10" stroke-opacity="0.3" stroke-width="0.8"/><ellipse rx="11.9" ry="9.9" fill="none" stroke="#fcf0c0" stroke-width="1" stroke-opacity="0.5"/><circle cx="-4.2" cy="-1.8" r="1.2" fill="#fff" opacity="0.7"/></g></g></g><g transform="translate(832.5 305.7)"><defs><clipPath id="c_dec"><circle cx="75" cy="75" r="75"/></clipPath><linearGradient id="bg_dec" x1="0" y1="0" x2="0" y2="1"><stop offset="0" stop-color="#dcdce2"/><stop offset="1" stop-color="#d0d0d8"/></linearGradient><radialGradient id="g_dec" cx="0.45" cy="0.4" r="0.65"><stop offset="0" stop-color="#7e88cc"/><stop offset="0.6" stop-color="#7e88cc"/><stop offset="1" stop-color="#3a4494"/></radialGradient></defs><g clip-path="url(#c_dec)"><rect width="150" height="150" fill="url(#bg_dec)"/><g transform="translate(96 20) rotate(0)"><ellipse cx="1" cy="2" rx="22.9" ry="22.9" fill="#3a4494" opacity="0.12"/><ellipse rx="20.9" ry="20.9" fill="url(#g_dec)" stroke="#3a4494" stroke-width="1.1" stroke-opacity="0.8"/><path d="M-3.8 0.7L11.9 -14.6L17.5 -6.9Z" fill="#d8dcf6" fill-opacity="0.43"/><path d="M-3.8 0.7L17.5 -6.9L18.6 2.9Z" fill="#3a4494" fill-opacity="0.34"/><path d="M-3.8 0.7L18.6 2.9L15.9 10.1Z" fill="#d8dcf6" fill-opacity="0.47"/><path d="M-3.8 0.7L15.9 10.1L4.8 18.2Z" fill="#3a4494" fill-opacity="0.28"/><path d="M-3.8 0.7L4.8 18.2L-5.9 17.8Z" fill="#d8dcf6" fill-opacity="0.55"/><path d="M-3.8 0.7L-5.9 17.8L-11.7 14.7Z" fill="#3a4494" fill-opacity="0.37"/><path d="M-3.8 0.7L-11.7 14.7L-17.2 7.7Z" fill="#d8dcf6" fill-opacity="0.65"/><path d="M-3.8 0.7L-17.2 7.7L-18.4 -4.1Z" fill="#3a4494" fill-opacity="0.45"/><path d="M-3.8 0.7L-18.4 -4.1L-14.7 -11.8Z" fill="#d8dcf6" fill-opacity="0.52"/><path d="M-3.8 0.7L-14.7 -11.8L-8.0 -17.0Z" fill="#3a4494" fill-opacity="0.45"/><path d="M-3.8 0.7L-8.0 -17.0L3.6 -18.5Z" fill="#d8dcf6" fill-opacity="0.53"/><path d="M-3.8 0.7L3.6 -18.5L11.9 -14.6Z" fill="#3a4494" fill-opacity="0.38"/><ellipse rx="18.8" ry="18.8" fill="none" stroke="#d8dcf6" stroke-width="1" stroke-opacity="0.5"/><circle cx="0.7" cy="-5.1" r="1.1" fill="#fff" opacity="0.7"/></g><g transform="translate(18 35) rotate(30)"><ellipse cx="1" cy="2" rx="15.2" ry="17.4" fill="#3a4494" opacity="0.12"/><ellipse rx="13.2" ry="15.4" fill="url(#g_dec)" stroke="#3a4494" stroke-width="1.1" stroke-opacity="0.8"/><path d="M0.8 -2.3L9.2 8.7L4.5 12.8Z" fill="#d8dcf6" fill-opacity="0.46"/><path d="M0.8 -2.3L4.5 12.8L-1.4 13.8Z" fill="#3a4494" fill-opacity="0.27"/><path d="M0.8 -2.3L-1.4 13.8L-5.8 12.1Z" fill="#d8dcf6" fill-opacity="0.48"/><path d="M0.8 -2.3L-5.8 12.1L-10.5 6.6Z" fill="#3a4494" fill-opacity="0.37"/><path d="M0.8 -2.3L-10.5 6.6L-11.9 -0.9Z" fill="#d8dcf6" fill-opacity="0.55"/><path d="M0.8 -2.3L-11.9 -0.9L-9.6 -8.2Z" fill="#3a4494" fill-opacity="0.39"/><path d="M0.8 -2.3L-9.6 -8.2L-4.1 -13.0Z" fill="#d8dcf6" fill-opacity="0.62"/><path d="M0.8 -2.3L-4.1 -13.0L2.1 -13.6Z" fill="#3a4494" fill-opacity="0.26"/><path d="M0.8 -2.3L2.1 -13.6L5.6 -12.2Z" fill="#d8dcf6" fill-opacity="0.54"/><path d="M0.8 -2.3L5.6 -12.2L11.4 -4.0Z" fill="#3a4494" fill-opacity="0.34"/><path d="M0.8 -2.3L11.4 -4.0L11.8 1.2Z" fill="#d8dcf6" fill-opacity="0.75"/><path d="M0.8 -2.3L11.8 1.2L9.2 8.7Z" fill="#3a4494" fill-opacity="0.27"/><ellipse rx="11.9" ry="13.9" fill="none" stroke="#d8dcf6" stroke-width="1" stroke-opacity="0.5"/><circle cx="-5.4" cy="-1.2" r="1.3" fill="#fff" opacity="0.7"/></g><g transform="translate(30 48) rotate(0)"><ellipse cx="1" cy="2" rx="20.7" ry="20.7" fill="#3a4494" opacity="0.12"/><ellipse rx="18.7" ry="18.7" fill="url(#g_dec)" stroke="#3a4494" stroke-width="1.1" stroke-opacity="0.8"/><path d="M5.1 3.9L11.2 -12.5L16.7 -2.0Z" fill="#d8dcf6" fill-opacity="0.49"/><path d="M5.1 3.9L16.7 -2.0L14.0 9.3Z" fill="#3a4494" fill-opacity="0.45"/><path d="M5.1 3.9L14.0 9.3L4.3 16.3Z" fill="#d8dcf6" fill-opacity="0.48"/><path d="M5.1 3.9L4.3 16.3L-10.6 13.1Z" fill="#3a4494" fill-opacity="0.36"/><path d="M5.1 3.9L-10.6 13.1L-16.7 1.8Z" fill="#d8dcf6" fill-opacity="0.54"/><path d="M5.1 3.9L-16.7 1.8L-13.9 -9.5Z" fill="#3a4494" fill-opacity="0.43"/><path d="M5.1 3.9L-13.9 -9.5L-1.2 -16.8Z" fill="#d8dcf6" fill-opacity="0.62"/><path d="M5.1 3.9L-1.2 -16.8L11.2 -12.5Z" fill="#3a4494" fill-opacity="0.27"/><path d="M7.2 -5.1L10.8 0.3L9.6 6.6L4.2 10.2L-2.1 9.0L-5.7 3.6L-4.5 -2.7L0.9 -6.3Z" fill="#d8dcf6" fill-opacity="0.30" stroke="#3a4494" stroke-opacity="0.3" stroke-width="0.8"/><ellipse rx="16.8" ry="16.8" fill="none" stroke="#d8dcf6" stroke-width="1" stroke-opacity="0.5"/><circle cx="-2.5" cy="-11.0" r="1.6" fill="#fff" opacity="0.7"/><circle cx="10.2" cy="-9.6" r="1.0" fill="#fff" opacity="0.7"/></g><g transform="translate(67 60) rotate(0)"><ellipse cx="1" cy="2" rx="22.9" ry="22.9" fill="#3a4494" opacity="0.12"/><ellipse rx="20.9" ry="20.9" fill="url(#g_dec)" stroke="#3a4494" stroke-width="1.1" stroke-opacity="0.8"/><path d="M-3.7 -3.0L17.1 -7.8L18.5 3.6Z" fill="#d8dcf6" fill-opacity="0.52"/><path d="M-3.7 -3.0L18.5 3.6L12.3 14.2Z" fill="#3a4494" fill-opacity="0.45"/><path d="M-3.7 -3.0L12.3 14.2L5.8 17.9Z" fill="#d8dcf6" fill-opacity="0.43"/><path d="M-3.7 -3.0L5.8 17.9L-5.5 18.0Z" fill="#3a4494" fill-opacity="0.45"/><path d="M-3.7 -3.0L-5.5 18.0L-17.3 7.5Z" fill="#d8dcf6" fill-opacity="0.67"/><path d="M-3.7 -3.0L-17.3 7.5L-18.5 -3.4Z" fill="#3a4494" fill-opacity="0.35"/><path d="M-3.7 -3.0L-18.5 -3.4L-13.7 -12.9Z" fill="#d8dcf6" fill-opacity="0.77"/><path d="M-3.7 -3.0L-13.7 -12.9L-2.2 -18.7Z" fill="#3a4494" fill-opacity="0.27"/><path d="M-3.7 -3.0L-2.2 -18.7L8.8 -16.6Z" fill="#d8dcf6" fill-opacity="0.75"/><path d="M-3.7 -3.0L8.8 -16.6L17.1 -7.8Z" fill="#3a4494" fill-opacity="0.29"/><ellipse rx="18.8" ry="18.8" fill="none" stroke="#d8dcf6" stroke-width="1" stroke-opacity="0.5"/><circle cx="9.4" cy="12.2" r="1.0" fill="#fff" opacity="0.7"/><circle cx="5.2" cy="-4.5" r="1.1" fill="#fff" opacity="0.7"/><circle cx="9.9" cy="-6.7" r="1.1" fill="#fff" opacity="0.7"/></g><g transform="translate(120 40) rotate(-20)"><ellipse cx="1" cy="2" rx="20.7" ry="17.4" fill="#3a4494" opacity="0.12"/><ellipse rx="18.7" ry="15.4" fill="url(#g_dec)" stroke="#3a4494" stroke-width="1.1" stroke-opacity="0.8"/><path d="M5.1 1.7L15.6 5.2L10.3 11.0Z" fill="#d8dcf6" fill-opacity="0.75"/><path d="M5.1 1.7L10.3 11.0L1.6 13.8Z" fill="#3a4494" fill-opacity="0.31"/><path d="M5.1 1.7L1.6 13.8L-8.7 11.8Z" fill="#d8dcf6" fill-opacity="0.52"/><path d="M5.1 1.7L-8.7 11.8L-14.7 6.8Z" fill="#3a4494" fill-opacity="0.40"/><path d="M5.1 1.7L-14.7 6.8L-16.3 3.5Z" fill="#d8dcf6" fill-opacity="0.58"/><path d="M5.1 1.7L-16.3 3.5L-14.9 -6.4Z" fill="#3a4494" fill-opacity="0.38"/><path d="M5.1 1.7L-14.9 -6.4L-8.2 -12.1Z" fill="#d8dcf6" fill-opacity="0.63"/><path d="M5.1 1.7L-8.2 -12.1L-0.5 -13.9Z" fill="#3a4494" fill-opacity="0.27"/><path d="M5.1 1.7L-0.5 -13.9L7.7 -12.3Z" fill="#d8dcf6" fill-opacity="0.75"/><path d="M5.1 1.7L7.7 -12.3L14.4 -7.2Z" fill="#3a4494" fill-opacity="0.42"/><path d="M5.1 1.7L14.4 -7.2L16.4 -3.2Z" fill="#d8dcf6" fill-opacity="0.77"/><path d="M5.1 1.7L16.4 -3.2L15.6 5.2Z" fill="#3a4494" fill-opacity="0.36"/><path d="M10.3 3.5L5.7 7.2L-0.7 7.2L-5.3 3.5L-5.2 -1.9L-0.7 -5.6L5.8 -5.6L10.3 -1.8Z" fill="#d8dcf6" fill-opacity="0.30" stroke="#3a4494" stroke-opacity="0.3" stroke-width="0.8"/><ellipse rx="16.8" ry="13.9" fill="none" stroke="#d8dcf6" stroke-width="1" stroke-opacity="0.5"/><circle cx="-11.1" cy="1.1" r="1.0" fill="#fff" opacity="0.7"/><circle cx="7.5" cy="1.5" r="1.4" fill="#fff" opacity="0.7"/></g><g transform="translate(108 68) rotate(0)"><ellipse cx="1" cy="2" rx="21.8" ry="21.8" fill="#3a4494" opacity="0.12"/><ellipse rx="19.8" ry="19.8" fill="url(#g_dec)" stroke="#3a4494" stroke-width="1.1" stroke-opacity="0.8"/><path d="M-4.3 -6.8L-12.7 12.5L-17.6 2.7Z" fill="#d8dcf6" fill-opacity="0.68"/><path d="M-4.3 -6.8L-17.6 2.7L-14.1 -10.9Z" fill="#3a4494" fill-opacity="0.27"/><path d="M-4.3 -6.8L-14.1 -10.9L1.0 -17.8Z" fill="#d8dcf6" fill-opacity="0.70"/><path d="M-4.3 -6.8L1.0 -17.8L12.8 -12.4Z" fill="#3a4494" fill-opacity="0.44"/><path d="M-4.3 -6.8L12.8 -12.4L17.8 -1.4Z" fill="#d8dcf6" fill-opacity="0.73"/><path d="M-4.3 -6.8L17.8 -1.4L14.6 10.2Z" fill="#3a4494" fill-opacity="0.25"/><path d="M-4.3 -6.8L14.6 10.2L2.4 17.7Z" fill="#d8dcf6" fill-opacity="0.45"/><path d="M-4.3 -6.8L2.4 17.7L-12.7 12.5Z" fill="#3a4494" fill-opacity="0.26"/><ellipse rx="17.8" ry="17.8" fill="none" stroke="#d8dcf6" stroke-width="1" stroke-opacity="0.5"/><circle cx="8.5" cy="-4.2" r="1.4" fill="#fff" opacity="0.7"/><circle cx="-9.6" cy="-10.8" r="1.3" fill="#fff" opacity="0.7"/></g><g transform="translate(140 58) rotate(0)"><ellipse cx="1" cy="2" rx="13.0" ry="18.5" fill="#3a4494" opacity="0.12"/><ellipse rx="11.0" ry="16.5" fill="url(#g_dec)" stroke="#3a4494" stroke-width="1.1" stroke-opacity="0.8"/><path d="M-0.7 3.6L-3.4 -14.0L4.3 -13.4Z" fill="#d8dcf6" fill-opacity="0.64"/><path d="M-0.7 3.6L4.3 -13.4L8.9 -6.6Z" fill="#3a4494" fill-opacity="0.43"/><path d="M-0.7 3.6L8.9 -6.6L8.5 7.5Z" fill="#d8dcf6" fill-opacity="0.73"/><path d="M-0.7 3.6L8.5 7.5L2.1 14.5Z" fill="#3a4494" fill-opacity="0.25"/><path d="M-0.7 3.6L2.1 14.5L-4.6 13.1Z" fill="#d8dcf6" fill-opacity="0.65"/><path d="M-0.7 3.6L-4.6 13.1L-9.5 4.2Z" fill="#3a4494" fill-opacity="0.33"/><path d="M-0.7 3.6L-9.5 4.2L-9.4 -4.5Z" fill="#d8dcf6" fill-opacity="0.45"/><path d="M-0.7 3.6L-9.4 -4.5L-3.4 -14.0Z" fill="#3a4494" fill-opacity="0.28"/><path d="M-2.1 -5.1L1.7 -4.9L4.3 -0.8L4.1 4.9L1.4 8.8L-2.4 8.6L-5.0 4.4L-4.9 -1.3Z" fill="#d8dcf6" fill-opacity="0.30" stroke="#3a4494" stroke-opacity="0.3" stroke-width="0.8"/><ellipse rx="9.9" ry="14.8" fill="none" stroke="#d8dcf6" stroke-width="1" stroke-opacity="0.5"/><circle cx="-5.4" cy="-2.7" r="1.4" fill="#fff" opacity="0.7"/><circle cx="6.1" cy="-9.6" r="1.5" fill="#fff" opacity="0.7"/><circle cx="-2.0" cy="5.5" r="1.3" fill="#fff" opacity="0.7"/></g><g transform="translate(30 85) rotate(0)"><ellipse cx="1" cy="2" rx="21.8" ry="22.9" fill="#3a4494" opacity="0.12"/><ellipse rx="19.8" ry="20.9" fill="url(#g_dec)" stroke="#3a4494" stroke-width="1.1" stroke-opacity="0.8"/><path d="M3.7 -2.5L13.5 -12.3L17.8 -0.6Z" fill="#d8dcf6" fill-opacity="0.51"/><path d="M3.7 -2.5L17.8 -0.6L11.3 14.6Z" fill="#3a4494" fill-opacity="0.27"/><path d="M3.7 -2.5L11.3 14.6L-2.2 18.7Z" fill="#d8dcf6" fill-opacity="0.60"/><path d="M3.7 -2.5L-2.2 18.7L-12.9 13.0Z" fill="#3a4494" fill-opacity="0.25"/><path d="M3.7 -2.5L-12.9 13.0L-17.8 -0.8Z" fill="#d8dcf6" fill-opacity="0.44"/><path d="M3.7 -2.5L-17.8 -0.8L-10.6 -15.1Z" fill="#3a4494" fill-opacity="0.26"/><path d="M3.7 -2.5L-10.6 -15.1L0.0 -18.8Z" fill="#d8dcf6" fill-opacity="0.74"/><path d="M3.7 -2.5L0.0 -18.8L13.5 -12.3Z" fill="#3a4494" fill-opacity="0.37"/><path d="M8.6 -7.5L10.7 -0.7L7.7 5.8L1.3 8.1L-4.8 4.9L-7.0 -1.9L-4.0 -8.3L2.4 -10.7Z" fill="#d8dcf6" fill-opacity="0.30" stroke="#3a4494" stroke-opacity="0.3" stroke-width="0.8"/><ellipse rx="17.8" ry="18.8" fill="none" stroke="#d8dcf6" stroke-width="1" stroke-opacity="0.5"/><circle cx="4.3" cy="-5.8" r="0.9" fill="#fff" opacity="0.7"/><circle cx="-10.7" cy="-5.3" r="1.0" fill="#fff" opacity="0.7"/></g><g transform="translate(68 88) rotate(0)"><ellipse cx="1" cy="2" rx="21.8" ry="21.8" fill="#3a4494" opacity="0.12"/><ellipse rx="19.8" ry="19.8" fill="url(#g_dec)" stroke="#3a4494" stroke-width="1.1" stroke-opacity="0.8"/><path d="M4.1 -3.1L6.3 16.7L-6.9 16.4Z" fill="#d8dcf6" fill-opacity="0.70"/><path d="M4.1 -3.1L-6.9 16.4L-14.9 9.8Z" fill="#3a4494" fill-opacity="0.30"/><path d="M4.1 -3.1L-14.9 9.8L-17.8 0.5Z" fill="#d8dcf6" fill-opacity="0.56"/><path d="M4.1 -3.1L-17.8 0.5L-14.6 -10.2Z" fill="#3a4494" fill-opacity="0.45"/><path d="M4.1 -3.1L-14.6 -10.2L-6.0 -16.8Z" fill="#d8dcf6" fill-opacity="0.52"/><path d="M4.1 -3.1L-6.0 -16.8L8.8 -15.5Z" fill="#3a4494" fill-opacity="0.40"/><path d="M4.1 -3.1L8.8 -15.5L14.9 -9.7Z" fill="#d8dcf6" fill-opacity="0.56"/><path d="M4.1 -3.1L14.9 -9.7L17.7 2.2Z" fill="#3a4494" fill-opacity="0.32"/><path d="M4.1 -3.1L17.7 2.2L14.7 10.1Z" fill="#d8dcf6" fill-opacity="0.54"/><path d="M4.1 -3.1L14.7 10.1L6.3 16.7Z" fill="#3a4494" fill-opacity="0.43"/><ellipse rx="17.8" ry="17.8" fill="none" stroke="#d8dcf6" stroke-width="1" stroke-opacity="0.5"/><circle cx="9.8" cy="-0.9" r="1.2" fill="#fff" opacity="0.7"/></g><g transform="translate(107 98) rotate(0)"><ellipse cx="1" cy="2" rx="20.7" ry="21.8" fill="#3a4494" opacity="0.12"/><ellipse rx="18.7" ry="19.8" fill="url(#g_dec)" stroke="#3a4494" stroke-width="1.1" stroke-opacity="0.8"/><path d="M6.0 -3.4L-13.9 -10.1L-2.3 -17.6Z" fill="#d8dcf6" fill-opacity="0.71"/><path d="M6.0 -3.4L-2.3 -17.6L10.5 -14.0Z" fill="#3a4494" fill-opacity="0.39"/><path d="M6.0 -3.4L10.5 -14.0L16.3 -4.4Z" fill="#d8dcf6" fill-opacity="0.49"/><path d="M6.0 -3.4L16.3 -4.4L14.5 9.1Z" fill="#3a4494" fill-opacity="0.44"/><path d="M6.0 -3.4L14.5 9.1L4.2 17.3Z" fill="#d8dcf6" fill-opacity="0.65"/><path d="M6.0 -3.4L4.2 17.3L-8.8 15.2Z" fill="#3a4494" fill-opacity="0.35"/><path d="M6.0 -3.4L-8.8 15.2L-16.8 0.0Z" fill="#d8dcf6" fill-opacity="0.54"/><path d="M6.0 -3.4L-16.8 0.0L-13.9 -10.1Z" fill="#3a4494" fill-opacity="0.25"/><ellipse rx="16.8" ry="17.8" fill="none" stroke="#d8dcf6" stroke-width="1" stroke-opacity="0.5"/><circle cx="-9.2" cy="-2.4" r="1.2" fill="#fff" opacity="0.7"/></g><g transform="translate(137 85) rotate(0)"><ellipse cx="1" cy="2" rx="15.2" ry="17.4" fill="#3a4494" opacity="0.12"/><ellipse rx="13.2" ry="15.4" fill="url(#g_dec)" stroke="#3a4494" stroke-width="1.1" stroke-opacity="0.8"/><path d="M-4.2 1.9L6.6 11.5L-2.1 13.6Z" fill="#d8dcf6" fill-opacity="0.46"/><path d="M-4.2 1.9L-2.1 13.6L-10.6 6.2Z" fill="#3a4494" fill-opacity="0.29"/><path d="M-4.2 1.9L-10.6 6.2L-11.6 -3.0Z" fill="#d8dcf6" fill-opacity="0.60"/><path d="M-4.2 1.9L-11.6 -3.0L-6.4 -11.7Z" fill="#3a4494" fill-opacity="0.36"/><path d="M-4.2 1.9L-6.4 -11.7L2.4 -13.6Z" fill="#d8dcf6" fill-opacity="0.69"/><path d="M-4.2 1.9L2.4 -13.6L9.8 -7.8Z" fill="#3a4494" fill-opacity="0.32"/><path d="M-4.2 1.9L9.8 -7.8L11.6 3.1Z" fill="#d8dcf6" fill-opacity="0.57"/><path d="M-4.2 1.9L11.6 3.1L6.6 11.5Z" fill="#3a4494" fill-opacity="0.33"/><path d="M0.7 7.0L-3.8 7.6L-7.3 4.2L-7.8 -1.0L-4.9 -5.2L-0.4 -5.7L3.1 -2.4L3.6 2.9Z" fill="#d8dcf6" fill-opacity="0.30" stroke="#3a4494" stroke-opacity="0.3" stroke-width="0.8"/><ellipse rx="11.9" ry="13.9" fill="none" stroke="#d8dcf6" stroke-width="1" stroke-opacity="0.5"/><circle cx="-3.2" cy="-4.8" r="1.0" fill="#fff" opacity="0.7"/><circle cx="-6.2" cy="-9.1" r="1.3" fill="#fff" opacity="0.7"/><circle cx="3.6" cy="1.1" r="1.4" fill="#fff" opacity="0.7"/></g><g transform="translate(22 112) rotate(0)"><ellipse cx="1" cy="2" rx="19.6" ry="19.6" fill="#3a4494" opacity="0.12"/><ellipse rx="17.6" ry="17.6" fill="url(#g_dec)" stroke="#3a4494" stroke-width="1.1" stroke-opacity="0.8"/><path d="M-6.4 2.1L6.0 -14.7L14.8 -5.6Z" fill="#d8dcf6" fill-opacity="0.59"/><path d="M-6.4 2.1L14.8 -5.6L14.8 5.6Z" fill="#3a4494" fill-opacity="0.25"/><path d="M-6.4 2.1L14.8 5.6L6.2 14.6Z" fill="#d8dcf6" fill-opacity="0.63"/><path d="M-6.4 2.1L6.2 14.6L-4.9 15.1Z" fill="#3a4494" fill-opacity="0.33"/><path d="M-6.4 2.1L-4.9 15.1L-13.0 9.0Z" fill="#d8dcf6" fill-opacity="0.50"/><path d="M-6.4 2.1L-13.0 9.0L-15.2 -4.5Z" fill="#3a4494" fill-opacity="0.44"/><path d="M-6.4 2.1L-15.2 -4.5L-8.7 -13.2Z" fill="#d8dcf6" fill-opacity="0.71"/><path d="M-6.4 2.1L-8.7 -13.2L6.0 -14.7Z" fill="#3a4494" fill-opacity="0.33"/><ellipse rx="15.8" ry="15.8" fill="none" stroke="#d8dcf6" stroke-width="1" stroke-opacity="0.5"/><circle cx="-6.2" cy="-7.6" r="1.2" fill="#fff" opacity="0.7"/><circle cx="-2.2" cy="5.3" r="1.2" fill="#fff" opacity="0.7"/></g><g transform="translate(52 123) rotate(0)"><ellipse cx="1" cy="2" rx="22.9" ry="24.0" fill="#3a4494" opacity="0.12"/><ellipse rx="20.9" ry="22.0" fill="url(#g_dec)" stroke="#3a4494" stroke-width="1.1" stroke-opacity="0.8"/><path d="M5.5 -8.7L-16.8 -9.0L-7.1 -18.4Z" fill="#d8dcf6" fill-opacity="0.76"/><path d="M5.5 -8.7L-7.1 -18.4L1.8 -19.7Z" fill="#3a4494" fill-opacity="0.29"/><path d="M5.5 -8.7L1.8 -19.7L12.1 -15.1Z" fill="#d8dcf6" fill-opacity="0.74"/><path d="M5.5 -8.7L12.1 -15.1L18.7 -2.2Z" fill="#3a4494" fill-opacity="0.43"/><path d="M5.5 -8.7L18.7 -2.2L16.8 8.9Z" fill="#d8dcf6" fill-opacity="0.73"/><path d="M5.5 -8.7L16.8 8.9L6.5 18.6Z" fill="#3a4494" fill-opacity="0.29"/><path d="M5.5 -8.7L6.5 18.6L-1.6 19.7Z" fill="#d8dcf6" fill-opacity="0.72"/><path d="M5.5 -8.7L-1.6 19.7L-13.6 13.7Z" fill="#3a4494" fill-opacity="0.45"/><path d="M5.5 -8.7L-13.6 13.7L-18.8 0.8Z" fill="#d8dcf6" fill-opacity="0.66"/><path d="M5.5 -8.7L-18.8 0.8L-16.8 -9.0Z" fill="#3a4494" fill-opacity="0.42"/><path d="M-5.6 -8.8L-0.2 -13.7L7.0 -13.2L11.7 -7.5L11.2 0.1L5.8 5.1L-1.4 4.5L-6.1 -1.2Z" fill="#d8dcf6" fill-opacity="0.30" stroke="#3a4494" stroke-opacity="0.3" stroke-width="0.8"/><ellipse rx="18.8" ry="19.8" fill="none" stroke="#d8dcf6" stroke-width="1" stroke-opacity="0.5"/><circle cx="3.3" cy="12.3" r="1.0" fill="#fff" opacity="0.7"/><circle cx="9.0" cy="-5.1" r="1.3" fill="#fff" opacity="0.7"/></g><g transform="translate(90 132) rotate(0)"><ellipse cx="1" cy="2" rx="21.8" ry="22.9" fill="#3a4494" opacity="0.12"/><ellipse rx="19.8" ry="20.9" fill="url(#g_dec)" stroke="#3a4494" stroke-width="1.1" stroke-opacity="0.8"/><path d="M-3.0 -5.8L16.2 7.8L3.3 18.5Z" fill="#d8dcf6" fill-opacity="0.69"/><path d="M-3.0 -5.8L3.3 18.5L-11.4 14.5Z" fill="#3a4494" fill-opacity="0.26"/><path d="M-3.0 -5.8L-11.4 14.5L-16.5 7.0Z" fill="#d8dcf6" fill-opacity="0.69"/><path d="M-3.0 -5.8L-16.5 7.0L-14.7 -10.6Z" fill="#3a4494" fill-opacity="0.41"/><path d="M-3.0 -5.8L-14.7 -10.6L-6.6 -17.5Z" fill="#d8dcf6" fill-opacity="0.49"/><path d="M-3.0 -5.8L-6.6 -17.5L9.1 -16.1Z" fill="#3a4494" fill-opacity="0.25"/><path d="M-3.0 -5.8L9.1 -16.1L16.7 -6.5Z" fill="#d8dcf6" fill-opacity="0.55"/><path d="M-3.0 -5.8L16.7 -6.5L16.2 7.8Z" fill="#3a4494" fill-opacity="0.26"/><path d="M6.1 2.0L0.6 6.2L-6.1 5.1L-10.2 -0.7L-9.1 -7.8L-3.6 -12.0L3.1 -10.9L7.1 -5.1Z" fill="#d8dcf6" fill-opacity="0.30" stroke="#3a4494" stroke-opacity="0.3" stroke-width="0.8"/><ellipse rx="17.8" ry="18.8" fill="none" stroke="#d8dcf6" stroke-width="1" stroke-opacity="0.5"/><circle cx="-1.2" cy="-0.6" r="0.9" fill="#fff" opacity="0.7"/><circle cx="-0.5" cy="3.8" r="0.8" fill="#fff" opacity="0.7"/></g><g transform="translate(127 112) rotate(0)"><ellipse cx="1" cy="2" rx="18.5" ry="21.8" fill="#3a4494" opacity="0.12"/><ellipse rx="16.5" ry="19.8" fill="url(#g_dec)" stroke="#3a4494" stroke-width="1.1" stroke-opacity="0.8"/><path d="M-2.0 6.2L14.8 0.5L13.3 7.9Z" fill="#d8dcf6" fill-opacity="0.51"/><path d="M-2.0 6.2L13.3 7.9L6.4 16.1Z" fill="#3a4494" fill-opacity="0.27"/><path d="M-2.0 6.2L6.4 16.1L0.5 17.8Z" fill="#d8dcf6" fill-opacity="0.45"/><path d="M-2.0 6.2L0.5 17.8L-7.1 15.6Z" fill="#3a4494" fill-opacity="0.26"/><path d="M-2.0 6.2L-7.1 15.6L-12.1 10.3Z" fill="#d8dcf6" fill-opacity="0.73"/><path d="M-2.0 6.2L-12.1 10.3L-14.8 -0.7Z" fill="#3a4494" fill-opacity="0.40"/><path d="M-2.0 6.2L-14.8 -0.7L-14.0 -6.0Z" fill="#d8dcf6" fill-opacity="0.70"/><path d="M-2.0 6.2L-14.0 -6.0L-5.9 -16.4Z" fill="#3a4494" fill-opacity="0.44"/><path d="M-2.0 6.2L-5.9 -16.4L0.7 -17.8Z" fill="#d8dcf6" fill-opacity="0.54"/><path d="M-2.0 6.2L0.7 -17.8L7.2 -15.6Z" fill="#3a4494" fill-opacity="0.34"/><path d="M-2.0 6.2L7.2 -15.6L11.5 -11.3Z" fill="#d8dcf6" fill-opacity="0.74"/><path d="M-2.0 6.2L11.5 -11.3L14.8 0.5Z" fill="#3a4494" fill-opacity="0.28"/><path d="M6.4 2.8L4.4 9.2L-0.8 12.0L-6.1 9.6L-8.4 3.4L-6.4 -3.0L-1.2 -5.8L4.1 -3.4Z" fill="#d8dcf6" fill-opacity="0.30" stroke="#3a4494" stroke-opacity="0.3" stroke-width="0.8"/><ellipse rx="14.8" ry="17.8" fill="none" stroke="#d8dcf6" stroke-width="1" stroke-opacity="0.5"/><circle cx="-6.3" cy="2.0" r="1.2" fill="#fff" opacity="0.7"/><circle cx="-6.3" cy="6.1" r="1.0" fill="#fff" opacity="0.7"/><circle cx="1.5" cy="-11.0" r="0.8" fill="#fff" opacity="0.7"/></g><g transform="translate(60 148) rotate(0)"><ellipse cx="1" cy="2" rx="19.6" ry="10.8" fill="#3a4494" opacity="0.12"/><ellipse rx="17.6" ry="8.8" fill="url(#g_dec)" stroke="#3a4494" stroke-width="1.1" stroke-opacity="0.8"/><path d="M-5.6 2.0L-3.9 7.7L-13.2 4.4Z" fill="#d8dcf6" fill-opacity="0.50"/><path d="M-5.6 2.0L-13.2 4.4L-15.5 1.7Z" fill="#3a4494" fill-opacity="0.30"/><path d="M-5.6 2.0L-15.5 1.7L-14.8 -2.9Z" fill="#d8dcf6" fill-opacity="0.67"/><path d="M-5.6 2.0L-14.8 -2.9L-8.0 -6.8Z" fill="#3a4494" fill-opacity="0.31"/><path d="M-5.6 2.0L-8.0 -6.8L-3.1 -7.8Z" fill="#d8dcf6" fill-opacity="0.65"/><path d="M-5.6 2.0L-3.1 -7.8L6.8 -7.1Z" fill="#3a4494" fill-opacity="0.35"/><path d="M-5.6 2.0L6.8 -7.1L11.3 -5.6Z" fill="#d8dcf6" fill-opacity="0.65"/><path d="M-5.6 2.0L11.3 -5.6L15.7 -0.9Z" fill="#3a4494" fill-opacity="0.27"/><path d="M-5.6 2.0L15.7 -0.9L14.4 3.3Z" fill="#d8dcf6" fill-opacity="0.45"/><path d="M-5.6 2.0L14.4 3.3L9.5 6.3Z" fill="#3a4494" fill-opacity="0.38"/><path d="M-5.6 2.0L9.5 6.3L2.0 7.9Z" fill="#d8dcf6" fill-opacity="0.73"/><path d="M-5.6 2.0L2.0 7.9L-3.9 7.7Z" fill="#3a4494" fill-opacity="0.26"/><path d="M-5.8 4.7L-10.1 2.6L-10.1 -0.5L-5.9 -2.6L0.2 -2.7L4.5 -0.5L4.5 2.5L0.3 4.7Z" fill="#d8dcf6" fill-opacity="0.30" stroke="#3a4494" stroke-opacity="0.3" stroke-width="0.8"/><ellipse rx="15.8" ry="7.9" fill="none" stroke="#d8dcf6" stroke-width="1" stroke-opacity="0.5"/><circle cx="-1.2" cy="-0.5" r="1.4" fill="#fff" opacity="0.7"/><circle cx="-6.7" cy="0.5" r="0.9" fill="#fff" opacity="0.7"/></g></g></g>
<text x="87" y="266" class="m">January</text><text x="87" y="282.8" class="s" xml:space="preserve">faith . love . courage</text><text x="252" y="265.2" class="m">February</text><text x="253.2" y="282.8" class="s" xml:space="preserve">strengthen relationships</text><text x="413.5" y="267" class="m">March</text><text x="413.2" y="282.8" class="s" xml:space="preserve">creativity  .  hope</text><text x="574.6" y="265" class="m">April</text><text x="573.3" y="282.8" class="s" xml:space="preserve">romance  .ward off insanity</text><text x="742.5" y="265" class="m">May</text><text x="742.9" y="282.8" class="s" xml:space="preserve">wisdom .growth .patience</text><text x="911.8" y="265" class="m">June</text><text x="911.8" y="282.8" class="s" xml:space="preserve">purity .modesty .chastity</text><text x="86.6" y="483.4" class="m">July</text><text x="83.7" y="499.6" class="s" xml:space="preserve">courage .strength .lucky</text><text x="249.9" y="482.5" class="m">August</text><text x="252.6" y="499.6" class="s" xml:space="preserve">strength  . ward off evil</text><text x="413.5" y="484.3" class="m">September</text><text x="409.9" y="499.6" class="s" xml:space="preserve">purity .wisdom</text><text x="576.4" y="483.5" class="m">October</text><text x="577.8" y="499.6" class="s" xml:space="preserve">patience . friendship</text><text x="742.6" y="483.5" class="m">November</text><text x="740.7" y="499.6" class="s" xml:space="preserve">love . affection</text><text x="911.8" y="483.5" class="m">December</text><text x="911.8" y="499.6" class="s" xml:space="preserve">good fortune . success</text>
<defs>
<linearGradient id="rg" gradientUnits="userSpaceOnUse" x1="297" y1="0" x2="619" y2="0">
<stop offset="0" stop-color="#e8ac90"/><stop offset="0.45" stop-color="#f0bfa5"/><stop offset="0.7" stop-color="#f6cdb4"/><stop offset="1" stop-color="#fde3d0"/></linearGradient>
<linearGradient id="bail" gradientUnits="userSpaceOnUse" x1="436" y1="0" x2="463" y2="0">
<stop offset="0" stop-color="#e4b29c"/><stop offset="0.55" stop-color="#f6e0d6"/><stop offset="1" stop-color="#eccabb"/></linearGradient>
<linearGradient id="bailtop" x1="0" y1="0" x2="0" y2="1">
<stop offset="0" stop-color="#c88068"/><stop offset="0.4" stop-color="#eab89e"/><stop offset="0.75" stop-color="#d89478"/><stop offset="1" stop-color="#b87058"/></linearGradient>
<radialGradient id="gb" cx="0.45" cy="0.45" r="0.6"><stop offset="0" stop-color="#38488e"/><stop offset="0.6" stop-color="#263270"/><stop offset="1" stop-color="#141a44"/></radialGradient>
<radialGradient id="gr" cx="0.45" cy="0.45" r="0.6"><stop offset="0" stop-color="#c82030"/><stop offset="0.6" stop-color="#a81420"/><stop offset="1" stop-color="#680810"/></radialGradient>
<linearGradient id="refl" x1="0" y1="0" x2="0" y2="1"><stop offset="0" stop-color="#f2d6ca" stop-opacity="0.8"/><stop offset="1" stop-color="#fbeee8" stop-opacity="0"/></linearGradient>
</defs>
<ellipse cx="397.0" cy="526.0" rx="7.2" ry="4.6" transform="rotate(63.8 397.0 526.0)" fill="none" stroke="#d88e7a" stroke-width="2.4" opacity="0.15"/><ellipse cx="397.0" cy="526.0" rx="7.2" ry="4.6" transform="rotate(63.8 397.0 526.0)" fill="none" stroke="#f4d4c8" stroke-width="0.7" opacity="0.15"/><ellipse cx="401.4" cy="534.9" rx="6.5" ry="2.4" transform="rotate(63.8 401.4 534.9)" fill="none" stroke="#cf8670" stroke-width="2" opacity="0.40"/><ellipse cx="405.8" cy="543.8" rx="7.2" ry="4.6" transform="rotate(63.8 405.8 543.8)" fill="none" stroke="#d88e7a" stroke-width="2.4" opacity="0.65"/><ellipse cx="405.8" cy="543.8" rx="7.2" ry="4.6" transform="rotate(63.8 405.8 543.8)" fill="none" stroke="#f4d4c8" stroke-width="0.7" opacity="0.65"/><ellipse cx="410.1" cy="552.6" rx="6.5" ry="2.4" transform="rotate(63.8 410.1 552.6)" fill="none" stroke="#cf8670" stroke-width="2" opacity="0.90"/><ellipse cx="414.5" cy="561.5" rx="7.2" ry="4.6" transform="rotate(63.8 414.5 561.5)" fill="none" stroke="#d88e7a" stroke-width="2.4" opacity="1.00"/><ellipse cx="414.5" cy="561.5" rx="7.2" ry="4.6" transform="rotate(63.8 414.5 561.5)" fill="none" stroke="#f4d4c8" stroke-width="0.7" opacity="1.00"/><ellipse cx="418.9" cy="570.4" rx="6.5" ry="2.4" transform="rotate(63.8 418.9 570.4)" fill="none" stroke="#cf8670" stroke-width="2" opacity="1.00"/><ellipse cx="423.2" cy="579.2" rx="7.2" ry="4.6" transform="rotate(63.8 423.2 579.2)" fill="none" stroke="#d88e7a" stroke-width="2.4" opacity="1.00"/><ellipse cx="423.2" cy="579.2" rx="7.2" ry="4.6" transform="rotate(63.8 423.2 579.2)" fill="none" stroke="#f4d4c8" stroke-width="0.7" opacity="1.00"/><ellipse cx="427.6" cy="588.1" rx="6.5" ry="2.4" transform="rotate(63.8 427.6 588.1)" fill="none" stroke="#cf8670" stroke-width="2" opacity="1.00"/><ellipse cx="432.0" cy="597.0" rx="7.2" ry="4.6" transform="rotate(63.8 432.0 597.0)" fill="none" stroke="#d88e7a" stroke-width="2.4" opacity="1.00"/><ellipse cx="432.0" cy="597.0" rx="7.2" ry="4.6" transform="rotate(63.8 432.0 597.0)" fill="none" stroke="#f4d4c8" stroke-width="0.7" opacity="1.00"/>
<ellipse cx="504.0" cy="526.0" rx="7.2" ry="4.6" transform="rotate(116.9 504.0 526.0)" fill="none" stroke="#d88e7a" stroke-width="2.4" opacity="0.15"/><ellipse cx="504.0" cy="526.0" rx="7.2" ry="4.6" transform="rotate(116.9 504.0 526.0)" fill="none" stroke="#f4d4c8" stroke-width="0.7" opacity="0.15"/><ellipse cx="499.5" cy="534.9" rx="6.5" ry="2.4" transform="rotate(116.9 499.5 534.9)" fill="none" stroke="#cf8670" stroke-width="2" opacity="0.40"/><ellipse cx="495.0" cy="543.8" rx="7.2" ry="4.6" transform="rotate(116.9 495.0 543.8)" fill="none" stroke="#d88e7a" stroke-width="2.4" opacity="0.65"/><ellipse cx="495.0" cy="543.8" rx="7.2" ry="4.6" transform="rotate(116.9 495.0 543.8)" fill="none" stroke="#f4d4c8" stroke-width="0.7" opacity="0.65"/><ellipse cx="490.5" cy="552.6" rx="6.5" ry="2.4" transform="rotate(116.9 490.5 552.6)" fill="none" stroke="#cf8670" stroke-width="2" opacity="0.90"/><ellipse cx="486.0" cy="561.5" rx="7.2" ry="4.6" transform="rotate(116.9 486.0 561.5)" fill="none" stroke="#d88e7a" stroke-width="2.4" opacity="1.00"/><ellipse cx="486.0" cy="561.5" rx="7.2" ry="4.6" transform="rotate(116.9 486.0 561.5)" fill="none" stroke="#f4d4c8" stroke-width="0.7" opacity="1.00"/><ellipse cx="481.5" cy="570.4" rx="6.5" ry="2.4" transform="rotate(116.9 481.5 570.4)" fill="none" stroke="#cf8670" stroke-width="2" opacity="1.00"/><ellipse cx="477.0" cy="579.2" rx="7.2" ry="4.6" transform="rotate(116.9 477.0 579.2)" fill="none" stroke="#d88e7a" stroke-width="2.4" opacity="1.00"/><ellipse cx="477.0" cy="579.2" rx="7.2" ry="4.6" transform="rotate(116.9 477.0 579.2)" fill="none" stroke="#f4d4c8" stroke-width="0.7" opacity="1.00"/><ellipse cx="472.5" cy="588.1" rx="6.5" ry="2.4" transform="rotate(116.9 472.5 588.1)" fill="none" stroke="#cf8670" stroke-width="2" opacity="1.00"/><ellipse cx="468.0" cy="597.0" rx="7.2" ry="4.6" transform="rotate(116.9 468.0 597.0)" fill="none" stroke="#d88e7a" stroke-width="2.4" opacity="1.00"/><ellipse cx="468.0" cy="597.0" rx="7.2" ry="4.6" transform="rotate(116.9 468.0 597.0)" fill="none" stroke="#f4d4c8" stroke-width="0.7" opacity="1.00"/>
<path d="M456 937L402 972L514 972Z" fill="url(#refl)"/>
<ellipse cx="457" cy="957" rx="9" ry="6" fill="#c8d0e8" opacity="0.35"/>
<path d="M456.0 935.0C451.3 932.7 437.8 927.3 428.0 921.0C418.2 914.7 406.5 904.7 397.2 897.2C387.9 889.7 378.6 881.8 372.0 876.2C365.4 870.6 362.1 868.0 357.6 863.6C353.1 859.2 349.1 854.9 344.8 850.0C340.5 845.1 336.1 840.0 332.0 834.0C327.9 828.0 323.9 821.3 320.0 814.0C316.1 806.7 311.6 796.0 308.8 790.0C306.1 784.0 305.1 783.0 303.5 778.0C301.9 773.0 300.4 766.3 299.5 760.0C298.6 753.7 298.0 746.7 298.0 740.0C298.0 733.3 298.3 726.3 299.5 720.0C300.7 713.7 302.4 707.8 305.0 702.0C307.6 696.2 310.8 690.3 315.0 685.0C319.2 679.7 324.2 674.6 330.0 670.0C335.8 665.4 343.3 660.6 350.0 657.5C356.7 654.4 363.3 652.8 370.0 651.5C376.7 650.2 382.5 649.4 390.0 649.5C397.5 649.6 406.6 650.5 415.0 652.0C423.4 653.5 434.2 658.5 440.4 658.8C446.6 659.1 448.6 655.0 452.0 654.0C455.4 653.0 457.9 652.4 461.0 652.8C464.1 653.2 467.8 655.0 470.4 656.4C473.0 657.8 475.4 660.4 476.4 661.2C478.0 660.6 481.4 658.8 486.0 657.5C490.6 656.2 495.0 654.1 504.0 653.2C513.0 652.3 530.7 651.4 540.0 652.2C549.3 653.0 553.3 655.2 560.0 658.0C566.7 660.8 573.3 664.3 580.0 669.0C586.7 673.7 595.0 680.8 600.0 686.0C605.0 691.2 607.3 694.3 610.0 700.0C612.7 705.7 614.7 713.3 616.0 720.0C617.3 726.7 618.0 732.7 618.0 740.0C618.0 747.3 617.4 756.0 616.0 764.0C614.6 772.0 612.8 780.0 609.6 788.0C606.4 796.0 601.6 804.3 596.8 812.0C592.0 819.7 586.9 826.9 580.8 834.4C574.7 841.9 567.5 849.6 560.0 856.8C552.5 864.0 542.7 872.0 536.0 877.6C529.3 883.2 522.7 888.3 520.0 890.4L456 935Z" fill="url(#rg)" stroke="#c07e66" stroke-width="1.1"/>
<path d="M439.2 675.6C436.0 674.0 428.2 668.5 420.0 666.0C411.8 663.5 398.3 661.0 390.0 660.5C381.7 660.0 376.7 661.5 370.0 663.0C363.3 664.5 356.7 666.3 350.0 669.5C343.3 672.7 335.5 677.2 330.0 682.0C324.5 686.8 320.3 691.7 317.0 698.0C313.7 704.3 311.4 713.0 310.0 720.0C308.6 727.0 308.5 734.2 308.5 740.0C308.5 745.8 309.2 750.3 310.0 755.0C310.8 759.7 311.5 762.2 313.0 768.0C314.5 773.8 316.3 783.0 319.2 790.0C322.1 797.0 326.4 803.6 330.4 810.0C334.4 816.4 338.9 822.7 343.2 828.4C347.5 834.1 351.9 839.8 356.0 844.4C360.1 849.0 364.0 852.3 368.0 856.0C372.0 859.7 375.3 862.3 380.0 866.5C384.7 870.7 390.3 875.9 396.0 881.0C401.7 886.1 407.2 892.1 414.0 897.2C420.8 902.4 433.0 909.5 436.8 911.9L439.2 911.9L439.2 675.6Z" fill="#fff" stroke="#f4dcd0" stroke-width="4"/>
<path d="M439.2 675.6C436.0 674.0 428.2 668.5 420.0 666.0C411.8 663.5 398.3 661.0 390.0 660.5C381.7 660.0 376.7 661.5 370.0 663.0C363.3 664.5 356.7 666.3 350.0 669.5C343.3 672.7 335.5 677.2 330.0 682.0C324.5 686.8 320.3 691.7 317.0 698.0C313.7 704.3 311.4 713.0 310.0 720.0C308.6 727.0 308.5 734.2 308.5 740.0C308.5 745.8 309.2 750.3 310.0 755.0C310.8 759.7 311.5 762.2 313.0 768.0C314.5 773.8 316.3 783.0 319.2 790.0C322.1 797.0 326.4 803.6 330.4 810.0C334.4 816.4 338.9 822.7 343.2 828.4C347.5 834.1 351.9 839.8 356.0 844.4C360.1 849.0 364.0 852.3 368.0 856.0C372.0 859.7 375.3 862.3 380.0 866.5C384.7 870.7 390.3 875.9 396.0 881.0C401.7 886.1 407.2 892.1 414.0 897.2C420.8 902.4 433.0 909.5 436.8 911.9L439.2 911.9L439.2 675.6Z" fill="none" stroke="#d0a08c" stroke-width="0.8"/>
<path d="M554.5 659.7C558.5 661.7 571.0 666.9 578.2 671.7C585.4 676.4 592.9 683.3 597.7 688.2C602.5 693.2 604.6 696.0 607.1 701.4C609.6 706.8 611.6 714.2 612.9 720.6C614.1 727.1 614.8 732.9 614.8 740.0C614.8 747.1 614.2 755.6 612.8 763.4C611.5 771.3 609.8 779.0 606.6 786.8C603.5 794.6 598.8 802.7 594.1 810.3C589.4 817.9 584.4 825.0 578.3 832.4C572.3 839.7 565.2 847.4 557.8 854.5C550.4 861.6 540.5 869.6 533.9 875.1C527.3 880.7 525.8 882.4 518.2 887.8C510.5 893.1 493.2 904.1 488.2 907.3" fill="none" stroke="#f9e2d4" stroke-width="2.4" opacity="0.9"/>
<path d="M553.9 660.9C557.8 662.9 570.3 668.2 577.4 672.9C584.6 677.6 591.9 684.4 596.7 689.2C601.4 694.1 603.3 696.7 605.8 702.0C608.3 707.3 610.2 714.6 611.5 720.9C612.7 727.2 613.4 733.0 613.4 740.0C613.4 747.0 612.8 755.5 611.4 763.2C610.1 770.9 608.4 778.6 605.3 786.3C602.2 794.0 597.5 802.0 592.9 809.6C588.2 817.1 583.2 824.1 577.2 831.5C571.2 838.8 564.1 846.4 556.8 853.5C549.4 860.6 539.6 868.5 533.0 874.0C526.4 879.6 524.9 881.3 517.3 886.6C509.7 892.0 492.4 902.9 487.5 906.1" fill="none" stroke="#c99482" stroke-width="0.8" opacity="0.9"/>
<path d="M439.2 676V912" stroke="#d8a088" stroke-width="1"/>
<path d="M474 677.4L483 672.6L483 912L474 917Z" fill="#fff"/>
<path d="M474 677.4L477.5 675.5333333333333L477.5 915.0555555555555L474 917Z" fill="#c99078"/>
<path d="M475.6 677.4V917" stroke="#e8c0ac" stroke-width="0.7"/>
<path d="M517.8 661.5L526.8 661.2L526.8 879L517.8 884Z" fill="#fff"/>
<path d="M517.8 661.5L521.3 661.3833333333333L521.3 882.0555555555555L517.8 884Z" fill="#c99078"/>
<path d="M519.4 661.5V884" stroke="#e8c0ac" stroke-width="0.7"/>
<path d="M563 673.5L570.5 673L570.5 836L563 842.4Z" fill="#fff"/>
<path d="M563 673.5L566.5 673.2666666666667L566.5 839.4133333333333L563 842.4Z" fill="#c99078"/>
<path d="M564.6 673.5V842.4" stroke="#e8c0ac" stroke-width="0.7"/>
<path d="M445.8 664.8L450 660L468 659.4L472.8 664.8L459.6 676.8Z" fill="#fff" stroke="#c89078" stroke-width="0.9"/>
<path d="M436.6 601.6L462.3 601.6L460.5 659L449.7 656.5Z" fill="url(#bail)"/>
<path d="M462.3 601.6L470.4 601.6L465.9 652L460.5 659Z" fill="#dc9e84"/>
<path d="M465 603L462.5 655" stroke="#f0c8b4" stroke-width="0.8"/>
<path d="M436.2 590L466.8 589.5Q471 595 467.5 601.6L436.6 601.6Q433.5 596 436.2 590Z" fill="url(#bailtop)"/>
<path d="M449.7 656.5L460.5 659L463.2 663.7L450 662Z" fill="#c47c64"/>
<ellipse cx="458" cy="661.5" rx="3" ry="1.8" fill="#f0c8b4" stroke="#a86450" stroke-width="0.8"/>
<text transform="translate(459.6 881.2) rotate(-90)" x="0" y="0" font-size="20" fill="#000" stroke="#000" stroke-width="0.25" textLength="62.4" lengthAdjust="spacingAndGlyphs">Name 1</text>
<text transform="translate(505.4 839.6) rotate(-90)" x="0" y="0" font-size="20" fill="#000" stroke="#000" stroke-width="0.25" textLength="64" lengthAdjust="spacingAndGlyphs">Name 2</text>
<text transform="translate(550.6 804.4) rotate(-90)" x="0" y="0" font-size="20" fill="#000" stroke="#000" stroke-width="0.25" textLength="64" lengthAdjust="spacingAndGlyphs">Name 3</text>
<text transform="translate(599.8 767) rotate(-90)" x="0" y="0" font-size="20" fill="#000" stroke="#000" stroke-width="0.25" textLength="61.6" lengthAdjust="spacingAndGlyphs">Name 4</text>
<circle cx="456" cy="909.1" r="12.4" fill="#e2ac94" stroke="#9c6a58" stroke-width="0.9"/>
<circle cx="456" cy="909.1" r="11" fill="none" stroke="#f2d2c2" stroke-width="0.8"/>
<circle cx="456" cy="909.1" r="10.3" fill="url(#gb)"/>
<path d="M457.0 910.3L465.5 909.6L462.4 916.1Z" fill="#7080c8" opacity="0.45"/>
<path d="M457.0 910.8L461.4 916.9L454.3 918.5Z" fill="#101438" opacity="0.35"/>
<path d="M455.9 910.9L457.8 918.4L450.7 917.0Z" fill="#7080c8" opacity="0.45"/>
<path d="M457.6 907.6L448.9 915.4L446.5 908.5Z" fill="#101438" opacity="0.35"/>
<path d="M455.0 909.3L446.5 909.2L449.2 902.5Z" fill="#7080c8" opacity="0.45"/>
<path d="M454.1 908.0L449.5 902.2L456.3 899.6Z" fill="#101438" opacity="0.35"/>
<path d="M457.7 910.2L455.2 899.6L462.1 901.8Z" fill="#7080c8" opacity="0.45"/>
<path d="M457.2 907.7L461.7 901.5L465.4 907.8Z" fill="#101438" opacity="0.35"/>
<circle cx="456" cy="909.1" r="5" fill="none" stroke="#7080c8" stroke-width="0.8" opacity="0.5"/>
<circle cx="453" cy="905.1" r="1.6" fill="#fff" opacity="0.35"/>
<circle cx="500" cy="883" r="12.4" fill="#e2ac94" stroke="#9c6a58" stroke-width="0.9"/>
<circle cx="500" cy="883" r="11" fill="none" stroke="#f2d2c2" stroke-width="0.8"/>
<circle cx="500" cy="883" r="10.3" fill="url(#gr)"/>
<path d="M498.5 881.0L509.5 883.4L506.4 890.0Z" fill="#f05868" opacity="0.45"/>
<path d="M498.8 881.9L505.6 890.6L498.6 892.4Z" fill="#5a0810" opacity="0.35"/>
<path d="M501.5 882.2L498.2 892.3L492.1 888.3Z" fill="#f05868" opacity="0.45"/>
<path d="M500.2 883.7L492.2 888.4L490.7 881.3Z" fill="#5a0810" opacity="0.35"/>
<path d="M501.8 883.8L490.6 884.1L492.5 877.1Z" fill="#f05868" opacity="0.45"/>
<path d="M501.6 882.2L494.6 875.2L501.8 873.7Z" fill="#5a0810" opacity="0.35"/>
<path d="M498.7 881.6L499.5 873.5L506.3 875.9Z" fill="#f05868" opacity="0.45"/>
<path d="M499.2 883.4L505.5 875.2L509.4 881.4Z" fill="#5a0810" opacity="0.35"/>
<circle cx="500" cy="883" r="5" fill="none" stroke="#f05868" stroke-width="0.8" opacity="0.5"/>
<circle cx="497" cy="879" r="1.6" fill="#fff" opacity="0.35"/>
<circle cx="543.5" cy="843.8" r="12.4" fill="#e2ac94" stroke="#9c6a58" stroke-width="0.9"/>
<circle cx="543.5" cy="843.8" r="11" fill="none" stroke="#f2d2c2" stroke-width="0.8"/>
<circle cx="543.5" cy="843.8" r="10.3" fill="url(#gb)"/>
<path d="M544.2 843.2L552.8 841.9L551.4 849.1Z" fill="#7080c8" opacity="0.45"/>
<path d="M544.8 843.7L550.7 850.0L544.2 853.3Z" fill="#101438" opacity="0.35"/>
<path d="M543.4 844.6L544.2 853.3L537.3 851.0Z" fill="#7080c8" opacity="0.45"/>
<path d="M545.4 841.9L538.1 851.6L534.1 845.5Z" fill="#101438" opacity="0.35"/>
<path d="M544.9 841.9L534.0 842.9L537.5 836.4Z" fill="#7080c8" opacity="0.45"/>
<path d="M543.0 844.1L537.6 836.4L544.6 834.4Z" fill="#101438" opacity="0.35"/>
<path d="M541.7 842.5L541.6 834.5L548.8 835.9Z" fill="#7080c8" opacity="0.45"/>
<path d="M542.3 844.8L551.3 838.4L552.8 845.5Z" fill="#101438" opacity="0.35"/>
<circle cx="543.5" cy="843.8" r="5" fill="none" stroke="#7080c8" stroke-width="0.8" opacity="0.5"/>
<circle cx="540.5" cy="839.8" r="1.6" fill="#fff" opacity="0.35"/>
<circle cx="588.6" cy="786.4" r="12.4" fill="#e2ac94" stroke="#9c6a58" stroke-width="0.9"/>
<circle cx="588.6" cy="786.4" r="11" fill="none" stroke="#f2d2c2" stroke-width="0.8"/>
<circle cx="588.6" cy="786.4" r="10.3" fill="url(#gr)"/>
<path d="M590.4 785.8L598.0 788.0L594.1 794.2Z" fill="#f05868" opacity="0.45"/>
<path d="M588.7 787.5L595.7 792.7L589.2 795.9Z" fill="#5a0810" opacity="0.35"/>
<path d="M589.6 787.6L590.1 795.8L583.0 794.1Z" fill="#f05868" opacity="0.45"/>
<path d="M586.7 788.2L581.0 792.1L579.2 785.0Z" fill="#5a0810" opacity="0.35"/>
<path d="M588.0 786.8L579.2 787.9L580.9 780.9Z" fill="#f05868" opacity="0.45"/>
<path d="M588.0 788.1L583.1 778.7L590.2 777.0Z" fill="#5a0810" opacity="0.35"/>
<path d="M587.8 785.7L588.8 776.9L595.4 779.8Z" fill="#f05868" opacity="0.45"/>
<path d="M586.9 785.0L594.4 778.9L598.0 785.2Z" fill="#5a0810" opacity="0.35"/>
<circle cx="588.6" cy="786.4" r="5" fill="none" stroke="#f05868" stroke-width="0.8" opacity="0.5"/>
<circle cx="585.6" cy="782.4" r="1.6" fill="#fff" opacity="0.35"/>
<g stroke="#111" stroke-width="1.3" fill="none"><path d="M581 786.5H739.4V738.4"/><path d="M541 842.6H685.4"/><path d="M497 884.8H638.2"/><path d="M456 911.4H613.6V940.4"/></g>
<g fill="#111"><circle cx="739.4" cy="738.4" r="2.6"/><circle cx="685.4" cy="843.2" r="2.6"/><circle cx="638" cy="884.8" r="2.6"/><circle cx="613.6" cy="940.4" r="2.6"/></g>
<text x="694.6" y="721" class="st">Stone 4</text>
<text x="698" y="851" class="st">Stone 3</text>
<text x="650" y="893" class="st">Stone 2</text>
<text x="570.6" y="965.4" class="st">Stone 1</text>
</svg>
</body></html>
